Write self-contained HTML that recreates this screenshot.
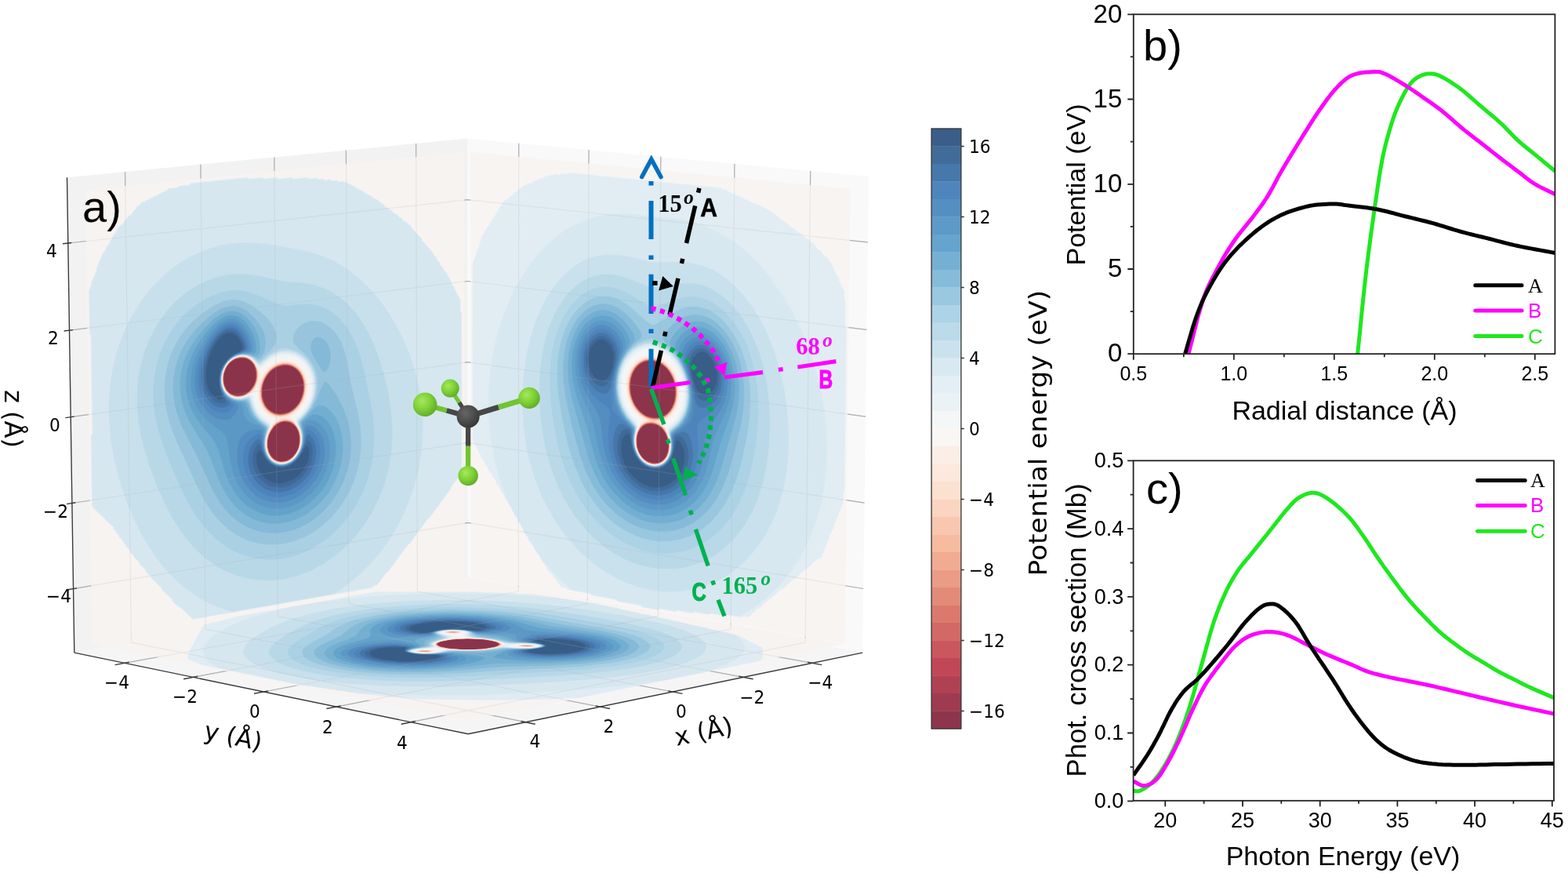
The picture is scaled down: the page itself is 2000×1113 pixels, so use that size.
<!DOCTYPE html>
<html><head><meta charset="utf-8"><title>figure</title>
<style>html,body{margin:0;padding:0;background:#fff;}svg{display:block}</style></head>
<body><svg xmlns="http://www.w3.org/2000/svg" width="2000" height="1113" viewBox="0 0 2000 1113">
<rect width="2000" height="1113" fill="#fff"/>
<path d="M85.5,226.2 L596.1,176.5 L596.8,742.5 L94.8,832.1Z" fill="#f2f2f2" />
<path d="M596.1,176.5 L1108.0,224.9 L1100.2,832.1 L596.8,742.5Z" fill="#f9f9f9" />
<path d="M94.8,832.1 L597.2,935.8 L1100.2,832.1 L596.8,742.5Z" fill="#f5f5f5" />
<path d="M532.4,754.0 L530.6,182.9 M93.5,750.7 L596.7,666.3 M661.3,754.0 L661.7,182.7 M596.7,666.3 L1101.2,750.5 M532.4,754.0 L1035.9,845.3 M661.3,754.0 L158.9,845.4 M444.6,769.7 L441.4,191.5 M91.9,641.5 L596.6,564.3 M749.3,769.6 L751.0,191.1 M596.6,564.3 L1102.6,641.1 M444.6,769.7 L948.2,863.4 M749.3,769.6 L246.4,863.4 M354.5,785.7 L349.8,200.5 M90.2,531.7 L596.5,461.7 M839.5,785.7 L842.8,199.8 M596.5,461.7 L1104.1,531.1 M354.5,785.7 L858.1,882.0 M839.5,785.7 L336.3,882.0 M262.2,802.2 L255.9,209.6 M88.5,421.2 L596.3,358.5 M932.1,802.2 L936.9,208.7 M596.3,358.5 L1105.5,420.3 M262.2,802.2 L765.5,901.1 M932.1,802.2 L428.9,901.1 M167.5,819.1 L159.5,219.0 M86.8,310.0 L596.2,254.7 M1027.2,819.1 L1033.7,217.9 M596.2,254.7 L1106.9,308.9 M167.5,819.1 L670.4,920.7 M1027.2,819.1 L524.0,920.7" stroke="#b0b0b0" stroke-width="1.2" fill="none"/>
<g stroke-width="0.8" stroke-linejoin="round">
<path fill="#8a334a" stroke="#8a334a" d="M365.5,587.6 357.5,588.6 355.9,587.4 353.6,587.4 352.7,586.5 350.8,585.9 344.6,579.7 344.2,577.6 342.8,575.9 342.3,572.2 341.2,570.5 341.3,561.1 342.4,559.1 342.7,555.3 346.0,548.9 350.6,543.0 352.3,542.3 353.9,540.4 357.1,539.6 359.9,537.9 363.3,537.4 365.1,538.2 369.3,538.4 373.1,540.9 374.7,541.3 376.4,543.0 378.2,546.4 379.5,547.7 379.9,549.9 381.3,551.5 381.8,558.9 381.4,568.3 378.3,576.2 373.4,582.6 371.8,583.2 370.6,584.8 367.1,586.2ZM368.2,525.7 353.8,527.7 352.2,526.5 349.4,526.3 345.8,523.8 344.2,523.4 340.7,520.0 337.7,515.3 337.1,513.0 335.8,511.3 335.4,507.6 334.4,506.2 334.1,504.0 334.2,494.6 335.3,492.6 335.6,488.8 337.0,486.7 337.4,484.3 342.2,476.5 347.0,471.9 353.8,467.5 366.1,465.6 369.4,466.9 371.6,467.0 372.6,468.0 374.2,468.3 380.6,473.2 384.0,478.4 384.3,480.3 385.4,481.4 386.0,485.6 387.0,487.3 387.2,489.2 387.1,498.8 386.1,500.5 385.6,505.0 384.5,506.4 384.2,508.3 382.4,512.0 377.7,518.6 376.1,519.5 372.6,523.0 369.8,524.0ZM310.1,503.8 301.4,504.8 300.3,503.7 296.8,503.6 295.4,502.2 292.1,500.6 290.5,499.0 288.8,497.1 288.5,495.3 287.2,493.9 286.8,491.7 285.5,489.6 285.2,478.6 285.4,476.5 286.6,474.7 286.9,472.2 288.1,470.7 288.4,468.7 293.4,462.2 295.0,461.6 296.2,460.1 298.3,459.4 299.9,457.6 311.3,456.1 312.9,457.3 315.6,457.6 318.1,459.1 324.3,465.7 324.6,467.7 326.0,469.9 326.5,478.7 326.1,485.5 322.9,492.8 318.1,498.9 316.5,499.4 315.3,501.0 311.7,502.4Z"/>
<path fill="#9c384d" stroke="#9c384d" d="M365.5,587.7 357.5,588.8 355.9,587.8 352.8,587.5 350.4,586.0 344.6,580.0 343.0,576.9 341.1,570.5 341.2,560.4 342.0,559.2 342.8,554.7 346.0,548.6 350.3,543.0 353.9,540.2 357.1,539.1 358.7,538.0 363.5,537.2 370.0,538.3 374.7,541.1 377.9,544.6 381.4,551.5 382.5,560.7 381.3,569.7 378.1,576.7 373.4,582.8 371.8,583.6 370.2,585.2ZM366.2,587.3 367.1,586.2 370.2,585.0 371.8,583.2 373.6,582.5 378.1,576.5 378.7,574.3 379.7,573.0 380.3,570.3 381.4,568.3 381.9,560.8 381.3,551.5 379.9,549.9 379.5,547.7 378.2,546.4 376.4,543.0 374.7,541.3 373.1,540.9 369.3,538.4 365.1,538.2 363.3,537.4 361.9,537.5 359.9,537.9 357.1,539.6 353.9,540.4 352.3,542.3 350.7,542.8 344.4,551.4 344.1,553.3 342.7,555.3 342.4,559.1 341.2,561.2 341.2,570.5 342.3,572.2 342.8,575.9 344.2,577.6 344.6,579.7 350.8,585.9 352.7,586.5 353.6,587.4 355.9,587.4 357.5,588.6ZM368.2,525.9 360.2,527.6 353.8,528.0 349.0,526.5 344.2,523.7 340.4,520.1 337.7,515.9 335.6,511.4 333.9,504.1 334.0,494.7 335.4,488.8 339.0,480.8 342.2,476.2 348.9,470.1 353.3,467.5 359.7,466.0 366.1,465.4 372.2,466.9 377.4,469.9 380.6,472.9 385.4,480.9 387.4,489.2 387.1,499.8 385.6,505.6 382.6,512.2 377.7,518.9 373.0,523.1ZM368.8,525.4 369.8,524.0 372.6,523.0 376.1,519.5 377.7,518.6 381.1,514.3 384.0,508.8 384.5,506.4 385.8,504.3 386.1,500.5 387.2,498.5 387.0,487.3 386.0,485.6 385.6,481.9 384.3,480.3 383.8,478.0 379.1,471.6 374.6,468.5 372.6,468.0 371.6,467.0 369.4,466.9 366.1,465.6 354.9,467.1 351.8,469.2 349.5,470.0 342.2,476.5 337.4,484.3 337.0,486.7 335.6,488.8 335.3,492.6 334.2,494.6 334.4,506.2 335.4,507.6 335.8,511.3 337.1,513.0 337.7,515.3 340.7,520.0 344.2,523.4 345.8,523.8 349.4,526.3 352.2,526.5 353.8,527.7 361.8,526.9ZM310.1,504.0 300.8,504.9 298.7,503.9 297.0,503.9 295.4,502.5 293.8,502.2 290.5,499.2 288.7,497.1 285.4,490.0 285.1,478.7 285.3,476.0 286.3,474.7 288.2,468.8 293.4,462.0 299.9,457.5 311.2,455.9 316.3,457.5 320.3,460.7 324.3,465.4 324.9,467.7 326.1,469.4 327.0,478.7 326.2,486.3 322.9,493.2 318.1,499.2ZM310.8,503.5 311.7,502.4 314.9,501.3 316.5,499.4 318.1,498.9 322.9,492.8 326.1,485.5 326.5,478.7 326.0,469.9 324.6,467.7 324.3,465.7 318.1,459.1 315.6,457.6 312.9,457.3 311.3,456.1 299.9,457.6 298.3,459.4 296.2,460.1 295.0,461.6 293.4,462.2 288.4,468.7 288.1,470.7 286.9,472.2 286.6,474.7 285.4,476.5 285.2,478.6 285.5,489.6 286.8,491.7 287.2,493.9 288.5,495.3 288.8,497.1 291.9,500.5 295.4,502.2 296.8,503.6 300.3,503.7 301.4,504.8Z"/>
<path fill="#ad3e50" stroke="#ad3e50" d="M367.1,587.3 357.5,588.9 352.7,587.6 350.1,586.0 347.9,584.3 344.6,580.3 343.0,577.4 340.9,570.6 341.0,561.2 342.4,555.4 344.4,550.8 350.7,542.4 353.9,540.0 358.7,537.8 361.9,537.1 365.1,537.0 369.9,538.0 373.1,539.7 376.3,542.4 378.1,544.6 381.1,550.3 382.8,558.1 382.8,562.0 381.7,568.2 379.7,574.2 374.0,582.4ZM366.9,587.2 373.4,582.8 378.5,576.2 381.3,569.7 382.4,558.8 381.1,550.7 380.2,549.8 379.9,548.0 377.9,544.6 376.3,542.6 374.7,541.1 369.9,538.2 364.6,537.2 361.9,537.3 358.7,538.0 357.1,539.1 353.9,540.2 352.3,541.8 350.7,542.6 344.4,551.1 343.8,553.3 342.5,555.4 342.0,559.2 341.1,561.2 341.1,570.5 343.0,576.9 344.6,580.0 350.4,586.0 352.8,587.5 355.9,587.8 357.5,588.8ZM369.8,525.3 368.2,526.1 360.2,528.1 353.8,528.2 348.4,526.4 343.5,523.4 338.9,518.4 336.0,513.2 333.9,506.0 333.7,496.6 334.2,492.7 336.7,484.9 340.0,478.8 343.8,474.2 348.5,470.0 353.3,467.2 359.7,465.6 367.7,465.3 372.6,466.8 377.4,469.6 381.1,473.2 383.8,477.1 386.0,481.9 387.4,487.3 387.6,498.5 386.2,504.3 384.0,509.9 381.6,514.2 377.7,519.2 373.0,523.3ZM369.3,525.3 373.0,523.1 377.7,518.9 381.4,514.3 384.0,509.3 386.0,504.3 387.4,498.5 387.0,486.4 385.4,480.9 382.2,475.0 379.0,471.2 375.0,468.4 372.2,466.9 366.1,465.4 354.9,466.9 348.9,470.1 343.8,474.4 340.3,478.8 337.4,483.9 335.4,488.8 334.0,494.7 333.9,502.2 334.4,507.2 336.0,512.6 339.1,518.4 343.7,523.3 348.7,526.4 353.8,528.0 361.8,527.4ZM311.7,503.5 301.9,505.2 297.1,504.0 293.8,502.3 288.5,497.1 285.5,490.7 285.0,488.1 285.0,476.8 288.5,468.0 292.8,462.5 295.2,460.3 299.9,457.3 306.4,456.0 312.9,456.0 316.5,457.4 320.7,460.7 324.3,465.1 326.2,469.4 327.4,476.7 326.4,486.3 324.5,490.9 318.9,498.6ZM311.6,503.4 318.7,498.7 324.5,490.5 326.2,486.3 327.0,476.8 326.1,469.4 324.9,467.7 324.3,465.4 320.3,460.7 316.3,457.5 311.2,455.9 299.9,457.5 293.0,462.5 288.5,468.2 286.9,471.7 286.3,474.7 285.2,476.8 285.0,482.5 285.4,490.0 286.6,491.7 287.2,494.3 288.1,495.3 288.8,497.3 293.7,502.1 295.4,502.5 297.0,503.9 298.7,503.9 301.9,505.1Z"/>
<path fill="#c04454" stroke="#c04454" d="M367.1,587.5 362.3,588.7 357.5,589.1 352.7,587.8 349.8,586.1 346.2,582.9 343.0,577.9 340.8,570.6 340.7,563.1 341.2,559.3 342.8,554.0 346.0,548.0 349.8,543.1 353.9,539.7 358.7,537.6 361.9,536.9 365.1,536.8 369.9,537.7 375.4,541.2 378.3,544.5 381.1,549.9 382.8,556.9 382.8,563.4 381.4,570.1 379.7,574.5 374.2,582.4 371.7,584.6ZM367.4,587.1 374.0,582.4 379.7,574.2 381.7,568.2 382.8,562.0 382.8,558.1 381.1,550.3 378.1,544.6 376.3,542.4 373.1,539.7 369.9,538.0 365.1,537.0 361.9,537.1 358.7,537.8 353.9,540.0 350.7,542.4 344.4,550.8 342.4,555.4 341.0,561.2 340.9,570.6 343.0,577.4 344.6,580.3 348.0,584.5 352.5,587.5 357.5,588.9 363.9,588.2ZM361.8,528.3 353.8,528.4 349.0,527.0 344.2,524.2 340.9,521.2 337.6,516.7 335.1,511.4 333.7,506.0 333.5,496.6 335.0,488.9 336.5,484.9 339.8,478.8 343.8,473.9 348.5,469.8 353.3,467.0 359.7,465.3 366.1,464.9 372.5,466.5 375.8,468.3 379.0,470.7 382.7,474.9 385.5,480.1 387.3,485.5 387.8,489.1 387.9,496.6 387.4,500.4 385.6,506.7 383.1,512.2 378.7,518.4 374.0,522.8 369.8,525.5ZM369.9,525.2 373.0,523.3 377.7,519.2 381.6,514.2 384.0,509.9 386.2,504.3 387.6,498.5 387.4,487.3 386.0,481.9 383.8,477.1 381.1,473.2 377.4,469.6 372.6,466.8 367.7,465.3 359.7,465.6 353.3,467.2 348.5,470.0 343.8,474.2 340.0,478.8 336.7,484.9 334.2,492.7 333.7,496.6 333.9,506.0 336.0,513.2 338.9,518.4 343.5,523.4 348.4,526.4 353.8,528.2 360.2,528.1 368.2,526.1ZM311.7,503.7 301.9,505.4 297.1,504.2 293.8,502.5 288.4,497.2 285.5,491.2 284.9,488.2 284.9,476.8 286.9,470.8 288.5,467.7 292.5,462.5 295.0,460.2 299.9,457.2 306.4,455.7 312.9,455.8 316.8,457.4 321.0,460.6 324.9,465.8 326.4,469.3 327.6,475.5 327.7,479.7 326.5,486.3 324.5,491.2 319.2,498.6 316.5,500.9ZM312.1,503.3 318.9,498.6 324.5,490.9 326.4,486.3 327.4,476.7 326.2,469.4 324.3,465.1 320.7,460.7 316.5,457.4 312.9,456.0 306.4,456.0 299.9,457.3 295.2,460.3 292.8,462.5 288.5,468.0 285.0,476.8 285.0,488.1 285.5,490.7 288.5,497.1 293.8,502.3 297.1,504.0 301.9,505.2 310.1,504.1Z"/>
<path fill="#c8545b" stroke="#c8545b" d="M367.1,587.6 362.3,588.9 357.5,589.2 352.7,588.0 349.5,586.1 346.0,582.9 343.0,578.2 340.7,570.6 340.6,563.1 341.1,559.3 342.8,553.6 346.0,547.7 349.5,543.1 353.9,539.5 358.7,537.3 361.9,536.6 365.1,536.5 369.9,537.5 373.1,539.2 375.6,541.2 378.4,544.5 381.1,549.5 382.9,556.9 382.8,564.5 381.6,570.1 379.7,574.7 374.4,582.3 371.8,584.7ZM367.8,587.1 374.2,582.4 379.9,574.1 381.4,570.1 382.8,563.4 382.8,556.9 381.1,549.9 378.3,544.5 375.4,541.2 369.9,537.7 365.1,536.8 361.9,536.9 358.7,537.6 353.9,539.7 349.8,543.1 346.0,548.0 342.8,554.0 341.2,559.3 340.7,563.1 340.8,570.6 342.9,577.7 344.6,580.7 347.9,584.6 352.2,587.6 356.1,588.8 359.1,589.0 365.5,588.0ZM363.4,528.2 358.6,528.9 352.2,528.3 345.8,525.6 340.9,521.6 337.3,516.7 334.4,509.6 333.3,504.2 333.3,496.6 334.8,488.9 336.3,484.9 339.5,478.9 343.7,473.6 348.5,469.5 353.3,466.7 359.7,464.9 366.1,464.7 372.5,466.3 375.8,468.0 379.0,470.4 382.9,474.8 385.7,480.1 387.5,485.4 388.0,489.1 388.1,496.5 386.1,506.1 383.3,512.1 380.6,516.2 377.7,519.7 373.0,523.8 368.2,526.6ZM362.6,528.1 368.2,526.4 373.0,523.6 379.3,517.6 383.1,512.2 385.8,506.2 387.9,496.6 387.8,489.1 387.3,485.5 385.5,480.1 382.7,474.9 379.0,470.7 375.8,468.3 372.5,466.5 366.1,464.9 359.7,465.3 353.3,467.0 348.5,469.8 343.8,473.9 339.8,478.8 336.5,484.9 335.0,488.9 333.5,496.6 333.7,506.0 335.1,511.4 337.6,516.7 340.9,521.2 345.8,525.3 352.2,528.1 358.6,528.6ZM311.7,503.9 306.8,505.1 302.0,505.5 297.1,504.4 293.8,502.7 288.2,497.2 285.5,491.6 284.7,488.2 284.4,482.6 284.8,476.8 286.7,470.9 288.5,467.5 292.3,462.5 295.0,460.0 299.9,457.0 306.4,455.5 312.9,455.7 317.0,457.4 321.0,460.4 325.0,465.7 326.6,469.3 327.8,474.8 327.8,480.4 326.7,486.2 324.5,491.6 319.5,498.5 316.5,501.1ZM312.6,503.3 319.2,498.6 324.5,491.2 326.5,486.3 327.7,479.7 327.6,475.5 326.4,469.3 324.9,465.8 321.0,460.6 316.8,457.4 312.9,455.8 306.4,455.7 299.9,457.2 295.0,460.2 292.5,462.5 288.5,467.7 286.9,470.8 284.9,476.8 284.9,488.2 285.5,491.2 288.4,497.2 293.8,502.5 297.1,504.2 301.9,505.4 310.1,504.3Z"/>
<path fill="#d06764" stroke="#d06764" d="M368.7,586.9 365.5,588.4 359.1,589.4 355.9,589.1 351.7,587.6 347.9,585.0 344.6,581.2 342.6,577.8 340.6,570.6 340.4,563.2 340.9,559.3 342.7,553.5 346.0,547.4 349.3,543.1 352.3,540.4 357.1,537.7 361.9,536.4 365.1,536.3 369.9,537.3 373.1,538.9 375.8,541.2 378.6,544.5 381.1,549.1 383.1,556.9 383.0,564.3 381.7,570.1 380.2,574.0 378.1,577.7 374.6,582.3ZM368.3,587.0 374.4,582.3 378.1,577.5 380.1,574.1 381.6,570.1 382.8,564.3 382.9,556.9 381.1,549.5 378.4,544.5 375.6,541.2 373.1,539.2 369.9,537.5 365.1,536.5 361.9,536.6 358.7,537.3 353.9,539.5 349.5,543.1 346.0,547.7 342.8,553.6 341.1,559.3 340.6,563.1 340.7,570.6 343.0,578.2 346.0,582.9 349.5,586.1 352.7,588.0 357.5,589.2 363.9,588.6ZM365.0,528.0 360.2,529.1 353.8,528.9 349.0,527.5 344.2,524.8 340.9,521.9 337.0,516.8 334.1,509.7 333.0,502.3 333.2,494.8 334.6,488.9 336.9,483.0 340.8,476.8 345.3,471.8 351.7,467.3 358.1,464.9 362.9,464.3 367.7,464.6 372.5,466.0 377.4,468.8 380.4,471.4 383.1,474.8 386.0,480.0 387.7,485.4 388.4,490.9 388.2,498.4 387.4,502.2 384.6,510.1 382.5,513.9 379.2,518.3 374.6,522.9 369.8,526.1ZM364.6,527.8 368.2,526.6 373.0,523.8 377.7,519.7 382.1,514.2 384.4,510.1 387.2,502.3 388.0,498.4 388.1,490.9 387.5,485.4 385.7,480.1 382.9,474.8 380.1,471.5 377.4,469.0 372.5,466.3 367.7,464.8 361.3,464.7 354.9,466.2 351.7,467.6 345.3,472.1 341.0,476.8 337.2,482.9 334.8,488.9 333.4,494.7 333.2,502.3 333.8,507.8 335.5,513.2 339.3,519.7 344.2,524.5 349.0,527.3 353.8,528.6 360.2,528.8ZM313.3,503.3 308.4,505.0 302.0,505.7 295.4,503.8 292.1,501.6 288.8,498.3 287.0,495.5 284.9,490.1 284.2,482.6 284.7,476.8 286.6,470.9 288.5,467.3 292.1,462.6 295.0,459.9 299.9,456.9 304.7,455.4 312.9,455.5 316.1,456.7 319.6,458.9 323.0,462.3 325.2,465.7 326.8,469.3 328.0,474.8 327.7,482.3 325.5,490.2 321.3,496.8 318.1,500.0ZM313.0,503.2 319.5,498.5 322.9,494.3 325.3,490.2 326.7,486.2 327.7,481.2 327.8,474.8 326.6,469.3 325.0,465.7 322.8,462.3 319.4,458.9 316.1,456.9 312.9,455.7 304.7,455.7 299.9,457.0 295.0,460.0 292.3,462.5 288.5,467.5 286.7,470.9 284.8,476.8 284.4,484.4 285.0,490.0 287.2,495.4 288.8,498.0 292.1,501.4 295.6,503.7 302.0,505.5 310.1,504.5Z"/>
<path fill="#d8776b" stroke="#d8776b" d="M368.7,587.1 365.5,588.5 359.1,589.5 355.9,589.3 351.5,587.7 347.9,585.2 344.4,581.3 342.5,577.8 340.4,570.6 340.2,565.1 340.8,559.4 342.5,553.5 345.7,547.4 349.1,543.0 352.3,540.1 357.1,537.5 361.9,536.2 365.1,536.1 369.9,537.1 373.1,538.6 376.3,541.4 378.8,544.5 381.5,549.7 383.2,556.8 383.1,564.3 381.9,570.1 380.3,574.0 378.1,578.0 374.8,582.3ZM368.7,586.9 374.6,582.3 378.1,577.7 380.2,574.0 381.7,570.1 383.0,564.3 383.1,556.9 381.1,549.1 378.6,544.5 375.8,541.2 373.1,538.9 369.9,537.3 365.1,536.3 361.9,536.4 357.1,537.7 352.3,540.4 349.3,543.1 346.0,547.4 342.7,553.5 340.9,559.3 340.4,563.2 340.6,570.6 342.6,577.8 344.6,581.2 347.9,585.0 351.7,587.6 355.9,589.1 359.1,589.4 365.5,588.4ZM366.6,527.7 361.8,529.1 357.0,529.4 352.2,528.8 345.8,526.2 340.6,521.9 336.8,516.8 333.9,509.7 332.9,504.2 332.9,496.7 333.8,490.9 336.7,483.0 340.5,476.9 343.7,473.0 348.5,468.9 353.3,466.3 361.3,464.1 369.3,464.6 375.7,467.4 379.0,469.8 383.4,474.8 386.2,480.0 387.9,485.4 388.4,489.0 388.6,494.6 388.1,500.3 386.5,506.1 383.8,512.1 380.9,516.6 376.1,521.8 371.4,525.4ZM365.9,527.7 369.8,526.1 376.1,521.6 380.9,516.2 383.6,512.1 386.3,506.1 387.9,500.3 388.4,494.6 388.2,489.0 387.7,485.4 386.0,480.0 383.1,474.8 379.0,470.1 375.7,467.7 369.3,464.9 361.3,464.4 353.3,466.5 348.5,469.2 343.7,473.3 340.6,477.1 336.9,483.0 334.6,488.9 333.2,494.8 333.1,504.2 334.1,509.7 337.0,516.8 340.9,521.9 344.2,524.8 349.0,527.5 353.8,528.9 360.2,529.1ZM313.3,503.5 310.1,504.8 303.6,505.8 300.3,505.7 295.4,504.0 292.1,501.8 288.8,498.5 286.9,495.5 284.7,490.1 284.0,482.6 284.5,476.8 286.5,470.9 288.5,467.0 291.9,462.6 295.0,459.7 299.9,456.7 304.7,455.2 308.0,454.9 312.9,455.3 316.1,456.5 319.4,458.5 323.2,462.2 325.4,465.7 327.9,472.9 328.2,480.4 327.1,486.2 325.7,490.2 321.4,497.1 316.5,501.5ZM313.5,503.1 318.1,500.0 321.3,496.8 325.5,490.2 327.7,482.3 328.0,474.8 326.8,469.3 325.2,465.7 323.0,462.3 319.6,458.9 316.1,456.7 312.9,455.5 304.7,455.4 299.9,456.9 295.0,459.9 292.1,462.6 288.5,467.3 286.6,470.9 284.7,476.8 284.2,482.6 284.9,490.1 287.0,495.5 288.8,498.3 292.1,501.6 295.4,503.8 302.0,505.7 308.4,505.0Z"/>
<path fill="#e08876" stroke="#e08876" d="M368.7,587.3 363.9,589.1 359.1,589.7 355.9,589.4 351.2,587.7 347.9,585.4 344.3,581.3 342.4,577.8 340.3,570.7 340.0,565.1 340.6,559.4 342.4,553.5 345.5,547.4 349.1,542.7 352.3,539.9 357.1,537.2 361.9,536.0 366.7,536.0 369.9,536.8 373.1,538.4 376.3,541.2 379.0,544.4 381.7,549.6 383.4,556.8 383.3,564.3 382.0,570.0 380.5,574.0 378.3,578.0 375.0,582.3ZM369.0,586.9 374.8,582.3 378.1,578.0 380.3,574.0 381.9,570.1 383.1,564.3 383.2,556.8 381.5,549.7 378.8,544.5 376.3,541.4 373.1,538.6 369.9,537.1 365.1,536.1 361.9,536.2 357.1,537.5 352.3,540.1 349.1,543.0 345.7,547.4 342.5,553.5 340.8,559.4 340.2,565.1 340.4,570.6 342.5,577.8 344.4,581.3 347.9,585.2 351.5,587.7 355.9,589.3 359.1,589.5 365.5,588.5ZM366.6,528.0 360.2,529.6 355.4,529.6 350.6,528.7 347.4,527.4 342.6,524.2 338.8,520.3 335.6,515.1 333.6,509.7 332.5,502.4 332.5,498.6 333.5,491.0 336.4,483.0 340.1,476.9 345.3,471.2 350.1,467.7 356.5,464.8 361.3,463.8 367.7,464.1 372.5,465.4 375.7,467.1 380.6,470.9 384.8,476.5 386.5,480.0 388.1,485.3 388.9,490.8 388.7,496.4 387.9,502.2 386.0,508.0 382.9,514.0 379.3,519.0 374.6,523.5ZM367.0,527.5 371.4,525.4 376.1,521.8 380.9,516.6 383.8,512.1 386.5,506.1 388.1,500.3 388.6,494.6 388.4,489.0 387.9,485.4 386.2,480.0 383.4,474.8 379.0,469.8 375.7,467.4 369.3,464.6 361.3,464.1 353.3,466.3 348.5,468.9 343.7,473.0 340.5,476.9 336.7,483.0 333.8,490.9 332.9,496.7 332.9,504.2 333.9,509.7 336.8,516.8 340.6,521.9 345.8,526.2 352.2,528.8 357.0,529.4 361.8,529.1ZM313.3,503.7 308.5,505.4 303.6,506.0 300.3,505.8 295.4,504.2 292.1,502.0 288.8,498.7 286.7,495.5 284.6,490.1 283.8,482.6 284.4,476.9 286.3,470.9 288.5,466.8 291.7,462.6 295.0,459.5 299.9,456.6 304.7,455.0 308.0,454.7 312.9,455.2 316.1,456.3 319.4,458.3 321.9,460.5 324.5,463.9 326.4,467.4 328.1,472.9 328.5,476.6 328.2,482.3 326.7,488.1 324.9,492.1 319.7,499.1ZM313.9,503.1 318.1,500.2 321.4,497.1 325.7,490.2 327.1,486.2 328.2,480.4 327.9,472.9 325.4,465.7 323.2,462.2 319.4,458.5 316.1,456.5 312.9,455.3 308.0,454.9 304.7,455.2 299.9,456.7 295.0,459.7 291.9,462.6 288.5,467.0 286.5,470.9 284.5,476.8 284.0,482.6 284.7,490.1 286.9,495.5 288.8,498.5 292.1,501.8 295.4,504.0 300.3,505.7 303.6,505.8 310.1,504.8Z"/>
<path fill="#e89984" stroke="#e89984" d="M368.7,587.5 363.9,589.3 359.1,589.9 355.9,589.6 351.1,587.8 347.9,585.6 344.1,581.3 342.2,577.9 340.2,570.7 339.9,565.1 340.5,559.4 342.2,553.5 345.3,547.5 349.1,542.4 352.3,539.6 357.1,537.0 361.9,535.8 366.7,535.7 369.9,536.6 373.1,538.1 376.3,540.9 379.1,544.4 381.1,548.0 382.4,551.4 383.5,556.8 383.4,564.3 382.1,570.0 380.6,574.0 378.5,578.0 375.2,582.2 371.8,585.4ZM369.4,586.8 375.0,582.3 378.3,578.0 380.5,574.0 382.0,570.0 383.3,564.3 383.1,555.0 381.7,549.6 380.0,546.1 374.7,539.6 371.5,537.5 368.3,536.4 361.9,536.0 357.1,537.2 352.3,539.9 349.1,542.7 345.5,547.4 342.4,553.5 340.6,559.4 340.0,565.1 340.3,570.7 342.4,577.8 344.3,581.3 347.9,585.4 351.2,587.7 355.9,589.4 359.1,589.7 365.5,588.7ZM368.2,527.6 361.8,529.6 355.4,529.9 350.6,529.0 344.2,525.8 339.9,522.0 336.3,516.9 333.9,511.6 332.4,504.3 332.2,498.7 333.3,491.0 336.1,483.1 339.8,476.9 343.7,472.3 350.1,467.3 356.5,464.5 361.3,463.5 366.1,463.5 370.9,464.5 375.7,466.8 379.7,469.7 382.8,473.0 386.0,478.2 388.0,483.5 389.0,489.0 389.2,494.5 388.2,502.1 386.3,508.0 384.4,512.0 381.9,516.1 377.7,521.0 374.6,523.8ZM368.0,527.4 371.4,525.7 376.1,522.1 379.3,519.0 382.9,514.0 386.0,508.0 387.9,502.2 388.7,496.4 388.9,490.8 388.1,485.3 386.5,480.0 384.8,476.5 380.6,470.9 375.7,467.1 372.5,465.4 367.7,464.1 361.3,463.8 356.5,464.8 350.1,467.7 345.3,471.2 340.1,476.9 336.4,483.0 333.5,491.0 332.5,498.6 332.7,504.2 333.6,509.7 336.5,516.9 340.2,522.0 345.8,526.5 350.6,528.7 357.0,529.7 363.4,529.0ZM306.8,506.0 302.0,506.2 298.7,505.6 293.8,503.4 290.5,500.8 287.6,497.3 285.0,491.9 283.8,486.4 283.6,482.7 284.3,476.9 286.2,470.9 288.3,466.9 291.5,462.6 295.0,459.4 298.2,457.2 303.1,455.3 308.0,454.5 312.9,455.0 316.1,456.2 319.4,458.1 322.7,461.1 324.7,463.9 327.3,469.2 328.3,472.8 328.8,478.4 328.4,482.2 326.9,488.1 325.2,492.1 322.5,496.2 316.5,501.9 311.7,504.6ZM314.4,503.0 318.1,500.4 321.4,497.4 325.9,490.1 327.3,486.2 328.4,480.4 328.1,472.9 326.4,467.4 324.5,463.9 321.9,460.5 319.4,458.3 316.1,456.3 312.9,455.2 308.0,454.7 304.7,455.0 299.9,456.6 295.0,459.5 291.7,462.6 288.5,466.8 286.3,470.9 284.4,476.9 283.8,482.6 284.6,490.1 286.7,495.5 288.8,498.7 292.1,502.0 295.4,504.2 300.3,505.8 305.2,505.9 310.1,505.0Z"/>
<path fill="#efa890" stroke="#efa890" d="M362.3,589.8 357.5,590.0 352.7,588.8 348.4,586.3 345.2,583.0 342.1,577.9 340.8,574.3 339.9,568.9 339.8,563.2 340.3,559.4 342.0,553.6 345.1,547.5 349.1,542.0 352.3,539.3 357.1,536.7 361.9,535.5 366.7,535.5 371.5,536.9 374.7,539.0 379.3,544.4 382.0,549.6 383.0,553.2 383.7,562.4 381.6,572.0 379.8,576.0 376.6,580.9 371.8,585.6 368.7,587.6ZM369.8,586.8 373.4,584.0 376.6,580.7 380.6,574.0 382.1,570.0 383.4,564.3 383.3,555.0 381.8,549.6 380.2,546.1 374.7,539.4 371.5,537.2 368.3,536.0 365.1,535.6 360.3,536.1 355.5,537.6 352.3,539.6 347.5,544.2 344.1,549.5 341.5,555.5 340.1,561.3 339.9,567.0 340.5,572.5 342.2,577.9 345.3,583.0 348.6,586.2 352.7,588.6 355.9,589.6 360.7,589.8 365.5,588.8ZM368.2,528.0 361.8,529.9 355.4,530.3 349.0,528.7 344.2,526.2 339.6,522.1 337.0,518.7 333.6,511.6 332.1,504.3 332.0,496.8 333.5,489.1 336.8,481.1 339.4,477.0 343.7,471.9 350.1,467.0 354.9,464.7 361.3,463.2 366.1,463.2 370.9,464.2 377.3,467.4 380.1,469.6 383.1,472.9 386.3,478.1 388.2,483.5 389.3,488.9 389.3,496.4 388.4,502.1 384.7,511.9 382.2,516.0 377.7,521.4 373.0,525.3ZM368.9,527.2 374.6,523.8 377.7,521.0 381.9,516.1 384.4,512.0 386.3,508.0 388.2,502.1 389.2,494.5 389.0,489.0 388.0,483.5 386.0,478.2 382.8,473.0 379.7,469.7 375.7,466.8 370.9,464.5 366.1,463.5 361.3,463.5 356.5,464.5 350.1,467.3 343.7,472.3 339.8,476.9 336.1,483.1 333.3,491.0 332.2,498.7 332.4,504.3 333.9,511.6 336.3,516.9 339.9,522.0 344.2,525.8 350.6,529.0 355.4,529.9 361.8,529.6ZM308.5,505.8 303.6,506.4 298.7,505.8 293.8,503.6 290.5,501.0 287.4,497.3 284.9,492.0 283.7,486.4 283.5,482.7 284.2,476.9 286.0,471.0 288.2,466.9 291.3,462.7 295.0,459.2 298.2,457.1 303.1,455.1 308.0,454.3 312.9,454.8 316.1,456.0 319.4,457.8 322.6,460.8 326.8,467.4 328.5,472.8 329.0,478.4 328.7,482.2 327.2,488.1 325.5,492.1 322.8,496.2 319.8,499.6 316.5,502.1 313.3,504.1ZM306.9,505.9 311.7,504.6 316.5,501.9 322.5,496.2 325.2,492.1 326.9,488.1 328.4,482.2 328.8,478.4 328.3,472.8 327.3,469.2 324.7,463.9 322.7,461.1 319.4,458.1 316.1,456.2 312.9,455.0 308.0,454.5 303.1,455.3 298.2,457.2 295.0,459.4 291.5,462.6 288.3,466.9 286.2,470.9 284.3,476.9 283.6,482.7 283.8,486.4 285.0,491.9 287.6,497.3 290.5,500.8 293.8,503.4 298.7,505.6 302.0,506.2Z"/>
<path fill="#f4b89e" stroke="#f4b89e" d="M363.9,589.6 360.7,590.2 355.9,589.9 351.1,588.2 347.9,586.0 344.6,582.6 341.9,577.9 340.2,572.5 339.6,567.0 340.2,559.4 341.9,553.6 344.4,548.4 347.5,543.6 350.7,540.2 353.9,537.9 358.7,535.9 363.5,535.0 368.3,535.4 371.5,536.6 374.7,538.6 377.9,542.0 382.2,549.6 383.6,554.9 383.9,560.5 382.4,570.0 380.9,573.9 378.2,578.9 375.0,582.9 371.8,585.7 368.7,587.8ZM362.8,589.7 367.1,588.4 370.3,586.6 373.4,584.2 377.2,580.1 381.6,572.0 383.7,562.4 383.0,553.2 382.0,549.6 379.3,544.4 374.7,539.0 371.5,536.9 366.7,535.5 361.9,535.5 357.1,536.7 352.3,539.3 349.1,542.0 345.1,547.5 342.0,553.6 340.3,559.4 339.8,563.2 339.9,568.9 340.8,574.3 342.1,577.9 345.2,583.0 348.4,586.3 352.7,588.8 357.5,590.0ZM361.8,530.2 355.4,530.6 349.0,529.1 344.2,526.6 339.2,522.1 335.6,517.0 333.3,511.7 331.7,504.4 331.7,496.9 333.2,489.1 335.5,483.2 339.0,477.0 343.7,471.5 348.5,467.6 354.9,464.3 359.7,463.2 366.1,462.8 372.5,464.4 377.3,466.9 382.0,471.2 384.7,474.6 387.3,479.8 388.9,485.2 389.7,490.7 389.7,496.3 388.2,504.0 386.9,507.9 385.1,511.9 380.9,518.3 377.7,521.8 373.0,525.7 368.2,528.4ZM369.8,527.1 373.0,525.3 377.7,521.4 382.2,516.0 384.7,511.9 387.9,504.0 389.1,498.3 389.5,492.6 389.0,487.1 386.3,478.1 383.1,472.9 378.9,468.6 374.1,465.5 370.9,464.2 366.1,463.2 359.7,463.4 353.3,465.4 346.9,469.1 342.1,473.6 338.0,479.1 334.9,485.1 333.0,491.0 331.9,498.7 332.3,506.2 333.6,511.6 337.0,518.7 340.9,523.5 345.8,527.2 350.6,529.3 357.0,530.3 363.4,529.6ZM310.1,505.5 305.2,506.6 300.3,506.3 295.4,504.8 292.1,502.7 288.8,499.5 286.2,495.6 284.2,490.2 283.4,484.6 283.7,478.9 285.1,473.0 286.9,469.0 290.1,463.9 293.4,460.4 298.2,456.9 303.1,454.9 308.0,454.2 312.9,454.7 316.1,455.8 319.4,457.6 322.5,460.4 325.2,463.8 327.0,467.4 328.8,472.8 329.1,476.5 328.6,484.1 326.7,490.0 324.5,494.1 321.4,498.3 318.1,501.2 313.3,504.3ZM308.9,505.7 313.3,504.1 318.1,500.9 321.4,498.0 324.3,494.1 327.2,488.1 328.3,484.1 328.9,476.5 328.5,472.8 326.8,467.4 325.0,463.9 322.3,460.5 319.4,457.8 316.1,456.0 312.9,454.8 308.0,454.3 303.1,455.1 298.2,457.1 293.5,460.5 290.1,464.1 286.9,469.1 284.6,474.9 283.6,480.8 283.5,484.6 284.3,490.1 286.4,495.5 288.8,499.2 292.1,502.5 295.4,504.6 300.3,506.2 305.2,506.4Z"/>
<path fill="#f6c4ad" stroke="#f6c4ad" d="M365.5,589.3 360.7,590.3 355.9,590.1 351.1,588.4 347.9,586.2 344.6,582.8 341.8,577.9 340.1,572.6 339.4,567.0 340.0,559.5 341.7,553.6 343.5,549.6 347.5,543.3 350.7,539.8 353.9,537.5 358.7,535.4 363.5,534.6 369.9,535.5 373.1,537.0 376.3,539.8 379.5,544.0 381.6,547.8 383.4,553.1 384.0,558.6 383.1,568.0 381.9,571.9 379.0,577.9 373.4,584.6 368.7,588.0ZM364.5,589.4 368.7,587.8 371.8,585.7 375.0,582.9 378.8,578.0 382.4,570.0 383.7,564.2 383.9,558.6 383.6,554.9 382.2,549.6 380.6,546.1 376.3,540.2 373.1,537.5 369.9,535.9 363.5,535.0 358.7,535.9 353.9,537.9 350.7,540.2 347.5,543.6 344.4,548.4 341.9,553.6 340.2,559.4 339.6,567.0 340.2,572.5 341.9,577.9 344.6,582.6 347.9,586.0 351.1,588.2 355.9,589.9 360.7,590.2ZM365.0,529.9 358.7,531.0 352.2,530.5 347.4,528.9 342.6,525.9 338.7,522.2 335.2,517.0 332.0,508.1 331.3,502.6 331.6,495.0 333.4,487.2 336.1,481.2 340.1,475.0 345.3,469.5 351.7,465.3 356.5,463.5 362.9,462.5 367.7,462.6 372.5,463.9 375.7,465.4 381.0,469.5 385.1,474.5 387.7,479.8 389.3,485.2 390.0,490.7 389.8,498.2 388.0,505.9 386.5,509.8 383.1,515.9 379.3,520.7 374.6,525.0 369.8,528.0ZM362.7,530.0 368.2,528.4 373.0,525.7 377.7,521.8 381.1,518.0 385.1,511.9 387.6,505.9 389.1,500.1 389.8,494.4 389.3,487.0 388.0,481.6 386.6,478.1 383.5,472.9 378.9,468.2 375.7,465.9 370.9,463.8 366.1,462.8 359.7,463.2 354.9,464.3 348.5,467.6 343.7,471.5 337.7,479.1 334.6,485.2 332.3,493.0 331.6,498.8 332.0,506.2 333.9,513.5 336.6,518.7 340.8,523.8 345.8,527.6 352.2,530.1 357.0,530.6ZM310.1,505.8 305.2,506.8 300.3,506.5 295.4,505.0 292.1,502.9 288.9,499.7 286.1,495.6 284.1,490.2 283.3,484.6 283.6,478.9 285.0,473.0 286.7,469.0 290.1,463.7 293.4,460.3 298.2,456.8 303.1,454.8 308.0,454.0 312.9,454.5 316.1,455.6 319.4,457.4 322.8,460.4 325.4,463.8 327.2,467.3 328.6,470.9 329.4,476.5 328.4,486.0 327.1,490.0 323.6,496.1 318.2,501.5 313.3,504.5ZM310.2,505.5 313.3,504.3 318.1,501.2 321.4,498.3 324.5,494.1 326.7,490.0 328.6,484.1 329.1,476.5 328.8,472.8 327.0,467.4 325.2,463.8 322.5,460.4 319.4,457.6 316.1,455.8 312.9,454.7 308.0,454.2 303.1,454.9 298.2,456.9 293.4,460.4 290.1,463.9 286.9,469.0 285.1,473.0 283.7,478.9 283.4,484.6 284.2,490.2 286.2,495.6 288.8,499.5 292.1,502.7 295.4,504.8 300.3,506.3 305.2,506.6Z"/>
<path fill="#f8d2be" stroke="#f8d2be" d="M365.5,589.5 360.7,590.5 355.9,590.3 351.1,588.6 347.8,586.4 344.6,583.1 341.6,577.9 339.9,572.6 339.2,567.1 339.6,561.4 340.8,555.6 343.3,549.6 347.5,542.7 350.7,539.4 353.9,537.1 358.7,535.0 363.5,534.2 366.7,534.3 371.5,535.7 376.3,539.5 380.0,544.3 381.8,547.7 383.5,553.1 384.2,558.6 383.3,568.0 382.1,571.9 379.2,577.9 373.4,584.8 370.3,587.2ZM365.5,589.3 368.7,588.0 373.4,584.6 379.0,577.9 381.9,571.9 383.1,568.0 384.0,558.6 383.4,553.1 381.6,547.8 379.5,544.0 376.3,539.8 373.1,537.0 369.9,535.5 363.5,534.6 358.7,535.4 353.9,537.5 350.7,539.8 347.5,543.3 343.5,549.6 341.7,553.6 340.0,559.5 339.4,567.0 340.1,572.6 341.8,577.9 344.6,582.8 347.9,586.2 351.1,588.4 355.9,590.1 360.7,590.3ZM366.6,529.9 358.7,531.6 352.2,531.0 347.4,529.5 342.6,526.5 336.8,520.6 333.8,515.4 331.9,510.0 330.9,502.6 331.5,493.1 333.0,487.3 336.7,479.2 338.9,475.8 342.1,472.0 348.5,466.7 353.3,464.1 361.3,462.0 367.7,462.2 372.5,463.5 377.3,465.9 381.6,469.4 384.4,472.8 388.2,479.7 389.7,485.1 390.4,490.6 389.5,501.9 387.8,507.8 384.9,513.8 380.9,519.5 377.7,522.9 371.4,527.7ZM365.8,529.5 369.8,528.0 376.2,523.7 383.1,515.9 386.5,509.8 388.0,505.9 389.8,498.2 390.0,490.7 389.3,485.2 387.7,479.8 385.1,474.5 381.0,469.5 375.7,465.4 372.5,463.9 367.7,462.6 361.3,462.5 354.9,464.0 348.5,467.1 343.7,471.0 338.5,477.1 335.0,483.2 332.9,489.2 331.4,496.9 331.4,504.4 332.4,509.9 335.2,517.0 338.7,522.2 342.6,525.9 349.0,529.6 353.8,530.8 360.3,530.9ZM311.7,505.4 306.8,506.8 302.0,506.9 297.1,505.8 292.1,503.1 288.9,500.0 285.9,495.6 284.4,492.0 283.3,486.5 283.2,480.8 284.2,475.0 286.6,469.0 289.1,464.9 291.7,461.6 296.6,457.6 301.5,455.1 306.4,453.9 309.6,453.8 314.5,454.7 317.7,456.1 321.3,458.7 324.4,462.1 326.6,465.5 328.9,470.9 329.9,476.4 328.8,486.0 325.4,494.0 323.0,497.5 319.8,500.6 314.9,503.9ZM311.1,505.4 318.2,501.5 321.9,498.2 325.0,494.0 328.4,486.0 329.4,476.5 328.6,470.9 327.2,467.3 325.4,463.8 322.6,460.3 319.4,457.4 314.5,454.9 309.6,454.0 306.4,454.1 301.5,455.3 296.6,457.7 291.7,461.8 289.2,464.8 286.7,469.0 284.4,475.0 283.3,480.8 283.4,486.5 284.6,492.0 286.1,495.6 288.9,499.7 292.1,502.9 295.4,505.0 300.3,506.5 305.2,506.8Z"/>
<path fill="#fbdecd" stroke="#fbdecd" d="M365.5,589.7 360.7,590.7 355.9,590.4 351.1,588.8 347.6,586.4 344.5,583.1 341.5,578.0 340.2,574.4 339.1,567.1 339.4,561.4 340.6,555.6 343.1,549.7 347.5,542.2 350.7,538.8 355.5,535.6 360.3,534.2 365.1,533.7 368.3,534.0 373.1,536.1 376.3,539.0 379.1,542.6 382.0,547.7 383.3,551.3 384.3,560.4 383.4,568.0 382.2,571.9 379.3,577.9 373.4,585.0 370.3,587.4ZM366.3,589.2 370.3,587.2 373.4,584.8 379.2,577.9 382.1,571.9 383.3,568.0 384.2,558.6 383.5,553.1 381.8,547.7 380.0,544.3 376.3,539.5 371.5,535.7 366.7,534.3 363.5,534.2 358.7,535.0 353.9,537.1 350.7,539.4 347.5,542.7 343.3,549.6 340.8,555.6 339.6,561.4 339.2,567.1 339.9,572.6 341.6,577.9 344.6,583.1 347.9,586.4 351.1,588.6 355.9,590.3 360.7,590.5ZM368.2,529.9 361.9,531.7 355.5,532.1 349.0,530.7 344.2,528.4 339.0,524.0 335.1,518.9 331.9,511.9 330.5,504.5 330.4,497.0 331.8,489.3 334.9,481.4 338.8,475.2 343.7,469.7 350.1,465.0 356.5,462.3 361.3,461.4 366.1,461.3 370.9,462.2 377.3,465.2 380.5,467.7 385.0,472.7 388.0,477.9 389.8,483.2 390.8,488.7 391.0,494.3 390.0,501.9 386.6,511.7 382.9,517.8 377.8,523.6 373.0,527.3ZM367.9,529.3 371.4,527.7 377.7,522.9 380.9,519.5 384.9,513.8 387.8,507.8 389.5,501.9 390.4,490.6 389.7,485.1 388.2,479.7 384.4,472.8 381.6,469.4 377.3,465.9 372.5,463.5 367.7,462.2 361.3,462.0 353.3,464.1 348.5,466.7 342.1,472.0 338.0,477.2 334.6,483.3 331.9,491.2 330.9,498.8 331.3,506.3 333.1,513.6 335.7,518.8 339.7,523.9 344.2,527.7 350.6,530.6 357.1,531.6 363.5,530.9ZM311.7,505.6 306.8,507.0 302.0,507.2 297.1,506.1 292.2,503.4 288.9,500.3 285.8,495.6 284.3,492.0 283.1,486.5 283.0,480.8 284.1,475.0 286.4,469.0 288.9,464.9 291.7,461.4 296.6,457.4 301.5,455.0 306.4,453.8 309.6,453.6 314.5,454.5 317.7,455.9 321.6,458.7 324.7,462.0 326.9,465.5 328.6,469.0 330.1,474.5 330.3,480.1 329.7,484.0 328.7,487.9 325.9,493.9 323.0,498.0 319.8,501.1ZM311.9,505.2 318.2,501.9 321.4,499.2 325.4,494.0 328.8,486.0 329.9,476.4 328.9,470.9 326.6,465.5 324.4,462.1 321.3,458.7 317.7,456.1 314.5,454.7 309.6,453.8 306.4,453.9 301.5,455.1 296.6,457.6 291.7,461.6 289.1,464.9 286.6,469.0 284.2,475.0 283.2,480.8 283.3,486.5 284.4,492.0 286.9,497.4 290.5,501.7 293.8,504.2 298.7,506.4 303.6,507.0 308.5,506.5Z"/>
<path fill="#f9e6da" stroke="#f9e6da" d="M367.1,589.2 363.9,590.3 359.1,590.9 352.7,589.7 349.5,588.0 346.3,585.5 343.1,581.5 341.3,578.0 339.6,572.6 338.9,567.1 339.2,561.5 340.4,555.7 342.9,549.7 347.5,541.6 350.7,537.9 353.9,535.7 356.7,534.6 356.3,532.8 352.3,532.5 349.0,531.6 344.2,529.3 341.0,527.0 336.6,522.5 333.3,517.3 331.8,513.8 330.3,508.3 329.6,500.9 330.2,493.3 331.7,487.5 335.2,479.5 340.5,471.9 345.3,467.4 351.7,463.3 359.7,460.9 364.5,460.6 369.3,461.0 375.7,463.3 380.5,466.5 383.2,469.2 385.9,472.6 389.5,479.5 391.0,484.9 391.7,492.3 391.1,499.8 389.7,505.6 385.2,515.6 380.9,521.3 376.2,525.9 369.8,530.0 365.8,531.4 366.4,533.2 369.9,533.7 374.7,536.4 379.3,542.5 382.2,547.7 383.4,551.2 384.5,558.5 383.6,568.0 380.7,575.8 375.0,583.7 370.3,587.6ZM367.0,589.1 370.3,587.4 375.0,583.5 380.5,575.9 382.2,571.9 383.8,566.1 384.2,556.7 383.7,553.1 382.0,547.7 380.2,544.3 376.3,539.0 371.5,535.1 366.7,533.8 363.5,533.8 355.5,535.6 350.7,538.8 347.5,542.2 343.1,549.7 340.6,555.6 339.4,561.4 339.1,567.1 340.2,574.4 342.3,579.7 344.5,583.1 347.9,586.7 352.7,589.5 357.5,590.6 362.3,590.5ZM369.8,529.0 373.0,527.3 377.8,523.6 382.9,517.8 386.6,511.7 390.0,501.9 391.0,494.3 390.8,488.7 389.8,483.2 388.0,477.9 385.0,472.7 380.5,467.7 377.3,465.2 370.9,462.2 364.5,461.2 359.7,461.6 354.9,462.8 346.9,467.1 342.1,471.3 336.1,479.3 333.1,485.4 331.4,491.3 330.3,498.9 330.7,506.4 331.9,511.9 335.1,518.9 339.0,524.0 344.2,528.4 350.6,531.2 357.1,532.2 365.0,531.0ZM313.3,505.1 308.5,506.9 303.6,507.5 298.7,506.8 293.8,504.7 290.5,502.2 286.6,497.4 284.2,492.1 283.0,486.5 282.9,480.9 284.0,475.0 286.2,469.0 288.7,464.9 291.7,461.2 296.6,457.2 301.5,454.8 306.3,453.6 311.2,453.6 314.5,454.3 321.0,457.8 325.0,462.0 327.2,465.5 329.6,470.8 330.6,474.4 330.4,483.9 328.6,489.8 326.7,493.8 323.0,498.9 319.8,501.5ZM312.7,505.1 316.5,503.2 321.4,499.7 325.9,493.9 328.7,487.9 329.7,484.0 330.3,480.1 330.1,474.5 328.6,469.0 326.9,465.5 324.7,462.0 321.6,458.7 317.7,455.9 314.5,454.5 309.6,453.6 306.4,453.8 301.5,455.0 296.6,457.4 291.7,461.4 288.9,464.9 286.4,469.0 284.1,475.0 283.0,480.8 283.1,486.5 284.3,492.0 286.7,497.4 290.5,502.0 293.8,504.5 298.7,506.6 303.6,507.3 308.5,506.7Z"/>
<path fill="#f8ece4" stroke="#f8ece4" d="M367.1,589.4 363.9,590.5 359.1,591.1 352.7,589.9 349.5,588.3 346.3,585.7 344.1,583.2 341.1,578.0 339.4,572.7 338.7,567.1 339.0,561.5 340.2,555.7 341.7,551.7 347.5,540.4 350.7,536.7 353.1,535.1 351.4,533.5 345.8,531.7 341.0,528.7 336.5,524.4 334.0,521.0 330.6,513.9 329.2,508.5 328.5,502.9 328.8,495.4 328.1,493.6 324.6,498.4 321.4,501.2 311.7,506.2 305.2,507.6 300.3,507.4 293.8,505.0 288.9,500.9 285.5,495.7 283.5,490.3 282.7,484.7 283.0,479.0 284.4,473.1 287.2,467.0 290.2,462.8 295.0,458.2 299.8,455.3 304.7,453.7 311.2,453.4 316.1,454.6 321.0,457.5 325.3,461.9 330.3,470.7 331.6,474.3 332.1,481.8 332.5,482.4 334.9,477.6 337.8,473.4 345.3,465.9 353.3,461.3 361.3,459.3 366.1,459.2 370.9,460.0 377.3,462.7 380.5,464.9 384.7,469.0 389.2,475.9 391.2,481.2 392.8,490.3 392.5,497.8 390.9,505.5 387.7,513.4 383.8,519.5 380.9,523.0 376.2,527.4 370.7,530.7 370.0,532.7 371.4,533.0 374.7,535.4 380.7,544.2 382.4,547.7 383.6,551.2 384.6,556.6 384.1,566.0 381.8,573.8 378.2,580.2 373.4,585.4ZM367.6,589.0 370.3,587.6 375.0,583.7 380.7,575.8 383.6,568.0 384.5,558.5 383.4,551.2 382.2,547.7 379.3,542.5 374.7,536.4 369.9,533.7 366.4,533.2 365.8,531.4 369.8,530.0 376.2,525.9 380.9,521.3 385.2,515.6 389.7,505.6 391.1,499.8 391.7,492.3 391.0,484.9 389.5,479.5 385.9,472.6 383.2,469.2 380.5,466.5 375.7,463.3 369.3,461.0 364.5,460.6 359.7,460.9 351.7,463.3 345.3,467.4 339.4,473.2 335.2,479.5 331.7,487.5 329.9,495.2 329.7,502.8 330.3,508.3 331.8,513.8 333.3,517.3 336.6,522.5 341.0,527.0 344.2,529.3 349.0,531.6 352.3,532.5 356.3,532.8 356.7,534.6 353.9,535.7 350.7,537.9 347.5,541.6 342.9,549.7 340.4,555.7 339.2,561.5 338.9,567.1 339.6,572.6 341.3,578.0 343.1,581.5 346.3,585.5 349.5,588.0 352.7,589.7 357.5,590.8 360.7,590.9ZM313.5,505.0 319.8,501.5 323.0,498.9 326.7,493.8 328.6,489.8 330.4,483.9 330.6,474.4 329.6,470.8 327.2,465.5 325.0,462.0 321.0,457.8 314.5,454.3 311.2,453.6 306.3,453.6 301.5,454.8 296.6,457.2 291.7,461.2 288.7,464.9 286.2,469.0 284.0,475.0 282.9,480.9 283.0,486.5 284.2,492.1 286.6,497.4 290.5,502.2 293.8,504.7 298.7,506.8 303.6,507.5 308.5,506.9ZM329.5,491.5 329.4,492.4ZM331.1,485.6 330.9,484.9Z"/>
<path fill="#f7f3f0" stroke="#f7f3f0" d="M591.1,736.4 117.7,820.4 109.3,242.5 591.8,194.3 592.5,736.1ZM476.1,747.7 480.7,746.9 492.9,730.3 494.5,730.0 520.3,694.8 521.8,694.5 545.9,661.5 547.4,661.3 575.9,622.4 575.9,620.6 584.9,608.3 584.9,606.5 589.4,600.4 589.1,397.7 587.6,396.1 587.6,381.5 586.0,379.9 586.0,378.1 583.0,374.8 583.0,373.0 581.5,371.4 581.5,369.5 580.0,367.9 580.0,366.1 577.0,362.8 577.0,361.0 575.5,359.3 575.5,357.5 573.9,355.8 573.9,354.0 570.9,350.7 570.9,348.9 566.4,344.0 566.4,342.1 561.8,337.2 561.8,335.3 557.2,330.4 557.2,328.6 552.6,323.6 552.6,321.7 538.9,306.8 538.9,304.9 525.0,289.9 525.0,288.1 523.5,286.4 522.0,286.5 517.3,281.5 515.8,281.7 511.2,276.6 509.6,276.8 505.0,271.8 503.4,271.9 498.8,266.9 497.2,267.0 494.1,263.7 492.5,263.8 487.9,258.7 486.3,258.9 481.6,253.8 480.1,254.0 478.5,252.3 477.0,252.5 473.8,249.1 472.3,249.2 470.7,247.5 469.1,247.7 467.6,246.0 466.0,246.1 462.9,242.7 461.3,242.9 459.7,241.2 458.1,241.4 456.6,239.7 455.0,239.8 451.8,236.4 450.3,236.6 448.7,234.8 447.1,235.0 445.5,233.3 444.0,233.5 442.4,231.7 439.2,232.1 437.7,230.4 431.3,231.0 429.8,229.3 423.4,229.9 421.8,228.2 413.9,229.0 412.3,227.3 406.0,228.0 404.4,226.2 393.2,227.4 391.6,225.6 374.0,227.4 372.4,225.7 354.7,227.5 353.0,225.7 336.9,227.4 335.2,225.6 317.3,227.4 315.7,225.7 243.2,233.0 241.6,235.1 228.2,236.4 226.6,238.5 214.9,239.7 213.2,241.8 211.5,242.0 209.9,244.1 206.5,244.4 204.9,246.5 201.5,246.9 199.8,249.0 196.5,249.3 194.8,251.4 191.4,251.8 189.8,253.9 186.4,254.2 184.7,256.3 181.3,256.7 178.0,260.9 176.3,261.1 166.3,273.8 164.6,274.0 154.5,286.8 152.8,286.9 147.8,293.3 147.8,295.3 142.8,301.7 142.8,303.6 139.5,307.9 139.5,309.8 134.4,316.3 134.5,318.2 129.4,324.6 129.4,326.6 127.8,328.7 127.8,330.7 126.1,332.8 126.1,334.8 124.4,336.9 124.5,338.9 122.8,341.0 122.8,344.9 121.2,347.0 121.2,349.0 119.5,351.1 119.5,353.1 117.8,355.2 117.9,357.2 116.2,359.3 116.2,363.2 114.5,365.4 114.6,367.3 112.9,369.5 113.7,425.9 115.4,427.7 117.3,553.5 115.6,555.7 116.9,646.2 144.5,672.6 144.5,674.5 148.0,677.8 148.0,679.7 151.4,683.0 151.4,684.9 156.6,689.8 156.6,691.7 160.0,695.0 160.0,696.9 165.2,701.8 165.2,703.7 170.3,708.6 170.3,710.5 177.1,716.9 177.1,718.8 185.6,726.9 185.6,728.8 192.4,735.3 192.4,737.2 205.9,750.0 205.9,751.9 219.3,764.7 219.4,766.6 227.7,774.6 229.4,774.3 246.0,790.1 474.6,749.8ZM368.7,588.8 365.5,590.2 360.7,591.2 357.5,591.2 352.7,590.1 349.5,588.5 346.3,586.0 341.7,579.8 340.2,576.3 338.9,570.9 338.8,561.5 340.7,553.8 346.2,541.7 347.6,535.9 339.4,531.1 336.1,528.2 332.1,523.1 328.0,514.4 326.5,508.9 325.8,503.3 324.9,501.6 321.4,502.1 310.1,507.0 305.2,507.8 300.3,507.6 295.4,506.0 292.2,504.1 288.7,500.9 285.3,495.7 283.3,490.3 282.6,484.7 282.8,479.0 284.2,473.1 287.0,467.0 290.1,462.6 295.0,458.0 299.8,455.1 304.7,453.5 309.6,453.1 316.1,454.4 319.4,456.0 324.2,460.2 330.8,470.2 334.1,473.5 342.1,464.8 350.1,459.5 354.9,457.5 359.7,456.3 364.5,456.0 369.3,456.4 375.7,458.3 382.1,462.2 386.9,466.9 391.3,473.7 393.9,480.8 395.2,488.1 395.1,497.4 393.6,505.1 391.6,511.0 387.2,519.0 382.5,525.0 375.1,531.9 376.8,537.3 381.9,545.9 383.8,551.2 384.9,560.3 383.9,567.9 382.0,573.8 378.2,580.5 373.4,585.6ZM368.1,588.9 373.4,585.4 378.4,579.9 381.8,573.8 384.1,566.0 384.6,556.6 383.6,551.2 382.4,547.7 380.7,544.2 374.7,535.4 371.4,533.0 370.0,532.7 370.7,530.7 376.2,527.4 380.9,523.0 383.8,519.5 387.7,513.4 390.9,505.5 392.5,497.8 392.8,490.3 391.2,481.2 389.2,475.9 384.7,469.0 380.5,464.9 377.3,462.7 370.9,460.0 366.1,459.2 361.3,459.3 353.3,461.3 345.3,465.9 337.8,473.4 334.9,477.6 332.5,482.4 332.1,481.8 331.6,474.3 330.3,470.7 325.3,461.9 321.0,457.5 316.1,454.6 311.2,453.4 304.7,453.7 299.8,455.3 295.0,458.2 290.2,462.8 287.2,467.0 284.4,473.1 283.0,479.0 282.7,484.7 283.5,490.3 285.5,495.7 288.9,500.9 293.8,505.0 300.3,507.4 305.2,507.6 311.7,506.2 321.4,501.2 324.6,498.4 328.1,493.6 328.8,495.4 328.5,502.9 329.2,508.5 330.6,513.9 334.0,521.0 336.5,524.4 341.0,528.7 345.8,531.7 351.4,533.5 353.1,535.1 350.7,536.7 347.5,540.4 341.7,551.7 340.2,555.7 339.0,561.5 338.7,567.1 339.4,572.7 341.1,578.0 344.1,583.2 346.3,585.7 349.5,588.3 352.7,589.9 357.5,591.0 360.7,591.1 363.9,590.5ZM329.4,492.4 329.4,490.6ZM331.0,486.3 330.9,484.9Z"/>
<path fill="#f2f4f5" stroke="#f2f4f5" d="M474.6,749.8 246.0,790.1 229.4,774.3 227.7,774.6 219.4,766.6 219.3,764.7 205.9,751.9 205.9,750.0 192.4,737.2 192.4,735.3 185.6,728.8 185.6,726.9 177.1,718.8 177.1,716.9 170.3,710.5 170.3,708.6 165.2,703.7 165.2,701.8 160.0,696.9 160.0,695.0 156.6,691.7 156.6,689.8 151.4,684.9 151.4,683.0 148.0,679.7 148.0,677.8 144.5,674.5 144.5,672.6 116.9,646.2 115.6,555.7 117.3,553.5 115.4,427.7 113.7,425.9 112.9,369.5 114.6,367.3 114.5,365.4 116.2,363.2 116.2,359.3 117.9,357.2 117.8,355.2 119.5,353.1 119.5,351.1 121.2,349.0 121.2,347.0 122.8,344.9 122.8,341.0 124.5,338.9 124.4,336.9 126.1,334.8 126.1,332.8 127.8,330.7 127.8,328.7 129.4,326.6 129.4,324.6 134.5,318.2 134.4,316.3 139.5,309.8 139.5,307.9 142.8,303.6 142.8,301.7 147.8,295.3 147.8,293.3 152.8,286.9 154.5,286.8 164.6,274.0 166.3,273.8 176.3,261.1 178.0,260.9 181.3,256.7 184.7,256.3 186.4,254.2 189.8,253.9 191.4,251.8 194.8,251.4 196.5,249.3 199.8,249.0 201.5,246.9 204.9,246.5 206.5,244.4 209.9,244.1 211.5,242.0 213.2,241.8 214.9,239.7 226.6,238.5 228.2,236.4 241.6,235.1 243.2,233.0 315.7,225.7 317.3,227.4 335.2,225.6 336.9,227.4 353.0,225.7 354.7,227.5 372.4,225.7 374.0,227.4 391.6,225.6 393.2,227.4 404.4,226.2 406.0,228.0 412.3,227.3 413.9,229.0 421.8,228.2 423.4,229.9 429.8,229.3 431.3,231.0 437.7,230.4 439.2,232.1 442.4,231.7 444.0,233.5 445.5,233.3 447.1,235.0 448.7,234.8 450.3,236.6 451.8,236.4 455.0,239.8 456.6,239.7 458.1,241.4 459.7,241.2 461.3,242.9 462.9,242.7 466.0,246.1 467.6,246.0 469.1,247.7 470.7,247.5 472.3,249.2 473.8,249.1 477.0,252.5 478.5,252.3 480.1,254.0 481.6,253.8 486.3,258.9 487.9,258.7 492.5,263.8 494.1,263.7 497.2,267.0 498.8,266.9 503.4,271.9 505.0,271.8 509.6,276.8 511.2,276.6 515.8,281.7 517.3,281.5 522.0,286.5 523.5,286.4 525.0,288.1 525.0,289.9 538.9,304.9 538.9,306.8 552.6,321.7 552.6,323.6 557.2,328.6 557.2,330.4 561.8,335.3 561.8,337.2 566.4,342.1 566.4,344.0 570.9,348.9 570.9,350.7 573.9,354.0 573.9,355.8 575.5,357.5 575.5,359.3 577.0,361.0 577.0,362.8 580.0,366.1 580.0,367.9 581.5,369.5 581.5,371.4 583.0,373.0 583.0,374.8 586.0,378.1 586.0,379.9 587.6,381.5 587.6,396.1 589.1,397.7 589.4,600.4 584.9,606.5 584.9,608.3 575.9,620.6 575.9,622.4 547.4,661.3 545.9,661.5 521.8,694.5 520.3,694.8 494.5,730.0 492.9,730.3 480.7,746.9 476.1,747.7ZM475.7,747.8 476.1,747.2 480.7,746.4 492.9,729.8 494.5,729.5 520.3,694.3 521.8,694.0 545.9,661.0 547.4,660.8 575.5,622.4 575.5,620.6 584.5,608.4 584.5,606.6 588.9,600.5 588.6,397.8 587.1,396.2 587.1,381.6 585.6,380.0 585.6,378.1 582.6,374.9 582.6,373.0 581.0,371.4 581.0,369.6 579.5,367.9 579.5,366.1 576.5,362.8 576.5,361.0 575.0,359.4 575.0,357.5 573.5,355.9 573.5,354.1 570.4,350.8 570.4,349.0 565.9,344.0 565.9,342.2 561.3,337.2 561.3,335.4 556.8,330.4 556.8,328.6 552.2,323.6 552.2,321.8 538.4,306.8 538.4,305.0 524.6,290.0 524.6,288.1 523.5,287.0 522.0,287.1 517.3,282.1 515.8,282.3 511.2,277.2 509.6,277.4 505.0,272.3 503.4,272.5 498.8,267.4 497.2,267.6 494.1,264.2 492.5,264.4 487.9,259.3 486.3,259.5 481.6,254.4 480.1,254.6 478.5,252.9 477.0,253.0 473.8,249.6 472.3,249.8 470.7,248.1 469.1,248.3 467.6,246.6 466.0,246.7 462.9,243.3 461.3,243.5 459.7,241.8 458.2,241.9 456.6,240.2 455.0,240.4 451.9,237.0 450.3,237.1 448.7,235.4 447.1,235.6 445.5,233.9 444.0,234.0 442.4,232.3 439.2,232.7 437.7,230.9 431.3,231.6 429.8,229.9 423.4,230.5 421.8,228.8 413.9,229.6 412.3,227.9 406.0,228.5 404.4,226.8 393.2,227.9 391.6,226.2 374.0,228.0 372.4,226.3 354.7,228.1 353.0,226.3 336.9,228.0 335.2,226.2 317.3,228.0 315.7,226.3 243.2,233.6 241.6,235.7 228.2,237.0 226.6,239.1 214.9,240.3 213.2,242.4 211.5,242.6 209.9,244.7 206.5,245.0 204.9,247.1 201.5,247.5 199.8,249.6 196.5,249.9 194.8,252.0 191.4,252.4 189.8,254.5 186.4,254.8 184.7,257.0 181.4,257.3 178.0,261.5 176.3,261.7 166.3,274.4 164.6,274.6 154.6,287.4 152.9,287.6 148.4,293.3 148.4,295.2 143.3,301.6 143.4,303.6 140.0,307.8 140.0,309.8 135.0,316.2 135.0,318.1 130.0,324.6 130.0,326.5 128.3,328.7 128.3,330.6 126.6,332.7 126.7,334.7 125.0,336.8 125.0,338.8 123.3,340.9 123.4,344.8 121.7,347.0 121.7,348.9 120.0,351.1 120.1,353.0 118.4,355.2 118.4,357.1 116.7,359.3 116.8,363.2 115.1,365.3 115.1,367.3 113.4,369.4 114.2,425.9 115.9,427.6 117.7,553.5 116.1,555.7 117.4,646.1 145.0,672.5 145.0,674.4 148.4,677.7 148.4,679.6 151.9,682.9 151.9,684.8 157.0,689.7 157.1,691.6 160.5,694.9 160.5,696.8 165.6,701.7 165.6,703.6 170.7,708.5 170.8,710.4 177.6,716.9 177.6,718.8 186.1,726.9 186.1,728.8 192.8,735.2 192.9,737.1 206.3,750.0 206.4,751.8 219.8,764.6 219.8,766.5 227.7,774.1 229.4,773.8 246.0,789.6 474.6,749.3ZM368.7,589.0 365.5,590.4 360.7,591.4 354.3,590.8 347.9,587.6 345.0,584.9 342.5,581.6 340.7,578.1 339.1,572.7 338.5,563.4 339.8,555.8 344.9,543.8 345.2,540.0 344.0,538.3 335.3,532.0 329.7,525.4 326.4,519.3 324.7,514.8 322.6,505.6 321.5,503.9 318.2,504.0 308.5,507.6 303.6,508.1 300.3,507.9 295.4,506.3 290.5,503.0 287.2,499.3 285.1,495.7 283.1,490.3 282.4,484.7 282.7,479.0 284.1,473.1 286.9,467.1 289.7,462.9 293.4,459.1 298.2,455.8 303.1,453.8 308.0,453.0 312.8,453.2 316.1,454.1 319.4,455.7 323.0,458.5 329.2,466.9 330.8,468.5 332.4,468.7 334.0,467.9 343.1,459.6 351.6,454.7 359.6,452.5 369.2,452.4 377.7,455.0 382.8,458.0 388.5,463.2 393.3,470.1 396.5,477.9 398.2,485.8 398.2,497.0 396.7,505.2 393.6,513.7 390.4,519.4 384.9,526.8 379.4,532.2 377.5,535.3 378.2,539.0 382.1,545.8 384.4,553.0 385.1,560.3 384.1,567.9 382.2,573.7 378.2,580.7 373.4,585.8ZM368.7,588.8 373.4,585.6 378.2,580.5 382.0,573.8 383.9,567.9 384.9,560.3 383.8,551.2 381.9,545.9 376.8,537.3 375.1,531.9 382.5,525.0 387.2,519.0 391.6,511.0 393.6,505.1 395.1,497.4 395.2,488.1 393.9,480.8 391.3,473.7 386.9,466.9 382.1,462.2 375.7,458.3 369.3,456.4 364.5,456.0 359.7,456.3 354.9,457.5 350.1,459.5 342.1,464.8 334.1,473.5 330.8,470.2 324.2,460.2 319.4,456.0 316.1,454.4 309.6,453.1 304.7,453.5 299.8,455.1 295.0,458.0 290.1,462.6 287.0,467.0 284.2,473.1 282.8,479.0 282.6,484.7 283.3,490.3 285.3,495.7 288.7,500.9 292.2,504.1 295.4,506.0 300.3,507.6 305.2,507.8 310.1,507.0 321.4,502.1 324.9,501.6 325.8,503.3 326.5,508.9 328.0,514.4 332.1,523.1 336.1,528.2 339.4,531.1 347.6,535.9 346.2,541.7 340.7,553.8 338.8,561.5 338.9,570.9 340.2,576.3 341.7,579.8 346.3,586.0 349.5,588.5 352.7,590.1 357.5,591.2 360.7,591.2 365.5,590.2Z"/>
<path fill="#e8f0f4" stroke="#e8f0f4" d="M474.6,749.3 246.0,789.6 229.4,773.8 227.7,774.1 219.8,766.5 219.8,764.6 206.4,751.8 206.3,750.0 192.9,737.1 192.8,735.2 186.1,728.8 186.1,726.9 177.6,718.8 177.6,716.9 170.8,710.4 170.7,708.5 165.6,703.6 165.6,701.7 160.5,696.8 160.5,694.9 157.1,691.6 157.0,689.7 151.9,684.8 151.9,682.9 148.4,679.6 148.4,677.7 145.0,674.4 145.0,672.5 117.4,646.1 116.1,555.7 117.7,553.5 115.9,427.6 114.2,425.9 113.4,369.4 115.1,367.3 115.1,365.3 116.8,363.2 116.7,359.3 118.4,357.1 118.4,355.2 120.1,353.0 120.0,351.1 121.7,348.9 121.7,347.0 123.4,344.8 123.3,340.9 125.0,338.8 125.0,336.8 126.7,334.7 126.6,332.7 128.3,330.6 128.3,328.7 130.0,326.5 130.0,324.6 135.0,318.1 135.0,316.2 140.0,309.8 140.0,307.8 143.4,303.6 143.3,301.6 148.4,295.2 148.4,293.3 152.9,287.6 154.6,287.4 164.6,274.6 166.3,274.4 176.3,261.7 178.0,261.5 181.4,257.3 184.7,257.0 186.4,254.8 189.8,254.5 191.4,252.4 194.8,252.0 196.5,249.9 199.8,249.6 201.5,247.5 204.9,247.1 206.5,245.0 209.9,244.7 211.5,242.6 213.2,242.4 214.9,240.3 226.6,239.1 228.2,237.0 241.6,235.7 243.2,233.6 315.7,226.3 317.3,228.0 335.2,226.2 336.9,228.0 353.0,226.3 354.7,228.1 372.4,226.3 374.0,228.0 391.6,226.2 393.2,227.9 404.4,226.8 406.0,228.5 412.3,227.9 413.9,229.6 421.8,228.8 423.4,230.5 429.8,229.9 431.3,231.6 437.7,230.9 439.2,232.7 442.4,232.3 444.0,234.0 445.5,233.9 447.1,235.6 448.7,235.4 450.3,237.1 451.9,237.0 455.0,240.4 456.6,240.2 458.2,241.9 459.7,241.8 461.3,243.5 462.9,243.3 466.0,246.7 467.6,246.6 469.1,248.3 470.7,248.1 472.3,249.8 473.8,249.6 477.0,253.0 478.5,252.9 480.1,254.6 481.6,254.4 486.3,259.5 487.9,259.3 492.5,264.4 494.1,264.2 497.2,267.6 498.8,267.4 503.4,272.5 505.0,272.3 509.6,277.4 511.2,277.2 515.8,282.3 517.3,282.1 522.0,287.1 523.5,287.0 524.6,288.1 524.6,290.0 538.4,305.0 538.4,306.8 552.2,321.8 552.2,323.6 556.8,328.6 556.8,330.4 561.3,335.4 561.3,337.2 565.9,342.2 565.9,344.0 570.4,349.0 570.4,350.8 573.5,354.1 573.5,355.9 575.0,357.5 575.0,359.4 576.5,361.0 576.5,362.8 579.5,366.1 579.5,367.9 581.0,369.6 581.0,371.4 582.6,373.0 582.6,374.9 585.6,378.1 585.6,380.0 587.1,381.6 587.1,396.2 588.6,397.8 588.9,600.5 584.5,606.6 584.5,608.4 575.5,620.6 575.5,622.4 547.4,660.8 545.9,661.0 521.8,694.0 520.3,694.3 494.5,729.5 492.9,729.8 480.7,746.4 476.1,747.2ZM475.3,747.9 476.1,746.7 480.7,745.9 492.9,729.3 494.4,729.0 520.3,693.8 521.8,693.5 545.9,660.5 547.4,660.3 575.1,622.5 575.1,620.7 584.0,608.5 584.0,606.7 588.5,600.6 588.2,397.8 586.6,396.2 586.6,381.7 585.1,380.0 585.1,378.2 582.1,374.9 582.1,373.1 580.6,371.5 580.6,369.6 579.1,368.0 579.1,366.2 576.0,362.9 576.0,361.1 574.5,359.4 574.5,357.6 573.0,356.0 573.0,354.1 570.0,350.8 570.0,349.0 565.4,344.1 565.4,342.2 560.9,337.3 560.8,335.5 556.3,330.5 556.3,328.7 551.7,323.7 551.7,321.9 537.9,306.9 537.9,305.0 524.1,290.0 524.1,288.2 523.5,287.5 522.0,287.7 517.3,282.7 515.8,282.8 511.2,277.8 509.6,278.0 505.0,272.9 503.4,273.1 498.8,268.0 497.2,268.2 494.1,264.8 492.6,265.0 487.9,259.9 486.3,260.1 481.6,255.0 480.1,255.1 478.5,253.5 477.0,253.6 473.8,250.2 472.3,250.4 470.7,248.7 469.1,248.8 467.6,247.1 466.0,247.3 462.9,243.9 461.3,244.1 459.7,242.4 458.2,242.5 456.6,240.8 455.0,241.0 451.9,237.6 450.3,237.7 448.7,236.0 447.1,236.2 445.6,234.5 444.0,234.6 442.4,232.9 439.2,233.2 437.7,231.5 431.4,232.2 429.8,230.5 423.4,231.1 421.8,229.4 413.9,230.2 412.3,228.5 406.0,229.1 404.4,227.4 393.2,228.5 391.6,226.8 374.0,228.6 372.4,226.9 354.7,228.6 353.0,226.9 336.9,228.5 335.2,226.8 317.3,228.6 315.7,226.9 243.2,234.2 241.6,236.3 228.2,237.6 226.6,239.7 214.9,240.9 213.2,243.0 211.5,243.2 209.9,245.3 206.5,245.6 204.9,247.7 201.5,248.1 199.8,250.2 196.5,250.5 194.8,252.7 191.4,253.0 189.8,255.1 186.4,255.5 184.7,257.6 181.4,257.9 178.0,262.2 176.3,262.3 166.3,275.1 164.6,275.2 154.6,288.0 152.9,288.2 148.9,293.2 148.9,295.2 143.9,301.6 143.9,303.5 140.5,307.8 140.6,309.7 135.5,316.1 135.5,318.1 130.5,324.5 130.5,326.5 128.8,328.6 128.9,330.5 127.2,332.7 127.2,334.6 125.5,336.8 125.5,338.7 123.9,340.9 123.9,344.8 122.2,346.9 122.2,348.9 120.6,351.0 120.6,353.0 118.9,355.1 118.9,357.1 117.2,359.2 117.3,363.1 115.6,365.3 115.6,367.2 113.9,369.4 114.7,425.8 116.4,427.6 118.2,553.4 116.5,555.6 117.9,646.1 145.4,672.5 145.5,674.4 148.9,677.7 148.9,679.6 152.3,682.8 152.4,684.7 157.5,689.7 157.5,691.6 160.9,694.8 161.0,696.7 166.1,701.6 166.1,703.5 171.2,708.4 171.2,710.3 178.0,716.8 178.0,718.7 186.5,726.8 186.5,728.7 193.3,735.1 193.3,737.0 206.8,749.9 206.8,751.8 220.2,764.6 220.3,766.4 227.7,773.5 229.4,773.3 246.0,789.1 474.6,748.8ZM368.7,589.3 365.5,590.6 360.7,591.6 357.5,591.6 352.7,590.5 349.5,589.0 346.4,586.6 342.3,581.6 340.5,578.1 338.9,572.7 338.3,563.5 340.2,553.8 344.4,543.9 344.5,542.0 342.7,539.3 337.0,535.5 333.3,532.3 328.1,525.8 324.8,519.4 320.9,505.9 319.8,504.8 318.2,504.6 306.9,508.2 298.7,507.8 295.4,506.6 290.5,503.3 287.2,499.7 284.9,495.7 283.0,490.3 282.3,484.7 282.5,479.0 283.9,473.1 286.7,467.1 289.5,462.9 293.4,458.9 298.2,455.5 301.5,454.1 306.3,452.9 311.2,452.8 316.1,453.9 319.4,455.4 323.4,458.4 329.2,465.8 330.8,467.1 332.4,466.8 334.0,465.7 342.9,457.7 351.6,452.8 359.6,450.6 369.2,450.5 377.2,452.8 383.2,456.1 390.0,462.4 394.9,469.6 398.1,477.7 399.7,486.0 399.8,496.1 398.4,504.4 395.2,513.7 392.0,519.6 387.1,526.5 379.0,535.1 378.4,537.1 378.7,538.9 383.1,547.6 384.7,552.9 385.3,560.3 384.7,565.9 382.4,573.7 379.1,579.8 375.0,584.6ZM369.2,588.7 373.4,585.8 378.8,579.8 382.2,573.7 384.1,567.9 385.1,560.3 384.4,553.0 382.1,545.8 378.2,539.0 377.5,535.3 379.4,532.2 384.9,526.8 390.4,519.4 393.6,513.7 396.7,505.2 398.2,497.0 398.2,485.8 396.5,477.9 393.3,470.1 388.5,463.2 382.8,458.0 377.7,455.0 369.2,452.4 359.6,452.5 351.6,454.7 343.1,459.6 334.0,467.9 332.4,468.7 330.8,468.5 329.2,466.9 323.0,458.5 319.4,455.7 316.1,454.1 312.8,453.2 308.0,453.0 303.1,453.8 298.2,455.8 293.4,459.1 289.7,462.9 286.9,467.1 284.1,473.1 282.7,479.0 282.5,486.6 283.7,492.1 286.0,497.5 288.9,501.4 292.2,504.3 295.4,506.3 300.3,507.9 303.6,508.1 308.5,507.6 318.2,504.0 321.5,503.9 322.6,505.6 324.7,514.8 326.4,519.3 329.7,525.4 335.3,532.0 344.0,538.3 345.2,540.0 344.9,543.8 339.8,555.8 338.5,563.4 339.1,572.7 340.7,578.1 342.5,581.6 345.0,584.9 347.9,587.6 354.3,590.8 357.5,591.4 362.3,591.2 365.5,590.4Z"/>
<path fill="#e0ecf2" stroke="#e0ecf2" d="M474.6,748.8 246.0,789.1 229.4,773.3 227.7,773.5 220.3,766.4 220.2,764.6 206.8,751.8 206.8,749.9 193.3,737.0 193.3,735.1 186.5,728.7 186.5,726.8 178.0,718.7 178.0,716.8 171.2,710.3 171.2,708.4 166.1,703.5 166.1,701.6 161.0,696.7 160.9,694.8 157.5,691.6 157.5,689.7 152.4,684.7 152.3,682.8 148.9,679.6 148.9,677.7 145.5,674.4 145.4,672.5 117.9,646.1 116.5,555.6 118.2,553.4 116.4,427.6 114.7,425.8 113.9,369.4 115.6,367.2 115.6,365.3 117.3,363.1 117.2,359.2 118.9,357.1 118.9,355.1 120.6,353.0 120.6,351.0 122.2,348.9 122.2,346.9 123.9,344.8 123.9,340.9 125.5,338.7 125.5,336.8 127.2,334.6 127.2,332.7 128.9,330.5 128.8,328.6 130.5,326.5 130.5,324.5 135.5,318.1 135.5,316.1 140.6,309.7 140.5,307.8 143.9,303.5 143.9,301.6 148.9,295.2 148.9,293.2 152.9,288.2 154.6,288.0 164.6,275.2 166.3,275.1 176.3,262.3 178.0,262.2 181.4,257.9 184.7,257.6 186.4,255.5 189.8,255.1 191.4,253.0 194.8,252.7 196.5,250.5 199.8,250.2 201.5,248.1 204.9,247.7 206.5,245.6 209.9,245.3 211.5,243.2 213.2,243.0 214.9,240.9 226.6,239.7 228.2,237.6 241.6,236.3 243.2,234.2 315.7,226.9 317.3,228.6 335.2,226.8 336.9,228.5 353.0,226.9 354.7,228.6 372.4,226.9 374.0,228.6 391.6,226.8 393.2,228.5 404.4,227.4 406.0,229.1 412.3,228.5 413.9,230.2 421.8,229.4 423.4,231.1 429.8,230.5 431.4,232.2 437.7,231.5 439.2,233.2 442.4,232.9 444.0,234.6 445.6,234.5 447.1,236.2 448.7,236.0 450.3,237.7 451.9,237.6 455.0,241.0 456.6,240.8 458.2,242.5 459.7,242.4 461.3,244.1 462.9,243.9 466.0,247.3 467.6,247.1 469.1,248.8 470.7,248.7 472.3,250.4 473.8,250.2 477.0,253.6 478.5,253.5 480.1,255.1 481.6,255.0 486.3,260.1 487.9,259.9 492.6,265.0 494.1,264.8 497.2,268.2 498.8,268.0 503.4,273.1 505.0,272.9 509.6,278.0 511.2,277.8 515.8,282.8 517.3,282.7 522.0,287.7 523.5,287.5 524.1,288.2 524.1,290.0 537.9,305.0 537.9,306.9 551.7,321.9 551.7,323.7 556.3,328.7 556.3,330.5 560.8,335.5 560.9,337.3 565.4,342.2 565.4,344.1 570.0,349.0 570.0,350.8 573.0,354.1 573.0,356.0 574.5,357.6 574.5,359.4 576.0,361.1 576.0,362.9 579.1,366.2 579.1,368.0 580.6,369.6 580.6,371.5 582.1,373.1 582.1,374.9 585.1,378.2 585.1,380.0 586.6,381.7 586.6,396.2 588.2,397.8 588.5,600.6 584.0,606.7 584.0,608.5 575.1,620.7 575.1,622.5 547.4,660.3 545.9,660.5 521.8,693.5 520.3,693.8 494.4,729.0 492.9,729.3 480.7,745.9 476.1,746.7ZM474.8,747.9 476.1,746.2 480.7,745.4 492.9,728.8 494.4,728.5 520.3,693.3 521.8,693.0 545.9,660.0 547.4,659.7 574.6,622.6 574.6,620.8 583.6,608.5 583.6,606.7 588.0,600.6 587.7,397.9 586.2,396.3 586.2,381.7 584.6,380.1 584.6,378.3 581.6,375.0 581.6,373.2 580.1,371.5 580.1,369.7 578.6,368.1 578.6,366.2 575.6,363.0 575.6,361.1 574.1,359.5 574.1,357.7 572.5,356.0 572.5,354.2 569.5,350.9 569.5,349.1 564.9,344.1 564.9,342.3 560.4,337.4 560.4,335.5 555.8,330.6 555.8,328.7 551.2,323.7 551.2,321.9 537.5,306.9 537.4,305.1 523.6,290.1 523.5,288.1 522.0,288.3 517.3,283.2 515.8,283.4 511.2,278.4 509.6,278.5 505.0,273.5 503.4,273.7 498.8,268.6 497.2,268.8 494.1,265.4 492.6,265.6 487.9,260.5 486.3,260.6 481.6,255.6 480.1,255.7 478.5,254.0 477.0,254.2 473.8,250.8 472.3,251.0 470.7,249.3 469.1,249.4 467.6,247.7 466.0,247.9 462.9,244.5 461.3,244.7 459.7,242.9 458.2,243.1 456.6,241.4 455.0,241.6 451.9,238.2 450.3,238.3 448.7,236.6 447.1,236.8 445.6,235.1 444.0,235.2 442.4,233.5 439.2,233.8 437.7,232.1 431.4,232.8 429.8,231.1 423.4,231.7 421.8,230.0 413.9,230.8 412.3,229.1 406.0,229.7 404.4,228.0 393.2,229.1 391.6,227.4 374.0,229.2 372.4,227.4 354.7,229.2 353.0,227.5 336.9,229.1 335.2,227.4 317.3,229.2 315.7,227.5 243.2,234.8 241.6,236.9 228.2,238.2 226.6,240.3 214.9,241.5 213.2,243.6 211.5,243.8 209.9,245.9 206.5,246.2 204.9,248.4 201.5,248.7 199.9,250.8 196.5,251.2 194.8,253.3 191.5,253.6 189.8,255.7 186.4,256.1 184.7,258.2 181.4,258.5 178.0,262.8 176.3,263.0 166.3,275.7 164.6,275.9 154.6,288.6 152.9,288.8 149.4,293.2 149.5,295.1 144.4,301.5 144.4,303.5 141.1,307.7 141.1,309.7 136.1,316.1 136.1,318.0 131.0,324.4 131.1,326.4 129.4,328.5 129.4,330.5 127.7,332.6 127.7,334.6 126.1,336.7 126.1,338.7 124.4,340.8 124.4,344.7 122.8,346.9 122.8,348.8 121.1,351.0 121.1,352.9 119.4,355.1 119.5,357.0 117.8,359.1 117.8,363.0 116.1,365.2 116.2,367.1 114.5,369.3 115.2,425.8 116.9,427.5 118.7,553.4 117.0,555.5 118.4,646.0 145.9,672.4 145.9,674.3 149.3,677.6 149.4,679.5 152.8,682.8 152.8,684.7 157.9,689.6 158.0,691.5 161.4,694.8 161.4,696.7 166.5,701.5 166.5,703.4 171.6,708.3 171.7,710.2 178.5,716.7 178.5,718.6 187.0,726.7 187.0,728.6 193.7,735.1 193.8,736.9 207.2,749.8 207.3,751.7 220.7,764.5 220.7,766.4 227.7,773.0 229.4,772.8 246.0,788.6 396.8,762.2ZM368.7,589.5 365.5,590.8 360.7,591.8 354.3,591.2 351.1,590.1 347.9,588.1 344.6,585.0 342.1,581.6 340.3,578.1 338.7,572.8 338.1,563.5 338.8,557.8 343.2,545.9 343.7,543.9 343.6,542.1 342.2,540.4 333.6,534.2 327.9,527.5 323.2,518.1 320.4,507.8 319.5,506.1 318.2,505.5 316.6,505.7 306.9,508.6 298.7,508.1 295.4,506.9 290.5,503.7 287.2,500.0 284.6,495.8 282.8,490.3 282.1,484.8 282.4,479.0 283.8,473.2 286.5,467.1 289.3,462.9 293.4,458.8 298.2,455.3 306.3,452.6 314.5,453.0 317.7,454.2 322.0,456.7 325.5,460.0 329.2,464.7 330.8,465.8 332.4,465.3 343.6,455.7 350.0,452.1 354.8,450.3 359.6,449.1 367.6,448.9 375.6,450.7 382.8,454.3 390.0,460.5 395.1,467.6 398.3,474.6 400.5,483.6 401.0,492.9 399.9,502.3 396.9,512.1 393.6,518.9 388.9,525.8 381.0,534.1 379.2,536.9 379.3,538.8 383.4,547.5 385.2,554.7 385.2,564.0 383.3,571.7 380.6,577.7 377.8,581.8 373.4,586.3ZM369.7,588.6 375.0,584.6 379.1,579.8 382.4,573.7 384.7,565.9 385.3,560.3 384.7,552.9 383.1,547.6 378.7,538.9 378.4,537.1 379.0,535.1 387.1,526.5 392.0,519.6 395.2,513.7 398.4,504.4 399.8,496.1 399.7,486.0 398.1,477.7 394.9,469.6 390.0,462.4 383.2,456.1 377.2,452.8 369.2,450.5 359.6,450.6 351.6,452.8 342.9,457.7 334.0,465.7 332.4,466.8 330.8,467.1 329.2,465.8 323.4,458.4 319.4,455.4 316.1,453.9 311.2,452.8 306.3,452.9 301.5,454.1 298.2,455.5 293.4,458.9 289.5,462.9 286.7,467.1 283.9,473.1 282.5,479.0 282.3,484.7 283.0,490.3 284.9,495.7 287.2,499.7 290.5,503.3 295.4,506.6 298.7,507.8 306.9,508.2 318.2,504.6 319.8,504.8 320.9,505.9 324.8,519.4 328.1,525.8 333.3,532.3 337.0,535.5 342.7,539.3 344.5,542.0 344.4,543.9 340.2,553.8 338.3,563.5 338.9,572.7 340.5,578.1 342.3,581.6 344.8,584.9 347.9,587.9 352.7,590.5 355.9,591.4 362.3,591.4 367.1,590.0Z"/>
<path fill="#d6e7f0" stroke="#d6e7f0" d="M474.6,748.3 246.0,788.6 229.4,772.8 227.7,773.0 220.7,766.4 220.7,764.5 207.3,751.7 207.2,749.8 193.8,736.9 193.7,735.1 187.0,728.6 187.0,726.7 178.5,718.6 178.5,716.7 171.7,710.2 171.6,708.3 166.5,703.4 166.5,701.5 161.4,696.7 161.4,694.8 158.0,691.5 157.9,689.6 152.8,684.7 152.8,682.8 149.4,679.5 149.3,677.6 145.9,674.3 145.9,672.4 118.4,646.0 117.0,555.5 118.7,553.4 116.9,427.5 115.2,425.8 114.5,369.3 116.2,367.1 116.1,365.2 117.8,363.0 117.8,359.1 119.5,357.0 119.4,355.1 121.1,352.9 121.1,351.0 122.8,348.8 122.8,346.9 124.4,344.7 124.4,340.8 126.1,338.7 126.1,336.7 127.7,334.6 127.7,332.6 129.4,330.5 129.4,328.5 131.1,326.4 131.0,324.4 136.1,318.0 136.1,316.1 141.1,309.7 141.1,307.7 144.4,303.5 144.4,301.5 149.5,295.1 149.4,293.2 152.9,288.8 154.6,288.6 164.6,275.9 166.3,275.7 176.3,263.0 178.0,262.8 181.4,258.5 184.7,258.2 186.4,256.1 189.8,255.7 191.5,253.6 194.8,253.3 196.5,251.2 199.9,250.8 201.5,248.7 204.9,248.4 206.5,246.2 209.9,245.9 211.5,243.8 213.2,243.6 214.9,241.5 226.6,240.3 228.2,238.2 241.6,236.9 243.2,234.8 315.7,227.5 317.3,229.2 335.2,227.4 336.9,229.1 353.0,227.5 354.7,229.2 372.4,227.4 374.0,229.2 391.6,227.4 393.2,229.1 404.4,228.0 406.0,229.7 412.3,229.1 413.9,230.8 421.8,230.0 423.4,231.7 429.8,231.1 431.4,232.8 437.7,232.1 439.2,233.8 442.4,233.5 444.0,235.2 445.6,235.1 447.1,236.8 448.7,236.6 450.3,238.3 451.9,238.2 455.0,241.6 456.6,241.4 458.2,243.1 459.7,242.9 461.3,244.7 462.9,244.5 466.0,247.9 467.6,247.7 469.1,249.4 470.7,249.3 472.3,251.0 473.8,250.8 477.0,254.2 478.5,254.0 480.1,255.7 481.6,255.6 486.3,260.6 487.9,260.5 492.6,265.6 494.1,265.4 497.2,268.8 498.8,268.6 503.4,273.7 505.0,273.5 509.6,278.5 511.2,278.4 515.8,283.4 517.3,283.2 522.0,288.3 523.5,288.1 523.6,290.1 537.4,305.1 537.5,306.9 551.2,321.9 551.2,323.7 555.8,328.7 555.8,330.6 560.4,335.5 560.4,337.4 564.9,342.3 564.9,344.1 569.5,349.1 569.5,350.9 572.5,354.2 572.5,356.0 574.1,357.7 574.1,359.5 575.6,361.1 575.6,363.0 578.6,366.2 578.6,368.1 580.1,369.7 580.1,371.5 581.6,373.2 581.6,375.0 584.6,378.3 584.6,380.1 586.2,381.7 586.2,396.3 587.7,397.9 588.0,600.6 583.6,606.7 583.6,608.5 574.6,620.8 574.6,622.6 547.4,659.7 545.9,660.0 521.8,693.0 520.3,693.3 494.4,728.5 492.9,728.8 480.7,745.4 476.1,746.2ZM426.8,756.4 443.6,744.8 459.1,731.8 474.4,716.3 487.6,700.3 500.3,681.8 510.5,663.8 519.5,644.1 527.2,622.9 532.8,602.1 536.8,579.7 538.9,557.6 539.0,535.7 537.3,514.1 533.9,492.7 528.6,471.5 521.6,450.5 513.5,431.4 503.7,412.4 492.0,393.6 480.6,378.4 468.1,364.6 454.0,351.7 439.8,341.3 424.0,332.3 406.6,325.0 387.5,319.5 342.4,311.7 327.8,310.0 309.9,309.6 293.6,310.9 277.2,314.1 260.7,319.3 250.8,323.5 240.9,328.5 224.4,338.9 207.8,352.4 192.9,367.8 179.6,384.9 168.0,403.7 158.1,424.3 150.0,446.6 144.3,468.6 140.6,492.3 139.1,515.7 139.7,540.7 142.3,565.4 147.3,591.6 154.3,617.5 162.4,641.1 172.2,664.4 183.1,685.5 194.9,704.5 208.9,722.9 222.8,737.7 239.0,751.6 255.6,762.6 272.0,771.0 283.4,775.5 296.6,779.4ZM363.9,591.4 357.5,592.0 351.1,590.3 345.8,586.7 340.9,579.9 338.5,572.8 337.8,563.5 339.1,555.9 342.8,546.0 343.1,544.0 342.7,542.5 333.0,534.8 328.0,529.3 323.2,520.6 319.3,508.0 318.2,506.5 316.6,506.3 306.9,509.0 303.6,509.1 298.7,508.4 293.8,506.3 290.5,504.0 287.2,500.4 284.4,495.8 282.6,490.4 281.9,482.9 282.5,477.1 284.3,471.2 286.3,467.1 290.1,461.7 295.0,457.2 299.8,454.4 304.7,452.7 308.0,452.2 316.1,453.2 322.5,456.7 329.1,463.6 330.8,464.5 332.4,463.9 343.6,454.4 351.6,450.1 359.6,447.8 369.2,447.7 377.2,449.9 385.2,454.5 391.6,460.7 397.1,469.2 399.9,476.3 401.7,485.3 401.9,494.6 400.4,504.1 397.9,511.9 394.0,519.9 388.9,527.1 381.0,535.4 380.1,536.8 379.9,538.7 383.7,547.5 385.4,554.7 385.6,562.1 384.2,569.7 380.8,577.7 376.6,583.5 370.3,588.8ZM370.2,588.6 375.0,584.9 379.3,579.8 382.6,573.7 384.9,565.9 385.5,560.2 384.9,552.9 383.4,547.5 379.3,538.8 379.2,536.9 381.0,534.1 388.9,525.8 393.6,518.9 396.9,512.1 399.9,502.3 401.0,492.9 400.5,483.6 398.3,474.6 395.1,467.6 390.0,460.5 382.8,454.3 375.6,450.7 367.6,448.9 359.6,449.1 354.8,450.3 350.0,452.1 343.6,455.7 332.4,465.3 330.8,465.8 329.2,464.7 325.5,460.0 322.0,456.7 317.7,454.2 314.5,453.0 306.3,452.6 298.2,455.3 293.4,458.8 289.3,462.9 286.5,467.1 283.8,473.2 282.4,479.0 282.1,484.8 282.8,490.3 284.6,495.8 287.2,500.0 290.5,503.7 295.4,506.9 298.7,508.1 306.9,508.6 316.6,505.7 318.2,505.5 319.5,506.1 320.4,507.8 323.2,518.1 327.9,527.5 333.6,534.2 342.2,540.4 343.6,542.1 343.7,543.9 343.2,545.9 338.8,557.8 338.1,563.5 338.7,572.8 340.3,578.1 342.1,581.6 344.6,585.0 347.9,588.1 351.1,590.1 354.3,591.2 357.5,591.8 362.3,591.6 367.1,590.2Z"/>
<path fill="#c8e0ec" stroke="#c8e0ec" d="M426.6,756.5 296.6,779.4 283.4,775.5 272.0,771.0 253.9,761.7 237.3,750.3 222.3,737.3 207.6,721.4 194.9,704.5 182.1,683.8 171.4,662.6 161.7,639.3 153.2,613.8 146.1,586.0 141.8,561.6 139.4,536.9 139.1,513.8 140.8,490.4 144.7,466.6 150.6,444.6 158.9,422.2 169.2,401.6 181.1,382.8 194.5,365.9 209.5,350.9 226.0,337.7 242.6,327.6 260.7,319.3 277.2,314.1 293.6,310.9 309.9,309.6 327.8,310.0 342.4,311.7 387.5,319.5 406.6,325.0 424.0,332.3 439.8,341.3 454.0,351.7 468.1,364.6 480.6,378.4 492.0,393.6 503.7,412.4 513.5,431.4 521.6,450.5 528.6,471.5 533.9,492.7 537.3,514.1 539.0,535.7 538.9,557.6 536.8,579.7 532.8,602.1 527.2,622.9 519.5,644.1 510.5,663.8 500.3,681.8 487.6,700.3 474.4,716.3 459.1,731.8 443.6,744.8ZM381.9,733.0 398.2,726.4 413.8,717.8 427.9,708.0 442.4,695.2 455.7,680.5 466.8,665.5 476.4,649.3 484.8,631.5 491.0,614.1 495.9,595.1 498.9,576.4 500.2,557.9 499.8,537.8 497.8,518.0 494.0,496.5 488.9,475.2 483.5,457.5 477.0,439.9 470.6,426.0 462.8,412.2 454.5,400.2 444.8,389.3 435.4,380.9 424.3,373.3 411.6,367.2 397.3,362.8 383.0,360.5 358.9,358.6 336.3,353.3 321.7,350.7 310.3,349.6 298.9,349.7 287.4,351.1 277.6,353.4 264.4,357.9 251.3,364.2 238.1,372.7 226.5,382.2 215.1,394.1 205.3,406.8 196.4,421.4 189.5,435.8 183.5,451.9 179.3,467.9 176.5,483.7 175.1,501.2 175.2,518.5 176.7,535.5 179.8,554.3 184.3,572.8 191.1,594.7 199.9,618.2 209.4,639.6 219.3,658.9 228.9,674.4 238.8,687.9 250.0,700.5 261.6,711.0 274.7,720.6 287.8,727.9 302.5,733.8 318.7,737.9 334.7,739.7 350.7,739.5 366.6,737.1ZM365.5,591.2 362.3,592.1 357.5,592.2 351.1,590.6 345.5,586.7 341.6,581.7 338.7,574.6 337.5,565.5 338.7,555.9 342.4,544.1 341.1,541.9 331.4,534.5 326.0,527.7 322.3,520.7 318.2,508.0 316.6,507.2 308.5,509.1 303.6,509.5 297.1,508.2 292.2,505.6 288.9,502.8 286.2,499.4 284.2,495.8 282.5,490.4 281.7,484.8 282.1,479.1 283.4,473.2 286.1,467.2 288.9,463.0 293.3,458.3 298.2,454.9 303.1,452.9 308.0,451.9 311.2,451.9 316.1,452.8 322.6,456.1 329.1,462.4 330.8,463.1 332.4,462.5 343.6,453.0 351.6,448.6 359.6,446.3 367.6,446.0 377.2,448.4 385.2,453.0 391.6,458.9 397.3,467.3 400.9,476.1 402.7,485.2 402.7,496.4 400.9,505.9 398.0,513.8 393.7,521.8 389.0,528.1 381.0,536.8 380.6,538.6 380.9,540.4 384.6,549.2 385.8,556.5 385.3,565.8 383.0,573.6 379.8,579.7 375.0,585.4 370.3,589.1ZM364.3,591.3 370.3,588.8 376.6,583.5 380.8,577.7 384.2,569.7 385.6,562.1 385.4,554.7 383.7,547.5 379.9,538.7 380.1,536.8 381.0,535.4 388.9,527.1 394.0,519.9 397.9,511.9 400.4,504.1 401.9,494.6 401.7,485.3 399.9,476.3 397.1,469.2 391.6,460.7 385.2,454.5 377.2,449.9 369.2,447.7 359.6,447.8 351.6,450.1 343.6,454.4 332.4,463.9 330.8,464.5 329.1,463.6 322.5,456.7 316.1,453.2 308.0,452.2 304.7,452.7 299.8,454.4 295.0,457.2 290.1,461.7 286.3,467.1 284.3,471.2 282.5,477.1 281.9,482.9 282.6,490.4 284.4,495.8 287.2,500.4 290.5,504.0 293.8,506.3 298.7,508.4 303.6,509.1 306.9,509.0 316.6,506.3 318.2,506.5 319.3,508.0 323.2,520.6 328.0,529.3 333.0,534.8 342.7,542.5 343.1,544.0 342.8,546.0 339.1,555.9 337.8,563.5 338.5,572.8 340.9,579.9 345.8,586.7 351.1,590.3 357.5,592.0Z"/>
<path fill="#b8d8e8" stroke="#b8d8e8" d="M380.9,733.4 365.0,737.5 349.1,739.6 334.7,739.7 318.7,737.9 302.5,733.8 287.8,727.9 274.7,720.6 261.6,711.0 250.0,700.5 238.8,687.9 228.9,674.4 219.3,658.9 209.4,639.6 199.9,618.2 191.1,594.7 184.3,572.8 179.8,554.3 176.7,535.5 175.2,518.5 175.1,501.2 176.5,483.7 179.3,467.9 183.5,451.9 189.5,435.8 196.4,421.4 205.3,406.8 215.1,394.1 226.5,382.2 238.1,372.7 251.3,364.2 264.4,357.9 277.6,353.4 287.4,351.1 298.9,349.7 310.3,349.6 321.7,350.7 336.3,353.3 358.9,358.6 383.0,360.5 397.3,362.8 411.6,367.2 424.3,373.3 435.4,380.9 444.8,389.3 454.5,400.2 462.8,412.2 470.6,426.0 477.0,439.9 483.5,457.5 489.4,476.9 494.4,498.3 498.1,519.8 499.9,539.6 500.1,559.7 498.7,578.2 495.5,597.0 490.4,616.0 483.9,633.5 475.3,651.3 465.4,667.6 454.2,682.4 441.8,695.7 427.9,708.0 412.3,718.8 396.6,727.2ZM377.8,707.9 391.7,702.4 405.8,694.6 419.9,684.4 432.3,672.8 443.2,660.1 452.9,645.8 461.4,629.8 468.4,612.2 472.6,596.9 475.6,579.9 477.0,563.2 476.8,546.7 475.3,530.4 472.4,512.4 466.1,482.0 460.5,458.7 456.6,446.3 452.5,435.7 447.3,425.3 441.8,416.7 435.5,408.8 429.2,402.6 422.9,397.7 414.9,393.2 405.4,389.7 394.3,388.0 384.7,388.0 365.6,389.9 359.2,389.7 326.8,375.9 317.0,372.6 308.8,370.7 297.4,370.1 290.9,370.8 284.3,372.3 272.9,376.3 261.4,381.9 249.9,389.0 240.0,396.8 231.1,405.6 222.4,416.2 215.5,426.7 209.1,439.0 204.1,451.2 200.0,465.2 197.3,479.0 195.9,492.6 195.7,506.0 196.8,521.2 199.2,536.2 202.8,551.0 208.1,567.4 216.4,589.0 228.8,617.6 239.1,638.7 247.0,652.6 255.1,664.5 264.6,676.2 274.4,685.9 285.9,694.9 297.3,701.8 310.3,707.5 323.2,711.1 337.7,713.1 350.5,713.1 364.8,711.3ZM365.5,591.5 359.1,592.6 354.3,592.0 351.1,590.9 345.3,586.7 341.4,581.7 338.5,574.7 337.2,565.5 338.4,556.0 341.1,547.8 341.6,544.3 340.6,542.5 331.4,535.5 326.2,529.6 322.3,522.6 318.2,510.3 316.8,508.3 315.0,508.2 308.5,509.5 303.6,509.8 297.1,508.5 293.8,507.0 290.5,504.7 287.2,501.2 284.9,497.6 282.7,492.3 281.7,486.7 281.6,481.0 283.2,473.2 285.9,467.2 288.6,463.0 293.3,458.1 298.2,454.7 303.1,452.6 306.3,451.9 311.2,451.6 316.1,452.4 322.6,455.5 329.1,461.0 330.7,461.5 332.4,460.9 343.6,451.2 351.6,446.5 359.6,443.7 367.6,443.7 377.2,446.4 385.2,451.1 393.0,458.5 398.6,467.1 402.1,476.0 403.8,485.0 403.8,496.2 401.9,505.8 399.1,513.6 394.7,521.7 390.1,527.9 382.1,536.5 381.3,538.5 381.5,540.3 384.9,549.2 386.1,556.4 385.6,565.8 383.3,573.6 380.1,579.6 375.0,585.7 370.3,589.3ZM365.8,591.1 370.3,589.1 375.0,585.4 379.8,579.7 383.0,573.6 385.3,565.8 385.8,556.5 384.6,549.2 380.9,540.4 380.6,538.6 381.0,536.8 389.0,528.1 393.7,521.8 398.0,513.8 400.9,505.9 402.7,496.4 402.7,485.2 400.9,476.1 397.3,467.3 391.6,458.9 385.2,453.0 377.2,448.4 367.6,446.0 359.6,446.3 351.6,448.6 343.6,453.0 332.4,462.5 330.8,463.1 329.1,462.4 322.6,456.1 316.1,452.8 311.2,451.9 308.0,451.9 303.1,452.9 298.2,454.9 293.3,458.3 288.5,463.5 285.0,469.2 282.8,475.2 281.8,481.0 281.9,486.7 282.9,492.2 285.1,497.6 287.4,501.1 290.5,504.3 293.8,506.7 297.1,508.2 303.6,509.5 308.5,509.1 316.6,507.2 318.2,508.0 322.3,520.7 326.0,527.7 331.4,534.5 341.1,541.9 342.4,544.1 338.7,555.9 337.5,565.5 338.7,574.6 341.6,581.7 345.5,586.7 351.1,590.6 354.3,591.7 359.1,592.3Z"/>
<path fill="#aad0e4" stroke="#aad0e4" d="M377.5,708.0 364.8,711.3 350.5,713.1 337.7,713.1 323.2,711.1 310.3,707.5 297.3,701.8 285.9,694.9 274.4,685.9 264.6,676.2 255.1,664.5 247.0,652.6 238.2,637.0 228.0,615.8 216.4,589.0 208.1,567.4 202.3,549.1 198.8,534.3 196.8,521.2 195.7,506.0 195.9,492.6 197.3,479.0 200.0,465.2 204.1,451.2 209.1,439.0 215.5,426.7 222.4,416.2 231.1,405.6 240.0,396.8 249.9,389.0 261.4,381.9 272.9,376.3 284.3,372.3 290.9,370.8 297.4,370.1 308.8,370.7 317.0,372.6 326.8,375.9 359.2,389.7 365.6,389.9 384.7,388.0 394.3,388.0 405.4,389.7 414.9,393.2 422.9,397.7 429.2,402.6 435.5,408.8 441.8,416.7 447.3,425.3 452.5,435.7 456.6,446.3 460.5,458.7 466.1,482.0 472.4,512.4 475.3,530.4 476.8,546.7 477.0,563.2 475.6,579.9 472.6,596.9 468.4,612.2 461.4,629.8 452.9,645.8 443.2,660.1 432.3,672.8 419.9,684.4 405.8,694.6 391.7,702.4ZM374.9,689.9 388.4,684.5 402.6,676.4 415.1,666.7 426.0,655.7 435.8,643.1 444.3,628.8 450.6,615.0 455.7,599.5 458.5,586.2 460.0,573.1 460.4,560.2 459.5,545.6 456.5,527.6 447.5,490.1 442.0,459.4 439.4,448.6 434.8,436.2 428.7,425.8 421.1,417.5 416.6,414.3 411.9,411.8 407.1,410.1 402.4,409.4 397.6,409.4 392.9,410.3 388.1,412.2 383.8,414.8 380.2,418.1 377.7,421.2 375.5,425.3 374.4,429.2 374.1,432.9 374.7,436.6 378.2,441.8 386.8,449.0 393.2,455.6 397.6,461.7 400.5,466.9 403.8,475.7 405.3,483.0 405.7,490.4 405.0,497.9 402.0,509.5 397.2,519.5 393.0,525.6 383.2,536.4 382.2,538.4 382.7,541.8 385.3,549.1 386.5,558.2 385.4,567.7 383.5,573.5 381.6,577.5 378.2,582.6 375.0,586.0 370.3,589.6 367.1,591.1 363.9,592.2 359.1,592.8 354.3,592.3 351.1,591.1 346.3,588.0 342.2,583.5 339.4,578.3 337.8,572.9 337.0,567.4 337.1,561.8 338.6,554.1 341.0,546.2 340.8,544.4 339.5,542.7 331.1,536.4 325.2,529.7 320.6,521.0 316.6,509.8 315.0,509.1 306.9,510.3 300.4,509.9 293.8,507.4 288.9,503.6 285.7,499.4 283.0,494.1 281.7,488.6 281.3,483.0 283.0,473.3 286.9,465.1 293.3,457.8 299.8,453.7 306.3,451.6 312.8,451.4 317.7,452.5 321.0,453.8 329.1,459.3 330.7,459.6 333.9,457.4 347.3,444.0 350.1,439.8 351.6,435.9 352.4,430.1 352.2,426.4 350.8,420.9 347.3,413.8 340.4,405.3 329.2,395.3 318.8,388.3 310.6,384.4 302.4,382.4 294.3,382.3 286.1,384.0 277.9,387.3 268.1,392.8 256.6,400.8 246.8,409.1 238.6,417.6 232.0,426.0 226.3,434.9 221.0,445.2 217.0,455.3 213.5,467.2 211.6,477.1 210.3,488.7 210.1,500.3 210.8,511.6 212.5,522.9 215.6,535.8 219.8,548.6 225.6,563.0 255.9,628.6 262.6,640.7 269.3,651.0 275.8,659.4 283.4,667.5 293.8,676.5 303.6,682.9 315.0,688.3 326.3,691.8 337.6,693.8 350.4,694.2 363.1,692.8ZM366.9,590.9 371.9,588.2 376.6,584.1 380.1,579.6 383.3,573.6 385.6,565.8 386.1,556.4 384.9,549.2 381.5,540.3 381.3,538.5 382.1,536.5 390.1,527.9 396.0,519.6 399.1,513.6 402.4,503.8 403.9,494.3 403.8,485.0 402.1,476.0 398.6,467.1 393.0,458.5 385.2,451.1 377.2,446.4 367.6,443.7 359.6,443.7 351.6,446.5 343.6,451.2 332.4,460.9 330.7,461.5 329.1,461.0 322.6,455.5 316.1,452.4 311.2,451.6 306.3,451.9 303.1,452.6 298.2,454.7 293.3,458.1 288.6,463.0 285.9,467.2 283.2,473.2 281.6,481.0 281.7,486.7 282.7,492.3 284.9,497.6 287.2,501.2 290.5,504.7 293.8,507.0 297.1,508.5 303.6,509.8 308.5,509.5 315.0,508.2 316.8,508.3 318.2,510.3 322.3,522.6 326.2,529.6 331.4,535.5 340.6,542.5 341.6,544.3 341.1,547.8 338.4,556.0 337.2,565.5 337.7,571.0 339.0,576.5 342.5,583.4 347.9,589.0 354.3,592.0 360.7,592.5Z"/>
<path fill="#98c5dd" stroke="#98c5dd" d="M374.2,690.1 363.1,692.8 350.4,694.2 337.6,693.8 326.3,691.8 315.0,688.3 303.6,682.9 293.8,676.5 283.4,667.5 275.8,659.4 269.3,651.0 262.6,640.7 255.9,628.6 225.6,563.0 219.8,548.6 215.6,535.8 212.5,522.9 210.8,511.6 210.1,500.3 210.3,488.7 211.6,477.1 214.0,465.3 217.7,453.3 222.0,443.1 227.5,432.9 233.7,423.7 240.2,415.8 248.4,407.6 258.3,399.6 269.7,391.8 279.5,386.5 287.7,383.5 295.9,382.2 304.1,382.7 312.2,385.1 320.4,389.2 331.3,397.0 340.4,405.3 347.3,413.8 351.4,422.7 352.2,426.4 352.3,432.0 351.6,435.9 350.1,439.8 345.3,446.1 332.3,458.9 330.7,459.6 329.1,459.3 321.0,453.8 317.7,452.5 312.8,451.4 306.3,451.6 299.8,453.7 293.3,457.8 286.9,465.1 283.0,473.3 281.3,483.0 281.7,488.6 283.0,494.1 285.7,499.4 288.9,503.6 293.8,507.4 300.4,509.9 306.9,510.3 315.0,509.1 316.6,509.8 320.6,521.0 325.2,529.7 331.1,536.4 339.5,542.7 340.8,544.4 341.0,546.2 338.6,554.1 337.1,561.8 337.0,567.4 337.8,572.9 339.4,578.3 342.2,583.5 346.3,588.0 351.1,591.1 354.3,592.3 359.1,592.8 363.9,592.2 367.1,591.1 370.3,589.6 375.0,586.0 378.2,582.6 381.6,577.5 383.5,573.5 385.4,567.7 386.5,558.2 385.3,549.1 382.7,541.8 382.2,538.4 383.2,536.4 393.0,525.6 397.2,519.5 402.0,509.5 405.0,497.9 405.7,490.4 405.3,483.0 403.8,475.7 400.5,466.9 397.6,461.7 393.2,455.6 386.8,449.0 378.2,441.8 374.7,436.6 374.1,432.9 374.4,429.2 375.5,425.3 377.7,421.2 380.2,418.1 383.8,414.8 388.1,412.2 392.9,410.3 397.6,409.4 402.4,409.4 407.1,410.1 411.9,411.8 416.6,414.3 421.1,417.5 428.7,425.8 434.8,436.2 439.4,448.6 442.0,459.4 447.5,490.1 456.5,527.6 459.5,545.6 460.4,560.2 460.0,573.1 458.5,586.2 455.7,599.5 450.6,615.0 443.3,630.8 434.4,645.1 424.4,657.4 413.5,668.0 401.0,677.4 388.4,684.5ZM375.2,675.0 385.2,671.0 393.0,666.7 402.5,660.3 410.3,653.7 417.8,646.0 424.3,637.8 430.0,629.3 435.5,619.2 439.7,609.3 443.4,597.7 445.6,588.2 447.1,576.9 447.5,565.8 446.8,554.8 445.2,544.0 442.5,533.3 436.1,517.0 428.2,502.6 418.7,489.6 415.5,487.5 414.0,487.8 410.8,492.6 405.2,507.2 398.9,519.2 392.8,527.5 384.5,536.2 383.2,538.2 383.0,540.1 386.4,552.7 386.8,560.0 385.2,569.6 383.8,573.5 380.7,579.5 376.6,584.8 373.4,587.7 370.3,589.9 363.9,592.5 359.1,593.1 354.3,592.5 349.5,590.6 346.3,588.4 343.2,585.2 340.8,581.8 338.5,576.5 337.1,571.1 336.7,565.6 337.0,559.9 339.9,548.3 339.8,544.5 329.9,536.6 324.1,529.9 320.3,522.9 316.6,512.4 315.0,510.5 305.3,510.9 298.7,510.0 292.2,506.8 288.9,504.0 286.5,501.2 283.5,495.9 281.2,486.8 281.5,479.2 282.8,473.3 284.4,469.3 289.9,461.0 296.6,455.2 303.1,452.2 311.2,451.0 319.3,452.5 329.1,456.9 330.7,456.6 332.4,455.3 336.3,449.2 338.1,443.3 338.6,435.7 337.1,426.4 334.3,419.3 328.7,410.5 321.2,402.0 314.0,396.1 307.4,392.5 300.9,390.7 294.3,390.5 287.8,391.8 281.3,394.4 273.1,399.4 264.9,405.7 255.1,414.7 247.6,422.7 240.9,431.2 235.5,439.5 231.2,447.7 227.8,455.8 224.7,465.8 222.2,477.6 221.2,487.3 221.1,496.8 221.8,506.3 223.6,517.5 226.0,526.7 229.1,535.8 233.4,545.9 252.0,581.9 271.9,626.1 276.8,634.7 282.4,643.3 287.7,650.0 293.6,656.3 301.8,663.4 311.6,669.8 321.3,674.4 331.0,677.4 342.2,679.2 353.4,679.4 364.6,677.9ZM416.6,472.1 419.5,466.1 421.2,458.5 421.4,451.0 420.0,443.7 417.7,438.5 413.6,433.2 408.8,430.4 404.1,430.2 401.6,431.2 399.4,433.2 397.1,437.4 396.5,443.1 397.5,448.6 401.1,456.4 410.7,471.6 412.3,473.2 413.9,474.0 415.4,473.5Z"/>
<path fill="#84b9d7" stroke="#84b9d7" d="M374.1,675.4 363.0,678.2 351.8,679.4 342.2,679.2 331.0,677.4 319.7,673.7 310.0,668.9 301.0,662.8 292.2,654.9 286.3,648.3 281.2,641.6 271.9,626.1 252.0,581.9 233.4,545.9 229.1,535.8 226.0,526.7 223.6,517.5 221.8,506.3 221.1,496.8 221.2,487.3 222.2,477.6 224.7,465.8 227.8,455.8 231.2,447.7 235.5,439.5 240.9,431.2 247.6,422.7 255.1,414.7 264.9,405.7 273.1,399.4 281.3,394.4 287.8,391.8 294.3,390.5 300.9,390.7 307.4,392.5 314.0,396.1 321.2,402.0 328.7,410.5 334.3,419.3 337.1,426.4 338.6,435.7 338.1,443.3 336.3,449.2 332.4,455.3 330.7,456.6 329.1,456.9 319.3,452.5 311.2,451.0 303.1,452.2 296.6,455.2 289.9,461.0 284.4,469.3 282.8,473.3 281.5,479.2 281.2,486.8 283.5,495.9 286.5,501.2 288.9,504.0 292.2,506.8 298.7,510.0 305.3,510.9 315.0,510.5 316.6,512.4 320.3,522.9 324.1,529.9 329.9,536.6 339.8,544.5 339.9,548.3 337.0,559.9 336.7,565.6 337.1,571.1 338.5,576.5 340.8,581.8 343.2,585.2 346.3,588.4 349.5,590.6 354.3,592.5 359.1,593.1 363.9,592.5 370.3,589.9 373.4,587.7 376.6,584.8 380.7,579.5 383.8,573.5 385.2,569.6 386.8,560.0 386.4,552.7 383.0,540.1 383.2,538.2 384.5,536.2 392.8,527.5 398.9,519.2 405.2,507.2 410.8,492.6 414.0,487.8 415.5,487.5 418.7,489.6 428.2,502.6 436.1,517.0 442.5,533.3 445.2,544.0 446.8,554.8 447.5,565.8 447.1,576.9 445.6,588.2 443.4,597.7 439.7,609.3 435.5,619.2 430.0,629.3 424.3,637.8 417.8,646.0 410.3,653.7 402.5,660.3 393.0,666.7 383.6,671.7ZM368.7,665.0 377.2,662.2 385.1,658.6 392.9,653.9 400.8,648.0 407.1,642.3 413.3,635.4 419.4,627.3 424.3,619.1 428.2,611.1 432.0,601.3 434.6,591.7 436.2,582.2 437.0,572.9 436.8,563.7 435.7,554.7 433.5,545.7 431.0,538.7 427.6,531.8 424.1,526.8 420.5,522.8 417.3,520.2 412.6,517.8 407.8,517.0 404.7,517.9 401.5,520.3 384.5,538.0 384.2,541.8 386.1,549.0 387.0,554.4 386.7,563.8 385.5,569.5 383.2,575.4 377.9,583.7 375.0,586.7 370.3,590.1 365.5,592.3 360.7,593.3 357.5,593.3 352.7,592.4 347.9,589.9 344.3,586.9 340.5,581.9 338.8,578.4 336.8,571.2 336.5,561.9 337.2,556.1 339.1,548.4 339.3,546.5 338.6,544.7 329.8,538.0 323.8,531.8 319.6,524.9 315.5,514.2 314.4,512.4 311.8,511.7 302.0,511.3 297.1,509.9 293.8,508.3 290.5,506.0 286.2,501.3 283.2,496.0 282.0,492.3 281.2,488.7 280.9,483.0 282.6,473.3 286.4,465.2 291.7,458.8 295.0,456.1 299.8,453.2 308.0,450.8 316.1,451.0 324.2,453.2 327.4,453.6 329.1,452.5 330.4,449.9 331.5,444.1 331.0,434.8 328.4,425.7 323.9,416.8 317.6,408.1 310.8,401.9 304.2,398.3 297.7,396.8 289.5,397.6 283.0,400.2 276.4,404.2 269.9,409.6 263.4,416.0 255.0,425.5 248.6,434.0 243.2,442.3 238.9,450.5 235.6,458.6 233.1,466.6 231.4,474.4 230.2,484.2 229.9,491.8 230.5,501.3 232.0,510.6 233.8,518.0 237.0,527.1 242.0,537.8 259.4,565.6 265.1,576.1 269.7,586.8 278.5,610.0 284.1,622.3 291.3,634.4 299.3,644.4 306.6,651.3 314.4,657.0 322.8,661.5 330.9,664.5 340.5,666.7 350.1,667.4 359.7,666.8ZM415.4,473.5 413.9,474.0 412.3,473.2 409.1,469.4 399.7,453.9 397.0,446.8 396.5,441.3 397.8,435.7 400.9,431.7 404.1,430.2 408.8,430.4 413.8,433.4 417.7,438.5 420.5,445.5 421.5,452.9 420.9,460.4 418.6,468.7Z"/>
<path fill="#72aed0" stroke="#72aed0" d="M367.7,665.2 358.1,667.0 348.5,667.4 338.9,666.4 330.9,664.5 321.2,660.7 313.1,656.1 304.9,649.9 298.4,643.4 291.3,634.4 284.1,622.3 278.5,610.0 269.7,586.8 265.1,576.1 259.4,565.6 242.0,537.8 237.0,527.1 233.8,518.0 232.0,510.6 230.5,501.3 229.9,491.8 230.2,484.2 231.4,474.4 233.1,466.6 235.6,458.6 238.9,450.5 243.2,442.3 248.6,434.0 255.0,425.5 263.4,416.0 269.9,409.6 276.4,404.2 283.0,400.2 289.5,397.6 297.7,396.8 304.2,398.3 310.8,401.9 317.6,408.1 323.9,416.8 328.4,425.7 331.0,434.8 331.5,444.1 330.4,449.9 329.1,452.5 327.4,453.6 324.2,453.2 316.1,451.0 308.0,450.8 299.8,453.2 295.0,456.1 291.7,458.8 286.4,465.2 282.6,473.3 280.9,483.0 281.2,488.7 282.0,492.3 283.2,496.0 286.2,501.3 290.5,506.0 293.8,508.3 297.1,509.9 302.0,511.3 311.8,511.7 314.4,512.4 315.5,514.2 319.6,524.9 323.8,531.8 329.8,538.0 338.6,544.7 339.3,546.5 339.1,548.4 337.2,556.1 336.5,561.9 336.8,571.2 338.8,578.4 340.5,581.9 344.3,586.9 347.9,589.9 352.7,592.4 357.5,593.3 360.7,593.3 365.5,592.3 370.3,590.1 375.0,586.7 377.9,583.7 383.2,575.4 385.5,569.5 386.7,563.8 387.0,554.4 386.1,549.0 384.2,541.8 384.5,538.0 401.5,520.3 404.7,517.9 407.8,517.0 412.6,517.8 417.3,520.2 420.5,522.8 424.1,526.8 427.6,531.8 431.0,538.7 433.5,545.7 435.7,554.7 436.8,563.7 437.0,572.9 436.2,582.2 434.6,591.7 432.0,601.3 428.2,611.1 424.3,619.1 419.4,627.3 413.3,635.4 407.1,642.3 399.2,649.3 391.4,654.9 383.5,659.4 375.6,662.8ZM374.6,652.9 381.8,649.7 388.2,646.1 394.4,641.6 400.7,636.1 410.5,625.0 414.8,618.7 419.2,610.7 422.6,602.8 425.1,595.0 427.9,579.8 427.9,565.1 426.8,557.8 424.8,550.7 422.7,545.5 419.9,540.3 415.9,535.4 412.7,532.5 409.5,530.5 404.7,528.7 400.0,528.6 396.8,529.8 388.7,535.6 386.5,537.8 385.4,539.8 387.4,554.4 386.8,565.6 383.6,575.4 380.0,581.5 376.6,585.5 371.9,589.5 368.7,591.3 363.9,593.0 359.1,593.6 355.9,593.5 351.1,592.1 346.3,589.2 343.9,586.9 339.3,580.2 337.3,574.9 336.3,569.4 336.0,561.9 338.0,550.4 337.9,546.3 336.3,544.4 326.0,537.1 321.2,532.2 317.8,527.0 312.6,514.6 309.9,513.1 300.4,511.7 297.1,510.5 292.2,507.8 288.9,505.0 285.8,501.3 282.9,496.0 281.7,492.4 280.7,483.0 281.9,475.3 285.0,467.3 290.1,460.1 296.6,454.7 299.8,452.9 304.7,451.1 311.2,450.1 321.7,451.1 324.2,450.9 326.1,448.6 326.8,444.8 325.8,435.5 322.8,426.4 318.2,417.5 312.9,410.6 307.5,406.0 301.0,402.8 294.4,402.0 287.9,403.3 283.0,405.5 276.5,410.0 271.6,414.4 265.1,421.5 257.9,430.9 252.4,439.2 247.7,447.5 244.0,455.6 239.5,469.5 238.1,477.4 237.4,485.1 237.4,492.7 238.1,500.3 239.5,507.7 241.6,515.0 246.2,525.8 251.4,534.5 258.1,543.5 269.3,556.6 275.1,565.2 279.7,575.9 287.0,601.2 291.7,613.6 299.3,627.5 308.1,638.4 314.6,644.2 322.7,649.7 330.8,653.4 338.8,655.8 346.9,657.0 356.4,657.0 366.0,655.5Z"/>
<path fill="#63a2ca" stroke="#63a2ca" d="M373.9,653.1 366.0,655.5 356.4,657.0 346.9,657.0 338.8,655.8 329.2,652.8 321.1,648.7 314.1,643.9 307.2,637.5 299.3,627.5 291.7,613.6 287.0,601.2 279.7,575.9 275.1,565.2 269.3,556.6 258.1,543.5 251.4,534.5 246.2,525.8 241.6,515.0 239.5,507.7 238.1,500.3 237.4,492.7 237.4,485.1 238.1,477.4 239.5,469.5 244.0,455.6 247.7,447.5 252.4,439.2 257.9,430.9 265.1,421.5 271.6,414.4 276.5,410.0 283.0,405.5 287.9,403.3 294.4,402.0 301.0,402.8 307.5,406.0 312.9,410.6 318.2,417.5 322.8,426.4 325.8,435.5 326.8,444.8 326.1,448.6 324.2,450.9 321.7,451.1 311.2,450.1 304.7,451.1 299.8,452.9 296.6,454.7 290.1,460.1 285.0,467.3 281.9,475.3 280.7,483.0 281.7,492.4 282.9,496.0 285.8,501.3 288.9,505.0 292.2,507.8 297.1,510.5 300.4,511.7 309.9,513.1 312.6,514.6 317.8,527.0 321.2,532.2 326.0,537.1 336.3,544.4 337.9,546.3 338.0,550.4 336.0,561.9 336.3,569.4 337.3,574.9 339.3,580.2 343.9,586.9 346.3,589.2 351.1,592.1 355.9,593.5 359.1,593.6 363.9,593.0 368.7,591.3 371.9,589.5 376.6,585.5 380.0,581.5 383.6,575.4 386.8,565.6 387.4,554.4 385.4,539.8 386.5,537.8 388.7,535.6 396.8,529.8 400.0,528.6 404.7,528.7 409.5,530.5 412.7,532.5 415.9,535.4 419.9,540.3 422.7,545.5 424.8,550.7 426.8,557.8 427.9,565.1 427.9,579.8 425.1,595.0 422.6,602.8 419.2,610.7 414.8,618.7 410.5,625.0 400.7,636.1 394.4,641.6 388.2,646.1 381.8,649.7ZM364.3,647.1 370.7,645.4 377.0,642.9 383.4,639.6 389.7,635.4 395.9,630.1 400.6,625.3 408.9,614.1 412.3,608.1 415.8,600.1 418.3,592.4 419.9,584.7 420.6,577.2 420.6,569.8 419.7,562.6 418.4,557.2 416.4,552.0 413.5,546.8 411.0,543.5 407.6,540.3 403.2,537.6 400.1,536.5 395.3,536.1 392.1,536.8 389.0,538.6 387.0,541.4 388.0,558.0 387.1,565.6 385.6,571.4 381.8,579.4 376.6,585.9 371.9,589.8 367.1,592.3 362.3,593.6 357.5,593.9 351.1,592.4 347.9,590.7 342.1,585.4 338.9,580.2 337.5,576.7 335.8,569.5 335.5,562.0 336.8,550.6 336.2,546.9 331.5,543.8 319.0,538.1 314.4,535.0 311.3,529.8 309.6,518.8 309.0,517.0 307.7,515.3 295.5,510.5 290.6,507.2 287.3,503.9 284.3,499.6 281.4,492.4 280.5,483.1 281.6,475.3 284.7,467.3 290.1,459.8 295.0,455.5 299.8,452.6 307.9,450.0 319.3,449.5 320.9,448.9 322.5,447.2 322.9,445.3 322.2,437.8 320.0,430.5 315.8,421.6 310.9,414.8 305.9,410.3 301.0,407.6 296.1,406.5 289.6,407.2 284.7,409.2 279.8,412.3 274.9,416.5 270.1,421.7 259.6,436.4 251.0,452.8 246.1,466.8 243.7,480.4 243.5,488.1 244.0,495.6 246.8,508.6 249.6,515.7 252.4,521.1 259.7,531.1 268.0,539.1 283.6,550.8 287.8,555.8 290.4,563.0 294.1,588.8 297.7,603.3 300.3,610.4 303.7,617.4 311.2,628.4 316.7,634.1 322.6,638.8 329.1,642.7 335.5,645.4 342.0,647.2 350.0,648.3 356.4,648.2Z"/>
<path fill="#5c98c5" stroke="#5c98c5" d="M362.8,647.4 354.8,648.3 348.4,648.1 340.4,646.9 333.9,644.8 327.5,641.9 321.0,637.7 316.1,633.6 311.2,628.4 303.7,617.4 300.3,610.4 297.7,603.3 294.1,588.8 290.4,563.0 287.8,555.8 283.6,550.8 268.0,539.1 259.7,531.1 252.4,521.1 249.6,515.7 246.8,508.6 244.0,495.6 243.5,488.1 243.7,480.4 246.1,466.8 251.0,452.8 259.6,436.4 270.1,421.7 274.9,416.5 279.8,412.3 284.7,409.2 289.6,407.2 296.1,406.5 301.0,407.6 305.9,410.3 310.9,414.8 315.8,421.6 320.0,430.5 322.2,437.8 322.9,445.3 322.5,447.2 320.9,448.9 319.3,449.5 307.9,450.0 299.8,452.6 295.0,455.5 290.1,459.8 284.7,467.3 281.6,475.3 280.5,483.1 281.4,492.4 284.3,499.6 287.3,503.9 290.6,507.2 295.5,510.5 307.7,515.3 309.0,517.0 309.6,518.8 311.3,529.8 314.4,535.0 319.0,538.1 331.5,543.8 336.2,546.9 336.8,550.6 335.5,562.0 335.8,569.5 337.5,576.7 338.9,580.2 342.1,585.4 347.9,590.7 351.1,592.4 357.5,593.9 362.3,593.6 367.1,592.3 371.9,589.8 376.6,585.9 381.8,579.4 385.6,571.4 387.1,565.6 388.0,558.0 387.0,541.4 389.0,538.6 392.1,536.8 395.3,536.1 400.1,536.5 403.2,537.6 407.6,540.3 411.0,543.5 413.5,546.8 416.4,552.0 418.4,557.2 419.7,562.6 420.6,569.8 420.6,577.2 419.9,584.7 418.3,592.4 415.8,600.1 412.3,608.1 408.9,614.1 404.7,620.3 399.3,626.7 394.4,631.6 388.1,636.6 381.8,640.5 375.5,643.6 369.1,645.9ZM374.1,636.3 384.9,630.3 391.2,625.3 395.9,620.6 400.6,614.9 404.3,609.3 410.0,597.3 411.9,591.5 413.5,583.9 414.2,576.4 414.0,570.8 412.0,560.0 409.8,554.8 406.6,549.7 403.3,546.3 398.5,543.3 393.8,542.1 390.5,542.8 388.9,544.9 388.5,559.8 387.1,567.4 385.2,573.3 382.2,579.3 376.6,586.4 370.3,591.2 363.9,593.7 359.1,594.3 354.3,593.9 347.9,591.2 343.1,587.1 339.4,582.0 337.1,576.8 335.6,571.3 335.0,564.0 335.2,552.7 334.7,550.1 333.9,549.1 329.9,547.7 323.4,547.9 317.0,549.7 312.1,552.3 309.7,554.5 307.3,557.8 304.5,564.7 302.8,574.3 302.6,583.8 304.0,594.8 306.4,603.9 310.2,612.7 314.4,619.5 319.9,626.1 325.8,631.2 332.2,635.3 340.3,638.6 348.3,640.2 356.3,640.5 365.9,639.0ZM292.4,534.4 297.3,531.4 300.5,527.3 303.1,521.6 303.6,517.7 302.8,515.9 300.9,514.3 293.9,510.5 288.9,506.4 286.1,503.1 283.0,497.9 281.1,492.5 280.3,486.9 280.4,481.2 281.3,475.4 282.6,471.4 285.7,465.3 290.1,459.5 293.3,456.5 298.2,453.1 303.1,450.9 317.9,447.8 319.5,445.7 319.7,443.8 318.9,438.2 317.2,432.8 314.0,425.6 310.7,420.4 307.6,416.8 302.7,412.9 299.4,411.4 294.5,410.6 288.0,411.8 284.7,413.3 279.8,416.6 273.1,423.2 265.4,433.7 257.6,448.1 252.8,460.2 249.8,472.0 248.7,483.6 249.4,494.9 251.6,504.1 255.3,513.1 261.2,521.8 267.8,528.1 276.1,532.9 284.3,535.2 289.2,535.2Z"/>
<path fill="#538cc0" stroke="#538cc0" d="M373.8,636.4 365.9,639.0 356.3,640.5 348.3,640.2 340.3,638.6 332.2,635.3 325.8,631.2 319.9,626.1 314.4,619.5 310.2,612.7 306.4,603.9 304.0,594.8 302.6,583.8 302.8,574.3 304.5,564.7 307.3,557.8 309.7,554.5 312.1,552.3 317.0,549.7 323.4,547.9 329.9,547.7 333.9,549.1 334.7,550.1 335.2,552.7 335.0,564.0 335.6,571.3 337.1,576.8 339.4,582.0 343.1,587.1 347.9,591.2 354.3,593.9 359.1,594.3 363.9,593.7 370.3,591.2 376.6,586.4 382.2,579.3 385.2,573.3 387.1,567.4 388.5,559.8 388.9,544.9 390.5,542.8 393.8,542.1 398.8,543.4 403.5,546.4 407.8,551.4 410.6,556.5 412.5,561.8 414.1,572.7 414.0,580.1 413.2,585.8 411.4,593.4 409.3,599.3 403.0,611.4 394.7,621.9 384.9,630.3ZM366.7,631.9 372.2,630.0 378.5,626.9 384.8,622.7 389.5,618.6 394.3,613.5 398.9,607.0 402.6,600.3 405.1,594.4 407.2,586.7 408.3,579.1 408.2,571.7 407.4,566.3 405.9,560.9 403.3,555.7 399.1,550.8 395.4,548.5 392.2,548.0 390.6,549.3 388.6,563.5 387.1,569.3 383.8,577.2 381.3,581.3 376.6,586.9 373.5,589.5 370.3,591.6 363.9,594.1 359.2,594.7 352.7,593.8 346.3,590.5 341.2,585.5 338.9,582.1 336.0,575.0 334.3,565.9 333.6,556.7 333.2,554.9 331.5,553.6 329.9,553.5 326.7,554.3 323.5,556.0 319.9,558.7 315.5,564.0 312.3,570.9 310.9,576.9 310.3,584.5 310.6,590.1 311.9,597.4 314.2,604.6 316.6,609.8 319.8,614.9 323.8,619.9 332.2,626.9 337.0,629.6 343.4,632.0 349.9,633.3 354.7,633.5 361.0,633.1ZM290.8,534.9 284.3,535.2 276.1,532.9 267.8,528.1 261.2,521.8 255.3,513.1 251.6,504.1 249.4,494.9 248.7,483.6 249.8,472.0 252.8,460.2 257.6,448.1 265.4,433.7 273.1,423.2 279.8,416.6 284.7,413.3 288.0,411.8 294.5,410.6 299.4,411.4 302.7,412.9 307.6,416.8 310.7,420.4 314.0,425.6 317.2,432.8 318.9,438.2 319.7,443.8 319.5,445.7 317.9,447.8 303.1,450.9 298.2,453.1 293.3,456.5 290.1,459.5 285.7,465.3 282.6,471.4 281.3,475.4 280.4,481.2 280.3,486.9 281.1,492.5 283.0,497.9 286.1,503.1 288.9,506.4 293.9,510.5 300.9,514.3 302.8,515.9 303.6,517.7 303.6,519.6 302.4,523.5 298.9,529.6 295.7,532.7ZM287.6,525.6 292.3,523.8 295.6,521.3 297.5,518.6 297.9,516.6 297.3,514.8 295.7,513.2 290.6,509.0 286.8,504.9 283.5,499.7 281.3,494.3 280.2,488.8 279.9,483.2 281.1,475.4 282.4,471.4 286.8,463.3 293.3,456.2 301.4,451.2 314.4,447.2 316.1,446.2 316.8,444.2 316.5,440.4 314.2,433.2 311.7,427.8 308.3,422.6 304.4,418.4 301.1,416.2 297.8,414.8 294.6,414.3 288.0,415.5 281.5,419.2 275.0,425.5 269.3,433.3 263.4,443.5 258.2,455.6 254.8,467.5 253.2,479.2 253.3,488.7 254.9,497.9 258.3,507.0 262.5,514.0 267.8,519.6 274.4,523.9 280.9,525.9Z"/>
<path fill="#4c83ba" stroke="#4c83ba" d="M365.8,632.1 359.5,633.3 353.1,633.5 346.7,632.8 341.8,631.5 336.2,629.2 331.1,626.3 327.1,623.2 322.3,618.3 318.6,613.2 315.7,608.1 313.5,602.8 311.5,595.6 310.4,588.2 310.3,582.6 311.2,575.0 312.9,569.1 316.1,563.0 320.3,558.3 326.7,554.3 329.9,553.5 331.5,553.6 333.2,554.9 333.6,556.7 334.3,565.9 336.0,575.0 338.9,582.1 341.2,585.5 346.3,590.5 352.7,593.8 359.2,594.7 363.9,594.1 370.3,591.6 373.5,589.5 376.6,586.9 381.3,581.3 383.8,577.2 387.1,569.3 388.6,563.5 390.6,549.3 392.2,548.0 395.4,548.5 399.1,550.8 403.3,555.7 405.9,560.9 407.4,566.3 408.2,571.7 408.3,579.1 407.2,586.7 405.1,594.4 402.6,600.3 398.9,607.0 394.3,613.5 389.5,618.6 384.8,622.7 378.5,626.9 372.2,630.0ZM372.3,623.6 380.0,619.2 387.9,612.6 394.2,604.8 399.3,595.3 402.3,585.6 403.2,574.3 401.7,565.2 398.5,558.3 395.4,555.0 393.8,554.2 392.3,554.4 390.7,557.0 388.4,567.2 385.4,575.1 379.8,584.0 375.0,588.8 370.3,592.0 365.5,594.1 359.2,595.2 352.8,594.3 349.5,593.0 346.3,591.1 342.0,587.2 338.5,582.2 336.0,576.9 334.0,569.7 333.2,564.6 331.6,560.2 330.0,559.7 326.8,561.3 322.5,565.8 319.2,571.9 317.5,577.8 316.7,585.4 317.3,592.8 319.2,600.0 322.3,607.1 325.6,612.2 330.0,617.1 335.3,621.3 340.2,623.9 346.6,626.2 353.0,627.1 359.4,627.0 365.8,625.9ZM287.5,525.7 280.9,525.9 274.4,523.9 267.8,519.6 262.5,514.0 258.3,507.0 254.9,497.9 253.3,488.7 253.2,479.2 254.8,467.5 258.2,455.6 263.4,443.5 269.3,433.3 275.0,425.5 281.5,419.2 288.0,415.5 294.6,414.3 297.8,414.8 301.1,416.2 304.4,418.4 308.3,422.6 311.7,427.8 314.2,433.2 316.5,440.4 316.8,444.2 316.1,446.2 314.4,447.2 301.4,451.2 293.3,456.2 286.8,463.3 282.4,471.4 281.1,475.4 279.9,483.2 280.2,488.8 281.3,494.3 283.5,499.7 286.8,504.9 290.6,509.0 295.7,513.2 297.3,514.8 297.9,516.6 297.2,519.2 294.0,522.7 290.7,524.6ZM290.7,517.6 292.5,515.5 292.5,513.6 285.6,504.4 282.9,499.8 280.1,490.7 279.8,481.3 281.4,473.5 285.1,465.4 288.5,460.6 291.7,457.3 299.8,451.6 312.6,446.6 314.0,444.5 314.2,442.6 313.4,438.9 311.4,433.5 306.2,424.7 301.1,420.1 297.9,418.5 294.6,417.9 289.7,418.4 283.2,421.6 276.7,427.7 271.3,434.9 265.7,445.1 260.9,457.2 257.9,469.0 256.8,478.7 257.2,488.1 259.2,497.4 262.2,504.6 267.0,511.5 272.6,516.3 279.2,519.1 285.8,519.4Z"/>
<path fill="#4475a8" stroke="#4475a8" d="M372.1,623.6 365.8,625.9 359.4,627.0 353.0,627.1 346.6,626.2 340.2,623.9 335.3,621.3 330.0,617.1 325.6,612.2 322.3,607.1 319.2,600.0 317.3,592.8 316.7,585.4 317.5,577.8 319.2,571.9 322.5,565.8 326.8,561.3 330.0,559.7 331.6,560.2 333.2,564.6 334.0,569.7 336.0,576.9 338.5,582.2 342.0,587.2 346.3,591.1 349.5,593.0 352.8,594.3 359.2,595.2 365.5,594.1 370.3,592.0 375.0,588.8 379.8,584.0 385.4,575.1 388.4,567.2 390.7,557.0 392.3,554.4 393.8,554.2 395.4,555.0 398.5,558.3 401.7,565.2 403.2,574.3 402.3,585.6 399.3,595.3 394.2,604.8 387.9,612.6 380.0,619.2ZM371.3,618.2 378.4,614.1 384.7,608.8 390.1,602.2 394.7,594.1 397.4,586.3 398.6,576.8 398.0,569.5 396.9,566.0 395.1,562.5 393.9,561.3 392.3,561.1 390.7,563.2 385.1,577.0 381.1,583.2 376.6,588.1 373.5,590.6 368.7,593.4 363.9,595.0 359.2,595.6 356.0,595.5 351.2,594.3 346.3,591.8 343.1,589.1 337.8,582.3 331.7,567.3 330.0,566.5 328.4,567.4 325.7,570.9 323.4,576.9 322.4,582.7 322.4,588.3 323.2,593.8 324.8,599.2 327.3,604.4 330.8,609.5 335.3,613.9 340.1,617.3 344.9,619.5 349.8,620.8 354.6,621.4 361.0,621.1 365.7,620.2ZM290.7,517.6 285.8,519.4 279.2,519.1 272.6,516.3 267.0,511.5 262.2,504.6 259.2,497.4 257.2,488.1 256.8,478.7 257.9,469.0 260.9,457.2 265.7,445.1 271.3,434.9 276.7,427.7 283.2,421.6 289.7,418.4 294.6,417.9 297.9,418.5 301.1,420.1 306.2,424.7 311.4,433.5 313.4,438.9 314.2,442.6 314.0,444.5 312.6,446.6 299.8,451.6 291.7,457.3 288.5,460.6 285.1,465.4 281.4,473.5 279.8,481.3 280.1,490.7 282.9,499.8 285.6,504.4 292.5,513.6 292.5,515.5ZM287.7,512.4 287.8,510.5 287.1,508.7 281.6,498.1 279.7,490.8 279.3,485.1 279.6,479.4 281.7,471.5 284.6,465.5 290.1,458.3 294.9,454.1 299.8,451.1 309.3,447.1 311.4,444.9 311.7,443.0 311.0,439.3 309.4,435.2 304.5,427.2 299.5,422.9 294.6,421.3 289.7,421.7 283.2,425.1 278.3,429.6 273.5,436.1 268.6,444.8 264.5,454.8 261.7,464.7 260.2,474.4 260.2,483.9 261.3,491.4 263.7,498.7 267.6,505.4 272.6,510.5 277.5,513.3 280.8,514.2 284.1,514.3 285.7,513.9Z"/>
<path fill="#3e6998" stroke="#3e6998" d="M370.5,618.5 365.7,620.2 359.4,621.3 353.0,621.3 348.2,620.5 343.3,618.9 338.5,616.3 333.9,612.8 330.8,609.5 327.3,604.4 324.8,599.2 323.2,593.8 322.4,588.3 322.4,582.7 323.4,576.9 325.7,570.9 328.4,567.4 330.0,566.5 331.7,567.3 337.8,582.3 343.1,589.1 346.3,591.8 351.2,594.3 356.0,595.5 359.2,595.6 363.9,595.0 368.7,593.4 373.5,590.6 376.6,588.1 381.1,583.2 385.1,577.0 390.7,563.2 392.3,561.1 393.9,561.3 395.1,562.5 396.9,566.0 398.0,569.5 398.6,576.8 397.4,586.3 394.7,594.1 390.1,602.2 384.7,608.8 378.4,614.1ZM371.8,612.5 378.4,608.3 383.1,603.9 387.0,599.0 390.5,592.9 392.8,587.0 394.2,579.4 394.0,572.8 392.4,568.9 390.8,568.9 382.0,583.1 375.1,590.3 370.3,593.4 363.9,595.8 360.8,596.4 352.8,595.7 346.3,592.7 342.0,589.1 339.1,585.8 333.3,576.0 331.7,574.2 330.1,574.5 328.5,577.2 327.4,581.9 327.8,591.3 330.8,600.1 333.6,604.5 337.2,608.5 341.3,611.6 344.9,613.6 352.9,615.9 357.7,616.2 362.5,615.6 367.3,614.4ZM287.3,512.9 285.7,513.9 282.5,514.3 277.5,513.3 274.2,511.6 270.9,509.1 266.6,504.0 263.7,498.7 261.3,491.4 260.2,483.9 260.2,474.4 261.7,464.7 264.5,454.8 268.6,444.8 273.5,436.1 278.3,429.6 283.2,425.1 289.7,421.7 294.6,421.3 299.5,422.9 304.5,427.2 309.4,435.2 311.0,439.3 311.7,443.0 311.4,444.9 309.3,447.1 299.8,451.1 294.9,454.1 290.1,458.3 284.6,465.5 281.7,471.5 279.6,479.4 279.3,485.1 279.7,490.8 281.6,498.1 287.8,510.5ZM283.9,507.2 279.7,494.6 279.1,489.0 279.4,477.5 281.0,471.6 284.1,465.5 291.7,456.1 298.2,451.3 306.5,447.4 308.9,445.2 309.4,443.3 308.0,437.8 303.8,430.7 299.6,426.6 294.7,424.6 289.8,424.9 284.9,427.2 280.0,431.4 276.2,436.2 271.3,444.4 267.8,452.5 264.8,462.4 263.3,470.2 262.8,477.9 263.3,485.4 265.0,492.8 267.5,498.6 270.9,503.4 275.8,507.6 280.8,509.4 282.4,509.2Z"/>
<path fill="#375c85" stroke="#375c85" d="M370.5,613.1 362.5,615.6 357.7,616.2 352.9,615.9 344.9,613.6 340.1,610.8 336.8,608.1 333.6,604.5 330.8,600.1 327.8,591.3 327.4,581.9 328.5,577.2 330.1,574.5 331.7,574.2 333.3,576.0 339.1,585.8 342.0,589.1 346.3,592.7 352.8,595.7 360.8,596.4 363.9,595.8 370.3,593.4 375.1,590.3 382.0,583.1 390.8,568.9 392.4,568.9 394.0,572.8 394.2,579.4 392.8,587.0 390.5,592.9 387.0,599.0 381.7,605.4 376.8,609.5ZM282.4,509.2 279.1,509.1 274.2,506.5 269.5,501.7 266.4,496.4 264.5,490.9 263.1,483.5 262.9,476.0 263.6,468.2 265.8,458.4 268.6,450.5 272.4,442.4 276.2,436.2 280.0,431.4 284.9,427.2 289.8,424.9 294.7,424.6 299.6,426.6 303.8,430.7 308.0,437.8 309.4,443.3 308.9,445.2 306.5,447.4 298.2,451.3 291.7,456.1 284.1,465.5 281.0,471.6 279.4,477.5 279.0,487.1 279.7,494.6 283.9,507.2Z"/>
<path fill="#8b344b" stroke="#8b344b" d="M826.4,589.0 837.6,590.7 839.2,589.7 841.9,589.3 844.3,587.8 848.9,583.1 849.6,581.1 850.5,580.1 851.0,577.5 852.2,576.4 852.5,568.4 852.3,560.4 851.1,558.8 850.7,556.2 849.7,554.9 849.1,552.6 844.7,546.7 842.6,544.5 837.9,541.7 826.7,540.1 825.1,541.3 822.9,541.7 821.9,542.7 820.3,542.9 816.9,546.4 815.2,549.9 813.9,551.3 813.4,555.2 812.3,556.3 812.0,562.5 812.2,568.7 813.2,570.1 813.6,573.9 815.1,575.9 815.3,577.3 820.1,584.3 821.7,584.9 823.3,586.7 824.9,587.2ZM826.7,531.3 839.3,532.8 841.2,531.7 843.5,531.5 844.4,530.6 846.5,530.1 851.1,527.0 854.3,523.7 857.6,518.5 857.8,516.6 859.2,515.0 859.8,511.3 860.8,509.5 861.2,500.2 860.9,490.7 859.8,488.7 859.3,484.9 854.4,474.8 851.3,470.6 846.4,465.9 844.8,465.4 843.2,463.6 839.9,462.7 838.8,461.4 827.1,459.8 825.5,460.8 822.3,460.9 820.7,462.2 818.7,462.5 815.9,465.0 814.3,465.6 811.0,469.0 810.4,470.8 807.7,474.2 807.4,476.0 806.1,477.7 805.6,481.4 804.6,482.4 804.1,492.4 804.5,502.6 805.4,503.7 805.9,507.5 807.2,509.6 807.5,511.5 810.6,517.5 815.6,523.9 817.2,524.7 821.2,528.4Z"/>
<path fill="#9e3a4f" stroke="#9e3a4f" d="M826.4,589.1 832.8,590.5 837.6,590.8 842.5,589.4 844.6,587.8 848.9,583.4 850.5,580.9 852.5,575.9 852.9,568.4 852.5,560.9 850.7,555.5 849.1,552.2 845.0,546.7 842.7,544.3 837.9,541.5 833.1,540.4 826.7,539.9 820.3,542.7 815.5,547.9 814.9,549.8 813.6,551.5 812.9,555.1 812.3,555.8 811.9,562.4 812.2,569.4 815.2,577.8 820.1,584.5ZM826.0,588.7 824.9,587.2 822.8,586.4 821.7,584.9 819.9,584.1 816.7,579.9 815.1,575.9 813.8,574.2 813.2,570.1 812.1,568.0 812.1,560.6 812.1,556.9 813.4,555.2 813.8,551.5 815.2,549.9 816.9,546.4 820.3,542.9 821.9,542.7 822.9,541.7 825.1,541.3 826.7,540.1 837.9,541.7 842.6,544.5 844.7,546.7 849.1,552.6 849.7,554.9 850.7,556.2 851.1,558.8 852.3,560.4 852.5,568.4 852.2,576.4 851.0,577.5 850.5,580.1 849.6,581.1 848.9,583.1 844.3,587.8 841.9,589.3 839.2,589.7 837.6,590.7ZM825.1,531.0 833.1,532.7 839.6,533.0 844.3,531.6 849.6,528.6 854.6,523.7 859.0,516.0 861.0,509.6 861.6,502.1 861.1,490.8 859.6,484.9 857.6,480.1 852.8,472.1 849.6,468.5 843.2,463.4 838.3,461.0 828.7,459.6 822.3,460.6 819.1,462.1 814.3,465.3 810.8,469.0 807.5,474.1 807.0,476.0 805.9,477.7 804.3,483.0 803.7,490.4 804.2,501.7 806.1,508.7 809.2,515.5 815.6,524.1 820.5,528.3ZM825.4,530.8 823.6,529.2 821.2,528.4 817.2,524.7 815.6,523.9 810.6,517.5 807.5,511.5 807.2,509.6 805.9,507.5 805.4,503.7 804.5,502.6 804.2,490.5 804.4,483.1 805.6,481.4 806.1,477.7 807.4,476.0 807.7,474.2 810.4,470.8 811.0,469.0 814.3,465.6 815.9,465.0 818.7,462.5 820.7,462.2 822.3,460.9 825.5,460.8 827.1,459.8 838.8,461.4 839.9,462.7 843.2,463.6 844.8,465.4 846.4,465.9 852.8,472.5 857.6,480.5 858.0,482.8 859.3,484.9 859.8,488.7 860.9,490.7 861.1,502.1 860.8,509.5 859.8,511.3 859.0,515.5 857.8,516.6 857.6,518.5 854.3,523.7 849.3,528.6 847.6,529.0 846.5,530.1 844.4,530.6 843.5,531.5 841.2,531.7 839.3,532.8 833.1,532.3Z"/>
<path fill="#af3f51" stroke="#af3f51" d="M826.4,589.3 832.8,590.8 837.6,591.0 842.5,589.6 848.9,583.7 850.6,581.2 852.6,575.9 853.2,568.5 852.7,560.9 850.8,555.0 849.1,551.8 845.4,546.8 842.7,544.1 837.9,541.2 831.5,539.8 825.1,540.1 819.5,543.0 815.2,548.0 813.5,551.5 811.9,556.8 811.8,568.0 813.8,574.8 815.3,578.2 819.5,584.0ZM825.6,588.7 819.7,584.1 815.3,578.0 814.8,575.9 813.8,574.5 811.9,568.0 812.0,556.9 813.6,551.5 814.9,549.8 815.4,548.0 820.3,542.7 826.7,539.9 833.1,540.4 837.9,541.5 842.7,544.3 849.1,552.2 852.5,560.9 852.9,568.4 852.5,575.9 850.5,580.9 848.9,583.4 842.5,589.4 837.6,590.8 831.2,590.2ZM825.1,531.2 833.1,533.1 839.6,533.3 844.4,531.9 849.9,528.7 854.8,523.7 859.0,516.6 861.2,509.6 862.0,502.2 861.3,490.8 859.8,484.9 856.2,476.9 852.8,471.8 846.4,465.4 840.0,461.5 835.1,460.1 828.7,459.3 825.5,459.6 819.1,461.8 814.3,465.0 810.5,468.9 807.2,474.1 805.7,477.6 804.1,483.0 803.2,492.2 804.4,503.6 806.1,509.2 808.9,515.4 815.6,524.4 820.4,528.5ZM824.6,530.7 820.5,528.3 815.6,524.1 809.2,515.5 806.1,508.7 804.2,501.7 803.7,490.4 804.3,483.0 805.9,477.7 807.0,476.0 807.5,474.1 810.8,469.0 814.3,465.3 819.1,462.1 822.3,460.6 828.7,459.6 838.3,461.0 843.2,463.4 849.6,468.5 852.8,472.1 857.6,480.1 859.6,484.9 861.1,490.8 861.6,502.1 861.0,509.6 859.0,516.0 854.6,523.7 849.2,528.9 844.3,531.6 839.6,533.0 831.5,532.5Z"/>
<path fill="#c14655" stroke="#c14655" d="M824.9,588.6 832.8,591.1 839.2,591.0 842.5,589.8 845.2,587.9 848.9,584.0 850.8,581.2 852.7,575.9 853.5,568.5 852.8,560.9 850.9,555.1 849.1,551.5 845.8,546.8 842.7,543.8 839.5,541.7 833.1,539.5 825.1,539.8 821.9,541.2 819.3,543.0 815.0,548.0 813.3,551.5 811.7,556.8 811.7,568.0 813.8,575.2 815.3,578.5 819.3,584.0ZM825.1,588.6 819.5,584.0 815.3,578.2 813.8,574.8 811.8,568.0 811.9,556.8 813.5,551.5 815.2,548.0 819.5,543.0 821.9,541.4 826.7,539.7 833.1,540.0 839.5,541.9 842.7,544.1 845.4,546.8 849.1,551.8 850.8,555.0 852.7,560.9 853.2,568.5 852.6,575.9 850.6,581.2 848.9,583.7 842.5,589.6 839.2,590.8 834.4,590.9 831.2,590.5ZM823.5,530.6 831.5,533.3 837.9,533.6 844.4,532.1 849.2,529.5 854.1,525.0 858.3,518.6 861.0,511.4 862.3,503.3 862.3,497.6 861.1,488.9 858.4,481.0 854.4,473.7 849.6,467.9 843.2,462.9 838.3,460.5 831.9,459.2 827.1,459.0 822.3,460.1 815.9,463.4 812.7,466.2 809.1,470.6 805.5,477.6 803.9,483.0 803.0,489.5 803.0,495.2 804.1,503.6 806.0,509.4 808.7,515.4 815.6,524.7 820.4,528.7ZM824.0,530.6 820.4,528.5 814.9,523.7 810.1,517.5 807.0,511.4 804.0,501.7 803.2,492.2 804.1,483.0 807.2,474.1 810.5,468.9 814.3,465.0 817.9,462.4 822.3,460.4 827.1,459.3 831.9,459.6 838.3,460.8 844.6,464.1 851.2,469.9 856.2,476.9 859.8,484.9 861.3,490.8 862.1,500.3 861.2,509.6 859.0,516.6 856.1,522.0 851.7,527.1 847.6,530.2 844.4,531.9 838.0,533.4 831.5,532.9Z"/>
<path fill="#c9565c" stroke="#c9565c" d="M824.9,588.8 832.8,591.5 839.2,591.1 842.5,589.9 845.4,587.9 848.9,584.3 850.9,581.3 852.9,575.9 853.8,568.6 853.0,561.0 851.1,555.1 849.1,551.1 845.9,546.7 842.7,543.6 839.5,541.5 833.1,539.2 829.9,539.0 825.1,539.6 821.9,540.9 819.0,543.0 814.9,548.0 813.2,551.4 811.6,556.8 811.6,568.0 813.8,575.5 815.3,578.7 819.1,584.0ZM824.7,588.5 819.3,584.0 815.3,578.5 813.8,575.2 811.7,568.0 811.7,556.8 813.3,551.5 815.0,548.0 819.3,543.0 821.9,541.2 825.1,539.8 833.1,539.5 839.5,541.7 842.7,543.8 845.8,546.8 849.1,551.5 850.9,555.1 852.8,560.9 853.5,568.5 852.7,575.9 850.8,581.2 848.9,584.0 845.2,587.9 842.5,589.8 839.2,591.0 832.8,591.1ZM831.5,533.7 839.6,533.8 844.4,532.4 849.2,529.8 854.1,525.3 857.6,520.4 861.2,511.5 862.5,504.1 862.6,498.5 861.7,490.8 859.4,483.0 855.4,474.9 851.2,469.3 844.8,463.6 840.0,460.9 833.5,459.1 827.1,458.8 820.7,460.5 815.9,463.1 812.7,465.9 808.8,470.6 806.0,475.8 804.1,481.2 802.9,488.5 802.7,494.0 803.6,501.6 805.1,507.4 807.4,513.3 810.8,519.2 815.6,525.0 820.4,529.0 825.1,531.7ZM823.4,530.5 820.4,528.7 815.6,524.7 808.7,515.4 806.0,509.4 804.1,503.6 803.0,495.2 803.0,489.5 803.9,483.0 805.5,477.6 809.1,470.6 812.7,466.2 815.9,463.4 822.3,460.1 827.1,459.0 831.9,459.2 838.3,460.5 843.2,462.9 849.6,467.9 854.4,473.7 858.4,481.0 861.1,488.9 862.3,497.6 862.3,503.3 861.0,511.4 858.3,518.6 854.1,525.0 849.2,529.5 844.4,532.1 837.9,533.6 831.5,533.3 826.7,532.0Z"/>
<path fill="#d26865" stroke="#d26865" d="M831.2,591.5 834.4,591.8 839.2,591.3 843.5,589.5 847.3,586.5 850.5,582.2 852.5,577.8 854.0,568.6 852.6,559.0 850.7,553.9 847.5,548.3 842.7,543.4 839.5,541.2 834.7,539.3 829.9,538.7 825.1,539.4 821.9,540.7 818.8,542.9 815.5,546.7 813.0,551.4 811.9,555.0 811.2,564.2 811.8,569.9 812.9,573.8 816.9,581.4 820.1,585.2 824.1,588.5ZM824.4,588.5 819.1,584.0 815.3,578.7 813.8,575.5 811.6,568.0 811.6,556.8 813.2,551.4 814.9,548.0 819.0,543.0 821.9,540.9 825.1,539.6 829.9,539.0 833.1,539.2 839.5,541.5 842.7,543.6 845.9,546.7 849.1,551.1 851.1,555.1 853.0,561.0 853.8,568.6 852.9,575.9 850.9,581.3 848.9,584.3 845.4,587.9 842.5,589.9 839.2,591.1 832.8,591.5 826.4,589.6ZM828.3,533.1 834.7,534.3 841.2,533.7 847.6,531.1 852.5,527.4 856.8,522.1 859.6,516.9 861.5,511.5 862.8,502.3 862.5,494.7 861.0,487.0 858.0,479.0 854.3,472.9 849.6,467.3 843.2,462.4 838.3,460.0 830.3,458.5 825.5,458.8 820.7,460.2 815.9,462.8 811.1,467.3 807.5,472.3 805.1,477.6 803.5,482.9 802.4,492.1 802.8,497.8 804.2,505.4 807.2,513.3 809.4,517.4 812.4,521.7 817.2,526.8 823.5,531.2ZM830.2,533.4 825.1,531.7 820.4,529.0 815.6,525.0 810.8,519.2 807.4,513.3 805.1,507.4 803.6,501.6 802.7,494.0 802.9,488.5 804.1,481.2 806.0,475.8 808.8,470.6 812.7,465.9 815.9,463.1 820.7,460.5 827.1,458.8 833.5,459.1 840.0,460.9 844.8,463.6 851.2,469.3 855.4,474.9 859.4,483.0 861.7,490.8 862.6,498.5 862.5,504.1 861.2,511.5 857.6,520.4 854.1,525.3 849.2,529.8 844.4,532.4 837.9,533.9Z"/>
<path fill="#da786c" stroke="#da786c" d="M829.6,591.2 834.4,592.0 839.2,591.5 843.7,589.5 847.3,586.7 850.5,582.5 852.7,577.8 854.1,568.6 852.8,559.1 850.7,553.6 847.5,548.0 844.3,544.5 839.5,541.0 834.7,539.1 829.9,538.5 825.1,539.1 821.9,540.4 816.9,544.5 814.5,547.9 812.3,553.2 811.3,556.8 811.0,562.3 811.6,569.8 813.6,575.7 815.3,579.2 818.7,583.9 821.7,586.8 824.9,589.1ZM830.6,591.3 824.1,588.5 820.1,585.2 816.9,581.4 814.7,577.7 812.2,571.3 811.4,567.9 811.1,562.3 811.5,556.8 813.0,551.4 814.7,547.9 817.1,544.6 821.9,540.7 825.1,539.4 829.9,538.7 834.7,539.3 839.5,541.2 842.7,543.4 847.5,548.3 850.7,553.9 852.6,559.0 854.0,568.6 852.5,577.8 850.5,582.2 847.3,586.5 843.5,589.5 839.2,591.3 834.0,591.8ZM828.3,533.4 834.7,534.6 841.2,534.0 847.6,531.4 852.5,527.7 857.0,522.2 859.9,516.9 861.7,511.5 863.1,502.3 862.8,494.8 861.2,487.0 858.2,479.1 854.4,472.7 849.6,467.0 844.8,463.1 838.4,459.8 830.3,458.2 825.5,458.5 820.7,459.9 815.9,462.5 810.9,467.1 807.2,472.2 804.2,479.3 802.6,486.6 802.2,492.1 802.5,497.7 804.0,505.4 806.9,513.3 810.4,519.4 814.0,523.9 818.8,528.4 823.5,531.5ZM828.3,533.1 823.5,531.2 817.2,526.8 812.4,521.7 809.4,517.4 807.2,513.3 804.2,505.4 802.8,497.8 802.4,492.1 803.5,482.9 805.1,477.6 807.5,472.3 811.1,467.3 815.9,462.8 820.7,460.2 825.5,458.8 830.3,458.5 838.3,460.0 843.2,462.4 849.6,467.3 854.3,472.9 858.0,479.0 861.0,487.0 862.5,494.7 862.8,502.3 861.5,511.5 859.6,516.9 856.8,522.1 852.5,527.4 847.6,531.1 841.2,533.7 834.7,534.3Z"/>
<path fill="#e28a77" stroke="#e28a77" d="M829.6,591.4 834.4,592.1 839.2,591.6 843.9,589.6 847.3,586.9 850.5,582.7 852.8,577.8 854.2,568.6 852.9,559.1 850.7,553.2 847.5,547.7 844.3,544.2 839.5,540.8 834.7,538.8 829.9,538.2 825.1,538.9 821.9,540.2 818.7,542.3 816.6,544.5 814.3,547.9 812.1,553.2 811.2,556.7 810.8,562.3 811.5,569.8 813.4,575.7 815.3,579.4 818.6,583.9 821.7,587.0 824.8,589.3ZM829.4,591.1 824.9,589.1 821.7,586.8 818.7,583.9 815.3,579.2 813.6,575.7 811.6,569.8 811.0,562.3 811.3,556.8 812.3,553.2 814.5,547.9 816.9,544.5 821.9,540.4 825.1,539.1 829.9,538.5 834.7,539.1 839.5,541.0 844.3,544.5 847.5,548.0 850.7,553.6 852.8,559.1 854.1,568.6 852.7,577.8 850.5,582.5 847.3,586.7 843.7,589.5 839.2,591.5 834.4,592.0ZM826.7,533.2 833.1,534.8 839.5,534.5 846.0,532.6 850.8,529.5 856.2,523.9 860.1,517.0 861.9,511.6 863.3,502.4 863.0,494.8 861.5,487.0 858.5,479.1 854.4,472.2 848.0,465.2 843.2,461.8 836.7,459.0 830.3,457.9 823.9,458.5 819.1,460.3 814.3,463.4 810.5,467.1 807.0,472.2 803.9,479.3 802.0,490.2 802.3,497.7 803.7,505.4 805.8,511.3 808.8,517.3 812.4,522.5 817.2,527.4 821.9,530.9ZM826.9,532.9 823.5,531.5 817.2,527.1 812.4,522.1 809.1,517.3 806.9,513.3 804.0,505.4 802.5,497.7 802.3,490.2 803.7,481.1 805.5,475.7 808.3,470.5 811.1,466.9 815.9,462.5 820.7,459.9 825.5,458.5 831.9,458.3 838.4,459.8 844.8,463.1 849.6,467.0 854.6,472.9 858.2,479.1 861.2,487.0 863.0,496.7 862.9,504.2 861.7,511.5 859.9,516.9 855.8,523.9 850.8,529.2 846.0,532.2 839.6,534.3 833.1,534.5Z"/>
<path fill="#e99b85" stroke="#e99b85" d="M828.0,590.9 832.8,592.2 836.6,592.2 840.8,591.3 845.7,588.6 848.9,585.3 851.5,581.3 852.9,577.8 854.3,570.5 854.2,564.9 853.1,559.1 850.7,552.8 847.5,547.4 844.3,543.9 841.1,541.4 836.3,539.0 831.5,538.0 828.3,538.0 823.5,539.1 820.3,540.8 817.1,543.5 815.2,546.1 812.6,551.4 811.5,554.9 810.7,560.4 811.4,569.8 813.3,575.7 815.3,579.6 818.4,583.9 821.7,587.2ZM828.6,591.0 824.8,589.3 821.7,587.0 818.6,583.9 815.3,579.4 813.4,575.7 811.5,569.8 810.8,560.4 811.2,556.7 812.7,551.4 814.3,547.9 817.1,543.9 820.3,541.2 823.5,539.4 828.3,538.3 831.5,538.3 836.3,539.3 841.1,541.7 844.3,544.2 847.5,547.7 850.7,553.2 852.9,559.1 854.0,564.9 854.2,570.5 852.8,577.8 851.3,581.3 848.9,585.1 845.7,588.4 842.5,590.4 839.2,591.6 834.4,592.1ZM825.1,532.8 831.5,534.8 837.9,535.1 842.8,534.2 846.0,532.9 850.8,529.9 856.5,524.0 859.6,518.8 861.7,513.4 863.4,504.3 863.3,494.8 861.8,487.1 858.8,479.2 855.3,473.0 851.2,467.9 844.8,462.5 838.4,459.2 831.9,457.6 827.1,457.7 822.3,458.7 815.9,461.8 811.7,465.4 808.9,468.7 805.0,475.7 802.8,482.9 801.9,488.3 801.9,495.8 802.6,501.5 804.1,507.3 807.4,515.2 811.2,521.3 815.6,526.3 821.9,531.2ZM825.8,532.7 820.4,529.8 815.6,525.9 811.6,521.4 807.7,515.3 805.0,509.3 803.3,503.4 802.1,495.8 802.2,488.4 803.5,481.1 805.3,475.7 808.1,470.5 812.1,465.4 817.5,461.2 820.7,459.6 825.5,458.2 831.9,458.0 840.0,460.1 844.8,462.8 851.2,468.3 854.9,473.0 858.5,479.1 861.5,487.0 863.0,494.8 863.2,504.2 861.4,513.4 859.3,518.7 856.2,523.9 850.8,529.5 846.0,532.6 841.2,534.3 837.9,534.8 831.5,534.5Z"/>
<path fill="#f0aa91" stroke="#f0aa91" d="M828.0,591.1 831.2,592.1 836.0,592.4 840.8,591.4 845.7,588.8 848.9,585.6 851.6,581.4 853.6,576.0 854.5,570.6 854.3,564.9 853.2,559.1 850.7,552.4 847.5,547.1 844.3,543.6 837.9,539.4 834.7,538.3 829.9,537.6 823.5,538.8 818.7,541.7 816.1,544.4 813.1,549.6 811.8,553.1 810.4,562.2 811.7,571.7 815.2,579.7 818.2,583.8 821.7,587.3ZM827.9,590.9 821.7,587.2 818.4,583.9 815.3,579.6 813.3,575.7 811.4,569.8 810.7,560.4 811.5,554.9 812.6,551.4 815.2,546.1 817.1,543.5 820.3,540.8 823.5,539.1 828.3,538.0 831.5,538.0 836.3,539.0 841.1,541.4 844.3,543.9 847.5,547.4 850.7,552.8 853.1,559.1 854.2,564.9 854.3,570.5 852.9,577.8 851.5,581.3 848.9,585.3 845.7,588.6 840.8,591.3 836.0,592.3 831.2,591.9ZM825.1,533.2 831.5,535.1 837.9,535.5 842.8,534.5 849.2,531.5 854.0,527.4 858.0,522.3 861.4,515.3 863.5,506.1 863.8,498.7 863.0,491.0 860.0,481.2 855.6,473.1 851.2,467.5 846.4,463.2 838.4,458.8 831.9,457.3 827.1,457.3 822.3,458.3 815.9,461.4 811.4,465.3 808.5,468.7 805.5,473.9 802.5,482.8 801.7,488.3 801.6,495.8 802.3,501.4 803.8,507.2 807.0,515.2 810.9,521.3 815.6,526.7 820.4,530.6ZM824.8,532.6 818.8,529.1 815.6,526.3 811.2,521.3 807.4,515.2 804.1,507.3 802.6,501.5 801.9,495.8 801.9,488.3 802.8,482.9 805.0,475.7 808.9,468.7 811.7,465.4 815.9,461.8 822.3,458.7 827.1,457.7 831.9,457.6 838.4,459.2 844.8,462.5 851.2,467.9 855.3,473.0 858.8,479.2 861.8,487.1 863.4,496.7 863.2,506.1 861.7,513.4 858.7,520.5 855.2,525.7 849.2,531.1 842.8,534.2 836.3,535.2 829.9,534.5Z"/>
<path fill="#f6ba9f" stroke="#f6ba9f" d="M828.0,591.3 831.2,592.2 836.0,592.6 840.8,591.6 845.7,589.0 848.9,585.8 851.8,581.4 853.7,576.1 854.6,570.6 854.5,564.9 853.4,559.2 850.7,552.0 847.5,546.6 842.7,541.9 839.5,539.9 834.7,538.0 829.9,537.4 826.7,537.6 821.9,539.2 818.7,541.3 815.8,544.4 813.0,549.6 811.7,553.1 810.3,562.2 811.6,571.7 815.0,579.6 818.5,584.4 821.7,587.5ZM827.4,590.8 821.7,587.3 818.2,583.8 815.2,579.7 813.1,575.6 811.2,569.8 810.5,560.4 811.3,554.9 813.1,549.6 817.1,543.2 820.3,540.5 823.5,538.8 828.3,537.7 831.5,537.7 836.3,538.7 841.1,541.1 844.3,543.6 847.5,547.1 850.7,552.4 853.2,559.1 854.3,564.9 854.5,570.6 853.6,576.0 851.6,581.4 848.9,585.6 845.7,588.8 840.8,591.4 836.0,592.4 831.2,592.1ZM831.5,535.5 837.9,535.8 844.4,534.4 849.2,531.9 854.5,527.4 858.4,522.4 861.7,515.3 863.5,508.0 864.0,498.7 863.3,491.1 860.3,481.2 857.3,475.2 852.8,468.9 846.4,462.8 840.0,459.0 835.1,457.5 828.7,456.8 822.3,457.9 817.5,460.0 812.7,463.6 808.2,468.6 805.1,473.8 802.6,481.0 801.6,486.4 801.3,493.8 802.0,501.4 803.4,507.2 806.6,515.1 810.4,521.2 815.6,527.2 820.4,531.0 825.1,533.6ZM823.8,532.4 820.4,530.6 815.6,526.7 810.9,521.3 807.0,515.2 803.8,507.2 802.3,501.4 801.6,493.9 801.9,486.5 803.4,479.2 805.5,473.9 808.5,468.7 812.7,464.0 815.9,461.4 822.3,458.3 827.1,457.3 831.9,457.3 838.4,458.8 846.4,463.2 851.2,467.5 855.6,473.1 860.0,481.2 863.0,491.0 863.8,498.7 863.5,506.1 861.4,515.3 858.0,522.3 854.0,527.4 849.2,531.5 842.8,534.5 836.3,535.6 829.9,534.8Z"/>
<path fill="#f7c6af" stroke="#f7c6af" d="M826.4,590.7 829.6,592.0 834.4,592.8 840.8,591.8 844.1,590.3 847.3,587.8 849.9,584.8 852.7,579.7 854.3,574.3 854.8,566.9 853.5,559.2 851.5,553.3 849.1,548.5 845.9,544.3 839.5,539.4 834.6,537.7 837.0,536.2 841.1,535.8 847.6,533.4 852.4,530.0 856.4,525.8 861.4,517.1 863.2,511.7 864.5,502.5 863.6,491.1 862.1,485.3 859.9,479.3 855.1,471.1 851.2,466.5 844.8,461.1 838.4,458.0 830.3,456.5 823.9,457.0 817.5,459.5 812.7,462.9 809.0,466.9 805.6,472.0 803.3,477.3 801.8,482.7 800.8,491.9 801.2,497.6 802.6,505.2 805.3,513.0 808.5,519.1 812.4,524.4 817.2,529.1 823.5,533.3 827.7,534.9 830.6,537.2 826.7,537.2 821.9,538.8 817.1,542.4 814.5,546.0 812.8,549.5 811.0,554.9 810.2,560.3 811.0,569.7 812.8,575.6 814.8,579.6 820.1,586.3ZM826.8,590.7 823.3,588.7 820.1,586.1 815.0,579.6 813.0,575.6 811.1,569.8 810.4,560.3 811.2,554.9 813.0,549.6 814.7,546.1 817.1,542.9 820.3,540.1 823.5,538.5 826.7,537.6 831.5,537.5 836.3,538.5 839.5,539.9 844.3,543.2 847.9,547.1 851.3,553.2 853.4,559.2 854.5,564.9 854.6,570.6 853.7,576.1 851.8,581.4 848.9,585.8 845.7,589.0 840.8,591.6 836.0,592.6 831.2,592.2ZM831.4,535.4 825.1,533.6 820.4,531.0 815.6,527.2 810.4,521.2 806.6,515.1 803.4,507.2 802.0,501.4 801.3,493.8 801.6,486.4 802.6,481.0 805.1,473.8 808.2,468.6 812.7,463.6 817.5,460.0 822.3,457.9 828.7,456.8 835.1,457.5 840.0,459.0 846.4,462.8 852.8,468.9 857.3,475.2 860.3,481.2 863.3,491.1 864.0,498.7 863.5,508.0 861.7,515.3 858.4,522.4 854.5,527.4 849.2,531.9 844.4,534.4 837.9,535.8Z"/>
<path fill="#fad3bf" stroke="#fad3bf" d="M826.4,590.9 829.6,592.2 834.4,592.9 840.8,592.0 844.1,590.4 847.3,588.0 850.0,584.9 852.9,579.7 854.4,574.3 854.9,566.9 854.1,561.1 851.7,553.3 849.1,548.0 845.9,543.8 841.1,539.9 837.1,538.1 839.2,536.5 842.8,535.9 849.2,533.1 852.4,530.6 856.9,525.9 860.2,520.7 863.1,513.6 864.9,502.6 864.6,495.0 863.2,487.3 860.4,479.4 855.7,471.2 849.6,464.3 843.2,459.7 836.8,457.0 830.3,455.9 823.9,456.5 819.1,458.1 814.3,461.0 809.8,465.1 807.2,468.5 803.5,475.5 801.8,480.9 800.5,490.0 800.7,497.5 802.1,505.1 804.0,511.0 806.8,517.0 810.8,523.0 815.6,528.3 821.9,533.0 825.4,534.6 828.0,536.8 825.1,537.1 821.9,538.3 818.7,540.3 815.5,543.8 811.3,553.0 810.0,562.2 811.3,571.6 814.7,579.6 820.1,586.5ZM826.3,590.6 820.1,586.3 814.8,579.6 812.8,575.6 811.0,569.7 810.2,560.3 811.0,554.9 812.8,549.5 814.5,546.0 817.1,542.4 821.9,538.8 826.7,537.2 830.6,537.2 827.7,534.9 823.5,533.3 817.2,529.1 812.4,524.4 808.5,519.1 805.3,513.0 802.0,503.3 801.0,495.7 800.9,490.1 801.8,482.7 804.0,475.5 806.6,470.3 810.4,465.2 814.3,461.6 820.7,458.0 825.5,456.7 830.3,456.5 838.4,458.0 844.8,461.1 851.2,466.5 855.1,471.1 859.9,479.3 862.1,485.3 863.6,491.1 864.5,502.5 863.2,511.7 861.4,517.1 856.4,525.8 852.4,530.0 847.6,533.4 841.1,535.8 837.0,536.2 834.6,537.7 839.5,539.4 845.9,544.3 849.1,548.5 851.5,553.3 853.5,559.2 854.8,566.9 854.3,574.3 852.7,579.7 849.9,584.8 847.3,587.8 844.1,590.3 840.8,591.8 836.0,592.8 832.8,592.7Z"/>
<path fill="#fcdfcf" stroke="#fcdfcf" d="M826.4,591.1 829.6,592.3 834.4,593.1 837.6,592.9 842.4,591.5 845.7,589.5 848.9,586.6 851.3,583.2 853.0,579.7 854.6,574.3 855.1,568.8 854.7,563.1 853.3,557.3 850.2,549.3 847.5,545.1 844.3,541.7 839.0,538.4 841.3,536.8 844.4,536.1 849.2,533.8 854.1,530.0 857.6,526.0 859.9,522.6 863.1,515.5 864.9,508.2 865.3,502.6 864.9,493.2 863.2,485.4 860.0,477.4 856.0,470.8 849.6,463.5 843.2,459.0 836.8,456.3 830.3,455.2 825.5,455.6 819.1,457.4 814.3,460.3 809.2,465.0 805.5,470.1 802.3,477.2 800.5,484.4 800.0,489.9 800.2,497.4 801.6,505.1 803.4,510.9 806.2,516.9 810.8,523.9 815.6,529.0 826.1,536.5 823.5,537.0 820.3,538.6 815.5,543.2 813.1,547.7 811.2,553.0 809.8,562.1 811.2,571.6 814.5,579.6 820.1,586.7ZM825.9,590.6 821.7,587.8 818.5,584.9 813.6,577.6 810.9,569.7 810.1,560.3 811.9,551.3 814.2,546.0 816.4,542.6 818.7,540.3 821.9,538.3 825.1,537.1 828.0,536.8 825.4,534.6 821.9,533.0 815.6,528.3 810.8,523.0 806.8,517.0 804.0,511.0 802.1,505.1 800.7,497.5 800.5,490.0 801.8,480.9 803.5,475.5 807.2,468.5 809.8,465.1 814.3,461.0 819.1,458.1 823.9,456.5 830.3,455.9 836.8,457.0 843.2,459.7 849.6,464.3 855.7,471.2 860.4,479.4 863.2,487.3 864.6,495.0 864.9,502.6 863.1,513.6 860.2,520.7 856.9,525.9 852.4,530.6 849.2,533.1 842.8,535.9 839.2,536.5 837.1,538.1 841.1,539.9 845.9,543.8 849.1,548.0 851.7,553.3 854.1,561.1 854.9,566.9 854.4,574.3 852.9,579.7 850.0,584.9 847.3,588.0 844.1,590.4 840.8,592.0 836.0,592.9 832.8,592.8 829.6,592.2Z"/>
<path fill="#fbe7db" stroke="#fbe7db" d="M826.4,591.3 829.6,592.5 834.4,593.3 837.6,593.1 842.4,591.7 845.7,589.7 848.9,586.8 851.5,583.2 853.2,579.7 854.7,574.3 855.2,568.8 854.8,563.1 853.5,557.3 850.7,549.8 848.4,545.3 845.9,542.3 840.9,538.6 850.8,533.8 854.1,531.1 858.5,526.1 863.2,517.4 864.9,512.0 866.1,502.7 865.3,491.3 863.3,483.5 859.8,475.5 855.8,469.3 851.2,464.0 844.8,459.0 838.4,456.0 830.3,454.5 823.9,454.9 817.5,457.2 812.7,460.4 808.2,464.9 805.7,468.3 802.2,475.3 800.2,482.5 799.3,491.7 800.4,503.0 802.0,508.9 805.3,516.8 809.3,522.9 814.0,528.5 824.2,536.2 821.9,536.9 818.7,538.9 817.1,540.3 814.5,544.2 811.0,553.0 809.9,558.4 809.7,564.0 811.0,571.6 814.3,579.5 820.1,586.9ZM825.4,590.5 820.1,586.7 814.5,579.6 811.2,571.6 809.8,562.1 811.2,553.0 813.1,547.7 815.5,543.2 820.3,538.6 823.5,537.0 826.1,536.5 815.6,529.0 810.8,523.9 806.2,516.9 803.4,510.9 801.6,505.1 800.2,497.4 800.0,489.9 800.5,484.4 802.3,477.2 805.5,470.1 809.2,465.0 814.3,460.3 819.1,457.4 825.5,455.6 830.3,455.2 836.8,456.3 843.2,459.0 849.6,463.5 856.0,470.8 860.0,477.4 863.2,485.4 864.9,493.2 865.3,502.6 864.9,508.2 863.1,515.5 859.9,522.6 857.6,526.0 854.1,530.0 849.2,533.8 844.4,536.1 841.3,536.8 839.0,538.4 844.3,541.7 847.5,545.1 850.2,549.3 853.3,557.3 854.7,563.1 855.1,568.8 854.6,574.3 853.0,579.7 850.2,584.9 847.3,588.2 844.1,590.6 840.8,592.1 836.0,593.1 832.8,593.0 829.6,592.3Z"/>
<path fill="#faede6" stroke="#faede6" d="M824.8,590.6 828.0,592.1 832.8,593.3 837.6,593.3 840.8,592.5 844.1,591.0 847.7,588.3 852.6,581.5 854.5,576.2 855.1,572.5 855.3,566.9 854.7,561.2 850.2,547.5 847.5,542.9 843.5,539.0 852.4,534.2 857.2,529.7 859.9,526.3 862.9,521.1 865.0,515.8 866.4,510.3 867.1,502.9 866.7,493.4 865.1,485.7 862.1,477.7 860.1,473.7 856.0,467.7 851.2,462.4 844.8,457.5 836.8,454.0 828.7,453.0 822.3,453.9 817.5,455.7 812.7,458.7 806.7,464.7 803.4,469.9 800.4,476.9 798.8,484.2 798.3,489.7 798.5,497.2 799.3,502.9 800.8,508.7 804.1,516.6 807.7,522.7 812.4,528.5 817.1,532.9 821.6,535.9 820.3,536.3 817.1,539.1 813.9,544.5 810.4,554.8 809.6,564.0 810.9,571.6 814.1,579.5 818.5,585.5ZM825.0,590.4 819.0,585.8 814.3,579.5 811.0,571.6 809.7,562.1 811.0,553.0 814.5,544.2 817.1,540.3 818.7,538.9 821.9,536.9 824.2,536.2 814.0,528.5 809.3,522.9 805.3,516.8 802.0,508.9 800.4,503.0 799.4,495.4 799.3,489.8 800.6,480.7 802.2,475.3 805.7,468.3 808.2,464.9 812.7,460.4 817.5,457.2 823.9,454.9 830.3,454.5 838.4,456.0 844.8,459.0 851.2,464.0 855.8,469.3 859.8,475.5 863.3,483.5 865.3,491.3 866.1,502.7 864.9,512.0 863.2,517.4 858.5,526.1 854.1,531.1 850.8,533.8 840.9,538.6 845.9,542.3 848.4,545.3 850.7,549.8 853.5,557.3 854.8,563.1 855.1,570.7 854.3,576.2 852.4,581.5 850.4,584.9 847.5,588.2 844.1,590.8 840.8,592.3 837.6,593.1 832.8,593.1 828.0,592.0Z"/>
<path fill="#f8f4f2" stroke="#f8f4f2" d="M602.6,736.4 1077.1,820.3 1084.2,241.3 600.5,194.3 601.1,736.1ZM817.6,772.6 787.6,767.3 786.0,765.2 754.8,759.7 753.2,757.6 723.8,752.4 722.3,750.3 716.1,749.2 702.3,730.5 700.8,730.2 696.2,724.0 696.2,722.2 688.5,711.8 688.6,710.0 680.9,699.6 680.9,697.8 673.3,687.5 673.3,685.7 667.2,677.4 667.2,675.6 664.2,671.5 664.2,669.7 659.7,663.5 659.7,661.7 655.1,655.5 655.1,653.7 652.1,649.6 652.1,647.8 647.5,641.6 647.5,639.8 643.0,633.7 643.0,631.9 638.5,625.7 638.5,623.9 632.4,615.7 632.4,613.9 627.9,607.8 627.9,606.0 621.9,597.8 621.9,596.0 617.4,589.9 617.4,588.1 612.9,582.0 612.9,580.2 609.9,576.1 609.9,574.3 606.9,570.2 606.9,568.4 603.9,564.4 603.9,562.6 602.4,560.5 602.1,335.6 603.6,333.9 603.6,330.3 605.2,328.6 605.1,326.8 606.7,325.1 606.7,321.5 608.2,319.8 608.2,318.0 609.7,316.3 609.7,314.5 611.2,312.8 611.2,309.2 612.7,307.5 612.7,305.7 614.2,304.0 614.2,300.4 617.2,297.0 617.2,295.2 620.2,291.9 620.2,290.0 624.8,285.0 624.8,283.2 627.8,279.9 627.8,278.0 632.4,273.0 632.4,271.2 635.4,267.8 635.4,266.0 640.0,260.9 640.0,259.1 644.6,254.0 646.1,254.2 650.7,249.1 652.2,249.3 656.8,244.2 658.3,244.4 662.9,239.3 664.5,239.5 667.6,236.1 669.1,236.2 670.6,234.5 672.2,234.7 673.7,233.0 676.8,233.3 678.4,231.6 679.9,231.8 681.4,230.1 683.0,230.2 684.5,228.5 686.1,228.7 687.6,227.0 690.7,227.3 692.3,225.6 693.8,225.7 695.4,224.0 696.9,224.2 698.5,222.5 704.7,223.1 706.3,221.4 714.1,222.2 715.6,220.4 723.4,221.2 725.0,219.5 919.8,238.8 921.4,240.9 926.4,241.4 928.0,243.5 931.3,243.8 933.0,245.9 936.3,246.2 938.0,248.3 942.9,248.8 944.6,250.9 947.9,251.2 949.6,253.3 952.9,253.7 954.6,255.8 957.9,256.1 959.6,258.2 964.6,258.7 966.2,260.8 969.6,261.2 971.3,263.3 974.6,263.6 976.3,265.7 979.6,266.1 981.3,268.2 983.0,268.3 984.7,270.5 986.3,270.6 988.0,272.7 989.7,272.9 991.4,275.0 993.0,275.2 996.4,279.4 998.1,279.6 999.7,281.7 1001.4,281.9 1003.1,284.0 1004.8,284.2 1008.2,288.4 1009.8,288.6 1011.5,290.7 1013.2,290.9 1014.9,293.0 1016.6,293.2 1018.3,295.3 1020.0,295.5 1023.3,299.8 1025.0,299.9 1026.7,302.1 1028.4,302.2 1030.1,304.4 1031.8,304.6 1035.2,308.8 1036.9,309.0 1043.6,317.5 1045.3,317.7 1052.1,326.3 1053.8,326.4 1062.3,337.1 1062.3,339.1 1064.0,341.2 1063.9,343.2 1065.6,345.3 1065.6,347.3 1069.0,351.6 1069.0,353.5 1070.7,355.7 1070.7,357.6 1072.4,359.8 1072.3,361.7 1074.0,363.9 1074.0,365.8 1077.4,370.1 1077.3,379.9 1079.0,382.0 1078.6,415.2 1080.3,417.3 1077.8,626.6 1076.0,628.2 1075.8,643.6 1074.1,645.3 1074.1,647.2 1072.3,648.9 1072.3,650.8 1070.6,652.5 1070.5,656.3 1068.8,658.0 1068.8,659.9 1067.1,661.5 1067.0,665.4 1065.3,667.0 1065.3,668.9 1063.5,670.6 1063.5,674.4 1061.8,676.1 1061.7,678.0 1060.0,679.6 1060.0,681.6 1058.3,683.2 1058.2,687.0 1056.5,688.7 1056.5,690.6 1054.8,692.2 1054.7,696.1 1053.0,697.7 1053.0,699.6 1051.3,701.2 1051.2,705.1 1049.5,706.7 1049.5,708.6 1044.3,713.5 1042.6,713.2 1029.0,726.3 1027.3,726.0 1013.7,738.9 1012.0,738.7 998.5,751.6 996.8,751.3 983.3,764.1 981.7,763.8 968.3,776.6 966.6,776.3 954.9,787.5 948.4,786.3 946.7,787.9 927.0,784.4 925.4,786.0 905.8,782.6 904.2,784.2 884.8,780.7 883.1,782.3 863.8,778.9 862.2,780.5 841.4,776.8 839.8,778.4 819.1,774.7ZM824.8,590.8 828.0,592.3 832.8,593.4 837.6,593.5 840.8,592.7 844.1,591.2 847.3,588.9 850.8,585.0 852.8,581.5 855.0,574.4 855.4,565.1 854.4,559.3 849.1,541.7 849.4,539.8 857.3,534.0 863.0,526.8 866.4,519.7 868.1,514.3 869.6,503.2 869.2,493.7 866.5,482.1 863.2,474.1 858.1,465.9 851.2,458.4 844.8,453.9 838.4,451.0 830.4,449.4 822.4,450.2 817.5,451.9 811.1,455.8 806.3,460.5 802.4,466.0 799.0,473.0 797.0,480.2 795.8,489.4 795.9,495.0 796.8,502.5 800.2,514.2 805.6,524.3 809.2,528.9 815.4,535.0 815.9,536.9 811.2,551.2 809.6,558.4 809.6,565.8 811.3,573.5 814.0,579.5 816.9,583.8 820.1,587.3ZM824.5,590.4 818.5,585.5 814.1,579.5 810.9,571.6 809.6,564.0 810.4,554.8 813.9,544.5 817.1,539.1 820.3,536.3 821.6,535.9 817.1,532.9 812.4,528.5 807.7,522.7 804.1,516.6 800.8,508.7 799.3,502.9 798.5,497.2 798.3,489.7 798.8,484.2 800.4,476.9 803.4,469.9 806.7,464.7 812.7,458.7 817.5,455.7 822.3,453.9 828.7,453.0 836.8,454.0 844.8,457.5 851.2,462.4 856.0,467.7 860.1,473.7 862.1,477.7 865.1,485.7 866.7,493.4 867.1,502.9 866.4,510.3 865.0,515.8 862.9,521.1 859.9,526.3 857.2,529.7 852.4,534.2 843.5,539.0 847.5,542.9 850.2,547.5 854.7,561.2 855.3,566.9 855.1,572.5 854.5,576.2 852.6,581.5 847.7,588.3 844.1,591.0 840.8,592.5 837.6,593.3 832.8,593.3 828.0,592.1Z"/>
<path fill="#f3f6f7" stroke="#f3f6f7" d="M819.1,774.7 839.8,778.4 841.4,776.8 862.2,780.5 863.8,778.9 883.1,782.3 884.8,780.7 904.2,784.2 905.8,782.6 925.4,786.0 927.0,784.4 946.7,787.9 948.4,786.3 954.9,787.5 966.6,776.3 968.3,776.6 981.7,763.8 983.3,764.1 996.8,751.3 998.5,751.6 1012.0,738.7 1013.7,738.9 1027.3,726.0 1029.0,726.3 1042.6,713.2 1044.3,713.5 1049.5,708.6 1049.5,706.7 1051.2,705.1 1051.3,701.2 1053.0,699.6 1053.0,697.7 1054.7,696.1 1054.8,692.2 1056.5,690.6 1056.5,688.7 1058.2,687.0 1058.3,683.2 1060.0,681.6 1060.0,679.6 1061.7,678.0 1061.8,676.1 1063.5,674.4 1063.5,670.6 1065.3,668.9 1065.3,667.0 1067.0,665.4 1067.1,661.5 1068.8,659.9 1068.8,658.0 1070.5,656.3 1070.6,652.5 1072.3,650.8 1072.3,648.9 1074.1,647.2 1074.1,645.3 1075.8,643.6 1076.0,628.2 1077.8,626.6 1080.3,417.3 1078.6,415.2 1079.0,382.0 1077.3,379.9 1077.4,370.1 1074.0,365.8 1074.0,363.9 1072.3,361.7 1072.4,359.8 1070.7,357.6 1070.7,355.7 1069.0,353.5 1069.0,351.6 1065.6,347.3 1065.6,345.3 1063.9,343.2 1064.0,341.2 1062.3,339.1 1062.3,337.1 1053.8,326.4 1052.1,326.3 1045.3,317.7 1043.6,317.5 1036.9,309.0 1035.2,308.8 1031.8,304.6 1030.1,304.4 1028.4,302.2 1026.7,302.1 1025.0,299.9 1023.3,299.8 1020.0,295.5 1018.3,295.3 1016.6,293.2 1014.9,293.0 1013.2,290.9 1011.5,290.7 1009.8,288.6 1008.2,288.4 1004.8,284.2 1003.1,284.0 1001.4,281.9 999.7,281.7 998.1,279.6 996.4,279.4 993.0,275.2 991.4,275.0 989.7,272.9 988.0,272.7 986.3,270.6 984.7,270.5 983.0,268.3 981.3,268.2 979.6,266.1 976.3,265.7 974.6,263.6 971.3,263.3 969.6,261.2 966.2,260.8 964.6,258.7 959.6,258.2 957.9,256.1 954.6,255.8 952.9,253.7 949.6,253.3 947.9,251.2 944.6,250.9 942.9,248.8 938.0,248.3 936.3,246.2 933.0,245.9 931.3,243.8 928.0,243.5 926.4,241.4 921.4,240.9 919.8,238.8 725.0,219.5 723.4,221.2 715.6,220.4 714.1,222.2 706.3,221.4 704.7,223.1 698.5,222.5 696.9,224.2 695.4,224.0 693.8,225.7 692.3,225.6 690.7,227.3 687.6,227.0 686.1,228.7 684.5,228.5 683.0,230.2 681.4,230.1 679.9,231.8 678.4,231.6 676.8,233.3 673.7,233.0 672.2,234.7 670.6,234.5 669.1,236.2 667.6,236.1 664.5,239.5 662.9,239.3 658.3,244.4 656.8,244.2 652.2,249.3 650.7,249.1 646.1,254.2 644.6,254.0 640.0,259.1 640.0,260.9 635.4,266.0 635.4,267.8 632.4,271.2 632.4,273.0 627.8,278.0 627.8,279.9 624.8,283.2 624.8,285.0 620.2,290.0 620.2,291.9 617.2,295.2 617.2,297.0 614.2,300.4 614.2,304.0 612.7,305.7 612.7,307.5 611.2,309.2 611.2,312.8 609.7,314.5 609.7,316.3 608.2,318.0 608.2,319.8 606.7,321.5 606.7,325.1 605.1,326.8 605.2,328.6 603.6,330.3 603.6,333.9 602.1,335.6 602.4,560.5 603.9,562.6 603.9,564.4 606.9,568.4 606.9,570.2 609.9,574.3 609.9,576.1 612.9,580.2 612.9,582.0 617.4,588.1 617.4,589.9 621.9,596.0 621.9,597.8 627.9,606.0 627.9,607.8 632.4,613.9 632.4,615.7 638.5,623.9 638.5,625.7 643.0,631.9 643.0,633.7 647.5,639.8 647.5,641.6 652.1,647.8 652.1,649.6 655.1,653.7 655.1,655.5 659.7,661.7 659.7,663.5 664.2,669.7 664.2,671.5 667.2,675.6 667.2,677.4 673.3,685.7 673.3,687.5 680.9,697.8 680.9,699.6 688.6,710.0 688.5,711.8 696.2,722.2 696.2,724.0 700.8,730.2 702.3,730.5 716.1,749.2 722.3,750.3 723.8,752.4 753.2,757.6 754.8,759.7 786.0,765.2 787.6,767.3 817.6,772.6ZM818.0,772.7 817.6,772.1 787.6,766.7 786.0,764.6 754.8,759.1 753.2,757.0 723.8,751.8 722.3,749.7 716.1,748.6 702.3,729.9 700.8,729.6 696.7,724.1 696.7,722.2 689.1,711.9 689.1,710.1 681.4,699.7 681.4,697.9 673.8,687.6 673.8,685.7 667.7,677.5 667.7,675.7 664.7,671.6 664.7,669.7 660.2,663.6 660.2,661.8 655.6,655.6 655.6,653.8 652.6,649.7 652.6,647.9 648.1,641.7 648.1,639.9 643.5,633.7 643.5,631.9 639.0,625.8 639.0,624.0 633.0,615.8 633.0,614.0 628.4,607.9 628.4,606.1 622.4,597.9 622.4,596.1 617.9,590.0 617.9,588.2 613.4,582.1 613.4,580.3 610.4,576.2 610.4,574.4 607.4,570.3 607.4,568.5 604.4,564.5 604.4,562.7 602.9,560.6 602.8,335.6 604.3,334.0 604.3,330.3 605.8,328.7 605.8,326.8 607.3,325.2 607.3,321.5 608.8,319.9 608.8,318.1 610.3,316.4 610.3,314.6 611.8,312.9 611.8,309.3 613.3,307.6 613.3,305.8 614.8,304.1 614.8,300.4 617.8,297.1 617.8,295.3 620.9,291.9 620.9,290.1 625.4,285.1 625.4,283.3 628.4,279.9 628.4,278.1 633.0,273.1 633.0,271.2 636.0,267.9 636.0,266.0 640.6,261.0 640.6,259.1 644.6,254.8 646.1,255.0 650.7,249.9 652.2,250.1 656.8,245.0 658.3,245.1 662.9,240.1 664.5,240.2 667.6,236.8 669.1,237.0 670.6,235.3 672.2,235.4 673.7,233.8 676.8,234.1 678.4,232.4 679.9,232.5 681.4,230.8 683.0,231.0 684.5,229.3 686.1,229.4 687.6,227.7 690.7,228.0 692.3,226.3 693.8,226.5 695.4,224.8 696.9,224.9 698.5,223.2 704.7,223.8 706.3,222.1 714.1,222.9 715.6,221.2 723.4,222.0 725.0,220.2 919.8,239.6 921.4,241.6 926.4,242.1 928.0,244.2 931.3,244.6 933.0,246.6 936.3,247.0 937.9,249.1 942.9,249.6 944.6,251.7 947.9,252.0 949.6,254.1 952.9,254.4 954.6,256.5 957.9,256.9 959.6,259.0 964.6,259.5 966.2,261.6 969.6,261.9 971.3,264.0 974.6,264.4 976.3,266.5 979.6,266.8 981.3,269.0 983.0,269.1 984.6,271.2 986.3,271.4 988.0,273.5 989.7,273.7 991.4,275.8 993.0,276.0 996.4,280.2 998.1,280.4 999.7,282.5 1001.4,282.7 1003.1,284.8 1004.8,285.0 1008.1,289.2 1009.8,289.4 1011.5,291.5 1013.2,291.7 1014.9,293.8 1016.6,294.0 1018.3,296.1 1020.0,296.3 1023.3,300.6 1025.0,300.7 1026.7,302.9 1028.4,303.0 1030.1,305.2 1031.8,305.4 1035.2,309.6 1036.9,309.8 1043.6,318.3 1045.3,318.5 1052.1,327.1 1053.8,327.3 1061.6,337.1 1061.6,339.0 1063.2,341.2 1063.2,343.1 1064.9,345.3 1064.9,347.2 1068.3,351.5 1068.3,353.4 1070.0,355.6 1069.9,357.5 1071.6,359.7 1071.6,361.6 1073.3,363.8 1073.3,365.7 1076.7,370.0 1076.6,379.8 1078.3,382.0 1077.9,415.1 1079.6,417.3 1077.1,626.5 1075.4,628.1 1075.2,643.5 1073.5,645.2 1073.5,647.1 1071.7,648.8 1071.7,650.7 1070.0,652.4 1069.9,656.2 1068.2,657.9 1068.2,659.8 1066.4,661.4 1066.4,665.3 1064.7,666.9 1064.6,668.8 1062.9,670.5 1062.9,674.3 1061.2,676.0 1061.1,677.9 1059.4,679.5 1059.4,681.5 1057.7,683.1 1057.6,686.9 1055.9,688.6 1055.9,690.5 1054.2,692.1 1054.1,696.0 1052.4,697.6 1052.4,699.5 1050.6,701.1 1050.6,705.0 1048.9,706.6 1048.9,708.5 1044.3,712.8 1042.7,712.5 1029.0,725.6 1027.3,725.3 1013.7,738.3 1012.0,738.0 998.5,750.9 996.8,750.6 983.3,763.5 981.7,763.2 968.3,776.0 966.6,775.7 955.0,786.8 948.4,785.7 946.7,787.3 927.0,783.8 925.4,785.4 905.8,782.0 904.2,783.6 884.8,780.2 883.1,781.8 863.8,778.4 862.2,779.9 841.4,776.3 839.8,777.8 819.1,774.2ZM831.2,593.4 837.6,593.6 844.1,591.4 848.9,587.6 853.0,581.6 855.2,574.4 855.7,567.0 855.0,561.3 852.3,551.5 851.6,545.8 852.4,543.8 859.6,537.5 863.7,532.9 868.6,524.4 871.9,514.0 873.1,501.8 872.1,490.2 868.9,478.5 864.1,468.2 859.3,461.0 852.6,453.8 846.3,449.3 841.4,446.7 836.8,445.2 828.8,444.2 824.0,444.5 815.7,447.2 808.6,451.9 803.2,457.6 798.4,465.1 795.1,473.0 793.2,481.5 792.4,492.6 793.6,504.0 795.0,509.8 798.1,518.1 802.8,526.5 812.3,537.8 813.4,540.3 813.1,544.0 810.0,554.7 809.3,560.2 809.7,567.7 811.9,575.5 815.3,582.0 820.1,587.5 824.8,591.0ZM824.1,590.3 820.1,587.3 815.3,581.7 812.9,577.5 810.7,571.6 809.4,563.9 809.8,556.5 815.9,536.9 815.4,535.0 809.2,528.9 805.6,524.3 800.2,514.2 796.8,502.5 795.9,495.0 795.8,489.4 797.0,480.2 799.0,473.0 802.4,466.0 806.3,460.5 811.1,455.8 817.5,451.9 822.4,450.2 830.4,449.4 838.4,451.0 844.8,453.9 851.2,458.4 858.1,465.9 863.2,474.1 866.5,482.1 869.2,493.7 869.6,503.2 868.1,514.3 866.4,519.7 863.0,526.8 857.3,534.0 849.4,539.8 849.1,541.7 854.4,559.3 855.4,565.1 855.0,574.4 852.8,581.5 850.8,585.0 847.3,588.9 842.4,592.1 839.2,593.2 836.0,593.6 831.2,593.2 828.0,592.3Z"/>
<path fill="#eaf1f5" stroke="#eaf1f5" d="M819.1,774.2 839.8,777.8 841.4,776.3 862.2,779.9 863.8,778.4 883.1,781.8 884.8,780.2 904.2,783.6 905.8,782.0 925.4,785.4 927.0,783.8 946.7,787.3 948.4,785.7 955.0,786.8 966.6,775.7 968.3,776.0 981.7,763.2 983.3,763.5 996.8,750.6 998.5,750.9 1012.0,738.0 1013.7,738.3 1027.3,725.3 1029.0,725.6 1042.7,712.5 1044.3,712.8 1048.9,708.5 1048.9,706.6 1050.6,705.0 1050.6,701.1 1052.4,699.5 1052.4,697.6 1054.1,696.0 1054.2,692.1 1055.9,690.5 1055.9,688.6 1057.6,686.9 1057.7,683.1 1059.4,681.5 1059.4,679.5 1061.1,677.9 1061.2,676.0 1062.9,674.3 1062.9,670.5 1064.6,668.8 1064.7,666.9 1066.4,665.3 1066.4,661.4 1068.2,659.8 1068.2,657.9 1069.9,656.2 1070.0,652.4 1071.7,650.7 1071.7,648.8 1073.5,647.1 1073.5,645.2 1075.2,643.5 1075.4,628.1 1077.1,626.5 1079.6,417.3 1077.9,415.1 1078.3,382.0 1076.6,379.8 1076.7,370.0 1073.3,365.7 1073.3,363.8 1071.6,361.6 1071.6,359.7 1069.9,357.5 1070.0,355.6 1068.3,353.4 1068.3,351.5 1064.9,347.2 1064.9,345.3 1063.2,343.1 1063.2,341.2 1061.6,339.0 1061.6,337.1 1053.8,327.3 1052.1,327.1 1045.3,318.5 1043.6,318.3 1036.9,309.8 1035.2,309.6 1031.8,305.4 1030.1,305.2 1028.4,303.0 1026.7,302.9 1025.0,300.7 1023.3,300.6 1020.0,296.3 1018.3,296.1 1016.6,294.0 1014.9,293.8 1013.2,291.7 1011.5,291.5 1009.8,289.4 1008.1,289.2 1004.8,285.0 1003.1,284.8 1001.4,282.7 999.7,282.5 998.1,280.4 996.4,280.2 993.0,276.0 991.4,275.8 989.7,273.7 988.0,273.5 986.3,271.4 984.6,271.2 983.0,269.1 981.3,269.0 979.6,266.8 976.3,266.5 974.6,264.4 971.3,264.0 969.6,261.9 966.2,261.6 964.6,259.5 959.6,259.0 957.9,256.9 954.6,256.5 952.9,254.4 949.6,254.1 947.9,252.0 944.6,251.7 942.9,249.6 937.9,249.1 936.3,247.0 933.0,246.6 931.3,244.6 928.0,244.2 926.4,242.1 921.4,241.6 919.8,239.6 725.0,220.2 723.4,222.0 715.6,221.2 714.1,222.9 706.3,222.1 704.7,223.8 698.5,223.2 696.9,224.9 695.4,224.8 693.8,226.5 692.3,226.3 690.7,228.0 687.6,227.7 686.1,229.4 684.5,229.3 683.0,231.0 681.4,230.8 679.9,232.5 678.4,232.4 676.8,234.1 673.7,233.8 672.2,235.4 670.6,235.3 669.1,237.0 667.6,236.8 664.5,240.2 662.9,240.1 658.3,245.1 656.8,245.0 652.2,250.1 650.7,249.9 646.1,255.0 644.6,254.8 640.6,259.1 640.6,261.0 636.0,266.0 636.0,267.9 633.0,271.2 633.0,273.1 628.4,278.1 628.4,279.9 625.4,283.3 625.4,285.1 620.9,290.1 620.9,291.9 617.8,295.3 617.8,297.1 614.8,300.4 614.8,304.1 613.3,305.8 613.3,307.6 611.8,309.3 611.8,312.9 610.3,314.6 610.3,316.4 608.8,318.1 608.8,319.9 607.3,321.5 607.3,325.2 605.8,326.8 605.8,328.7 604.3,330.3 604.3,334.0 602.8,335.6 602.9,560.6 604.4,562.7 604.4,564.5 607.4,568.5 607.4,570.3 610.4,574.4 610.4,576.2 613.4,580.3 613.4,582.1 617.9,588.2 617.9,590.0 622.4,596.1 622.4,597.9 628.4,606.1 628.4,607.9 633.0,614.0 633.0,615.8 639.0,624.0 639.0,625.8 643.5,631.9 643.5,633.7 648.1,639.9 648.1,641.7 652.6,647.9 652.6,649.7 655.6,653.8 655.6,655.6 660.2,661.8 660.2,663.6 664.7,669.7 664.7,671.6 667.7,675.7 667.7,677.5 673.8,685.7 673.8,687.6 681.4,697.9 681.4,699.7 689.1,710.1 689.1,711.9 696.7,722.2 696.7,724.1 700.8,729.6 702.3,729.9 716.1,748.6 722.3,749.7 723.8,751.8 753.2,757.0 754.8,759.1 786.0,764.6 787.6,766.7 817.6,772.1ZM818.5,772.8 817.6,771.5 787.6,766.2 786.0,764.1 754.8,758.5 753.2,756.4 723.8,751.2 722.3,749.1 716.1,748.0 702.3,729.3 700.8,729.0 697.2,724.1 697.2,722.3 689.6,712.0 689.6,710.1 681.9,699.8 681.9,698.0 674.3,687.6 674.3,685.8 668.2,677.6 668.2,675.8 665.2,671.6 665.2,669.8 660.7,663.7 660.7,661.8 656.1,655.7 656.1,653.9 653.1,649.8 653.1,647.9 648.6,641.8 648.6,640.0 644.0,633.8 644.0,632.0 639.5,625.9 639.5,624.1 633.5,615.9 633.5,614.1 629.0,607.9 629.0,606.1 623.0,598.0 623.0,596.2 618.5,590.1 618.5,588.3 614.0,582.1 614.0,580.3 611.0,576.3 611.0,574.5 608.0,570.4 608.0,568.6 605.0,564.5 605.0,562.7 603.5,560.7 603.4,335.7 604.9,334.1 604.9,330.4 606.4,328.7 606.4,326.9 607.9,325.3 607.9,321.6 609.4,320.0 609.4,318.1 610.9,316.5 610.9,314.6 612.4,313.0 612.4,309.3 613.9,307.7 613.9,305.8 615.4,304.2 615.4,300.5 618.5,297.2 618.5,295.3 621.5,292.0 621.5,290.2 626.0,285.2 626.0,283.3 629.1,280.0 629.1,278.2 633.6,273.1 633.6,271.3 636.7,267.9 636.7,266.1 641.2,261.1 641.2,259.2 644.6,255.6 646.1,255.7 650.7,250.7 652.2,250.8 656.8,245.8 658.3,245.9 662.9,240.8 664.5,241.0 667.6,237.6 669.1,237.8 670.6,236.1 672.2,236.2 673.7,234.5 676.8,234.8 678.4,233.1 679.9,233.3 681.4,231.6 683.0,231.7 684.5,230.0 686.1,230.2 687.6,228.5 690.7,228.8 692.3,227.1 693.8,227.2 695.4,225.5 696.9,225.7 698.5,224.0 704.7,224.6 706.3,222.9 714.1,223.7 715.6,221.9 723.4,222.7 725.0,221.0 919.8,240.3 921.4,242.4 926.4,242.9 928.0,245.0 931.3,245.3 933.0,247.4 936.3,247.7 937.9,249.8 942.9,250.3 944.6,252.4 947.9,252.8 949.6,254.9 952.9,255.2 954.6,257.3 957.9,257.6 959.6,259.7 964.6,260.3 966.2,262.4 969.6,262.7 971.2,264.8 974.6,265.2 976.3,267.3 979.6,267.6 981.3,269.7 983.0,269.9 984.6,272.0 986.3,272.2 988.0,274.3 989.7,274.5 991.3,276.6 993.0,276.8 996.4,281.0 998.1,281.2 999.7,283.3 1001.4,283.5 1003.1,285.6 1004.8,285.8 1008.1,290.0 1009.8,290.2 1011.5,292.3 1013.2,292.5 1014.9,294.6 1016.6,294.8 1018.3,296.9 1020.0,297.1 1023.3,301.3 1025.0,301.5 1026.7,303.7 1028.4,303.8 1030.1,306.0 1031.8,306.2 1035.2,310.4 1036.9,310.6 1043.6,319.1 1045.3,319.3 1052.1,327.9 1053.8,328.1 1060.9,337.0 1060.8,338.9 1062.5,341.1 1062.5,343.0 1064.2,345.2 1064.2,347.1 1067.6,351.4 1067.6,353.4 1069.3,355.5 1069.2,357.5 1070.9,359.6 1070.9,361.6 1072.6,363.7 1072.6,365.7 1076.0,370.0 1075.9,379.7 1077.6,381.9 1077.2,415.0 1078.9,417.2 1076.5,626.4 1074.8,628.0 1074.6,643.4 1072.8,645.1 1072.8,647.0 1071.1,648.7 1071.1,650.6 1069.3,652.3 1069.3,656.1 1067.6,657.8 1067.5,659.7 1065.8,661.3 1065.8,665.2 1064.1,666.8 1064.0,668.7 1062.3,670.4 1062.3,674.2 1060.5,675.9 1060.5,677.8 1058.8,679.4 1058.8,681.4 1057.0,683.0 1057.0,686.8 1055.3,688.5 1055.3,690.4 1053.5,692.0 1053.5,695.9 1051.8,697.5 1051.7,699.4 1050.0,701.0 1050.0,704.9 1048.3,706.5 1048.2,708.4 1044.4,712.1 1042.7,711.9 1029.0,724.9 1027.3,724.6 1013.7,737.6 1012.0,737.4 998.5,750.3 996.8,750.0 983.3,762.8 981.7,762.6 968.3,775.3 966.6,775.1 955.0,786.2 948.4,785.1 946.7,786.6 927.0,783.2 925.4,784.8 905.8,781.4 904.2,783.0 884.8,779.6 883.2,781.2 863.8,777.8 862.2,779.4 841.4,775.7 839.8,777.3 819.2,773.6ZM829.6,593.2 836.0,593.9 842.4,592.5 848.4,588.4 851.2,585.0 853.1,581.6 855.0,576.2 855.9,567.0 854.8,559.4 852.7,551.6 852.4,547.8 854.0,544.9 860.5,539.6 863.7,536.2 868.6,528.9 871.9,521.2 873.6,515.1 874.8,502.0 873.7,489.9 870.6,478.1 865.8,467.5 860.9,460.1 853.6,452.1 846.5,446.9 843.3,445.1 836.8,442.7 828.8,441.7 822.2,442.4 814.6,445.1 807.6,449.8 801.6,456.3 796.8,464.2 793.6,472.1 791.5,481.3 790.7,492.4 791.8,504.0 793.4,510.4 796.5,518.8 801.3,527.4 806.0,533.5 810.7,538.6 812.5,542.0 812.3,545.7 809.8,554.7 809.1,560.2 809.5,567.7 811.7,575.4 814.8,581.5 818.5,586.2 824.8,591.2ZM830.1,593.1 824.8,591.0 818.5,585.9 813.8,579.5 811.1,573.5 809.7,567.7 809.3,560.2 810.0,554.7 813.1,544.0 813.4,540.3 812.3,537.8 802.8,526.5 798.1,518.1 795.0,509.8 793.6,504.0 792.4,492.6 793.2,481.5 795.1,473.0 798.4,465.1 803.2,457.6 808.6,451.9 815.7,447.2 824.0,444.5 828.8,444.2 836.8,445.2 841.4,446.7 846.3,449.3 852.6,453.8 859.3,461.0 864.1,468.2 868.9,478.5 872.1,490.2 873.1,501.8 871.9,514.0 868.6,524.4 863.7,532.9 859.6,537.5 852.4,543.8 851.6,545.8 852.3,551.5 855.0,561.3 855.7,567.0 855.2,574.4 853.0,581.6 851.0,585.0 848.2,588.3 842.4,592.3 836.0,593.8Z"/>
<path fill="#e1edf3" stroke="#e1edf3" d="M819.2,773.6 839.8,777.3 841.4,775.7 862.2,779.4 863.8,777.8 883.2,781.2 884.8,779.6 904.2,783.0 905.8,781.4 925.4,784.8 927.0,783.2 946.7,786.6 948.4,785.1 955.0,786.2 966.6,775.1 968.3,775.3 981.7,762.6 983.3,762.8 996.8,750.0 998.5,750.3 1012.0,737.4 1013.7,737.6 1027.3,724.6 1029.0,724.9 1042.7,711.9 1044.4,712.1 1048.2,708.4 1048.3,706.5 1050.0,704.9 1050.0,701.0 1051.7,699.4 1051.8,697.5 1053.5,695.9 1053.5,692.0 1055.3,690.4 1055.3,688.5 1057.0,686.8 1057.0,683.0 1058.8,681.4 1058.8,679.4 1060.5,677.8 1060.5,675.9 1062.3,674.2 1062.3,670.4 1064.0,668.7 1064.1,666.8 1065.8,665.2 1065.8,661.3 1067.5,659.7 1067.6,657.8 1069.3,656.1 1069.3,652.3 1071.1,650.6 1071.1,648.7 1072.8,647.0 1072.8,645.1 1074.6,643.4 1074.8,628.0 1076.5,626.4 1078.9,417.2 1077.2,415.0 1077.6,381.9 1075.9,379.7 1076.0,370.0 1072.6,365.7 1072.6,363.7 1070.9,361.6 1070.9,359.6 1069.2,357.5 1069.3,355.5 1067.6,353.4 1067.6,351.4 1064.2,347.1 1064.2,345.2 1062.5,343.0 1062.5,341.1 1060.8,338.9 1060.9,337.0 1053.8,328.1 1052.1,327.9 1045.3,319.3 1043.6,319.1 1036.9,310.6 1035.2,310.4 1031.8,306.2 1030.1,306.0 1028.4,303.8 1026.7,303.7 1025.0,301.5 1023.3,301.3 1020.0,297.1 1018.3,296.9 1016.6,294.8 1014.9,294.6 1013.2,292.5 1011.5,292.3 1009.8,290.2 1008.1,290.0 1004.8,285.8 1003.1,285.6 1001.4,283.5 999.7,283.3 998.1,281.2 996.4,281.0 993.0,276.8 991.3,276.6 989.7,274.5 988.0,274.3 986.3,272.2 984.6,272.0 983.0,269.9 981.3,269.7 979.6,267.6 976.3,267.3 974.6,265.2 971.2,264.8 969.6,262.7 966.2,262.4 964.6,260.3 959.6,259.7 957.9,257.6 954.6,257.3 952.9,255.2 949.6,254.9 947.9,252.8 944.6,252.4 942.9,250.3 937.9,249.8 936.3,247.7 933.0,247.4 931.3,245.3 928.0,245.0 926.4,242.9 921.4,242.4 919.8,240.3 725.0,221.0 723.4,222.7 715.6,221.9 714.1,223.7 706.3,222.9 704.7,224.6 698.5,224.0 696.9,225.7 695.4,225.5 693.8,227.2 692.3,227.1 690.7,228.8 687.6,228.5 686.1,230.2 684.5,230.0 683.0,231.7 681.4,231.6 679.9,233.3 678.4,233.1 676.8,234.8 673.7,234.5 672.2,236.2 670.6,236.1 669.1,237.8 667.6,237.6 664.5,241.0 662.9,240.8 658.3,245.9 656.8,245.8 652.2,250.8 650.7,250.7 646.1,255.7 644.6,255.6 641.2,259.2 641.2,261.1 636.7,266.1 636.7,267.9 633.6,271.3 633.6,273.1 629.1,278.2 629.1,280.0 626.0,283.3 626.0,285.2 621.5,290.2 621.5,292.0 618.5,295.3 618.5,297.2 615.4,300.5 615.4,304.2 613.9,305.8 613.9,307.7 612.4,309.3 612.4,313.0 610.9,314.6 610.9,316.5 609.4,318.1 609.4,320.0 607.9,321.6 607.9,325.3 606.4,326.9 606.4,328.7 604.9,330.4 604.9,334.1 603.4,335.7 603.5,560.7 605.0,562.7 605.0,564.5 608.0,568.6 608.0,570.4 611.0,574.5 611.0,576.3 614.0,580.3 614.0,582.1 618.5,588.3 618.5,590.1 623.0,596.2 623.0,598.0 629.0,606.1 629.0,607.9 633.5,614.1 633.5,615.9 639.5,624.1 639.5,625.9 644.0,632.0 644.0,633.8 648.6,640.0 648.6,641.8 653.1,647.9 653.1,649.8 656.1,653.9 656.1,655.7 660.7,661.8 660.7,663.7 665.2,669.8 665.2,671.6 668.2,675.8 668.2,677.6 674.3,685.8 674.3,687.6 681.9,698.0 681.9,699.8 689.6,710.1 689.6,712.0 697.2,722.3 697.2,724.1 700.8,729.0 702.3,729.3 716.1,748.0 722.3,749.1 723.8,751.2 753.2,756.4 754.8,758.5 786.0,764.1 787.6,766.2 817.6,771.5ZM819.0,772.8 817.6,771.0 787.6,765.7 786.0,763.6 754.8,757.9 753.2,755.9 728.2,751.3 710.0,734.4 694.7,717.3 690.1,711.7 690.1,710.2 682.4,699.9 682.4,698.1 674.8,687.7 674.8,685.9 668.8,677.7 668.7,675.8 665.7,671.7 665.7,669.9 661.2,663.7 661.2,661.9 656.6,655.8 656.6,653.9 653.6,649.8 653.6,648.0 649.1,641.9 649.1,640.1 647.5,638.0 645.9,634.1 637.8,611.1 631.3,586.6 626.7,562.4 624.0,538.5 623.1,514.8 623.9,489.5 626.4,466.2 630.5,443.1 636.4,420.1 644.1,397.4 653.0,376.5 664.0,355.7 676.4,336.9 688.7,321.7 703.0,307.4 717.0,296.3 731.1,287.7 746.8,280.6 764.2,275.7 781.7,273.3 792.8,272.9 805.6,273.3 820.0,274.7 832.9,276.7 855.5,278.2 873.4,281.0 889.8,285.2 899.6,288.6 909.4,292.8 927.6,302.7 945.7,315.8 962.3,330.9 971.3,340.6 980.2,351.2 996.7,374.4 1011.3,399.3 1024.9,428.0 1035.5,456.5 1044.2,486.6 1050.6,518.4 1053.9,547.8 1054.7,563.4 1054.8,578.8 1054.1,594.1 1052.7,609.3 1048.0,637.5 1044.4,652.3 1040.5,665.1 1035.9,677.7 1030.6,690.3 1024.5,702.7 1017.5,714.9 1009.6,726.9 1002.0,736.9 993.5,746.7 985.1,755.3 975.0,764.2 965.0,772.0 955.0,778.6 943.1,785.4 927.1,782.7 925.4,784.2 905.9,780.9 904.2,782.4 884.8,779.1 883.2,780.7 863.8,777.3 862.2,778.9 841.4,775.2 839.8,776.8ZM828.0,592.8 834.4,594.2 839.2,593.8 842.4,592.7 845.7,590.9 848.6,588.4 852.4,583.4 855.2,576.3 856.1,568.9 855.4,561.3 853.1,551.6 853.3,547.9 854.5,546.2 863.8,538.1 867.0,534.0 870.2,528.5 873.3,520.7 874.7,515.2 875.9,502.2 875.3,492.7 872.2,479.4 867.4,468.1 861.5,458.8 853.5,450.2 846.5,445.1 841.7,442.7 836.8,441.0 828.8,439.9 822.4,440.6 814.4,443.5 807.6,448.0 801.6,454.1 796.8,461.4 793.6,468.5 790.3,481.0 789.6,490.4 790.7,503.6 792.0,509.3 794.9,518.0 801.2,529.2 811.6,541.9 811.9,545.7 809.6,554.6 808.9,562.0 809.7,569.5 811.5,575.4 814.6,581.4 818.5,586.4 823.2,590.4ZM828.8,592.9 824.8,591.2 818.5,586.2 814.8,581.5 811.7,575.4 809.5,567.7 809.1,560.2 809.8,554.7 812.3,545.7 812.5,542.0 810.7,538.6 806.0,533.5 801.3,527.4 796.5,518.8 793.4,510.4 791.8,504.0 790.7,490.5 791.8,479.5 793.6,472.1 796.8,464.2 801.6,456.3 807.6,449.8 814.6,445.1 822.2,442.4 830.4,441.7 838.4,443.2 843.3,445.1 847.6,447.6 856.0,454.3 862.5,462.3 867.4,470.5 872.1,483.0 874.1,492.5 874.8,503.9 873.6,515.1 871.9,521.2 868.6,528.9 863.7,536.2 860.5,539.6 854.0,544.9 852.4,547.8 852.7,551.6 854.8,559.4 855.9,567.0 855.0,576.2 853.1,581.6 851.2,585.0 848.4,588.4 842.4,592.5 836.0,593.9 832.8,593.9Z"/>
<path fill="#d7e8f1" stroke="#d7e8f1" d="M819.2,773.1 839.8,776.8 841.4,775.2 862.2,778.9 863.8,777.3 883.2,780.7 884.8,779.1 904.2,782.4 905.9,780.9 925.4,784.2 927.1,782.7 943.1,785.4 955.0,778.6 965.0,772.0 975.0,764.2 985.3,755.0 994.8,745.3 1003.2,735.3 1010.8,725.2 1017.5,714.9 1024.5,702.7 1030.6,690.3 1035.9,677.7 1040.5,665.1 1044.4,652.3 1048.0,637.5 1052.7,609.3 1054.1,594.1 1054.8,578.8 1054.7,563.4 1053.9,547.8 1050.6,518.4 1044.2,486.6 1035.5,456.5 1024.9,428.0 1011.3,399.3 996.7,374.4 980.2,351.2 971.3,340.6 962.3,330.9 945.7,315.8 927.6,302.7 909.4,292.8 899.6,288.6 889.8,285.2 873.4,281.0 855.5,278.2 832.9,276.7 820.0,274.7 805.6,273.3 792.8,272.9 781.7,273.3 764.2,275.7 746.8,280.6 731.1,287.7 717.0,296.3 703.0,307.4 688.7,321.7 676.4,336.9 664.0,355.7 653.0,376.5 644.1,397.4 636.4,420.1 630.5,443.1 626.4,466.2 623.9,489.5 623.1,514.8 624.0,538.5 626.7,562.4 631.3,586.6 637.8,611.1 645.9,634.1 647.5,638.0 649.1,640.1 649.1,641.9 653.6,648.0 653.6,649.8 656.6,653.9 656.6,655.8 661.2,661.9 661.2,663.7 665.7,669.9 665.7,671.7 668.7,675.8 668.8,677.7 674.8,685.9 674.8,687.7 682.4,698.1 682.4,699.9 690.1,710.2 690.1,711.7 694.7,717.3 710.0,734.4 728.2,751.3 753.2,755.9 754.8,757.9 786.0,763.6 787.6,765.7 817.6,771.0ZM814.0,748.0 800.3,743.2 786.1,736.8 773.6,729.7 761.1,721.2 748.7,711.2 736.9,700.0 725.5,687.4 715.5,674.5 706.0,660.2 698.0,646.1 690.4,630.4 684.1,614.8 678.4,597.5 674.0,580.5 670.8,563.6 668.3,545.0 666.9,524.7 666.7,504.6 667.8,484.7 670.0,464.8 673.1,446.9 677.9,427.4 683.6,409.7 690.2,394.0 697.3,380.1 706.2,366.4 715.4,355.0 724.7,345.9 735.7,337.6 746.7,331.6 759.3,327.2 770.4,325.3 781.5,324.9 794.2,326.1 805.3,328.3 832.6,334.8 866.6,334.1 876.4,334.8 886.1,336.4 897.6,339.6 909.1,344.4 920.6,351.2 932.1,359.9 945.2,372.9 958.0,389.1 969.6,407.7 978.8,426.2 987.5,448.4 994.7,472.4 1000.3,498.1 1003.8,523.6 1005.6,550.7 1005.3,577.4 1002.9,601.9 998.3,626.1 991.9,647.9 982.9,669.4 972.0,688.5 959.4,705.3 945.1,719.9 937.3,726.3 929.1,732.2 920.9,737.2 911.0,742.2 893.1,748.9 883.4,751.4 873.6,753.0 854.3,754.2 843.1,753.7 833.6,752.5ZM828.0,593.1 834.4,594.4 840.8,593.5 844.0,592.2 847.3,589.9 850.3,586.8 852.6,583.4 854.9,578.1 856.3,569.0 855.9,563.3 853.8,553.6 853.6,549.8 854.3,548.0 855.6,546.6 861.8,541.6 865.3,537.9 868.6,533.5 871.6,528.0 875.3,517.2 876.4,509.8 876.8,502.3 875.5,488.9 872.3,477.2 869.0,469.2 862.6,458.5 854.5,449.6 846.5,443.6 836.9,439.5 828.8,438.4 820.8,439.5 812.8,442.8 806.4,447.4 800.0,454.4 795.2,462.5 792.0,470.4 789.8,479.2 788.7,490.3 789.0,497.7 790.1,505.3 793.6,517.0 799.7,528.6 810.6,541.8 811.4,543.7 811.2,547.4 809.1,556.4 808.7,562.0 809.5,569.5 811.3,575.4 814.3,581.4 818.5,586.7 823.2,590.6ZM827.8,592.7 823.2,590.4 818.5,586.4 814.6,581.4 811.5,575.4 809.7,569.5 808.9,562.0 809.6,554.6 811.9,545.7 811.6,541.9 801.2,529.2 794.9,518.0 792.0,509.3 790.7,503.6 789.6,490.4 790.3,481.0 793.6,468.5 796.8,461.4 801.6,454.1 807.6,448.0 814.4,443.5 822.4,440.6 828.8,439.9 836.8,441.0 841.7,442.7 846.5,445.1 853.5,450.2 861.5,458.8 867.4,468.1 872.2,479.4 875.3,492.7 875.9,502.2 874.7,515.2 873.3,520.7 870.2,528.5 867.0,534.0 863.8,538.1 854.5,546.2 853.3,547.9 853.1,551.6 855.4,561.3 856.1,568.9 855.2,576.3 852.4,583.4 848.6,588.4 845.7,590.9 842.4,592.7 839.2,593.8 834.4,594.2Z"/>
<path fill="#c9e1ed" stroke="#c9e1ed" d="M814.5,748.2 824.0,750.7 835.2,752.7 844.7,753.8 855.9,754.2 875.3,752.8 885.0,751.0 894.7,748.4 912.7,741.5 922.5,736.3 930.7,731.1 939.0,725.0 946.8,718.4 960.6,703.9 973.1,686.8 983.8,667.6 991.9,647.9 998.3,626.1 1002.9,601.9 1005.3,577.4 1005.6,550.7 1003.8,523.6 1000.3,498.1 994.7,472.4 987.5,448.4 978.8,426.2 969.6,407.7 958.0,389.1 945.2,372.9 932.1,359.9 920.6,351.2 909.1,344.4 897.6,339.6 886.1,336.4 876.4,334.8 866.6,334.1 832.6,334.8 805.3,328.3 794.2,326.1 781.5,324.9 770.4,325.3 759.3,327.2 746.7,331.6 735.7,337.6 724.7,345.9 715.4,355.0 706.2,366.4 697.3,380.1 690.2,394.0 683.6,409.7 677.9,427.4 673.1,446.9 670.0,464.8 667.8,484.7 666.7,504.6 666.9,524.7 668.3,545.0 670.8,563.6 674.0,580.5 678.4,597.5 684.1,614.8 690.4,630.4 698.0,646.1 706.0,660.2 715.5,674.5 725.5,687.4 736.9,700.0 748.7,711.2 761.1,721.2 773.6,729.7 787.7,737.6 800.3,743.2ZM821.8,721.6 809.9,718.0 797.3,712.8 786.3,707.0 775.3,699.9 764.4,691.5 755.0,683.0 745.7,673.2 736.4,661.8 728.7,650.8 721.0,638.0 714.3,625.0 708.3,611.3 703.4,597.7 698.9,582.4 695.3,567.3 692.2,550.4 689.9,531.7 688.6,513.2 688.2,494.8 688.9,476.6 690.6,460.3 693.2,444.1 697.1,428.0 701.1,415.6 706.2,403.3 712.5,391.2 720.0,380.1 727.9,370.8 735.6,363.8 745.0,357.5 754.5,353.1 765.5,350.3 778.2,349.8 790.9,351.9 800.4,354.9 822.8,364.0 832.4,367.0 840.5,366.3 868.0,361.5 877.8,361.2 886.0,361.8 894.1,363.5 900.7,365.7 907.2,368.6 915.4,373.3 926.9,382.2 936.8,392.4 946.6,405.3 956.2,421.4 963.7,437.7 970.1,455.8 974.9,473.6 978.5,493.3 981.2,518.5 981.8,543.5 980.4,570.0 977.3,594.3 972.4,616.4 965.4,638.2 957.5,655.9 947.7,672.2 936.0,687.0 922.8,699.6 908.0,709.9 899.8,714.3 891.7,717.9 875.5,722.8 865.8,724.5 857.7,725.2 840.1,724.9 830.5,723.6ZM826.4,592.6 832.8,594.5 836.0,594.6 840.8,593.8 844.0,592.4 847.4,590.1 850.6,586.8 852.9,583.4 855.5,576.3 856.5,569.0 856.2,563.3 854.2,553.7 854.2,549.9 855.6,547.9 865.3,539.3 868.6,535.1 871.9,529.4 873.9,524.5 876.0,517.3 877.0,511.8 877.5,504.3 876.9,492.9 873.8,479.3 869.0,467.5 864.2,459.3 856.1,449.7 848.1,443.1 838.5,438.4 830.4,436.8 822.4,437.6 814.4,440.5 808.0,444.6 801.6,450.9 796.7,457.8 791.9,468.3 788.8,480.8 788.0,490.2 788.3,497.6 789.3,505.2 793.4,518.5 799.7,530.0 809.1,541.1 810.7,543.6 810.9,547.4 808.9,556.4 808.5,561.9 809.3,569.5 811.1,575.3 814.1,581.4 817.2,585.6 821.7,589.7ZM827.0,592.6 823.2,590.6 818.5,586.7 814.3,581.4 811.3,575.4 809.5,569.5 808.7,562.0 809.1,556.4 811.2,547.4 811.4,543.7 810.6,541.8 799.7,528.6 793.6,517.0 790.1,505.3 789.0,497.7 788.7,490.3 789.8,479.2 792.0,470.4 796.7,459.6 801.6,452.4 808.0,446.0 815.4,441.5 822.4,439.1 830.4,438.4 835.2,439.1 840.1,440.5 848.1,444.6 856.1,451.1 862.9,459.0 869.0,469.2 873.8,481.7 876.1,492.8 876.8,504.2 875.2,517.6 873.5,523.3 870.7,529.7 865.3,537.9 861.8,541.6 855.6,546.6 854.3,548.0 853.6,549.8 853.8,553.6 855.9,563.3 856.3,569.0 854.9,578.1 852.6,583.4 850.3,586.8 847.3,589.9 844.0,592.2 840.8,593.5 834.4,594.4 831.2,594.0Z"/>
<path fill="#b9d9e9" stroke="#b9d9e9" d="M822.6,721.9 832.1,723.8 841.7,725.0 859.3,725.1 867.4,724.3 877.1,722.4 893.3,717.2 901.5,713.5 909.6,709.0 923.0,699.4 936.5,686.5 948.2,671.4 958.4,654.1 966.1,636.4 972.4,616.4 977.6,592.5 980.6,568.1 981.8,541.6 981.0,516.6 978.2,491.3 973.9,469.7 968.9,451.8 962.0,433.7 955.1,419.4 946.4,404.9 936.8,392.4 926.9,382.2 915.4,373.3 907.2,368.6 900.7,365.7 894.1,363.5 886.0,361.8 877.8,361.2 868.0,361.5 840.5,366.3 832.4,367.0 822.8,364.0 800.4,354.9 790.9,351.9 778.2,349.8 765.5,350.3 754.5,353.1 745.0,357.5 735.6,363.8 727.9,370.8 720.0,380.1 712.5,391.2 706.2,403.3 701.1,415.6 697.1,428.0 693.2,444.1 690.6,460.3 688.9,476.6 688.2,494.8 688.6,513.2 689.9,531.7 692.2,550.4 695.3,567.3 698.9,582.4 703.4,597.7 708.3,611.3 714.3,625.0 721.0,638.0 728.7,650.8 736.4,661.8 745.7,673.2 755.0,683.0 764.4,691.5 775.3,699.9 786.3,707.0 798.9,713.5 811.5,718.6ZM817.8,700.7 806.8,696.7 797.4,692.2 787.9,686.8 778.5,680.2 769.1,672.4 760.1,663.5 752.0,654.1 744.8,644.5 738.0,634.0 731.6,622.3 726.0,610.4 721.3,598.7 716.8,585.2 713.0,571.8 709.5,556.6 706.4,539.6 704.0,522.8 702.4,506.0 701.7,491.2 701.8,476.5 702.6,463.7 704.4,449.2 707.0,436.7 710.5,424.2 714.5,413.6 719.6,403.2 726.0,392.9 732.4,385.0 740.3,377.6 748.1,372.3 756.0,368.7 763.9,366.6 770.2,365.9 776.5,366.1 782.9,367.1 790.8,369.5 801.9,374.8 824.3,388.4 832.3,391.8 840.3,390.2 864.7,381.0 871.2,379.4 877.7,378.6 885.9,378.6 894.0,380.0 902.2,382.7 908.8,385.9 918.6,392.5 928.4,401.8 936.6,411.9 944.2,423.8 950.4,436.0 955.9,450.1 960.6,466.0 963.9,481.8 966.4,503.1 967.0,526.1 965.6,550.7 962.1,576.9 957.1,600.8 950.5,622.6 942.2,642.1 933.1,657.7 922.7,671.1 916.4,677.6 909.8,683.4 896.7,692.4 882.1,699.3 874.0,701.9 865.9,703.8 849.8,705.3 833.8,704.3ZM826.4,592.9 829.6,594.1 834.4,594.8 840.8,594.0 844.0,592.7 847.7,590.1 850.8,586.9 853.1,583.5 855.8,576.4 856.6,570.9 856.4,563.3 854.6,553.7 854.9,550.0 856.3,548.3 865.5,540.3 869.5,535.2 872.5,530.0 875.1,523.5 876.8,517.4 878.2,504.4 877.3,491.1 874.5,479.4 870.6,469.3 864.2,457.9 856.2,448.2 848.1,441.6 843.3,438.7 838.5,436.6 833.7,435.2 830.4,434.9 822.4,435.8 814.4,438.9 806.4,444.5 800.0,451.4 795.0,459.4 790.6,470.0 788.4,479.0 787.3,490.1 787.6,497.5 788.6,505.1 790.2,511.8 792.7,518.7 798.1,528.9 802.6,535.0 809.1,542.2 810.5,545.5 808.6,556.4 808.2,561.9 808.8,567.6 810.9,575.3 813.9,581.3 816.9,585.5 820.1,588.7ZM826.3,592.5 821.7,589.7 817.2,585.6 814.1,581.4 811.1,575.3 809.3,569.5 808.5,561.9 808.9,556.4 810.9,547.4 810.7,543.6 809.1,541.1 799.7,530.0 793.4,518.5 789.3,505.2 788.3,497.6 788.0,490.2 788.8,480.8 791.9,468.3 796.7,457.8 801.6,450.9 808.0,444.6 814.4,440.5 822.4,437.6 830.4,436.8 838.5,438.4 848.1,443.1 856.1,449.7 864.2,459.3 869.0,467.5 873.8,479.3 876.9,492.9 877.5,504.3 877.0,511.8 876.0,517.3 873.9,524.5 871.9,529.4 868.6,535.1 865.3,539.3 855.6,547.9 854.2,549.9 854.2,553.7 856.2,563.3 856.5,569.0 855.5,576.3 852.9,583.4 850.6,586.8 847.4,590.1 844.0,592.4 840.8,593.8 836.0,594.6 832.8,594.5Z"/>
<path fill="#abd2e5" stroke="#abd2e5" d="M817.9,700.7 833.8,704.3 849.8,705.3 865.9,703.8 874.0,701.9 882.1,699.3 896.7,692.4 909.8,683.4 916.4,677.6 922.7,671.1 933.1,657.7 942.2,642.1 950.5,622.6 957.1,600.8 962.1,576.9 965.6,550.7 967.0,526.1 966.4,503.1 963.9,481.8 960.6,466.0 955.9,450.1 950.4,436.0 944.2,423.8 936.6,411.9 928.4,401.8 918.6,392.5 908.8,385.9 902.2,382.7 894.0,380.0 885.9,378.6 877.7,378.6 871.2,379.4 864.7,381.0 840.3,390.2 832.3,391.8 824.3,388.4 801.9,374.8 790.8,369.5 782.9,367.1 776.5,366.1 770.2,365.9 763.9,366.6 756.0,368.7 748.1,372.3 740.3,377.6 732.4,385.0 726.0,392.9 719.6,403.2 714.5,413.6 710.5,424.2 707.0,436.7 704.4,449.2 702.6,463.7 701.8,476.5 701.7,491.2 702.4,506.0 704.0,522.8 706.4,539.6 709.5,556.6 713.0,571.8 716.8,585.2 721.3,598.7 726.0,610.4 731.6,622.3 738.0,634.0 744.8,644.5 752.0,654.1 760.1,663.5 769.1,672.4 778.5,680.2 787.9,686.8 797.4,692.2 806.8,696.7ZM821.4,686.4 811.7,683.2 802.2,678.9 792.7,673.4 784.9,667.9 775.4,660.0 767.6,652.2 760.1,643.3 753.6,634.4 747.6,624.8 742.2,614.8 736.8,602.9 732.3,591.2 724.3,564.3 716.7,530.1 712.5,501.9 711.4,488.9 711.1,475.9 711.6,463.1 712.7,452.2 714.7,441.4 717.4,430.7 721.2,420.0 725.3,411.3 730.8,402.1 737.1,394.2 743.4,388.2 749.7,383.9 756.0,380.8 763.9,378.5 770.2,377.9 778.1,378.7 784.4,380.3 792.3,383.9 803.3,391.2 824.2,409.8 832.2,415.0 835.4,414.2 840.2,411.6 861.3,397.7 867.8,394.6 874.4,392.5 882.5,391.3 890.7,391.6 898.9,393.6 905.4,396.4 913.6,401.4 921.8,408.5 928.5,416.1 935.7,426.5 941.3,436.8 946.5,448.9 950.3,460.9 953.6,474.7 956.2,494.1 956.8,513.3 955.5,534.1 952.3,556.4 946.6,584.1 940.0,607.8 932.5,627.4 924.2,643.1 914.6,656.7 903.5,668.1 892.0,676.7 879.0,683.5 864.4,688.1 849.9,689.9 835.5,689.3ZM826.4,593.1 829.6,594.3 834.4,595.1 837.6,594.9 842.4,593.7 848.9,589.4 853.3,583.5 856.0,576.4 856.8,570.9 856.7,563.4 855.0,551.9 855.7,550.1 857.2,548.5 866.5,540.4 872.4,531.8 875.5,524.8 877.1,519.3 878.9,506.4 878.4,495.0 875.7,481.4 871.4,469.5 865.8,458.9 857.8,448.4 849.7,440.8 840.1,434.6 832.1,431.6 825.6,432.4 822.4,433.4 814.4,437.0 806.4,442.9 800.0,449.9 795.1,457.5 790.4,468.4 787.8,479.0 786.7,490.0 786.9,497.4 787.9,505.0 789.8,512.7 791.9,518.6 798.1,530.2 809.1,543.4 809.9,545.4 808.0,561.9 808.5,567.5 810.7,575.3 813.6,581.3 816.9,585.8 821.7,590.3ZM825.6,592.4 820.1,588.7 816.9,585.5 813.9,581.3 810.9,575.3 808.8,567.6 808.2,561.9 808.6,556.4 810.5,545.5 809.1,542.2 802.6,535.0 798.1,528.9 792.7,518.7 790.2,511.8 788.6,505.1 787.6,497.5 787.3,490.1 788.4,479.0 790.6,470.0 795.0,459.4 800.0,451.4 806.4,444.5 814.4,438.9 822.4,435.8 830.4,434.9 833.7,435.2 838.5,436.6 843.3,438.7 848.1,441.6 856.2,448.2 864.2,457.9 870.6,469.3 875.4,482.5 877.8,494.9 878.2,506.3 876.4,519.2 874.1,526.4 871.8,531.2 865.5,540.3 856.3,548.3 854.9,550.0 854.6,553.7 856.4,563.3 856.6,570.9 855.8,576.4 853.1,583.5 850.8,586.9 847.7,590.1 844.0,592.7 840.8,594.0 836.0,594.8 832.8,594.7 829.6,594.1Z"/>
<path fill="#99c7df" stroke="#99c7df" d="M822.8,686.8 837.1,689.5 851.5,689.8 866.0,687.7 880.6,682.8 893.6,675.7 905.1,666.7 914.9,656.2 924.2,643.1 932.5,627.4 940.0,607.8 946.6,584.1 952.3,556.4 955.5,534.1 956.8,513.3 956.2,494.1 953.6,474.7 950.3,460.9 946.5,448.9 941.3,436.8 935.7,426.5 928.5,416.1 921.8,408.5 913.6,401.4 905.4,396.4 898.9,393.6 890.7,391.6 882.5,391.3 874.4,392.5 867.8,394.6 861.3,397.7 840.2,411.6 835.4,414.2 832.2,415.0 824.2,409.8 803.3,391.2 792.3,383.9 784.4,380.3 778.1,378.7 770.2,377.9 763.9,378.5 756.0,380.8 749.7,383.9 743.4,388.2 737.1,394.2 730.8,402.1 725.3,411.3 721.2,420.0 717.4,430.7 714.7,441.4 712.7,452.2 711.6,463.1 711.1,475.9 711.4,488.9 712.5,501.9 717.1,532.0 724.7,566.2 733.0,593.1 742.2,614.8 747.6,624.8 754.0,635.0 760.1,643.3 767.6,652.2 775.4,660.0 784.9,667.9 794.3,674.4 803.7,679.6 813.2,683.8ZM817.4,672.8 808.5,669.2 800.6,665.1 791.2,658.9 783.3,652.5 775.5,644.9 768.9,637.3 762.7,629.0 756.8,619.7 747.4,600.9 739.6,579.4 729.8,543.0 722.1,508.8 719.0,486.2 718.5,465.9 720.3,447.7 722.2,438.7 724.8,429.8 728.3,421.0 731.9,414.0 736.3,407.1 741.8,400.6 746.5,396.3 752.8,392.0 757.5,389.9 763.8,388.1 770.1,387.6 778.0,388.6 786.0,391.5 792.3,395.3 798.6,400.3 806.5,408.5 814.4,418.9 817.9,424.9 818.3,428.7 817.5,430.5 806.4,441.0 801.6,446.3 796.8,453.0 792.6,461.0 789.8,468.0 787.5,477.0 786.2,486.2 786.1,495.5 787.9,508.8 789.6,514.6 792.8,522.5 799.0,532.6 807.5,542.4 809.3,545.3 809.4,549.0 807.9,558.1 807.8,563.7 808.6,569.4 811.2,577.2 813.3,581.2 816.9,586.1 821.7,590.6 826.4,593.4 829.6,594.5 834.4,595.3 840.8,594.5 847.3,591.1 852.6,585.2 855.1,580.0 856.9,572.8 857.0,565.3 855.6,555.7 855.6,552.0 857.2,549.6 865.9,542.2 871.2,535.4 875.7,526.7 878.6,515.8 879.5,506.5 879.0,495.1 876.9,483.5 873.0,471.6 869.0,463.0 864.2,455.0 857.8,446.5 848.6,436.4 846.0,432.3 845.7,430.4 846.9,426.7 850.8,421.6 855.5,416.5 861.2,411.3 867.8,406.8 874.3,403.7 880.8,401.9 889.0,401.4 895.5,402.4 902.1,404.6 908.6,408.1 915.1,413.0 921.3,419.0 926.6,425.5 931.9,433.7 936.2,441.9 940.4,452.0 943.6,461.9 946.3,473.7 948.4,489.3 948.8,506.5 947.6,523.4 944.6,542.0 936.7,575.1 929.0,602.3 921.4,621.9 913.0,637.6 904.2,649.4 894.4,659.1 883.7,666.8 870.9,672.9 858.0,676.4 845.2,677.5 830.8,676.3ZM824.9,592.3 820.1,589.0 815.3,583.8 812.4,579.3 809.9,573.3 808.5,567.5 808.0,561.9 809.9,545.4 809.1,543.4 798.1,530.2 791.9,518.6 789.2,510.8 787.5,503.1 786.7,495.6 786.7,488.1 788.1,477.1 791.1,466.4 795.2,457.3 800.8,449.0 806.4,442.9 814.4,437.0 822.4,433.4 825.6,432.4 832.1,431.6 840.1,434.6 849.7,440.8 857.8,448.4 865.8,458.9 871.4,469.5 875.7,481.4 878.4,495.0 878.9,506.4 877.1,519.3 875.5,524.8 872.4,531.8 866.5,540.4 857.2,548.5 855.7,550.1 855.0,551.9 856.7,563.4 856.8,570.9 854.9,580.0 852.3,585.2 847.3,590.8 840.8,594.2 837.6,594.9 832.8,594.9 828.0,593.8Z"/>
<path fill="#85bbd8" stroke="#85bbd8" d="M818.1,673.0 832.4,676.6 845.2,677.5 858.0,676.4 870.9,672.9 883.7,666.8 894.4,659.1 904.2,649.4 913.0,637.6 921.4,621.9 929.0,602.3 936.7,575.1 944.6,542.0 947.6,523.4 948.8,506.5 948.4,489.3 946.3,473.7 943.6,461.9 940.4,452.0 936.2,441.9 931.9,433.7 926.6,425.5 921.3,419.0 915.1,413.0 908.6,408.1 902.1,404.6 895.5,402.4 889.0,401.4 880.8,401.9 874.3,403.7 867.8,406.8 861.2,411.3 855.5,416.5 850.8,421.6 846.9,426.7 845.7,430.4 846.0,432.3 848.6,436.4 857.8,446.5 864.2,455.0 869.0,463.0 873.0,471.6 876.9,483.5 879.0,495.1 879.5,506.5 878.6,515.8 875.7,526.7 871.2,535.4 865.9,542.2 857.2,549.6 855.6,552.0 855.6,555.7 857.0,565.3 856.9,572.8 855.1,580.0 852.6,585.2 847.3,591.1 840.8,594.5 834.4,595.3 829.6,594.5 826.4,593.4 821.7,590.6 816.9,586.1 813.3,581.2 811.2,577.2 808.6,569.4 807.8,563.7 807.9,558.1 809.4,549.0 809.3,545.3 807.5,542.4 799.0,532.6 792.8,522.5 789.6,514.6 787.9,508.8 786.1,495.5 786.2,486.2 787.5,477.0 789.8,468.0 792.6,461.0 796.8,453.0 801.6,446.3 806.4,441.0 817.5,430.5 818.3,428.7 817.9,424.9 814.4,418.9 806.5,408.5 798.6,400.3 792.3,395.3 786.0,391.5 778.0,388.6 770.1,387.6 763.8,388.1 757.5,389.9 752.8,392.0 746.5,396.3 741.8,400.6 736.3,407.1 731.9,414.0 728.3,421.0 724.8,429.8 722.2,438.7 720.3,447.7 718.5,465.9 719.0,486.2 722.1,508.8 729.8,543.0 739.6,579.4 747.4,600.9 756.8,619.7 762.7,629.0 769.2,637.8 775.5,644.9 783.4,652.5 791.2,658.9 800.6,665.1 808.5,669.2ZM825.3,664.8 816.5,662.1 807.0,657.7 799.1,653.0 791.2,647.2 783.4,640.1 777.1,633.3 770.9,625.2 765.2,616.5 757.0,600.5 750.4,582.9 729.0,505.5 725.6,487.1 724.3,468.5 725.4,452.0 728.8,435.8 734.4,421.7 738.4,414.8 742.2,409.7 746.5,405.3 751.2,401.5 755.9,398.7 762.2,396.5 768.5,395.6 774.8,396.2 781.2,398.2 787.5,401.7 793.8,406.7 799.8,413.3 805.5,421.5 808.6,427.5 809.2,431.3 808.3,435.0 795.2,454.0 791.1,462.6 788.6,469.7 786.8,477.0 785.8,484.3 785.3,493.5 785.8,501.0 788.1,512.5 792.9,524.3 798.0,532.5 807.4,543.2 808.6,545.2 809.0,549.0 807.8,556.2 807.6,563.7 808.4,569.4 810.9,577.2 813.0,581.2 816.9,586.5 821.6,590.9 826.4,593.6 834.4,595.5 837.6,595.5 842.4,594.2 845.7,592.6 848.7,590.3 852.9,585.3 856.0,578.3 857.3,571.0 857.4,565.4 855.9,553.9 856.3,552.1 857.4,550.4 866.9,542.3 871.1,537.3 875.8,528.6 879.0,517.7 880.1,508.4 880.0,499.0 878.8,489.4 876.5,479.6 873.7,471.7 870.2,463.7 865.8,455.7 856.4,441.2 855.0,437.2 854.9,435.3 856.0,431.7 862.3,423.0 867.5,418.0 872.0,414.8 877.5,412.0 882.4,410.5 887.3,409.9 893.8,410.3 898.7,411.5 905.3,414.4 911.8,418.9 916.7,423.3 921.6,428.9 925.8,434.8 933.3,449.1 936.9,459.1 939.1,467.0 941.5,480.7 942.5,496.1 941.8,511.2 939.5,526.1 935.6,542.1 919.0,598.9 913.1,615.0 907.0,627.3 900.3,637.5 891.5,647.4 882.4,654.9 871.5,661.1 859.7,665.2 848.4,667.0 837.2,666.9Z"/>
<path fill="#73afd2" stroke="#73afd2" d="M826.1,665.0 838.8,667.0 850.0,666.8 861.3,664.8 872.6,660.6 882.4,654.9 891.5,647.4 900.3,637.5 907.0,627.3 913.1,615.0 919.0,598.9 935.6,542.1 939.5,526.1 941.8,511.2 942.5,496.1 941.5,480.7 939.1,467.0 936.9,459.1 933.3,449.1 925.8,434.8 921.6,428.9 916.7,423.3 911.8,418.9 905.3,414.4 898.7,411.5 893.8,410.3 887.3,409.9 882.4,410.5 877.5,412.0 872.0,414.8 867.5,418.0 862.3,423.0 856.0,431.7 854.9,435.3 855.0,437.2 856.4,441.2 865.8,455.7 870.2,463.7 873.7,471.7 876.5,479.6 878.8,489.4 880.0,499.0 880.1,508.4 879.0,517.7 875.8,528.6 871.1,537.3 866.9,542.3 857.4,550.4 856.3,552.1 855.9,553.9 857.4,565.4 857.3,571.0 856.0,578.3 852.9,585.3 848.7,590.3 845.7,592.6 842.4,594.2 837.6,595.5 834.4,595.5 826.4,593.6 821.6,590.9 816.9,586.5 813.0,581.2 810.9,577.2 808.4,569.4 807.6,563.7 807.8,556.2 809.0,549.0 808.6,545.2 807.4,543.2 798.0,532.5 792.9,524.3 788.1,512.5 785.8,501.0 785.3,493.5 785.8,484.3 786.8,477.0 788.6,469.7 791.1,462.6 795.2,454.0 808.3,435.0 809.2,431.3 808.6,427.5 805.5,421.5 799.8,413.3 793.8,406.7 787.5,401.7 781.2,398.2 774.8,396.2 768.5,395.6 762.2,396.5 755.9,398.7 751.2,401.5 746.5,405.3 742.2,409.7 738.4,414.8 734.4,421.7 728.8,435.8 725.4,452.0 724.3,468.5 725.6,487.1 729.2,506.1 751.0,584.8 757.9,602.5 766.2,618.1 772.0,626.8 778.7,635.1 785.1,641.7 792.8,648.5 800.7,654.1 808.6,658.6 816.5,662.1ZM822.3,655.1 815.0,652.4 807.1,648.4 799.2,643.3 792.9,638.3 786.6,632.2 780.3,625.0 775.3,618.1 770.3,609.9 764.4,597.9 759.3,584.2 747.6,540.1 736.8,508.3 733.1,495.6 730.3,480.4 729.4,465.5 730.4,450.9 733.7,436.5 738.6,424.7 744.9,415.2 748.0,411.8 752.7,407.9 757.5,405.1 762.2,403.4 766.9,402.7 773.2,403.0 779.6,405.0 784.3,407.7 789.7,412.0 795.3,418.3 799.4,424.5 802.3,430.4 803.1,434.3 802.6,438.0 791.8,459.0 788.5,467.9 786.5,475.1 784.6,489.7 785.2,502.8 787.8,514.3 792.9,526.2 798.4,534.4 807.8,545.1 808.5,548.9 807.4,558.0 807.5,565.5 808.6,571.2 811.6,579.1 814.1,583.2 818.5,588.5 823.2,592.2 828.0,594.5 834.4,595.8 839.2,595.5 842.4,594.5 845.6,592.9 848.9,590.4 853.1,585.3 856.3,578.3 857.4,572.9 857.7,565.4 856.5,555.9 857.0,552.2 866.4,544.2 870.9,539.2 876.0,530.5 879.1,521.5 880.7,512.3 881.0,504.8 880.5,497.2 879.1,487.5 874.5,471.8 870.2,461.8 862.9,447.6 861.1,441.8 862.3,436.2 866.8,429.3 870.9,425.0 875.8,421.3 880.7,418.9 885.6,417.5 890.5,417.2 895.4,417.7 900.3,419.2 905.2,421.6 910.1,425.0 915.0,429.5 923.2,440.1 929.4,452.5 933.9,466.4 936.1,478.1 937.1,491.6 936.5,504.8 934.4,517.8 930.3,532.4 918.7,564.9 908.0,602.9 903.9,613.6 898.5,624.1 891.3,634.2 883.5,642.4 874.3,649.1 864.6,654.0 854.9,656.9 843.7,658.2 832.5,657.4Z"/>
<path fill="#64a3cb" stroke="#64a3cb" d="M822.9,655.3 834.1,657.7 845.3,658.1 856.5,656.5 866.2,653.3 875.9,648.1 884.1,641.8 891.3,634.2 898.5,624.1 903.9,613.6 908.0,602.9 918.7,564.9 930.3,532.4 934.4,517.8 936.5,504.8 937.1,491.6 936.1,478.1 933.9,466.4 929.4,452.5 923.2,440.1 915.0,429.5 910.1,425.0 905.2,421.6 900.3,419.2 895.4,417.7 890.5,417.2 885.6,417.5 880.7,418.9 875.8,421.3 870.9,425.0 866.8,429.3 862.3,436.2 861.1,441.8 862.9,447.6 870.2,461.8 874.5,471.8 879.1,487.5 880.5,497.2 881.0,504.8 880.7,512.3 879.1,521.5 876.0,530.5 870.9,539.2 866.4,544.2 857.0,552.2 856.5,555.9 857.7,565.4 857.4,572.9 856.3,578.3 853.1,585.3 848.9,590.4 845.6,592.9 842.4,594.5 839.2,595.5 834.4,595.8 828.0,594.5 823.2,592.2 818.5,588.5 814.1,583.2 811.6,579.1 808.6,571.2 807.5,565.5 807.4,558.0 808.5,548.9 807.8,545.1 798.4,534.4 792.9,526.2 787.8,514.3 785.2,502.8 784.6,489.7 786.5,475.1 788.5,467.9 791.8,459.0 802.6,438.0 803.1,434.3 802.3,430.4 799.4,424.5 795.3,418.3 789.7,412.0 784.3,407.7 779.6,405.0 773.2,403.0 766.9,402.7 762.2,403.4 757.5,405.1 752.7,407.9 748.0,411.8 744.9,415.2 738.6,424.7 733.7,436.5 730.4,450.9 729.4,465.5 730.3,480.4 733.1,495.6 736.8,508.3 747.6,540.1 759.3,584.2 764.4,597.9 770.3,609.9 775.3,618.1 780.3,625.0 786.6,632.2 792.9,638.3 799.2,643.3 807.1,648.4 815.0,652.4ZM825.2,648.1 818.2,645.8 811.8,642.8 803.9,638.1 797.6,633.2 791.3,627.3 786.3,621.6 781.6,615.3 776.5,607.2 770.7,595.2 765.9,581.6 763.0,570.0 758.0,545.3 754.7,533.7 742.1,504.2 737.5,490.6 734.7,477.3 733.8,464.2 734.6,451.4 737.5,438.8 741.8,428.3 747.5,419.7 754.3,413.4 757.4,411.5 762.2,409.6 768.5,408.8 773.2,409.4 778.0,411.0 782.7,413.8 786.8,417.2 790.6,421.5 794.7,427.6 797.5,433.6 798.4,437.4 797.7,442.9 789.5,462.4 786.7,471.4 784.8,480.4 783.8,495.2 785.1,508.4 787.9,518.0 792.7,528.0 797.1,534.2 806.0,543.8 807.5,546.3 807.9,548.8 806.9,558.0 807.2,565.5 808.3,571.2 811.3,579.1 815.3,585.3 818.5,588.8 823.2,592.5 829.6,595.4 834.4,596.1 840.8,595.4 847.3,592.2 852.3,587.1 856.0,580.1 857.8,572.9 858.1,565.5 857.1,554.1 858.8,551.5 866.9,545.1 872.2,539.3 877.3,530.7 879.7,523.5 881.2,516.1 881.7,508.7 881.4,499.2 880.5,491.5 878.9,483.7 876.0,473.9 867.9,454.0 866.0,448.1 866.4,442.4 870.2,435.4 874.1,430.9 877.4,428.2 880.6,426.2 885.6,424.3 888.8,423.7 893.7,423.8 898.6,424.9 903.5,427.0 911.7,433.1 918.8,441.6 925.4,453.8 929.4,465.8 931.7,477.5 932.4,489.0 931.8,500.4 929.9,511.5 925.2,526.0 911.4,556.3 908.2,567.1 901.1,598.1 897.3,608.8 892.1,619.3 886.3,627.8 879.3,635.4 871.1,641.6 863.0,645.9 855.0,648.6 845.3,650.2 835.7,650.1Z"/>
<path fill="#5d99c7" stroke="#5d99c7" d="M826.1,648.4 835.7,650.1 845.3,650.2 855.0,648.6 864.7,645.2 872.8,640.5 880.3,634.4 887.4,626.3 893.0,617.6 897.3,608.8 901.1,598.1 908.2,567.1 911.4,556.3 925.2,526.0 929.9,511.5 931.8,500.4 932.4,489.0 931.7,477.5 929.4,465.8 925.4,453.8 918.8,441.6 911.7,433.1 903.5,427.0 898.6,424.9 893.7,423.8 888.8,423.7 885.6,424.3 880.6,426.2 877.4,428.2 874.1,430.9 870.2,435.4 866.4,442.4 866.0,448.1 867.9,454.0 876.0,473.9 878.9,483.7 880.5,491.5 881.4,499.2 881.7,508.7 881.2,516.1 879.7,523.5 877.3,530.7 872.2,539.3 866.9,545.1 858.8,551.5 857.1,554.1 858.1,565.5 857.8,572.9 856.0,580.1 852.3,587.1 847.3,592.2 840.8,595.4 834.4,596.1 829.6,595.4 823.2,592.5 818.5,588.8 815.3,585.3 811.3,579.1 808.3,571.2 807.2,565.5 806.9,558.0 807.9,548.8 807.5,546.3 806.0,543.8 797.1,534.2 792.7,528.0 787.9,518.0 785.1,508.4 783.8,495.2 784.8,480.4 786.7,471.4 789.5,462.4 797.7,442.9 798.4,437.4 797.5,433.6 794.7,427.6 790.6,421.5 786.8,417.2 782.7,413.8 778.0,411.0 773.2,409.4 768.5,408.8 762.2,409.6 757.4,411.5 754.3,413.4 747.5,419.7 741.8,428.3 737.5,438.8 734.6,451.4 733.8,464.2 734.7,477.3 737.5,490.6 742.1,504.2 754.7,533.7 758.0,545.3 763.0,570.0 765.9,581.6 770.7,595.2 776.5,607.2 781.6,615.3 786.3,621.6 791.3,627.3 797.6,633.2 803.9,638.1 811.8,642.8 818.2,645.8ZM822.2,640.2 810.3,634.6 799.2,626.4 793.7,620.9 788.4,614.6 780.7,602.3 775.5,590.4 771.5,576.8 769.1,563.5 766.5,541.0 764.1,531.4 760.5,523.5 750.9,507.8 746.3,499.2 743.1,491.8 740.5,483.7 738.3,472.3 737.7,461.1 738.7,450.1 740.8,441.1 744.3,432.3 749.6,424.1 755.9,418.3 762.2,415.2 766.9,414.4 771.6,414.7 776.4,416.3 779.5,418.0 784.2,421.9 787.4,425.5 790.9,430.9 793.6,436.8 794.5,440.7 794.2,446.2 786.4,469.4 783.5,484.0 782.7,498.7 784.3,512.0 787.5,521.7 790.8,527.8 795.3,534.0 805.7,544.8 806.8,546.8 807.3,548.7 806.5,557.9 806.8,565.4 808.5,573.1 811.0,579.0 814.8,585.2 820.1,590.6 824.8,593.8 829.6,595.7 836.0,596.5 842.4,595.2 847.3,592.6 852.7,587.1 856.3,580.2 857.8,574.8 858.4,567.4 857.7,556.0 858.1,554.2 860.4,551.4 869.5,544.6 874.1,539.6 877.4,534.4 880.9,525.5 882.2,518.2 882.8,510.7 882.6,503.1 881.6,493.5 878.1,478.0 870.6,456.2 869.8,452.3 870.3,446.7 874.0,439.6 877.3,435.8 880.6,433.1 887.1,430.1 893.7,429.5 898.6,430.5 901.9,431.9 906.8,434.9 910.0,437.7 916.2,445.0 921.4,454.4 925.3,465.2 927.4,475.0 928.2,486.6 927.5,497.9 925.6,507.1 922.6,516.1 919.2,523.1 906.5,542.3 902.1,551.2 899.8,560.3 896.9,582.4 894.8,593.4 890.8,606.0 885.6,616.5 879.5,624.9 873.0,631.4 866.3,636.1 858.2,640.1 850.2,642.4 840.6,643.4 831.0,642.5Z"/>
<path fill="#548ec1" stroke="#548ec1" d="M823.0,640.5 831.0,642.5 840.6,643.4 850.2,642.4 858.2,640.1 866.6,636.0 874.4,630.1 880.9,623.2 885.9,615.9 890.8,606.0 894.8,593.4 896.9,582.4 899.8,560.3 902.1,551.2 906.5,542.3 919.2,523.1 922.6,516.1 925.6,507.1 927.5,497.9 928.2,486.6 927.4,475.0 925.3,465.2 921.4,454.4 916.2,445.0 910.0,437.7 906.8,434.9 901.9,431.9 898.6,430.5 893.7,429.5 887.1,430.1 880.6,433.1 877.3,435.8 874.0,439.6 870.3,446.7 869.8,452.3 870.6,456.2 878.1,478.0 881.6,493.5 882.6,503.1 882.8,510.7 882.2,518.2 880.9,525.5 877.4,534.4 874.1,539.6 869.5,544.6 860.4,551.4 858.1,554.2 857.7,556.0 858.4,567.4 857.8,574.8 856.3,580.2 852.7,587.1 847.3,592.6 842.4,595.2 836.0,596.5 829.6,595.7 824.8,593.8 820.1,590.6 814.8,585.2 811.0,579.0 808.5,573.1 806.8,565.4 806.5,557.9 807.3,548.7 806.8,546.8 805.7,544.8 795.3,534.0 790.8,527.8 787.5,521.7 784.3,512.0 782.7,498.7 783.5,484.0 786.4,469.4 794.2,446.2 794.5,440.7 793.6,436.8 790.9,430.9 787.4,425.5 784.2,421.9 779.5,418.0 776.4,416.3 771.6,414.7 766.9,414.4 762.2,415.2 755.9,418.3 749.6,424.1 744.3,432.3 740.8,441.1 738.7,450.1 737.7,461.1 738.3,472.3 740.5,483.7 743.1,491.8 746.3,499.2 750.9,507.8 760.5,523.5 764.1,531.4 766.5,541.0 769.1,563.5 771.5,576.8 775.5,590.4 780.7,602.3 788.4,614.6 793.7,620.9 799.2,626.4 810.3,634.6 816.6,638.0ZM827.0,635.4 821.4,633.6 815.1,630.7 804.0,623.2 794.5,613.6 786.3,601.3 782.6,593.3 779.8,585.5 777.8,577.8 776.3,568.3 775.9,551.6 778.7,524.2 778.0,522.2 775.8,520.1 763.4,510.7 755.6,502.7 748.7,492.2 744.0,480.4 742.0,470.9 741.3,461.6 741.9,452.4 743.8,443.4 747.3,434.5 751.1,428.6 755.8,423.8 762.1,420.3 765.3,419.6 770.0,419.6 774.8,421.0 777.9,422.8 784.2,428.7 787.4,433.4 789.6,438.2 791.2,444.0 791.2,447.7 790.3,453.2 784.5,472.9 781.9,487.5 780.9,500.3 780.6,520.7 781.2,522.7 783.0,524.8 804.0,544.5 805.9,547.1 806.5,550.5 806.1,559.7 806.7,567.3 809.6,577.0 812.9,583.0 816.9,588.1 820.1,591.0 823.2,593.2 829.6,596.0 836.0,596.8 842.4,595.6 847.3,593.0 851.7,588.9 856.0,582.0 857.8,576.7 858.8,569.3 858.4,558.0 859.2,554.4 860.7,552.7 870.3,546.6 876.5,541.8 881.2,536.9 882.9,533.3 884.0,527.8 884.4,518.5 884.1,507.1 883.1,497.5 881.0,485.9 874.3,462.3 873.1,456.5 873.6,450.9 877.1,443.8 882.2,438.5 885.5,436.5 888.7,435.3 895.3,434.9 901.8,437.0 908.3,441.7 913.2,447.4 918.1,455.7 921.6,464.8 924.0,476.5 924.4,487.9 922.9,499.1 920.1,508.2 916.0,516.1 911.0,522.6 904.4,528.6 893.1,536.7 890.3,540.0 889.7,541.8 889.0,547.4 890.2,570.2 889.7,583.3 886.8,597.9 881.8,610.3 877.5,617.1 871.9,623.7 864.8,629.5 858.3,633.1 851.8,635.4 843.8,636.9 835.8,636.9Z"/>
<path fill="#4d84bb" stroke="#4d84bb" d="M827.8,635.6 835.8,636.9 843.8,636.9 851.8,635.4 858.6,632.9 866.2,628.5 871.9,623.7 877.5,617.1 881.8,610.3 886.8,597.9 889.7,583.3 890.2,570.2 889.0,547.4 889.7,541.8 890.3,540.0 893.1,536.7 904.4,528.6 911.0,522.6 916.0,516.1 920.1,508.2 922.9,499.1 924.4,487.9 924.0,476.5 921.6,464.8 918.1,455.7 913.2,447.4 908.3,441.7 901.8,437.0 895.3,434.9 888.7,435.3 885.5,436.5 882.2,438.5 877.1,443.8 873.6,450.9 873.1,456.5 874.3,462.3 881.0,485.9 883.1,497.5 884.1,507.1 884.4,518.5 884.0,527.8 882.9,533.3 881.2,536.9 876.5,541.8 870.3,546.6 860.7,552.7 859.2,554.4 858.4,558.0 858.8,569.3 857.8,576.7 856.0,582.0 851.7,588.9 847.3,593.0 842.4,595.6 836.0,596.8 829.6,596.0 823.2,593.2 820.1,591.0 816.9,588.1 812.9,583.0 809.6,577.0 806.7,567.3 806.1,559.7 806.5,550.5 805.9,547.1 804.0,544.5 783.0,524.8 781.2,522.7 780.6,520.7 780.9,500.3 781.9,487.5 784.5,472.9 790.3,453.2 791.2,447.7 791.2,444.0 789.6,438.2 787.4,433.4 784.2,428.7 777.9,422.8 774.8,421.0 770.0,419.6 765.3,419.6 762.1,420.3 755.8,423.8 751.1,428.6 747.3,434.5 743.8,443.4 741.9,452.4 741.3,461.6 742.0,470.9 744.0,480.4 748.7,492.2 755.6,502.7 763.4,510.7 775.8,520.1 778.0,522.2 778.7,524.2 775.9,551.6 776.3,568.3 777.8,577.8 779.8,585.5 782.6,593.3 786.3,601.3 794.5,613.6 804.0,623.2 815.1,630.7 821.4,633.6ZM828.1,630.0 821.5,627.8 815.1,624.7 808.8,620.5 804.0,616.5 799.3,611.5 794.6,605.4 790.3,598.2 787.5,592.2 784.8,584.4 783.1,576.7 782.2,569.2 782.2,561.8 783.1,554.5 784.5,549.1 787.1,543.9 790.1,541.0 793.3,540.5 796.4,541.5 801.2,544.3 804.3,547.1 805.6,550.4 805.7,561.5 806.7,569.1 808.4,574.9 811.2,580.9 815.3,586.8 820.1,591.4 826.4,595.3 831.2,596.7 837.6,597.1 842.4,596.0 845.6,594.5 848.9,592.2 853.5,587.2 856.4,582.1 858.2,576.7 859.4,569.4 859.4,558.2 859.8,556.3 861.0,554.6 866.9,551.7 870.1,551.0 873.3,551.0 876.7,553.1 879.8,558.2 881.6,563.3 883.1,571.0 883.6,578.6 883.2,586.1 882.0,593.4 879.9,600.6 876.7,607.6 873.6,612.8 869.6,617.8 864.8,622.2 859.9,625.6 853.5,628.7 847.0,630.5 840.6,631.3 834.2,631.1ZM763.5,499.8 758.7,496.4 755.6,493.2 752.5,488.9 749.3,483.0 747.1,477.2 745.3,469.5 744.7,463.9 744.7,456.5 745.7,449.2 747.1,443.8 749.5,437.8 752.7,432.6 755.8,429.1 760.5,425.8 763.7,424.6 768.4,424.2 773.2,425.3 776.3,427.0 779.5,429.7 782.6,433.4 785.1,437.6 787.3,443.1 788.2,447.3 788.3,451.1 787.2,458.4 783.0,474.6 779.2,492.1 777.6,496.9 776.0,499.5 772.9,501.5 768.2,501.6ZM890.1,517.4 888.2,514.6 886.6,509.7 882.9,489.9 877.0,466.5 876.0,458.8 876.5,455.1 877.8,451.5 879.8,447.9 882.6,444.5 885.4,442.2 888.7,440.6 892.0,439.8 895.3,439.8 901.8,441.9 906.7,445.4 910.9,450.1 914.7,456.3 918.1,464.3 920.0,472.2 920.9,479.9 920.8,487.5 919.7,494.9 917.4,502.2 914.4,508.1 909.5,514.2 904.5,517.8 899.6,519.6 894.7,519.7 891.4,518.5Z"/>
<path fill="#4677aa" stroke="#4677aa" d="M829.4,630.3 835.8,631.2 842.2,631.2 848.6,630.2 853.5,628.7 859.9,625.6 864.8,622.2 869.6,617.8 873.6,612.8 876.7,607.6 879.9,600.6 882.0,593.4 883.2,586.1 883.6,578.6 883.1,571.0 881.6,563.3 879.8,558.2 876.7,553.1 873.3,551.0 870.1,551.0 866.9,551.7 861.0,554.6 859.8,556.3 859.4,558.2 859.4,569.4 858.2,576.7 856.4,582.1 853.5,587.2 848.9,592.2 845.6,594.5 842.4,596.0 837.6,597.1 831.2,596.7 826.4,595.3 820.1,591.4 815.3,586.8 811.2,580.9 808.4,574.9 806.7,569.1 805.7,561.5 805.6,550.4 804.3,547.1 801.2,544.3 796.4,541.5 793.3,540.5 790.1,541.0 787.1,543.9 784.5,549.1 782.8,556.3 782.1,563.6 782.4,571.1 783.4,578.6 785.4,586.3 788.4,594.2 791.4,600.3 796.2,607.6 800.9,613.3 805.6,617.9 810.4,621.7 816.7,625.6 823.1,628.5ZM825.5,624.0 815.1,619.2 805.6,611.6 800.9,606.3 797.2,601.1 793.8,595.0 791.2,589.1 789.4,583.2 787.9,575.6 787.5,568.1 788.0,562.6 789.1,557.2 791.4,552.0 794.0,548.7 796.4,547.2 798.0,546.9 801.2,547.5 802.8,548.5 804.3,551.0 805.2,563.3 806.6,571.0 809.7,578.8 813.4,585.0 818.5,590.6 821.6,593.1 826.4,595.7 831.2,597.2 837.6,597.5 844.0,595.9 848.9,592.9 852.7,589.0 856.1,583.9 858.2,578.6 859.8,571.3 860.3,560.2 862.0,556.9 863.6,556.2 866.8,556.2 870.1,557.8 873.3,561.7 875.4,566.1 877.1,572.0 877.9,577.8 878.0,583.4 877.1,590.8 875.3,598.0 873.1,603.3 870.1,608.5 866.5,613.3 863.0,616.7 858.4,620.2 853.5,622.9 847.1,625.1 842.3,625.9 835.8,626.0ZM765.0,500.5 769.7,501.8 772.9,501.5 776.0,499.5 777.6,496.9 779.2,492.1 783.0,474.6 787.2,458.4 788.3,451.1 788.2,447.3 787.3,443.1 785.1,437.6 782.6,433.4 779.5,429.7 776.3,427.0 773.2,425.3 768.4,424.2 763.7,424.6 759.0,426.7 755.8,429.1 752.2,433.3 749.1,438.5 747.1,443.8 745.3,451.0 744.6,458.3 744.9,465.7 745.7,471.4 747.8,479.1 750.3,485.0 754.0,491.1 757.2,494.9 760.3,497.7ZM761.0,490.2 755.6,485.1 752.5,480.2 750.5,475.8 748.8,470.0 747.9,464.3 748.0,453.2 749.1,447.8 750.8,442.4 752.6,438.8 755.8,434.3 759.0,431.4 762.1,429.6 765.3,428.7 768.4,428.6 771.6,429.4 774.7,431.0 777.9,433.7 781.0,437.8 783.6,443.0 784.8,446.9 785.4,450.7 785.4,456.3 784.1,464.0 780.9,476.6 777.7,486.0 776.1,488.7 772.9,491.6 769.8,492.6 765.0,492.2ZM891.4,518.5 896.3,519.9 901.2,519.1 906.2,516.8 911.1,512.5 914.8,507.5 918.1,500.4 920.1,493.1 921.0,483.7 920.6,476.0 919.2,468.2 916.6,460.3 913.2,453.5 908.3,447.0 903.4,442.9 898.5,440.5 893.6,439.7 890.3,440.1 887.1,441.3 882.2,445.0 877.8,451.5 876.5,455.1 876.0,458.8 877.0,466.5 882.9,489.9 886.6,509.7 888.2,514.6 889.8,517.1ZM891.7,508.1 888.3,503.4 886.7,499.1 880.3,474.2 878.8,462.9 880.3,455.6 883.8,449.7 888.7,445.7 891.9,444.5 895.2,444.3 900.1,445.6 903.4,447.5 907.8,451.6 911.5,456.9 914.8,463.9 916.5,469.8 917.5,475.6 917.7,483.3 916.8,490.7 915.2,496.2 912.8,501.2 909.5,505.6 906.2,508.4 901.3,510.5 896.4,510.5Z"/>
<path fill="#3f6b99" stroke="#3f6b99" d="M826.3,624.3 831.1,625.4 837.4,626.1 843.9,625.7 848.7,624.6 853.5,622.9 858.9,619.9 863.2,616.5 867.7,611.9 871.2,606.8 873.9,601.6 877.1,590.8 878.0,583.4 877.9,577.8 877.1,572.0 875.4,566.1 873.3,561.7 870.1,557.8 866.8,556.2 863.6,556.2 862.0,556.9 860.3,560.2 859.8,571.3 858.2,578.6 856.1,583.9 852.7,589.0 848.9,592.9 844.0,595.9 837.6,597.5 831.2,597.2 826.4,595.7 821.6,593.1 818.5,590.6 813.4,585.0 809.7,578.8 806.6,571.0 805.2,563.3 804.3,551.0 802.8,548.5 801.2,547.5 798.0,546.9 796.4,547.2 793.2,549.5 790.5,553.7 788.6,559.0 787.7,564.4 787.5,570.0 788.2,577.5 789.4,583.2 792.0,591.0 797.8,602.0 805.7,611.7 815.1,619.2 819.9,621.8ZM822.4,618.0 815.2,614.0 807.2,607.2 800.9,599.2 796.0,589.8 793.2,580.1 792.3,570.7 793.6,561.6 796.4,555.7 799.6,552.9 801.1,552.8 802.7,554.0 806.6,572.8 810.0,580.8 815.3,588.2 820.0,592.7 823.2,594.9 829.6,597.6 832.8,598.3 840.8,597.7 844.0,596.4 847.2,594.8 851.8,590.7 854.6,587.4 857.6,582.3 859.8,575.1 861.9,562.9 863.6,561.3 865.2,561.6 866.8,562.8 869.8,567.2 871.6,571.8 872.7,577.0 873.0,584.5 872.0,591.9 870.4,597.3 868.1,602.6 864.8,607.7 860.2,612.6 856.2,615.7 850.8,618.6 845.5,620.4 840.7,621.1 834.3,621.1 827.9,619.9ZM761.9,490.8 766.6,492.5 769.8,492.6 772.9,491.6 776.1,488.7 777.7,486.0 780.9,476.6 784.1,464.0 785.4,456.3 785.4,450.7 784.8,446.9 783.6,443.0 781.0,437.8 777.9,433.7 774.7,431.0 771.6,429.4 768.4,428.6 763.7,429.1 760.5,430.4 757.4,432.7 754.8,435.5 752.5,438.9 750.2,444.2 748.7,449.6 747.8,455.0 748.1,466.2 751.0,476.8 755.6,485.1 758.8,488.5ZM764.6,485.1 761.9,484.0 758.8,481.5 754.1,474.8 751.4,466.6 750.6,457.2 751.9,448.1 753.9,442.8 755.8,439.7 760.5,434.8 763.7,433.3 766.8,432.7 770.0,433.2 773.1,434.7 776.3,437.4 778.6,440.5 781.9,448.3 782.6,452.2 782.7,457.8 780.8,468.7 779.1,474.1 776.1,480.4 774.5,482.4 771.4,484.7 768.2,485.5ZM893.1,509.2 896.4,510.5 901.3,510.5 906.2,508.4 909.5,505.6 912.8,501.2 915.2,496.2 916.8,490.7 917.7,483.3 917.5,475.6 916.5,469.8 914.8,463.9 911.5,456.9 907.8,451.6 903.4,447.5 900.1,445.6 895.2,444.3 891.9,444.5 888.7,445.7 883.8,449.7 880.3,455.6 878.8,462.9 880.3,474.2 886.7,499.1 889.9,506.1ZM897.1,503.2 894.8,502.4 891.6,500.0 888.3,495.2 883.5,480.7 881.5,469.0 882.1,461.5 883.3,457.9 885.2,454.3 887.0,452.2 890.3,449.8 895.2,448.7 898.5,449.2 901.7,450.7 905.0,453.3 908.3,457.3 910.6,461.4 912.9,467.4 914.2,473.3 914.7,479.1 914.4,484.7 913.2,490.2 909.6,497.7 906.3,501.1 903.0,502.9 899.7,503.5Z"/>
<path fill="#385d87" stroke="#385d87" d="M823.1,618.3 827.9,619.9 834.3,621.1 840.7,621.1 845.5,620.4 850.8,618.6 856.2,615.7 860.2,612.6 864.8,607.7 868.1,602.6 870.4,597.3 872.0,591.9 873.0,584.5 872.7,577.0 871.6,571.8 869.8,567.2 866.8,562.8 865.2,561.6 863.6,561.3 861.9,562.9 859.8,575.1 857.6,582.3 854.6,587.4 851.8,590.7 847.2,594.8 844.0,596.4 840.8,597.7 832.8,598.3 829.6,597.6 823.2,594.9 820.0,592.7 815.3,588.2 810.0,580.8 806.6,572.8 802.7,554.0 801.1,552.8 799.6,552.9 796.4,555.7 794.2,559.8 793.1,563.4 792.3,572.5 793.6,582.0 796.9,591.8 801.4,599.9 807.2,607.2 815.2,614.0ZM765.1,485.3 768.2,485.5 771.4,484.7 774.5,482.4 776.1,480.4 779.1,474.1 780.8,468.7 782.7,457.8 782.6,452.2 781.9,448.3 778.6,440.5 776.3,437.4 773.1,434.7 770.0,433.2 766.8,432.7 763.7,433.3 760.5,434.8 755.8,439.7 753.9,442.8 751.9,448.1 750.6,457.2 751.4,466.6 754.1,474.8 758.8,481.5 761.9,484.0ZM898.1,503.4 901.3,503.4 904.6,502.2 907.9,499.7 910.9,495.6 912.9,491.2 914.1,486.6 914.7,481.0 914.5,475.2 913.5,469.4 911.5,463.4 906.7,455.2 903.4,451.9 900.1,449.8 896.8,448.8 893.6,448.8 888.4,451.0 884.1,456.1 882.0,461.7 881.5,469.0 883.5,480.7 888.3,495.2 889.9,498.0 893.2,501.4Z"/>
<path fill="#8b334b" stroke="#8b334b" d="M579.2,814.6 561.8,817.9 558.5,819.8 558.5,822.7 561.4,824.5 571.9,827.1 589.6,828.6 611.5,828.2 618.7,827.5 629.9,825.4 633.7,823.9 636.2,822.2 635.8,819.9 632.7,818.6 632.6,818.1 623.1,815.7 604.6,814.0 589.2,814.0Z"/>
<path fill="#9d394e" stroke="#9d394e" d="M579.1,814.6 568.5,816.1 561.7,817.9 558.2,819.8 557.7,821.1 558.2,822.6 560.8,824.4 566.7,826.2 572.9,827.3 589.8,828.7 610.8,828.3 618.9,827.5 630.0,825.4 634.5,823.8 636.4,822.2 636.0,819.9 633.0,818.1 621.5,815.4 600.6,813.8ZM579.7,814.5 589.2,814.0 604.6,814.0 623.1,815.7 632.6,818.1 632.7,818.6 635.8,819.9 636.2,822.2 633.7,823.9 629.9,825.4 618.7,827.5 611.5,828.2 589.6,828.6 571.9,827.1 561.4,824.5 558.5,822.7 558.5,819.8 561.8,817.9Z"/>
<path fill="#ae3f50" stroke="#ae3f50" d="M571.4,815.5 561.0,818.1 557.9,819.9 557.2,821.2 557.4,821.9 558.7,823.4 560.3,824.3 565.1,825.9 579.4,828.1 601.8,828.8 617.2,827.8 631.6,825.1 636.1,822.9 636.8,821.5 636.3,820.0 635.2,819.2 629.0,816.8 612.9,814.4 589.9,813.8ZM580.1,814.5 589.5,813.9 604.2,813.9 621.5,815.4 633.0,818.1 636.0,819.9 636.4,822.2 634.5,823.8 630.0,825.4 618.9,827.5 610.8,828.3 589.8,828.7 572.9,827.3 566.7,826.2 560.8,824.4 558.2,822.6 557.7,821.1 558.2,819.8 561.7,817.9 568.5,816.1Z"/>
<path fill="#c04554" stroke="#c04554" d="M571.2,815.5 560.6,818.1 557.7,819.9 557.1,821.9 560.2,824.3 564.9,825.9 579.2,828.1 601.6,828.8 617.4,827.8 631.8,825.1 636.3,823.0 637.1,821.4 636.6,820.0 635.5,819.2 629.8,817.0 623.0,815.5 613.1,814.3 593.5,813.7 580.9,814.3ZM571.5,815.5 589.9,813.8 612.9,814.4 629.0,816.8 635.2,819.2 636.3,820.0 636.8,821.5 636.1,822.9 631.6,825.1 617.2,827.8 601.8,828.8 579.4,828.1 565.1,825.9 560.3,824.3 558.7,823.4 557.4,821.9 557.2,821.2 557.9,819.9 561.0,818.1Z"/>
<path fill="#c8555b" stroke="#c8555b" d="M572.8,815.2 561.2,817.8 557.8,819.5 556.9,820.6 556.8,821.9 558.3,823.5 563.4,825.6 571.1,827.2 579.1,828.2 598.0,828.9 617.5,827.9 631.9,825.1 636.5,823.0 637.4,821.4 635.8,819.2 630.6,817.1 623.2,815.5 613.2,814.3 593.3,813.7ZM572.9,815.2 593.5,813.7 613.1,814.3 623.0,815.5 629.8,817.0 635.5,819.2 636.6,820.0 637.1,821.4 636.3,823.0 631.8,825.1 617.4,827.8 601.6,828.8 579.2,828.1 564.9,825.9 560.2,824.3 557.1,821.9 557.1,820.6 558.0,819.6 561.4,817.8Z"/>
<path fill="#d16764" stroke="#d16764" d="M574.5,814.9 567.6,816.0 561.0,817.7 557.6,819.5 556.7,820.5 556.6,821.9 558.1,823.5 563.2,825.6 570.9,827.2 578.9,828.2 597.7,829.0 617.7,827.9 632.1,825.2 636.7,823.0 637.7,821.4 636.0,819.2 630.8,817.1 623.3,815.4 615.5,814.5 593.0,813.6ZM573.9,815.0 593.3,813.7 615.4,814.5 623.2,815.5 630.6,817.1 635.8,819.2 637.4,821.4 636.5,823.0 631.9,825.1 617.5,827.9 598.0,828.9 579.1,828.2 571.1,827.2 563.4,825.6 558.3,823.5 556.8,821.9 556.9,820.6 557.8,819.5 561.2,817.8Z"/>
<path fill="#d9776b" stroke="#d9776b" d="M574.3,814.9 566.0,816.3 560.9,817.7 557.5,819.5 556.3,821.4 557.9,823.5 561.8,825.3 574.5,827.8 594.7,829.0 615.8,828.1 625.1,826.9 632.3,825.2 636.9,823.1 637.9,821.5 636.2,819.1 631.0,817.0 615.7,814.4 592.8,813.6ZM574.8,814.9 594.4,813.6 615.5,814.5 623.3,815.4 630.8,817.1 636.0,819.2 637.7,821.4 636.7,823.0 632.1,825.2 617.7,827.9 597.7,829.0 578.9,828.2 570.9,827.2 563.2,825.6 558.1,823.5 556.6,821.9 556.7,820.5 557.6,819.5 561.0,817.7 567.6,816.0Z"/>
<path fill="#e18977" stroke="#e18977" d="M574.1,805.3 573.1,805.7 573.1,806.1 576.3,806.7 580.7,806.5 582.0,805.7 578.8,805.1ZM576.1,814.6 567.3,815.9 560.7,817.7 557.9,819.0 556.1,821.0 556.6,822.6 557.7,823.6 561.5,825.3 574.3,827.8 594.9,829.0 616.0,828.2 625.3,826.9 632.4,825.2 636.4,823.6 638.2,821.5 637.0,819.6 633.6,817.8 626.9,816.0 618.0,814.6 595.6,813.5ZM575.6,814.7 595.8,813.5 617.8,814.7 626.8,816.0 633.4,817.8 636.9,819.6 637.9,821.5 636.9,823.1 632.3,825.2 625.1,826.9 615.8,828.1 594.7,829.0 574.5,827.8 561.8,825.3 557.9,823.5 556.8,822.5 556.3,821.1 558.1,819.0 560.9,817.7 567.5,816.0ZM539.3,829.4 536.9,830.2 538.7,830.9 544.0,830.9 546.2,830.1 543.3,829.4ZM669.6,822.6 667.4,823.4 671.1,824.3 674.5,824.2 676.6,823.4 673.3,822.6Z"/>
<path fill="#e89a84" stroke="#e89a84" d="M577.4,804.7 571.9,805.5 571.3,806.0 573.2,806.7 579.8,807.0 583.8,805.9 581.9,805.1ZM574.9,805.2 578.8,805.1 582.0,805.7 580.7,806.5 576.3,806.7 573.1,806.1 573.1,805.7ZM575.8,814.5 561.7,817.3 557.7,818.9 555.9,821.0 556.9,823.1 561.3,825.4 574.1,827.9 595.2,829.1 616.2,828.2 625.5,827.0 632.6,825.3 636.7,823.6 638.5,821.6 638.3,820.6 636.6,819.1 632.6,817.4 618.2,814.6 595.4,813.4ZM576.4,814.6 595.6,813.5 618.0,814.6 626.9,816.0 633.6,817.8 637.0,819.6 638.2,821.5 636.4,823.6 632.4,825.2 625.3,826.9 616.0,828.2 594.9,829.0 574.3,827.8 561.5,825.3 557.7,823.6 556.6,822.6 556.1,821.0 557.9,819.0 560.7,817.7 567.3,815.9ZM540.4,829.0 535.5,829.9 535.5,830.5 537.5,831.1 543.0,831.4 547.8,830.4 547.6,829.8 546.3,829.4ZM540.2,829.3 543.3,829.4 546.2,830.1 544.0,830.9 538.7,830.9 537.3,830.5 537.1,830.0ZM670.7,822.2 665.9,823.1 666.1,823.8 667.8,824.3 673.4,824.6 678.2,823.5 676.5,822.6ZM670.0,822.6 673.3,822.6 676.6,823.4 674.5,824.2 669.0,824.0 667.4,823.4Z"/>
<path fill="#efa990" stroke="#efa990" d="M574.1,804.7 571.0,805.3 570.4,806.0 574.2,807.1 580.7,807.1 583.9,806.5 584.7,805.8 580.8,804.7ZM577.4,804.7 581.9,805.1 583.8,805.9 579.8,807.0 573.2,806.7 571.3,806.0 571.9,805.5ZM577.7,814.3 562.7,816.9 557.5,818.9 555.6,820.9 556.6,823.2 560.0,825.0 566.8,826.8 573.9,827.9 595.5,829.1 616.4,828.3 625.7,827.0 632.8,825.3 636.9,823.7 638.8,821.6 638.5,820.5 637.5,819.5 632.8,817.3 618.4,814.5 598.2,813.4ZM577.2,814.4 598.4,813.5 618.2,814.6 632.6,817.4 636.6,819.1 638.3,820.6 638.5,821.6 636.7,823.6 632.6,825.3 625.5,827.0 616.2,828.2 595.2,829.1 574.1,827.9 561.3,825.4 556.9,823.1 555.9,821.0 557.7,818.9 562.9,816.9ZM539.5,828.8 534.4,829.8 534.3,830.5 536.7,831.3 543.8,831.5 547.5,831.0 548.9,830.2 545.3,829.0ZM542.0,829.0 547.6,829.8 547.7,830.4 545.1,831.2 539.5,831.3 535.3,830.3 536.4,829.5ZM667.7,822.3 665.0,822.9 664.7,823.6 669.0,824.7 676.5,824.5 678.3,824.1 679.3,823.3 675.3,822.2ZM671.9,822.2 676.5,822.6 678.2,823.5 673.4,824.6 667.8,824.3 666.1,823.8 665.9,823.1Z"/>
<path fill="#f5b99f" stroke="#f5b99f" d="M575.7,804.4 569.6,805.6 569.5,806.2 571.8,807.0 579.2,807.4 585.5,806.2 585.5,805.6 583.2,804.8ZM574.5,804.7 580.8,804.7 584.7,805.8 583.9,806.5 580.7,807.1 574.2,807.1 571.0,806.5 570.4,805.8ZM577.4,814.2 568.4,815.5 561.3,817.2 556.6,819.3 555.4,820.9 556.4,823.2 559.7,825.0 566.4,826.8 573.7,827.9 595.7,829.2 616.6,828.3 631.8,825.7 637.2,823.7 638.5,822.8 639.1,821.7 638.8,820.5 637.8,819.5 633.0,817.3 618.6,814.5 597.9,813.3ZM577.9,814.3 598.2,813.4 618.4,814.5 632.8,817.3 637.5,819.5 638.5,820.5 638.8,821.6 636.9,823.7 632.8,825.3 625.7,827.0 616.4,828.3 595.5,829.1 573.9,827.9 566.8,826.8 560.0,825.0 556.6,823.2 555.6,820.9 557.5,818.9 562.7,816.9ZM538.8,828.7 535.1,829.2 533.3,830.0 534.1,830.9 536.0,831.4 544.5,831.7 548.1,831.1 549.8,830.2 549.0,829.5 546.0,828.9ZM539.7,828.8 545.3,829.0 548.9,830.2 547.5,831.0 543.8,831.5 536.7,831.3 534.3,830.5 534.4,829.8ZM669.1,821.9 665.4,822.5 663.8,823.3 664.9,824.2 668.3,824.8 677.0,824.6 680.1,823.4 679.2,822.7 676.1,822.0ZM669.3,822.1 675.3,822.2 679.3,823.3 678.3,824.1 676.5,824.5 669.0,824.7 664.7,823.5 666.1,822.6Z"/>
<path fill="#f7c5ae" stroke="#f7c5ae" d="M575.1,804.3 568.9,805.5 568.9,806.3 571.2,807.1 579.7,807.5 583.7,807.1 586.3,806.1 586.1,805.5 583.8,804.7ZM575.9,804.4 583.2,804.8 585.5,805.6 585.5,806.2 579.2,807.4 571.8,807.0 569.5,806.2 569.6,805.6ZM579.2,814.0 562.3,816.8 557.9,818.4 555.1,820.8 555.3,822.2 556.1,823.3 559.4,825.1 564.6,826.6 571.5,827.7 593.1,829.2 614.6,828.5 624.4,827.4 632.0,825.8 636.6,824.2 638.3,823.3 639.5,821.8 639.2,820.5 638.0,819.4 634.4,817.6 627.6,815.8 618.8,814.5 597.5,813.3ZM578.7,814.1 597.9,813.3 618.6,814.5 633.0,817.3 637.8,819.5 638.8,820.5 639.1,821.7 638.5,822.8 637.2,823.7 631.8,825.7 616.6,828.3 595.7,829.2 573.7,827.9 566.4,826.8 559.7,825.0 556.4,823.2 555.4,820.9 557.3,818.9 562.5,816.8ZM536.1,828.8 533.3,829.5 532.5,830.2 534.0,831.2 537.4,831.7 545.1,831.8 548.7,831.2 550.5,830.4 549.7,829.4 546.6,828.8ZM540.8,828.6 547.8,829.2 549.8,830.2 548.1,831.1 544.5,831.7 536.0,831.4 533.6,830.6 533.3,830.1 533.9,829.6ZM671.0,821.7 663.7,822.7 663.0,823.2 663.3,823.9 665.8,824.6 675.6,825.0 679.2,824.4 680.9,823.6 680.5,822.9 678.4,822.2ZM670.5,821.9 677.9,822.3 680.1,823.4 678.6,824.3 675.0,824.9 666.4,824.5 664.0,823.7 664.3,822.8Z"/>
<path fill="#f9d3bf" stroke="#f9d3bf" d="M572.4,804.4 569.2,805.0 567.9,805.9 569.2,806.9 572.4,807.5 582.5,807.5 585.7,806.9 587.2,806.0 585.8,805.0 582.6,804.4ZM576.7,804.3 583.8,804.7 586.1,805.5 586.3,806.1 583.7,807.1 579.7,807.5 571.2,807.1 568.9,806.3 568.9,805.5 571.2,804.7ZM571.3,814.9 562.1,816.7 557.7,818.3 555.1,820.2 554.9,822.3 558.1,824.7 561.4,826.0 569.2,827.6 577.4,828.5 599.2,829.3 619.0,828.2 633.5,825.5 638.7,823.4 640.0,821.9 639.7,820.6 638.3,819.4 634.6,817.6 626.3,815.5 617.0,814.2 602.5,813.3 590.9,813.2ZM579.6,814.0 599.3,813.3 620.7,814.7 634.4,817.6 638.0,819.4 639.2,820.5 639.5,821.8 638.3,823.3 636.6,824.2 632.0,825.8 624.4,827.4 614.6,828.5 593.1,829.2 571.5,827.7 564.6,826.6 558.5,824.7 555.3,822.2 555.4,820.3 557.9,818.4 562.3,816.8ZM537.6,828.5 532.7,829.4 531.7,830.3 533.4,831.3 536.8,831.9 545.7,831.9 549.3,831.3 551.4,830.3 550.3,829.3 547.2,828.6ZM537.1,828.7 546.6,828.8 549.7,829.4 550.5,830.4 548.7,831.2 545.1,831.8 537.4,831.7 534.0,831.2 532.5,830.2 533.8,829.3ZM667.8,821.7 664.2,822.2 662.2,823.5 663.8,824.4 667.1,825.0 676.2,825.1 679.8,824.5 681.7,823.5 680.4,822.5 677.2,821.8ZM671.4,821.7 678.4,822.2 680.5,822.9 680.9,823.6 679.2,824.4 675.6,825.0 665.8,824.6 663.3,823.9 663.0,823.2 663.7,822.7Z"/>
<path fill="#fbdfce" stroke="#fbdfce" d="M573.9,804.1 568.6,804.9 567.1,805.7 568.6,807.0 571.8,807.6 583.2,807.6 586.4,807.0 588.0,806.1 587.4,805.3 583.2,804.3ZM573.4,804.3 582.6,804.4 585.8,805.0 587.2,806.0 585.7,806.9 582.5,807.5 572.4,807.5 569.2,806.9 567.9,805.9 569.2,805.0ZM572.8,814.6 559.4,817.4 555.9,819.2 554.4,821.3 554.6,822.3 556.2,823.9 559.8,825.6 572.8,828.1 595.5,829.4 615.1,828.6 632.5,825.9 638.3,823.9 640.5,822.0 640.3,820.8 639.3,819.8 634.9,817.5 626.5,815.4 617.2,814.2 593.4,813.1 582.8,813.5ZM571.7,814.8 590.9,813.2 602.5,813.3 617.0,814.2 626.3,815.5 634.6,817.6 638.3,819.4 639.7,820.6 640.0,821.9 638.7,823.4 636.9,824.3 632.3,825.8 624.6,827.4 614.9,828.6 595.9,829.3 575.3,828.3 561.4,826.0 556.5,823.8 554.7,821.7 555.1,820.2 556.1,819.2 559.7,817.5ZM539.3,828.2 535.0,828.6 531.2,829.7 531.0,830.5 531.7,831.0 534.3,831.7 546.3,832.0 551.2,831.1 552.2,830.2 550.9,829.2 547.9,828.5ZM538.7,828.4 547.2,828.6 550.3,829.3 551.4,830.3 549.3,831.3 545.7,831.9 534.9,831.6 532.3,830.9 531.9,829.9 533.9,829.0ZM667.1,821.6 662.3,822.5 661.3,823.5 663.1,824.5 666.5,825.1 676.9,825.2 681.6,824.3 682.5,823.3 680.9,822.4 677.7,821.7ZM668.3,821.7 677.2,821.8 680.4,822.5 681.7,823.5 679.8,824.5 676.2,825.1 667.1,825.0 662.7,824.0 662.3,823.1 664.2,822.2Z"/>
<path fill="#fae7db" stroke="#fae7db" d="M575.7,803.8 566.9,805.1 566.2,806.2 569.3,807.4 575.6,808.1 581.9,807.9 587.0,807.1 588.9,806.2 588.1,805.1 585.6,804.4ZM574.7,804.0 584.9,804.5 587.4,805.3 588.0,806.1 586.4,807.0 581.0,807.8 570.0,807.3 567.6,806.6 567.1,806.1 567.6,805.3ZM574.3,814.2 565.8,815.6 559.2,817.4 554.9,819.6 554.0,821.2 555.2,823.4 559.3,825.7 564.8,827.2 572.4,828.2 592.1,829.4 613.2,828.9 623.3,827.8 632.8,825.9 638.8,824.0 641.3,822.1 640.3,820.2 636.2,817.9 629.9,816.0 621.5,814.6 610.8,813.5 595.9,813.0 584.5,813.2ZM573.8,814.4 593.4,813.1 617.2,814.2 626.5,815.4 634.9,817.5 639.3,819.8 640.3,820.8 640.5,822.0 638.3,823.9 632.5,825.9 615.1,828.6 595.5,829.4 572.8,828.1 559.8,825.6 556.2,823.9 554.6,822.3 554.4,821.3 555.9,819.2 559.4,817.4 566.1,815.7ZM536.3,828.2 532.7,828.8 530.0,830.1 531.0,831.1 535.5,832.1 547.1,832.2 551.9,831.2 553.3,830.3 551.8,829.0 548.7,828.4ZM539.9,828.2 547.9,828.5 550.9,829.2 552.2,830.2 551.2,831.1 546.3,832.0 534.3,831.7 531.7,831.0 531.0,830.5 531.2,829.7 535.0,828.6ZM664.4,821.7 660.6,822.7 660.4,823.8 665.7,825.3 677.6,825.3 682.2,824.4 683.4,823.4 681.6,822.2 676.3,821.4ZM669.5,821.4 677.7,821.7 680.9,822.4 682.5,823.3 681.6,824.3 676.9,825.2 671.5,825.4 664.6,824.9 662.0,824.1 661.3,823.6 661.5,822.9 665.2,821.8Z"/>
<path fill="#f9ece5" stroke="#f9ece5" d="M572.5,803.8 567.2,804.6 565.0,805.9 565.9,806.9 570.0,807.9 583.1,808.2 588.2,807.3 590.2,805.9 589.0,805.0 584.6,804.0ZM575.9,803.8 585.6,804.4 588.1,805.1 588.9,806.2 587.0,807.1 581.9,807.9 575.6,808.1 569.3,807.4 566.2,806.2 566.9,805.1ZM577.6,813.7 561.3,816.6 556.0,818.6 554.1,820.1 553.7,821.9 556.1,824.5 559.6,826.3 565.7,827.6 588.9,829.4 611.1,829.1 630.2,826.6 640.4,823.7 642.3,822.3 641.5,820.6 636.6,817.8 630.2,816.0 621.8,814.5 608.7,813.3 595.2,812.8 586.0,812.9ZM575.9,814.1 584.5,813.2 595.9,813.0 610.8,813.5 621.5,814.6 629.9,816.0 636.2,817.9 640.3,820.2 641.3,822.1 638.8,824.0 632.8,825.9 623.3,827.8 613.2,828.9 592.1,829.4 570.4,828.0 563.2,826.8 558.2,825.3 554.7,822.9 554.1,820.7 556.3,818.6 559.2,817.4 565.8,815.6ZM537.5,827.8 531.8,828.6 529.0,829.9 529.3,830.8 530.2,831.3 534.8,832.2 547.9,832.3 552.8,831.4 554.8,830.3 553.9,829.2 549.8,828.1ZM536.5,828.2 548.7,828.4 551.8,829.0 553.3,830.3 551.9,831.2 547.1,832.2 535.5,832.1 531.0,831.1 530.0,830.1 532.7,828.8ZM667.6,821.1 661.8,821.8 658.7,823.0 659.1,824.1 662.9,825.2 676.2,825.7 681.8,824.9 684.4,823.6 683.5,822.5 679.2,821.5ZM665.9,821.5 678.4,821.6 681.6,822.2 683.4,823.4 682.2,824.4 677.6,825.3 665.7,825.3 661.1,824.3 660.2,823.3 662.8,822.0Z"/>
<path fill="#f7f3f1" stroke="#f7f3f1" d="M586.8,735.6 451.9,759.6 478.0,754.9 604.5,754.8 682.6,758.0 734.3,766.1 737.4,766.1 754.9,769.2 758.0,769.2 764.4,770.4 764.5,770.9 777.3,773.2 777.4,773.8 790.2,776.1 790.4,776.6 803.3,778.9 803.4,779.5 816.4,781.8 816.5,782.4 829.5,784.7 829.6,785.3 842.7,787.6 842.9,788.2 856.0,790.5 856.1,791.1 867.7,793.2 867.8,793.7 879.4,795.8 879.6,796.4 891.2,798.5 891.4,799.1 904.7,801.4 904.9,802.0 916.6,804.1 916.8,804.7 928.5,806.8 928.7,807.4 940.5,809.5 940.7,810.1 942.4,810.4 942.6,811.0 944.3,811.3 944.5,811.9 946.2,812.2 946.4,812.8 948.1,813.1 948.2,813.7 949.9,814.0 950.1,814.6 951.8,814.9 952.0,815.6 953.7,815.9 953.9,816.5 955.6,816.8 956.0,818.0 961.5,820.1 961.8,820.7 963.5,821.0 963.7,821.6 965.4,821.9 965.6,822.6 967.3,822.9 967.5,823.5 969.2,823.8 969.4,824.4 971.1,824.7 971.3,825.3 973.1,825.6 973.7,827.5 972.2,827.8 973.6,832.1 972.1,832.4 973.6,836.8 972.1,837.1 973.1,840.2 970.3,841.4 970.5,842.1 968.9,842.4 1072.9,821.2 588.3,735.4ZM340.4,779.3 113.5,819.6 597.2,918.1 739.4,889.2 705.8,891.1 621.3,892.3 538.4,891.1 508.0,889.1 455.9,883.9 434.3,880.2 431.0,880.2 421.1,878.2 417.7,878.2 396.3,874.5 393.0,874.5 383.2,872.5 379.8,872.5 256.7,847.4 256.8,846.8 252.1,845.8 252.2,845.2 249.1,844.5 249.2,843.9 246.1,843.3 246.2,842.7 243.1,842.0 243.2,841.4 240.1,840.8 240.3,840.1 238.7,839.8 241.0,829.3 242.7,829.0 243.8,824.0 245.4,823.7 246.5,818.9 248.2,818.6 249.1,814.3 250.7,814.0 251.8,809.2 253.4,808.9 254.3,804.8 255.9,804.5 256.9,799.8 258.6,799.5 259.2,796.5 267.4,795.1 267.5,794.5 283.8,791.0 284.0,790.5 298.6,787.3 298.7,786.7ZM567.9,804.1 564.2,805.2 563.5,806.1 563.8,806.7 568.3,808.2 575.6,809.1 584.6,809.0 590.1,807.7 592.0,806.3 590.1,804.8 583.5,803.6 574.8,803.4ZM572.9,803.8 584.6,804.0 589.0,805.0 590.2,805.9 588.2,807.3 583.1,808.2 570.0,807.9 565.9,806.9 565.2,806.4 565.3,805.4 568.7,804.3ZM583.8,812.5 563.7,815.8 557.5,817.7 554.8,819.0 553.3,820.5 553.2,822.0 557.1,826.1 557.5,827.3 559.0,827.6 588.5,829.5 611.5,829.2 629.1,827.0 646.1,822.4 634.6,817.0 623.9,814.7 609.1,813.3ZM578.4,813.6 586.0,812.9 595.2,812.8 608.7,813.3 621.8,814.5 630.2,816.0 636.6,817.8 641.5,820.6 642.3,822.3 640.4,823.7 630.2,826.6 611.1,829.1 588.9,829.4 565.7,827.6 559.6,826.3 556.1,824.5 553.7,821.9 554.6,819.5 557.8,817.7 562.6,816.2ZM536.1,827.6 529.5,828.8 527.6,830.3 530.5,831.8 536.0,832.6 544.2,832.8 550.9,832.3 555.4,831.3 558.1,829.7 558.1,829.1 557.0,828.0 553.5,827.5 545.3,827.2ZM538.8,827.8 549.8,828.1 553.9,829.2 554.8,830.3 551.5,831.8 545.7,832.5 533.0,832.0 529.3,830.8 529.0,829.9 529.6,829.4 533.4,828.3ZM661.4,821.1 656.1,821.9 652.9,823.1 656.5,824.6 663.4,825.7 671.2,826.1 679.4,825.7 683.9,824.7 685.7,823.3 683.3,821.9 678.2,821.0 668.6,820.7ZM668.3,821.0 679.2,821.5 683.5,822.5 684.4,823.6 681.8,824.9 676.2,825.7 662.9,825.2 659.1,824.1 658.7,823.0 659.3,822.5 663.4,821.5Z"/>
<path fill="#f3f5f6" stroke="#f3f5f6" d="M478.0,754.9 451.3,759.7 478.6,755.0 603.9,754.9 677.4,757.8 682.0,758.1 696.2,760.6 699.2,760.6 715.0,763.4 718.0,763.4 733.9,766.2 736.9,766.2 754.4,769.3 757.5,769.3 763.9,770.5 764.0,771.0 776.8,773.3 776.9,773.9 789.8,776.1 789.9,776.7 802.8,779.0 803.0,779.6 815.9,781.9 816.1,782.5 829.1,784.8 829.2,785.3 842.3,787.7 842.4,788.3 855.6,790.6 855.7,791.2 867.2,793.2 867.4,793.8 879.0,795.9 879.1,796.5 890.7,798.6 890.9,799.1 904.2,801.5 904.4,802.1 916.1,804.2 916.3,804.8 928.0,806.9 928.2,807.5 940.0,809.6 940.2,810.2 941.9,810.5 942.1,811.1 943.8,811.4 944.0,812.0 945.7,812.3 945.8,812.9 947.5,813.2 947.7,813.8 949.4,814.1 949.6,814.7 951.3,815.0 951.5,815.7 953.2,816.0 953.4,816.6 955.1,816.9 955.5,818.1 961.0,820.2 961.2,820.8 962.9,821.1 963.1,821.7 964.8,822.1 965.0,822.7 966.7,823.0 967.0,823.6 968.7,823.9 968.9,824.5 970.6,824.8 970.8,825.4 972.5,825.7 973.0,827.4 971.5,827.7 973.0,832.0 971.5,832.3 972.9,836.6 971.4,837.0 972.4,840.1 969.6,841.3 969.8,842.0 968.3,842.3 970.5,842.1 970.3,841.4 973.1,840.2 972.1,837.1 973.6,836.8 972.1,832.4 973.6,832.1 972.2,827.8 973.7,827.5 973.1,825.6 971.3,825.3 971.1,824.7 969.4,824.4 969.2,823.8 967.5,823.5 967.3,822.9 965.6,822.6 965.4,821.9 963.7,821.6 963.5,821.0 961.8,820.7 961.5,820.1 956.0,818.0 955.6,816.8 953.9,816.5 953.7,815.9 952.0,815.6 951.8,814.9 950.1,814.6 949.9,814.0 948.2,813.7 948.1,813.1 946.4,812.8 946.2,812.2 944.5,811.9 944.3,811.3 942.6,811.0 942.4,810.4 940.7,810.1 940.5,809.5 928.7,807.4 928.5,806.8 916.8,804.7 916.6,804.1 904.9,802.0 904.7,801.4 891.4,799.1 891.2,798.5 879.6,796.4 879.4,795.8 867.8,793.7 867.7,793.2 856.1,791.1 856.0,790.5 842.9,788.2 842.7,787.6 829.6,785.3 829.5,784.7 816.5,782.4 816.4,781.8 803.4,779.5 803.3,778.9 790.4,776.6 790.2,776.1 777.4,773.8 777.3,773.2 764.5,770.9 764.4,770.4 758.0,769.2 754.9,769.2 737.4,766.1 734.3,766.1 718.5,763.3 715.5,763.3 699.7,760.5 696.7,760.5 682.6,758.0 677.9,757.7 604.5,754.8ZM340.4,779.3 298.7,786.7 298.6,787.3 284.0,790.5 283.8,791.0 267.5,794.5 267.4,795.1 259.2,796.5 258.6,799.5 256.9,799.8 255.9,804.5 254.3,804.8 253.4,808.9 251.8,809.2 250.7,814.0 249.1,814.3 248.2,818.6 246.5,818.9 245.4,823.7 243.8,824.0 242.7,829.0 241.0,829.3 238.7,839.8 240.3,840.1 240.1,840.8 243.2,841.4 243.1,842.0 246.2,842.7 246.1,843.3 249.2,843.9 249.1,844.5 252.2,845.2 252.1,845.8 256.8,846.8 256.7,847.4 379.8,872.5 383.2,872.5 393.0,874.5 396.3,874.5 417.7,878.2 421.1,878.2 431.0,880.2 434.3,880.2 455.9,883.9 508.0,889.1 538.4,891.1 621.3,892.3 705.8,891.1 740.0,889.0 705.1,891.0 620.7,892.2 539.0,891.0 508.6,888.9 456.5,883.8 434.9,880.1 431.5,880.1 421.6,878.1 418.3,878.1 396.8,874.4 393.5,874.4 383.7,872.4 380.4,872.4 257.3,847.3 257.4,846.7 252.7,845.7 252.8,845.1 249.7,844.4 249.8,843.8 246.7,843.2 246.8,842.5 243.7,841.9 243.9,841.3 240.7,840.6 240.9,840.0 239.3,839.7 241.6,829.4 243.2,829.1 244.3,824.2 246.0,823.9 247.0,819.0 248.7,818.7 249.6,814.5 251.3,814.2 252.3,809.4 254.0,809.1 254.9,804.9 256.5,804.6 257.5,799.9 259.2,799.6 259.8,796.6 267.9,795.2 268.1,794.6 284.4,791.1 284.5,790.6 299.2,787.4 299.3,786.8ZM570.6,803.5 564.1,804.6 562.3,805.4 562.0,806.6 565.1,808.2 576.3,810.9 578.1,811.8 578.1,812.6 560.6,816.5 554.4,818.9 552.9,820.4 552.6,821.5 554.8,825.1 554.5,825.6 535.5,827.2 528.3,828.5 526.5,829.5 526.4,830.6 531.1,832.3 539.9,833.1 550.2,832.8 557.1,831.6 563.6,829.2 566.8,828.6 593.8,829.7 611.9,829.2 626.1,827.7 643.4,824.3 664.0,826.2 676.2,826.3 683.6,825.3 686.0,824.5 687.0,823.5 686.4,822.6 684.3,821.7 674.9,820.4 646.1,821.0 643.2,820.3 635.0,816.9 626.0,814.9 593.3,812.0 590.7,810.7 591.0,809.7 594.2,806.7 593.9,805.8 592.4,804.9 588.4,803.9 582.2,803.2ZM568.0,804.1 574.8,803.4 583.5,803.6 590.1,804.8 592.0,806.3 590.1,807.7 584.6,809.0 575.6,809.1 568.3,808.2 563.8,806.7 563.5,806.1 564.2,805.2ZM585.4,812.3 609.1,813.3 625.6,815.0 636.9,817.8 646.1,822.4 629.1,827.0 611.5,829.2 588.5,829.5 559.0,827.6 557.5,827.3 557.1,826.1 553.2,822.0 553.3,820.5 554.8,819.0 557.5,817.7 563.7,815.8ZM537.0,827.5 545.3,827.2 555.6,827.7 557.7,828.5 558.1,829.7 555.4,831.3 549.0,832.5 541.1,832.9 533.9,832.4 529.3,831.4 527.7,830.5 527.8,829.7 530.8,828.4ZM661.6,821.1 668.6,820.7 678.2,821.0 683.3,821.9 685.7,823.3 683.9,824.7 679.4,825.7 671.2,826.1 663.4,825.7 656.5,824.6 652.9,823.1 656.1,821.9Z"/>
<path fill="#e9f0f4" stroke="#e9f0f4" d="M478.6,755.0 450.7,759.8 452.9,759.8 479.2,755.1 603.4,755.0 676.9,757.9 681.5,758.2 695.6,760.7 698.7,760.7 714.5,763.5 717.5,763.5 733.4,766.3 736.4,766.3 754.0,769.4 757.0,769.4 763.4,770.5 763.5,771.1 776.4,773.4 776.5,773.9 789.3,776.2 789.5,776.8 802.4,779.1 802.5,779.7 815.5,782.0 815.6,782.5 828.6,784.9 828.8,785.4 841.9,787.8 842.0,788.3 855.1,790.7 855.3,791.3 866.8,793.3 867.0,793.9 878.5,796.0 878.7,796.6 890.3,798.6 890.5,799.2 903.8,801.6 904.0,802.2 915.6,804.3 915.8,804.9 927.6,807.0 927.7,807.6 939.5,809.7 939.7,810.3 941.4,810.6 941.6,811.2 943.3,811.5 943.5,812.1 945.1,812.4 945.3,813.0 947.0,813.3 947.2,813.9 948.9,814.2 949.1,814.8 950.8,815.2 951.0,815.8 952.7,816.1 952.9,816.7 954.6,817.0 955.0,818.2 960.5,820.3 960.7,820.9 962.4,821.2 962.6,821.9 964.3,822.2 964.5,822.8 966.2,823.1 966.4,823.7 968.1,824.0 968.3,824.6 970.0,824.9 970.2,825.5 971.9,825.9 972.4,827.2 970.9,827.5 972.3,831.9 970.8,832.2 972.3,836.5 970.8,836.8 971.8,840.0 968.9,841.2 969.1,841.8 967.6,842.1 967.8,842.6 969.8,842.0 969.6,841.3 972.4,840.1 971.4,837.0 972.9,836.6 971.5,832.3 973.0,832.0 971.5,827.7 973.0,827.4 972.5,825.7 970.8,825.4 970.6,824.8 968.9,824.5 968.7,823.9 967.0,823.6 966.7,823.0 965.0,822.7 964.8,822.1 963.1,821.7 962.9,821.1 961.2,820.8 961.0,820.2 955.5,818.1 955.1,816.9 953.4,816.6 953.2,816.0 951.5,815.7 951.3,815.0 949.6,814.7 949.4,814.1 947.7,813.8 947.5,813.2 945.8,812.9 945.7,812.3 944.0,812.0 943.8,811.4 942.1,811.1 941.9,810.5 940.2,810.2 940.0,809.6 928.2,807.5 928.0,806.9 916.3,804.8 916.1,804.2 904.4,802.1 904.2,801.5 890.9,799.1 890.7,798.6 879.1,796.5 879.0,795.9 867.4,793.8 867.2,793.2 855.7,791.2 855.6,790.6 842.4,788.3 842.3,787.7 829.2,785.3 829.1,784.8 816.1,782.5 815.9,781.9 803.0,779.6 802.8,779.0 789.9,776.7 789.8,776.1 776.9,773.9 776.8,773.3 764.0,771.0 763.9,770.5 757.5,769.3 754.4,769.3 736.9,766.2 733.9,766.2 718.0,763.4 715.0,763.4 699.2,760.6 696.2,760.6 682.0,758.1 677.4,757.8 603.9,754.9ZM340.9,779.4 299.3,786.8 299.2,787.4 284.5,790.6 284.4,791.1 268.1,794.6 267.9,795.2 259.8,796.6 259.2,799.6 257.5,799.9 256.5,804.6 254.9,804.9 254.0,809.1 252.3,809.4 251.3,814.2 249.6,814.5 248.7,818.7 247.0,819.0 246.0,823.9 244.3,824.2 243.2,829.1 241.6,829.4 239.3,839.7 240.9,840.0 240.7,840.6 243.9,841.3 243.7,841.9 246.8,842.5 246.7,843.2 249.8,843.8 249.7,844.4 252.8,845.1 252.7,845.7 257.4,846.7 257.3,847.3 380.4,872.4 383.7,872.4 393.5,874.4 396.8,874.4 418.3,878.1 421.6,878.1 431.5,880.1 434.9,880.1 456.5,883.8 508.6,888.9 539.0,891.0 620.7,892.2 705.1,891.0 740.7,888.9 716.2,889.9 704.4,890.9 620.0,892.1 539.6,890.9 509.2,888.8 457.1,883.7 435.4,880.0 432.1,880.0 422.1,878.0 418.8,878.0 397.4,874.3 394.0,874.3 384.2,872.3 380.9,872.3 257.9,847.2 258.0,846.6 253.3,845.6 253.4,845.0 250.3,844.3 250.4,843.7 247.3,843.1 247.4,842.4 244.3,841.8 244.5,841.2 241.4,840.5 241.5,839.9 239.9,839.6 242.1,829.5 243.8,829.2 244.9,824.3 246.5,824.0 247.6,819.1 249.2,818.8 250.2,814.6 251.8,814.3 252.9,809.5 254.5,809.2 255.4,805.0 257.1,804.7 258.1,800.0 259.7,799.7 260.4,796.8 268.5,795.3 268.6,794.7 276.7,793.3 276.9,792.7 285.0,791.2 285.1,790.7 299.7,787.5 299.8,786.9ZM567.7,803.5 562.1,804.8 560.6,805.7 560.5,806.7 563.7,808.5 574.0,811.4 575.3,812.3 574.9,813.0 561.5,816.0 554.8,818.4 552.8,819.8 552.1,820.9 552.2,822.2 553.5,824.2 553.5,824.8 552.8,825.3 533.3,827.1 526.2,828.8 524.9,829.8 525.5,830.9 530.2,832.5 538.8,833.3 549.6,833.2 558.4,831.9 568.7,828.9 595.8,829.8 614.7,829.2 624.8,828.0 642.9,824.8 662.6,826.5 675.0,826.6 684.6,825.4 687.7,824.2 688.2,823.5 687.5,822.4 685.2,821.5 676.1,820.2 645.9,820.4 636.6,817.2 628.2,815.1 595.3,811.6 593.7,810.1 595.7,807.6 596.0,806.5 594.1,804.9 590.9,804.0 580.3,802.9ZM572.2,803.3 584.5,803.4 592.4,804.9 593.9,805.8 594.2,806.7 591.0,809.7 590.7,810.7 593.3,812.0 626.0,814.9 635.0,816.9 643.2,820.3 646.1,821.0 674.9,820.4 684.3,821.7 686.4,822.6 687.0,823.5 686.0,824.5 683.6,825.3 676.2,826.3 664.0,826.2 643.4,824.3 626.1,827.7 611.9,829.2 593.8,829.7 566.8,828.6 563.6,829.2 557.1,831.6 550.2,832.8 539.9,833.1 531.1,832.3 526.4,830.6 526.5,829.5 528.3,828.5 535.5,827.2 554.5,825.6 554.8,825.1 552.6,821.5 552.9,820.4 554.4,818.9 560.6,816.5 578.1,812.6 578.1,811.8 576.3,810.9 565.1,808.2 561.9,806.4 562.3,805.4 564.1,804.6Z"/>
<path fill="#e0ecf3" stroke="#e0ecf3" d="M479.2,755.1 452.9,759.8 450.7,759.8 299.8,786.9 299.7,787.5 285.1,790.7 285.0,791.2 276.9,792.7 276.7,793.3 268.6,794.7 268.5,795.3 260.4,796.8 259.7,799.7 258.1,800.0 257.1,804.7 255.4,805.0 254.5,809.2 252.9,809.5 251.8,814.3 250.2,814.6 249.2,818.8 247.6,819.1 246.5,824.0 244.9,824.3 243.8,829.2 242.1,829.5 239.9,839.6 241.5,839.9 241.4,840.5 247.4,842.4 247.3,843.1 250.4,843.7 250.3,844.3 253.4,845.0 253.3,845.6 258.0,846.6 257.9,847.2 380.9,872.3 384.2,872.3 394.0,874.3 397.4,874.3 418.8,878.0 422.1,878.0 432.1,880.0 435.4,880.0 457.1,883.7 509.2,888.8 539.6,890.9 620.0,892.1 689.3,891.2 704.4,890.9 716.2,889.9 740.7,888.9 854.6,865.7 820.5,870.8 783.4,875.1 740.2,878.9 695.8,881.9 645.0,884.4 598.6,885.8 553.9,886.2 511.7,885.6 463.8,883.7 445.9,881.9 422.7,877.9 419.3,877.9 397.9,874.2 394.6,874.2 384.7,872.2 381.4,872.2 279.0,851.3 268.1,844.7 264.2,841.2 261.6,838.0 259.9,834.7 259.0,831.3 259.1,827.8 260.2,824.2 262.1,820.7 265.2,816.9 274.2,809.3 287.3,801.4 303.0,794.1 321.0,787.4 340.2,781.6 361.7,776.4 385.6,771.6 412.1,767.4 441.4,763.8 471.7,761.0 502.8,758.9 537.3,757.5 573.2,756.8 610.3,757.1 644.5,758.2 704.9,762.0 732.9,766.4 736.0,766.4 753.5,769.5 756.6,769.5 775.9,773.5 776.0,774.0 788.9,776.3 789.0,776.9 801.9,779.2 802.1,779.7 815.1,782.0 815.2,782.6 828.2,784.9 828.4,785.5 841.4,787.8 841.6,788.4 854.7,790.8 854.9,791.3 866.4,793.4 866.5,794.0 889.9,798.7 890.0,799.3 903.3,801.7 903.5,802.3 915.2,804.4 915.4,805.0 937.1,809.5 938.7,810.5 946.0,816.7 948.3,820.0 949.5,823.1 949.8,826.4 949.1,829.4 947.4,832.6 944.9,835.6 936.6,841.8 924.1,847.9 908.5,853.4 889.7,858.5 967.8,842.6 967.6,842.1 969.1,841.8 968.9,841.2 970.5,840.9 970.3,840.3 971.8,840.0 970.8,836.8 972.3,836.5 970.8,832.2 972.3,831.9 970.9,827.5 972.4,827.2 971.9,825.9 970.2,825.5 970.0,824.9 968.3,824.6 968.1,824.0 966.4,823.7 966.2,823.1 964.5,822.8 964.3,822.2 962.6,821.9 962.4,821.2 960.7,820.9 960.5,820.3 955.0,818.2 954.6,817.0 952.9,816.7 952.7,816.1 951.0,815.8 950.8,815.2 949.1,814.8 948.9,814.2 947.2,813.9 947.0,813.3 945.3,813.0 945.1,812.4 943.5,812.1 943.3,811.5 941.6,811.2 941.4,810.6 939.7,810.3 939.5,809.7 927.7,807.6 927.6,807.0 915.8,804.9 915.6,804.3 904.0,802.2 903.8,801.6 890.5,799.2 890.3,798.6 878.7,796.6 878.5,796.0 867.0,793.9 866.8,793.3 855.3,791.3 855.1,790.7 842.0,788.3 841.9,787.8 828.8,785.4 828.6,784.9 815.6,782.5 815.5,782.0 802.5,779.7 802.4,779.1 789.5,776.8 789.3,776.2 776.5,773.9 776.4,773.4 763.5,771.1 763.4,770.5 757.0,769.4 754.0,769.4 736.4,766.3 733.4,766.3 717.5,763.5 714.5,763.5 698.7,760.7 695.6,760.7 681.5,758.2 676.9,757.9 603.4,755.0ZM569.0,803.2 561.3,804.7 559.4,805.7 559.2,806.6 561.6,808.3 571.4,811.3 573.0,812.8 571.2,813.7 559.7,816.3 554.3,818.3 551.5,820.8 551.5,822.3 552.4,824.0 551.4,825.0 534.3,826.6 525.4,828.6 524.0,829.6 524.3,830.9 529.5,832.6 538.2,833.5 550.1,833.3 559.4,832.1 570.2,829.2 595.8,829.9 612.9,829.4 625.2,828.1 642.0,825.2 664.0,826.9 675.8,826.8 685.3,825.6 687.9,824.8 689.3,823.3 688.1,822.2 686.0,821.4 677.0,820.0 645.3,819.9 634.6,816.4 626.9,814.8 598.1,811.7 596.3,810.8 595.8,810.0 597.3,807.3 597.1,806.1 595.4,805.0 591.7,803.9 581.4,802.8ZM568.5,803.4 580.3,802.9 590.9,804.0 594.1,804.9 596.0,806.5 595.7,807.6 593.7,810.1 595.3,811.6 628.2,815.1 636.6,817.2 645.9,820.4 676.1,820.2 685.2,821.5 687.5,822.4 688.2,823.5 687.7,824.2 684.6,825.4 675.0,826.6 662.6,826.5 642.9,824.8 624.8,828.0 614.7,829.2 595.8,829.8 568.7,828.9 558.4,831.9 549.6,833.2 538.8,833.3 530.2,832.5 525.5,830.9 524.9,829.8 526.2,828.8 533.3,827.1 552.8,825.3 553.5,824.8 553.5,824.2 552.2,822.2 552.1,820.9 552.8,819.8 554.8,818.4 561.5,816.0 574.9,813.0 575.3,812.3 574.0,811.4 563.7,808.5 560.5,806.7 560.6,805.7 562.1,804.8Z"/>
<path fill="#d7e7f0" stroke="#d7e7f0" d="M403.5,768.7 370.4,774.5 341.4,781.3 316.5,788.9 294.4,797.9 284.0,803.2 276.3,807.9 269.7,812.8 264.7,817.5 261.3,822.0 259.4,826.5 259.0,830.9 260.1,835.3 262.8,839.6 266.9,843.7 272.3,847.6 279.0,851.3 381.4,872.2 384.7,872.2 394.6,874.2 397.9,874.2 407.7,876.2 411.1,876.2 419.3,877.9 422.7,877.9 432.6,879.9 435.9,879.9 456.0,883.2 495.3,885.1 536.6,886.1 580.0,886.1 622.3,885.2 672.2,883.2 718.4,880.5 763.4,877.0 802.4,873.1 830.1,869.5 854.6,865.7 889.7,858.5 909.7,853.0 927.1,846.6 938.8,840.4 943.3,837.1 946.7,833.6 948.9,829.9 949.8,826.6 949.4,822.5 946.9,817.9 942.7,813.5 937.1,809.5 915.4,805.0 915.2,804.4 903.5,802.3 903.3,801.7 890.0,799.3 889.9,798.7 878.3,796.6 878.1,796.1 866.5,794.0 866.4,793.4 854.9,791.3 854.7,790.8 841.6,788.4 841.4,787.8 828.4,785.5 828.2,784.9 815.2,782.6 815.1,782.0 802.1,779.7 801.9,779.2 789.0,776.9 788.9,776.3 776.0,774.0 775.9,773.5 763.1,771.2 763.0,770.6 704.9,762.0 666.4,759.3 626.6,757.5 587.2,756.8 547.9,757.2 509.9,758.5 471.7,761.0 435.7,764.4ZM443.8,773.7 472.9,770.2 504.5,767.6 538.1,765.9 573.9,765.2 607.1,765.6 642.9,766.9 676.9,769.3 711.4,772.7 750.0,777.7 790.6,784.3 826.5,791.3 854.6,798.1 874.9,804.7 889.2,811.4 894.2,814.8 898.0,818.6 900.1,822.2 900.5,825.8 899.8,828.6 897.7,831.7 894.7,834.7 889.9,838.0 877.0,843.9 860.2,849.3 839.9,854.0 814.6,858.5 785.7,862.3 753.6,865.6 708.7,869.0 652.7,872.2 603.6,874.3 561.8,875.2 521.7,875.0 486.6,874.0 450.7,871.8 419.3,868.8 393.7,865.4 371.4,861.3 352.2,856.8 336.2,851.7 323.7,846.0 315.5,840.2 313.0,837.3 311.4,834.3 310.7,831.0 311.0,827.9 312.4,824.4 315.2,820.5 319.5,816.4 324.6,812.4 340.0,803.1 358.3,794.6 375.6,788.4 395.5,782.8 418.6,777.8ZM564.6,803.5 559.1,805.2 558.2,805.9 558.4,807.1 560.7,808.5 569.9,811.5 571.0,812.5 570.7,813.2 557.8,816.5 552.9,818.6 550.8,820.6 551.3,823.8 550.1,824.8 531.6,826.7 524.1,828.7 522.9,830.0 523.9,831.2 530.7,833.0 539.8,833.8 551.1,833.5 560.2,832.2 571.5,829.5 597.2,830.1 613.5,829.5 625.8,828.2 641.1,825.6 664.6,827.1 676.4,827.0 686.0,825.7 689.3,824.5 690.1,823.5 688.9,822.1 681.8,820.3 670.1,819.5 646.5,819.6 629.1,815.0 600.8,811.8 598.6,811.0 597.6,810.0 598.6,806.9 597.7,805.6 595.1,804.4 590.7,803.4 578.3,802.6ZM570.9,803.0 584.0,802.9 594.4,804.5 596.3,805.4 597.4,806.7 595.9,809.4 595.9,810.3 597.0,811.3 599.5,812.0 626.9,814.8 634.6,816.4 645.3,819.9 677.0,820.0 686.0,821.4 688.1,822.2 689.3,823.3 687.9,824.8 685.3,825.6 675.8,826.8 664.0,826.9 642.0,825.2 625.2,828.1 612.9,829.4 595.8,829.9 570.2,829.2 559.4,832.1 550.1,833.3 538.2,833.5 529.5,832.6 524.3,830.9 524.0,829.6 525.4,828.6 534.3,826.6 551.4,825.0 552.4,824.0 551.5,822.3 551.5,820.8 554.3,818.3 559.7,816.3 572.4,813.3 573.1,812.8 572.8,812.2 571.5,811.3 561.6,808.3 559.8,807.3 559.1,806.3 560.3,805.1 562.4,804.3Z"/>
<path fill="#c8e0ec" stroke="#c8e0ec" d="M443.2,773.8 418.6,777.8 395.5,782.8 375.6,788.4 358.3,794.6 340.0,803.1 324.6,812.4 319.5,816.4 315.2,820.5 312.4,824.4 311.0,827.9 310.7,831.0 311.4,834.3 313.0,837.3 315.5,840.2 323.7,846.0 336.2,851.7 352.2,856.8 371.4,861.3 393.7,865.4 419.3,868.8 450.7,871.8 486.6,874.0 521.7,875.0 561.8,875.2 603.6,874.3 652.7,872.2 708.7,869.0 753.6,865.6 785.7,862.3 814.6,858.5 839.9,854.0 860.2,849.3 877.0,843.9 889.9,838.0 894.7,834.7 897.7,831.7 899.8,828.6 900.5,825.8 900.1,822.2 898.0,818.6 894.2,814.8 889.2,811.4 874.9,804.7 854.6,798.1 826.5,791.3 790.6,784.3 750.0,777.7 711.4,772.7 676.9,769.3 642.9,766.9 607.1,765.6 573.9,765.2 538.1,765.9 504.5,767.6 472.9,770.2ZM451.7,779.6 476.7,776.0 502.7,773.5 532.4,771.6 563.4,770.7 594.3,770.7 623.5,771.6 653.9,773.5 682.9,776.2 718.1,780.8 758.9,787.3 799.1,794.7 826.8,801.1 845.4,806.8 859.2,812.9 863.7,815.8 867.1,818.9 869.1,822.4 869.5,825.4 868.6,828.2 867.0,830.5 860.6,835.5 850.6,840.3 836.5,844.8 819.3,848.9 799.2,852.5 776.4,855.6 750.9,858.2 710.8,861.2 642.2,865.0 597.3,867.2 560.0,868.3 527.7,868.4 495.7,867.7 466.9,866.1 439.4,863.7 417.2,860.9 397.8,857.6 381.1,853.8 367.1,849.6 355.9,844.9 348.5,840.2 344.3,835.2 343.4,832.6 343.4,829.9 344.3,826.9 346.5,823.6 354.5,816.4 370.2,806.6 387.2,797.8 400.0,792.5 414.9,787.6 432.3,783.3ZM567.7,802.9 560.0,804.4 558.0,805.4 557.3,806.7 559.9,808.6 567.6,811.4 568.8,812.4 568.7,813.2 552.9,818.0 549.9,820.5 550.1,823.5 548.9,824.5 530.9,826.6 524.0,828.3 522.2,829.7 522.6,830.8 528.3,832.8 539.2,833.9 549.7,833.8 559.3,832.7 572.9,829.7 597.4,830.3 611.8,829.8 622.7,828.9 642.5,825.9 662.2,827.2 675.2,827.2 686.5,825.8 689.8,824.6 690.9,823.6 690.2,822.4 688.4,821.5 681.0,820.0 670.8,819.3 647.9,819.4 628.1,814.5 603.7,811.8 599.7,810.2 599.2,809.1 599.6,806.6 598.6,805.6 595.7,804.3 591.3,803.3 580.1,802.4ZM565.1,803.4 578.3,802.6 590.7,803.4 595.1,804.4 597.7,805.6 598.6,806.9 597.6,810.0 598.6,811.0 600.8,811.8 629.1,815.0 646.5,819.6 670.1,819.5 681.8,820.3 688.9,822.1 690.1,823.5 689.3,824.5 686.0,825.7 676.4,827.0 664.6,827.1 641.1,825.6 625.8,828.2 613.5,829.5 597.2,830.1 571.5,829.5 560.2,832.2 551.1,833.5 539.8,833.8 530.7,833.0 523.9,831.2 522.9,830.0 524.1,828.7 531.6,826.7 550.1,824.8 551.3,823.8 550.8,820.6 552.9,818.6 557.8,816.5 570.7,813.2 571.0,812.5 569.9,811.5 560.7,808.5 558.4,807.1 558.2,805.9 559.1,805.2Z"/>
<path fill="#b8d8e8" stroke="#b8d8e8" d="M450.6,779.8 432.3,783.3 414.9,787.6 400.0,792.5 386.3,798.2 368.6,807.5 353.8,816.9 346.5,823.6 344.3,826.9 343.4,829.9 343.4,832.6 344.3,835.2 348.5,840.2 355.9,844.9 367.1,849.6 381.1,853.8 397.8,857.6 417.2,860.9 439.4,863.7 466.9,866.1 495.7,867.7 527.7,868.4 560.0,868.3 597.3,867.2 642.2,865.0 710.8,861.2 750.9,858.2 776.4,855.6 799.2,852.5 819.3,848.9 836.5,844.8 850.6,840.3 860.6,835.5 867.0,830.5 868.6,828.2 869.5,825.4 869.1,822.4 867.1,818.9 863.7,815.8 859.2,812.9 845.4,806.8 826.8,801.1 799.1,794.7 758.9,787.3 718.1,780.8 682.9,776.2 653.9,773.5 623.5,771.6 591.7,770.7 561.2,770.7 532.4,771.6 502.7,773.5 474.9,776.3ZM469.9,782.0 490.3,779.1 514.6,776.8 540.1,775.3 566.9,774.6 594.4,774.7 620.5,775.6 645.7,777.3 670.2,779.8 702.8,784.2 754.2,793.0 788.2,799.3 810.2,804.3 826.5,809.2 838.2,814.4 842.6,817.4 845.2,820.0 846.7,822.9 846.8,825.3 846.1,827.6 844.7,829.6 839.1,834.0 830.0,838.2 818.1,842.0 803.7,845.4 785.2,848.6 744.6,853.2 713.6,855.4 598.7,861.7 554.6,863.4 526.3,863.6 496.9,862.9 471.0,861.4 446.3,859.1 428.6,856.8 411.4,853.8 396.7,850.3 385.6,846.8 376.9,842.8 370.6,838.5 367.5,834.0 367.1,831.8 367.4,829.4 368.7,826.7 370.9,824.0 377.8,818.5 405.1,802.4 416.0,796.7 427.0,792.3 439.9,788.2 453.6,785.0ZM569.3,802.6 560.8,804.0 558.4,804.7 556.5,806.2 556.9,807.4 558.2,808.3 565.5,811.4 566.6,812.8 566.2,813.3 556.2,816.2 551.2,818.3 549.0,820.3 548.7,823.3 547.5,824.3 530.3,826.5 523.4,828.2 521.5,829.7 522.0,830.9 527.9,832.9 537.1,833.9 549.7,833.9 560.0,832.8 572.1,830.2 610.3,830.1 621.6,829.2 641.6,826.4 664.2,827.5 675.5,827.3 686.9,825.9 690.3,824.7 691.5,823.4 691.0,822.5 689.2,821.5 682.9,820.1 671.7,819.2 647.3,818.9 630.6,814.7 605.3,811.5 601.4,809.8 600.8,808.8 600.7,806.7 599.3,805.4 591.8,803.2 580.7,802.3ZM568.1,802.9 580.1,802.4 591.3,803.3 595.7,804.3 598.6,805.6 599.6,806.6 599.2,809.1 599.7,810.2 603.7,811.8 628.1,814.5 647.9,819.4 670.8,819.3 681.0,820.0 688.4,821.5 690.2,822.4 690.9,823.6 689.8,824.6 686.5,825.8 675.2,827.2 662.2,827.2 642.5,825.9 622.7,828.9 611.8,829.8 597.4,830.3 572.9,829.7 559.3,832.7 549.7,833.8 539.2,833.9 528.3,832.8 522.6,830.8 522.2,829.7 524.0,828.3 530.9,826.6 548.9,824.5 550.1,823.5 549.9,820.5 552.9,818.0 568.7,813.2 568.8,812.4 567.6,811.4 559.9,808.6 557.3,806.7 558.0,805.4 560.0,804.4Z"/>
<path fill="#abd1e4" stroke="#abd1e4" d="M469.1,782.1 452.1,785.3 438.6,788.6 427.0,792.3 416.0,796.7 404.3,802.8 377.1,819.0 370.4,824.5 367.3,829.6 367.1,831.8 367.5,834.2 370.6,838.5 376.9,842.8 385.6,846.8 396.7,850.3 411.4,853.8 428.6,856.8 446.3,859.1 471.0,861.4 496.9,862.9 526.3,863.6 554.6,863.4 598.7,861.7 713.6,855.4 744.6,853.2 785.2,848.6 803.7,845.4 818.1,842.0 830.0,838.2 839.1,834.0 844.7,829.6 846.1,827.6 846.8,825.3 846.7,822.9 845.2,820.0 842.6,817.4 838.2,814.4 826.5,809.2 810.2,804.3 788.2,799.3 754.2,793.0 702.8,784.2 670.2,779.8 645.7,777.3 620.5,775.6 594.4,774.7 566.9,774.6 540.1,775.3 514.6,776.8 490.3,779.1ZM487.0,783.4 506.3,781.0 527.5,779.2 571.3,777.6 616.3,778.7 638.9,780.3 659.0,782.4 687.4,786.5 764.8,800.1 795.8,806.4 811.1,810.9 821.0,815.3 827.3,820.0 828.9,822.6 829.1,825.0 827.3,828.8 822.4,832.6 815.2,836.1 804.7,839.5 791.9,842.6 776.9,845.2 740.5,849.4 711.3,851.2 647.1,853.9 583.9,858.2 548.8,859.6 522.9,859.8 497.6,859.2 473.6,857.7 451.7,855.6 436.4,853.4 421.4,850.6 410.0,847.8 399.4,844.2 392.2,840.6 387.6,836.8 385.7,832.6 386.4,828.9 389.4,825.1 394.7,821.2 414.6,810.3 430.5,800.1 438.8,795.7 448.0,792.1 459.0,788.9 471.7,786.1ZM568.9,802.6 560.3,803.9 556.1,805.7 555.7,806.4 556.1,807.5 562.3,810.8 563.3,811.6 563.6,812.8 562.2,813.8 550.0,818.1 547.7,820.0 547.1,823.0 546.0,824.0 528.1,826.6 524.0,827.7 521.3,829.0 520.8,830.2 522.3,831.5 529.2,833.3 538.0,834.1 550.3,834.0 560.7,832.9 573.7,830.5 611.6,830.4 643.8,826.8 663.4,827.6 676.1,827.5 687.4,826.0 690.9,824.8 692.2,823.3 690.4,821.8 683.4,820.0 672.6,819.0 649.0,818.5 630.1,814.2 609.0,811.4 603.3,809.5 601.3,806.3 600.0,805.3 592.2,803.2 581.2,802.2ZM569.6,802.6 580.7,802.3 591.8,803.2 599.3,805.4 600.7,806.7 600.8,808.8 601.4,809.8 605.3,811.5 630.6,814.7 647.3,818.9 671.7,819.2 682.9,820.1 689.2,821.5 691.0,822.5 691.5,823.4 690.3,824.7 686.9,825.9 675.5,827.3 664.2,827.5 641.6,826.4 621.6,829.2 610.3,830.1 572.1,830.2 560.0,832.8 549.7,833.9 537.1,833.9 527.9,832.9 522.0,830.9 521.5,829.7 523.4,828.2 530.3,826.5 547.5,824.3 548.7,823.3 549.0,820.3 551.2,818.3 556.2,816.2 566.2,813.3 566.6,812.8 565.5,811.4 558.2,808.3 556.9,807.4 556.5,806.2 558.4,804.7 560.8,804.0Z"/>
<path fill="#98c6de" stroke="#98c6de" d="M486.1,783.5 459.0,788.9 448.0,792.1 437.9,796.1 429.7,800.5 414.6,810.3 394.7,821.2 389.4,825.1 386.4,828.9 385.7,832.6 387.6,836.8 392.2,840.6 399.4,844.2 410.0,847.8 421.4,850.6 436.4,853.4 451.7,855.6 473.6,857.7 497.6,859.2 522.9,859.8 548.8,859.6 583.9,858.2 647.1,853.9 711.3,851.2 740.5,849.4 776.9,845.2 791.9,842.6 804.7,839.5 815.2,836.1 822.4,832.6 827.3,828.8 829.1,825.0 828.9,822.6 827.3,820.0 821.0,815.3 811.1,810.9 795.8,806.4 764.8,800.1 687.4,786.5 659.0,782.4 638.9,780.3 616.3,778.7 571.3,777.6 527.5,779.2 506.3,781.0ZM504.7,784.2 540.7,781.1 579.1,780.2 616.9,781.5 652.0,784.9 674.4,788.4 718.0,796.9 765.0,804.3 785.1,808.5 798.0,812.2 807.1,816.1 810.9,818.5 813.1,820.6 814.4,822.9 814.6,824.8 812.7,828.5 808.3,831.8 801.9,834.8 792.5,837.8 781.0,840.5 767.6,842.9 737.0,846.3 706.4,848.0 641.6,849.7 577.5,855.0 543.3,856.6 521.2,856.7 498.5,856.2 475.9,854.7 456.7,852.7 430.6,848.2 419.6,845.3 411.8,842.5 405.9,839.3 402.2,835.8 400.9,832.4 402.1,828.9 405.1,825.7 410.2,822.3 434.7,810.5 447.4,800.3 456.2,795.4 464.5,792.3 475.9,789.2 489.4,786.5ZM564.6,802.9 558.6,804.2 555.3,805.9 555.0,806.5 555.4,807.6 559.2,810.2 560.0,810.9 559.8,812.1 557.9,813.5 549.6,816.8 546.5,818.6 545.2,820.2 544.8,822.5 543.9,823.6 526.0,826.9 520.8,828.9 520.2,830.1 521.8,831.6 528.8,833.4 537.5,834.2 548.3,834.2 557.5,833.6 575.9,830.9 611.4,831.0 646.5,827.3 665.5,827.8 676.6,827.6 687.9,826.1 691.7,824.7 692.7,823.4 690.9,821.7 683.9,819.9 673.1,818.9 651.2,818.1 632.0,813.8 610.6,810.5 604.7,808.6 602.1,806.1 599.8,804.8 592.7,803.1 578.8,802.1ZM570.6,802.4 583.2,802.3 593.9,803.4 600.0,805.3 601.3,806.3 603.3,809.5 609.0,811.4 630.1,814.2 649.0,818.5 672.6,819.0 683.4,820.0 690.4,821.8 692.2,823.3 690.9,824.8 687.4,826.0 676.1,827.5 666.3,827.7 641.2,826.9 622.8,829.5 611.6,830.4 573.7,830.5 558.8,833.2 547.8,834.1 538.0,834.1 527.5,833.0 523.3,831.9 521.3,830.9 520.9,829.6 522.0,828.6 528.1,826.6 546.0,824.0 547.1,823.0 547.7,820.0 550.0,818.1 562.2,813.8 563.6,812.8 563.3,811.6 562.3,810.8 556.1,807.5 555.7,806.4 556.1,805.7 558.0,804.6 561.7,803.6Z"/>
<path fill="#84bad7" stroke="#84bad7" d="M503.1,784.4 475.9,789.2 464.5,792.3 456.2,795.4 447.4,800.3 434.7,810.5 410.2,822.3 405.1,825.7 402.1,828.9 400.9,832.4 402.2,835.8 405.9,839.3 411.8,842.5 419.6,845.3 430.6,848.2 456.7,852.7 475.9,854.7 498.5,856.2 521.2,856.7 543.3,856.6 577.5,855.0 641.6,849.7 706.4,848.0 737.0,846.3 767.6,842.9 781.0,840.5 792.5,837.8 801.9,834.8 808.3,831.8 812.7,828.5 814.6,824.8 814.4,822.9 813.1,820.6 810.9,818.5 807.1,816.1 798.0,812.2 785.1,808.5 765.0,804.3 718.0,796.9 674.4,788.4 652.0,784.9 614.5,781.4 577.0,780.2 538.3,781.2ZM508.2,786.4 538.3,783.5 574.5,782.4 609.7,783.4 641.1,786.3 664.6,790.2 704.0,798.9 753.6,805.9 776.0,810.2 787.7,813.6 795.8,817.1 801.0,821.0 802.0,822.8 802.3,824.8 800.6,828.0 796.8,830.9 791.4,833.4 783.3,836.1 761.8,840.6 733.4,843.7 699.4,845.3 635.7,845.5 622.0,846.6 575.5,852.1 540.0,854.0 518.8,854.2 498.6,853.6 478.9,852.3 462.0,850.4 439.7,846.5 431.4,844.3 423.5,841.5 418.3,838.8 415.0,835.7 413.8,832.4 414.9,829.5 418.1,826.4 423.7,823.1 447.2,814.1 452.5,811.5 455.4,809.0 461.4,800.8 468.8,796.1 475.9,793.3 484.6,790.8ZM566.1,802.6 559.5,803.7 555.3,805.3 554.5,806.0 554.3,807.3 556.6,809.7 556.7,810.9 542.2,816.6 540.6,818.7 541.2,822.4 540.4,823.5 525.5,826.8 520.3,828.8 519.7,830.2 521.0,831.5 528.4,833.5 539.4,834.4 548.8,834.4 577.5,831.6 603.8,832.6 616.0,832.5 626.4,831.4 646.9,828.0 671.5,827.9 681.5,827.3 689.6,825.8 692.5,824.5 693.2,823.5 692.8,822.6 691.3,821.6 684.3,819.8 653.9,817.6 633.7,812.3 609.5,808.9 605.7,807.8 600.2,804.7 593.1,803.0 579.3,802.0ZM565.2,802.8 578.9,802.1 592.7,803.1 599.8,804.8 602.1,806.1 604.7,808.6 610.6,810.5 632.0,813.8 651.2,818.1 673.1,818.9 683.9,819.9 690.9,821.7 692.7,823.4 691.7,824.7 687.9,826.1 676.6,827.6 665.5,827.8 646.5,827.3 611.4,831.0 575.9,830.9 557.5,833.6 548.3,834.2 537.5,834.2 528.8,833.4 521.8,831.6 520.2,830.1 520.8,828.9 526.0,826.9 543.9,823.6 544.8,822.5 545.2,820.2 546.5,818.6 549.6,816.8 557.9,813.5 559.8,812.1 560.0,810.9 559.2,810.2 555.4,807.6 555.0,806.5 555.3,805.9 558.6,804.2Z"/>
<path fill="#73afd1" stroke="#73afd1" d="M507.9,786.5 484.6,790.8 475.9,793.3 468.8,796.1 461.4,800.8 455.4,809.0 452.5,811.5 447.2,814.1 423.7,823.1 418.1,826.4 414.9,829.5 413.8,832.4 415.0,835.7 418.3,838.8 423.5,841.5 431.4,844.3 439.7,846.5 462.0,850.4 478.9,852.3 498.6,853.6 518.8,854.2 540.0,854.0 575.5,852.1 622.0,846.6 635.7,845.5 699.4,845.3 733.4,843.7 761.8,840.6 783.3,836.1 791.4,833.4 796.8,830.9 800.6,828.0 802.3,824.8 802.0,822.8 801.0,821.0 795.8,817.1 787.7,813.6 776.0,810.2 753.6,805.9 704.0,798.9 664.6,790.2 641.1,786.3 609.7,783.4 574.5,782.4 538.3,783.5ZM518.7,787.4 546.4,785.0 576.7,784.3 608.4,785.4 635.1,788.0 657.5,792.1 682.5,799.4 691.3,801.3 743.2,807.3 768.2,811.8 778.6,814.7 785.7,817.8 790.4,821.3 791.3,823.0 791.5,824.8 790.3,827.3 787.4,829.7 777.7,833.9 762.3,837.6 742.1,840.5 719.1,842.2 693.1,842.8 669.7,842.2 645.8,840.5 634.0,839.0 630.2,837.8 630.1,837.2 632.0,835.5 640.9,831.1 646.8,829.2 652.1,828.4 674.7,827.9 685.5,826.8 692.9,824.6 693.6,823.0 692.6,822.0 689.3,820.7 682.9,819.5 658.3,817.4 654.9,816.3 647.2,812.1 640.2,810.4 609.1,807.8 599.6,804.2 591.7,802.7 581.3,801.9 570.0,802.2 562.1,803.0 555.6,804.8 553.7,806.2 553.5,807.4 554.4,809.3 554.3,809.9 552.6,810.7 535.2,814.0 530.3,815.5 529.0,816.5 529.2,817.7 535.7,822.2 536.4,823.3 535.0,824.3 521.4,827.8 519.3,829.3 519.6,830.8 522.1,832.2 526.3,833.2 539.3,834.5 552.0,834.3 573.2,832.4 583.4,832.9 614.8,837.6 618.1,838.9 616.4,840.5 605.5,844.0 589.8,847.3 570.4,849.8 549.3,851.4 526.8,852.0 505.3,851.7 485.0,850.5 466.1,848.4 446.1,844.7 438.3,842.4 432.0,839.9 428.1,837.6 425.5,834.7 425.1,832.0 426.6,829.3 431.3,825.8 438.1,822.8 465.1,815.1 471.2,812.7 472.9,810.6 472.3,804.7 473.2,801.7 476.2,798.7 481.0,796.0 487.2,793.7 496.1,791.2ZM566.8,802.5 581.8,802.0 594.8,803.3 600.2,804.7 605.7,807.8 609.5,808.9 633.7,812.3 653.9,817.6 684.3,819.8 691.3,821.6 692.8,822.6 693.2,823.5 692.5,824.5 689.6,825.8 681.5,827.3 671.5,827.9 646.9,828.0 626.4,831.4 616.0,832.5 603.8,832.6 577.5,831.6 548.8,834.4 539.4,834.4 528.4,833.5 521.0,831.5 519.7,830.2 520.3,828.8 525.5,826.8 540.4,823.5 541.2,822.4 540.6,818.7 542.2,816.6 556.7,810.9 556.6,809.7 554.3,807.3 554.5,806.0 555.3,805.3 559.5,803.7Z"/>
<path fill="#63a3cb" stroke="#63a3cb" d="M517.1,787.6 496.1,791.2 487.2,793.7 480.9,796.1 476.2,798.7 473.2,801.7 472.3,804.7 472.9,810.6 471.2,812.7 466.3,814.8 446.4,820.1 437.0,823.2 430.5,826.3 426.1,829.8 425.0,832.6 425.6,834.9 428.1,837.6 432.9,840.3 439.5,842.8 447.5,845.0 468.0,848.7 487.4,850.7 508.1,851.8 529.6,852.0 551.8,851.2 572.5,849.6 589.8,847.3 605.5,844.0 616.4,840.5 618.1,838.9 614.8,837.6 583.4,832.9 573.2,832.4 552.0,834.3 539.3,834.5 526.3,833.2 522.1,832.2 519.6,830.8 519.3,829.3 521.4,827.8 535.0,824.3 536.4,823.3 535.7,822.2 529.2,817.7 529.0,816.5 530.3,815.5 535.2,814.0 552.6,810.7 554.3,809.9 554.4,809.3 553.5,807.4 553.7,806.2 555.6,804.8 562.1,803.0 570.0,802.2 581.3,801.9 591.7,802.7 599.6,804.2 609.1,807.8 640.2,810.4 647.2,812.1 654.9,816.3 658.3,817.4 682.9,819.5 689.3,820.7 692.6,822.0 693.6,823.0 692.9,824.6 685.5,826.8 674.7,827.9 652.1,828.4 646.8,829.2 640.9,831.1 632.0,835.5 630.1,837.2 630.2,837.8 634.0,839.0 645.8,840.5 669.7,842.2 693.1,842.8 719.1,842.2 742.1,840.5 762.3,837.6 777.7,833.9 787.4,829.7 790.3,827.3 791.5,824.8 791.3,823.0 790.4,821.3 785.7,817.8 778.6,814.7 768.2,811.8 743.2,807.3 691.3,801.3 682.5,799.4 657.5,792.1 635.1,788.0 608.4,785.4 576.5,784.3 546.4,785.0ZM523.5,788.8 548.9,786.6 576.4,786.0 603.5,786.9 628.2,789.3 641.4,791.6 653.4,794.7 661.6,797.9 670.2,802.9 675.1,804.4 729.2,808.1 746.8,810.3 759.8,812.8 769.3,815.3 776.6,818.3 780.8,821.2 781.9,822.9 782.1,824.6 781.1,826.8 778.9,828.7 770.6,832.6 756.9,836.0 740.9,838.4 720.7,840.1 700.6,840.7 680.0,840.2 661.9,838.6 653.6,837.1 648.5,834.9 647.7,833.8 647.7,832.5 650.3,830.1 656.8,828.6 675.8,828.0 685.9,826.9 692.5,825.1 693.9,824.2 694.1,823.1 692.1,821.5 686.8,820.0 666.0,817.8 661.3,816.8 659.6,815.4 658.0,810.1 654.0,808.4 644.8,807.7 611.9,807.3 608.2,806.8 600.1,804.1 593.9,802.8 577.1,801.8 565.4,802.5 557.4,803.9 553.1,806.1 552.4,808.9 551.9,809.4 544.0,810.9 510.0,813.1 502.5,812.7 494.2,810.7 487.8,807.7 484.6,804.8 484.1,801.9 486.5,798.8 492.1,795.8 500.1,793.1 510.0,790.9ZM467.7,819.2 492.8,816.2 500.7,816.1 506.9,816.7 524.6,820.7 532.0,823.5 532.0,824.1 530.8,824.7 523.0,826.9 519.3,828.7 518.6,829.7 519.1,830.9 523.0,832.6 531.6,834.1 541.7,834.7 552.5,834.4 569.4,833.1 575.0,833.3 582.5,834.4 589.8,836.1 594.0,837.8 595.6,839.6 594.5,841.3 591.8,842.6 581.1,845.6 564.5,848.0 546.1,849.5 526.4,850.1 505.4,849.7 485.7,848.5 467.5,846.3 453.1,843.4 443.3,840.3 436.8,836.5 435.3,834.8 434.8,832.8 435.3,831.0 437.2,828.9 444.0,825.2 453.6,822.1Z"/>
<path fill="#5c98c6" stroke="#5c98c6" d="M521.8,789.1 508.5,791.2 498.8,793.5 491.2,796.2 486.5,798.8 484.1,801.9 484.6,804.8 487.8,807.7 494.2,810.7 502.5,812.7 510.0,813.1 544.0,810.9 551.9,809.4 552.4,808.9 553.1,806.1 557.4,803.9 565.4,802.5 577.1,801.8 593.9,802.8 600.1,804.1 608.2,806.8 611.9,807.3 644.8,807.7 654.0,808.4 658.0,810.1 659.6,815.4 661.3,816.8 666.0,817.8 686.8,820.0 692.1,821.5 694.1,823.1 693.9,824.2 692.5,825.1 685.9,826.9 675.8,828.0 656.8,828.6 650.3,830.1 647.7,832.5 647.7,833.8 648.5,834.9 653.6,837.1 661.9,838.6 680.0,840.2 700.6,840.7 720.7,840.1 740.9,838.4 756.9,836.0 770.6,832.6 778.9,828.7 781.1,826.8 782.1,824.6 781.9,822.9 780.8,821.2 776.6,818.3 769.3,815.3 759.8,812.8 746.8,810.3 729.2,808.1 675.1,804.4 670.2,802.9 661.6,797.9 653.4,794.7 641.4,791.6 626.3,789.1 601.1,786.7 573.9,785.9 546.6,786.7ZM531.6,789.7 550.7,788.1 572.0,787.5 592.0,787.8 610.4,789.1 627.2,791.3 640.4,794.1 649.1,797.7 651.0,799.3 651.5,801.0 649.4,802.9 643.0,804.7 633.3,805.8 618.5,806.5 608.5,806.1 599.2,803.6 590.5,802.3 580.2,801.7 569.2,802.0 561.4,802.9 555.8,804.2 552.6,805.8 550.5,808.6 546.3,809.6 531.4,810.3 514.7,809.9 504.0,808.3 497.3,805.9 495.2,804.6 493.9,803.0 493.7,801.4 494.6,799.8 499.6,796.6 507.3,793.9 519.0,791.4ZM680.1,809.5 693.2,808.7 710.0,808.9 728.3,810.1 743.9,812.1 756.6,814.6 766.4,817.7 772.0,821.1 773.4,823.0 773.6,824.8 772.6,826.6 770.6,828.4 763.1,831.8 750.7,834.9 736.4,837.0 718.4,838.5 700.0,838.9 682.9,838.4 667.9,836.9 661.5,835.6 656.9,833.9 654.9,831.8 655.1,830.7 656.3,829.8 661.1,828.9 684.6,827.3 691.8,825.6 694.6,823.7 694.5,822.9 693.3,821.8 688.7,820.2 667.8,817.4 665.3,816.5 665.0,815.8 665.5,814.7 668.8,812.4 674.4,810.5ZM467.4,819.3 453.6,822.1 444.0,825.2 437.2,828.9 435.3,831.0 434.8,832.8 435.3,834.8 436.8,836.5 443.3,840.3 453.1,843.4 467.5,846.3 485.7,848.5 505.4,849.7 526.4,850.1 546.1,849.5 564.5,848.0 581.1,845.6 591.8,842.6 594.5,841.3 595.6,839.6 594.0,837.8 589.8,836.1 582.5,834.4 575.0,833.3 569.4,833.1 552.5,834.4 541.7,834.7 531.6,834.1 523.0,832.6 519.1,830.9 518.6,829.7 519.3,828.7 523.0,826.9 530.8,824.7 532.0,824.1 532.0,823.5 524.6,820.7 506.9,816.7 500.7,816.1 492.8,816.2ZM471.3,821.5 482.2,820.3 495.1,819.7 506.8,820.1 517.6,821.4 525.5,822.9 528.4,824.2 528.0,824.9 521.3,827.2 518.3,829.1 518.1,830.3 518.7,831.0 522.6,832.7 531.2,834.2 541.2,834.8 571.7,833.9 581.4,836.3 584.0,837.9 584.6,839.4 583.8,840.5 581.5,841.9 572.3,844.5 557.6,846.7 541.3,847.9 524.2,848.4 506.3,848.1 490.0,847.0 473.7,845.1 460.7,842.5 451.9,839.9 445.8,836.7 444.3,835.1 443.6,833.2 444.0,831.4 445.3,829.8 450.9,826.6 459.4,823.9Z"/>
<path fill="#538dc0" stroke="#538dc0" d="M531.4,789.7 519.0,791.4 507.3,793.9 498.7,797.0 494.5,800.0 493.7,801.4 493.9,803.0 495.2,804.6 497.3,805.9 504.0,808.3 514.7,809.9 531.4,810.3 546.3,809.6 550.5,808.6 552.6,805.8 555.8,804.2 561.4,802.9 569.2,802.0 580.2,801.7 590.5,802.3 599.2,803.6 608.5,806.1 618.5,806.5 633.3,805.8 643.0,804.7 649.4,802.9 651.5,801.0 651.0,799.3 649.1,797.7 640.4,794.1 627.2,791.3 610.4,789.1 589.4,787.7 569.1,787.5 549.2,788.2ZM533.5,791.1 549.4,789.6 567.3,788.9 585.6,789.0 602.6,790.0 618.3,791.8 630.6,794.2 638.2,796.9 640.3,798.3 641.0,800.0 639.6,801.7 635.5,803.3 619.3,805.5 608.7,805.5 598.2,803.2 588.7,802.0 573.8,801.7 564.7,802.3 556.6,803.8 553.3,804.9 549.5,807.8 547.1,808.5 534.9,809.1 521.9,808.5 512.7,807.2 506.4,805.4 502.7,803.1 502.0,801.5 502.5,800.1 506.4,797.3 512.7,794.9 522.6,792.7ZM470.4,821.7 458.0,824.2 449.9,827.0 445.0,830.1 443.9,831.5 443.6,833.4 444.3,835.1 445.8,836.7 451.9,839.9 460.7,842.5 473.7,845.1 490.0,847.0 506.3,848.1 524.2,848.4 541.3,847.9 557.6,846.7 572.3,844.5 581.5,841.9 583.8,840.5 584.6,839.4 584.0,837.9 581.4,836.3 571.7,833.9 541.2,834.8 531.2,834.2 522.6,832.7 518.7,831.0 518.1,830.3 518.3,829.1 521.3,827.2 528.0,824.9 528.4,824.2 525.5,822.9 517.6,821.4 506.8,820.1 495.1,819.7 482.2,820.3ZM475.3,823.2 485.4,822.1 496.7,821.6 508.0,822.0 518.6,823.0 523.4,823.9 525.2,824.8 519.0,828.0 517.5,829.5 518.3,831.0 522.3,832.7 528.8,834.0 538.1,834.8 568.8,834.5 574.8,836.3 576.3,837.4 576.8,838.5 576.2,839.6 574.0,841.1 566.3,843.3 553.7,845.3 540.0,846.4 523.8,846.9 508.6,846.6 493.7,845.7 479.3,844.0 467.7,841.8 458.8,839.2 453.6,836.4 451.5,833.5 451.7,831.9 452.6,830.6 457.1,827.8 465.5,825.1ZM679.3,809.6 673.1,810.8 668.8,812.4 665.5,814.7 665.0,815.8 665.3,816.5 667.8,817.4 688.7,820.2 693.3,821.8 694.5,822.9 694.6,823.7 691.8,825.6 684.6,827.3 661.1,828.9 656.3,829.8 655.1,830.7 654.9,831.8 656.9,833.9 661.5,835.6 667.9,836.9 682.9,838.4 700.0,838.9 718.4,838.5 736.4,837.0 750.7,834.9 763.1,831.8 770.6,828.4 772.6,826.6 773.6,824.8 773.4,823.0 772.0,821.1 766.4,817.7 756.6,814.6 743.9,812.1 728.3,810.1 710.0,808.9 693.2,808.7ZM686.5,811.4 699.8,810.7 714.5,810.9 728.5,812.0 741.8,813.8 752.5,816.1 759.6,818.4 764.5,821.3 765.7,822.9 766.0,824.6 765.2,826.2 763.0,828.1 756.3,831.1 745.2,833.8 732.6,835.7 716.8,836.9 699.5,837.3 684.6,836.8 672.0,835.4 662.3,832.9 660.2,831.4 660.5,830.0 665.1,829.0 686.7,827.1 692.2,825.7 694.9,824.0 695.1,823.2 694.5,822.2 690.5,820.5 672.9,817.7 669.7,816.7 669.6,816.1 670.8,815.1 674.8,813.5Z"/>
<path fill="#4c83bb" stroke="#4c83bb" d="M532.9,791.1 521.0,793.0 511.5,795.3 505.5,797.7 502.4,800.3 502.1,801.8 502.7,803.2 506.4,805.4 512.7,807.2 521.9,808.5 534.9,809.1 547.1,808.5 549.5,807.8 553.3,804.9 556.6,803.8 564.7,802.3 573.8,801.7 588.7,802.0 598.2,803.2 608.7,805.5 619.3,805.5 635.5,803.3 639.6,801.7 641.0,800.0 640.3,798.3 638.2,796.9 630.6,794.2 618.3,791.8 602.6,790.0 585.6,789.0 567.3,788.9 549.4,789.6ZM537.5,792.1 552.4,790.7 567.9,790.1 584.1,790.2 599.6,791.1 613.3,792.7 624.0,794.8 630.5,797.2 632.4,798.6 632.8,799.7 631.5,801.4 628.7,802.6 615.7,804.8 608.6,804.9 589.1,801.9 573.4,801.6 564.3,802.3 557.6,803.4 552.8,804.8 548.9,807.1 546.4,807.8 539.8,808.2 529.3,807.7 519.8,806.5 513.3,804.8 509.8,802.5 509.4,801.4 509.7,800.2 512.6,797.9 518.9,795.5 527.3,793.6ZM475.2,823.2 464.1,825.4 457.1,827.8 452.6,830.6 451.7,831.9 451.5,833.5 453.6,836.4 458.8,839.2 467.7,841.8 479.3,844.0 493.7,845.7 508.6,846.6 523.8,846.9 540.0,846.4 553.7,845.3 566.3,843.3 574.0,841.1 576.2,839.6 576.8,838.5 576.3,837.4 574.8,836.3 568.8,834.5 538.1,834.8 528.8,834.0 522.3,832.7 518.3,831.0 517.5,829.5 519.0,828.0 525.2,824.8 523.4,823.9 518.6,823.0 508.0,822.0 496.7,821.6 485.4,822.1ZM485.0,823.8 503.1,823.1 518.8,824.2 522.3,825.4 517.7,828.3 517.0,830.1 518.6,831.6 522.0,832.8 528.5,834.1 537.4,834.8 563.9,834.8 568.6,835.8 570.1,836.7 570.6,837.9 568.6,840.0 561.2,842.3 550.5,844.0 536.7,845.1 522.3,845.5 506.6,845.1 492.5,844.0 480.9,842.5 471.4,840.5 464.2,838.2 459.6,835.3 458.6,833.7 458.7,832.4 461.0,829.8 466.9,827.2 475.5,825.1ZM685.8,811.5 674.8,813.5 670.8,815.1 669.6,816.1 669.7,816.7 672.9,817.7 690.5,820.5 694.5,822.2 695.1,823.8 692.2,825.7 686.7,827.1 665.1,829.0 660.5,830.0 660.2,831.4 662.3,832.9 672.0,835.4 684.6,836.8 699.5,837.3 716.8,836.9 732.6,835.7 745.2,833.8 756.3,831.1 763.0,828.1 765.2,826.2 766.0,824.6 765.7,822.9 764.5,821.3 759.6,818.4 751.1,815.7 740.0,813.5 726.3,811.8 711.9,810.8 697.7,810.7ZM687.5,813.0 697.6,812.3 710.5,812.3 725.1,813.2 736.7,814.7 746.1,816.7 753.3,819.0 758.0,821.9 759.0,824.4 758.2,826.1 756.5,827.6 751.0,830.1 741.7,832.6 729.3,834.4 716.0,835.6 701.9,836.0 687.7,835.5 675.0,834.2 666.5,832.0 664.6,830.7 665.0,829.8 687.1,827.1 692.6,825.7 695.5,823.9 694.9,822.2 692.2,820.8 673.7,816.8 674.5,815.8 677.9,814.7Z"/>
<path fill="#4576a9" stroke="#4576a9" d="M535.9,792.3 525.8,793.9 517.7,795.9 511.9,798.3 509.4,800.7 510.2,803.0 514.4,805.2 521.4,806.8 529.3,807.7 539.8,808.2 546.4,807.8 548.9,807.1 552.8,804.8 557.6,803.4 564.3,802.3 573.4,801.6 589.1,801.9 608.6,804.9 615.7,804.8 628.7,802.6 631.5,801.4 632.8,799.7 632.4,798.6 630.5,797.2 622.7,794.5 611.5,792.4 597.4,790.9 582.4,790.2 565.0,790.2 550.1,790.9ZM543.2,792.8 570.4,791.2 597.0,792.2 608.8,793.5 618.0,795.4 624.3,797.7 625.6,798.7 626.0,799.8 624.8,801.3 622.1,802.5 612.5,804.2 606.3,804.1 587.3,801.7 573.0,801.5 565.8,802.0 557.2,803.3 545.9,807.1 533.3,807.0 525.8,806.0 519.3,804.2 516.4,802.4 515.9,801.3 516.3,800.1 519.3,797.9 524.7,796.0 533.3,794.1ZM484.8,823.8 475.5,825.1 466.9,827.2 461.0,829.8 458.7,832.4 458.6,833.7 459.6,835.3 464.2,838.2 471.4,840.5 480.9,842.5 492.5,844.0 506.6,845.1 522.3,845.5 536.7,845.1 550.5,844.0 561.2,842.3 568.6,840.0 570.6,837.9 570.1,836.7 568.6,835.8 563.9,834.8 537.4,834.8 528.5,834.1 522.0,832.8 518.6,831.6 517.0,830.1 517.7,828.3 522.3,825.4 518.8,824.2 503.1,823.1ZM489.3,824.8 505.7,824.2 517.6,825.0 519.7,825.9 516.6,828.8 516.4,830.2 518.1,831.7 521.5,832.9 534.4,834.8 561.5,835.3 564.8,836.2 565.6,837.6 563.1,839.6 556.7,841.5 545.8,843.1 534.0,844.0 509.4,843.9 485.5,841.6 476.1,839.6 470.2,837.6 466.1,835.1 465.2,833.7 465.2,832.4 467.8,829.8 473.0,827.7 480.2,826.0ZM685.9,813.2 676.6,815.0 674.5,815.8 673.7,816.8 692.2,820.8 694.9,822.2 695.5,823.9 692.6,825.7 687.1,827.1 665.0,829.8 664.6,830.7 666.5,832.0 675.0,834.2 687.7,835.5 701.9,836.0 716.0,835.6 729.3,834.4 741.7,832.6 751.0,830.1 756.5,827.6 758.2,826.1 759.0,824.4 758.0,821.9 753.3,819.0 746.1,816.7 734.9,814.5 722.9,813.0 709.4,812.3 697.0,812.4ZM685.0,814.8 695.2,813.8 706.7,813.6 717.8,814.0 730.3,815.4 740.1,817.2 747.5,819.5 751.4,821.9 752.6,824.4 750.6,827.0 745.1,829.6 737.0,831.7 726.5,833.3 701.8,834.7 690.2,834.4 679.1,833.4 670.0,831.4 668.5,830.4 669.0,829.7 689.1,826.9 693.1,825.9 696.1,824.0 695.9,822.6 692.6,820.7 677.9,817.4 677.5,816.8 678.9,816.0Z"/>
<path fill="#3f6a98" stroke="#3f6a98" d="M542.2,792.9 524.7,796.0 519.3,797.9 516.2,800.3 515.9,801.3 516.4,802.4 519.3,804.2 525.8,806.0 533.3,807.0 545.9,807.1 557.2,803.3 565.8,802.0 573.0,801.5 587.3,801.7 606.3,804.1 612.5,804.2 622.1,802.5 624.8,801.3 626.0,799.8 625.6,798.7 624.3,797.7 618.0,795.4 608.8,793.5 597.0,792.2 570.4,791.2 555.0,791.8ZM541.3,794.3 564.7,792.4 590.3,792.8 602.8,794.1 612.5,795.8 618.1,797.7 619.5,798.6 620.2,799.8 619.6,800.9 618.0,801.9 611.6,803.5 606.0,803.6 587.8,801.6 574.9,801.3 565.2,801.9 555.4,803.5 545.5,806.4 539.0,806.5 531.2,805.6 525.7,804.2 522.4,802.5 521.8,800.8 523.8,798.8 527.7,797.2ZM487.6,825.0 478.6,826.3 471.8,828.1 467.1,830.3 465.6,831.7 465.1,833.1 466.3,835.3 470.2,837.6 476.1,839.6 485.5,841.6 509.4,843.9 534.0,844.0 545.8,843.1 556.7,841.5 563.1,839.6 565.6,837.6 564.8,836.2 561.5,835.3 534.4,834.8 521.5,832.9 518.1,831.7 516.4,830.2 516.6,828.8 519.7,825.9 517.6,825.0 502.6,824.2ZM488.2,826.3 501.4,825.2 514.7,825.6 517.3,826.3 515.7,829.2 516.0,830.8 520.8,833.0 533.8,834.9 557.0,835.5 560.3,836.1 561.2,837.2 558.2,839.3 552.8,840.7 534.3,842.8 511.8,842.9 491.7,841.0 483.3,839.5 476.9,837.6 473.2,835.8 471.2,833.6 471.3,832.4 472.1,831.3 475.2,829.4 481.3,827.5ZM684.8,814.8 678.9,816.0 677.5,816.8 677.9,817.4 692.6,820.7 695.9,822.6 696.1,824.0 693.1,825.9 689.1,826.9 669.0,829.7 668.5,830.4 670.0,831.4 679.1,833.4 690.2,834.4 701.8,834.7 726.5,833.3 737.0,831.7 745.1,829.6 750.6,827.0 752.6,824.4 751.4,821.9 747.5,819.5 740.1,817.2 730.3,815.4 717.8,814.0 706.7,813.6 695.2,813.8ZM686.5,815.7 695.0,814.9 706.6,814.7 727.9,816.4 735.9,818.0 742.0,820.0 745.9,822.3 746.6,824.5 745.0,826.6 740.7,828.8 732.8,830.9 724.1,832.3 702.4,833.6 691.6,833.4 680.8,832.4 674.4,831.2 672.5,830.3 672.6,829.8 690.9,826.6 694.7,825.6 696.6,824.1 696.1,821.9 694.4,821.0 681.5,817.7 681.1,817.1 682.0,816.6Z"/>
<path fill="#375c86" stroke="#375c86" d="M540.8,794.4 527.7,797.2 523.8,798.8 521.8,800.8 522.4,802.5 525.7,804.2 531.2,805.6 539.0,806.5 545.5,806.4 555.4,803.5 565.2,801.9 574.9,801.3 587.8,801.6 606.0,803.6 611.6,803.5 618.0,801.9 619.6,800.9 620.2,799.8 619.5,798.6 618.1,797.7 612.5,795.8 602.8,794.1 590.3,792.8 564.7,792.4ZM487.9,826.3 481.3,827.5 475.2,829.4 472.1,831.3 471.3,832.4 471.2,833.6 473.2,835.8 476.9,837.6 483.3,839.5 491.7,841.0 511.8,842.9 534.3,842.8 552.8,840.7 558.2,839.3 561.2,837.2 560.3,836.1 557.0,835.5 533.8,834.9 520.8,833.0 516.0,830.8 515.7,829.2 517.3,826.3 514.7,825.6 501.4,825.2ZM686.5,815.7 682.0,816.6 681.1,817.1 681.5,817.7 694.4,821.0 696.1,821.9 696.6,824.1 694.7,825.6 690.9,826.6 672.6,829.8 672.5,830.3 674.4,831.2 680.8,832.4 691.6,833.4 702.4,833.6 724.1,832.3 732.8,830.9 740.7,828.8 745.0,826.6 746.6,824.5 745.9,822.3 742.0,820.0 735.9,818.0 727.9,816.4 706.6,814.7 695.0,814.9Z"/>
</g>
<path d="M532.4,754.0 L530.6,182.9 M93.5,750.7 L596.7,666.3 M661.3,754.0 L661.7,182.7 M596.7,666.3 L1101.2,750.5 M532.4,754.0 L1035.9,845.3 M661.3,754.0 L158.9,845.4 M444.6,769.7 L441.4,191.5 M91.9,641.5 L596.6,564.3 M749.3,769.6 L751.0,191.1 M596.6,564.3 L1102.6,641.1 M444.6,769.7 L948.2,863.4 M749.3,769.6 L246.4,863.4 M354.5,785.7 L349.8,200.5 M90.2,531.7 L596.5,461.7 M839.5,785.7 L842.8,199.8 M596.5,461.7 L1104.1,531.1 M354.5,785.7 L858.1,882.0 M839.5,785.7 L336.3,882.0 M262.2,802.2 L255.9,209.6 M88.5,421.2 L596.3,358.5 M932.1,802.2 L936.9,208.7 M596.3,358.5 L1105.5,420.3 M262.2,802.2 L765.5,901.1 M932.1,802.2 L428.9,901.1 M167.5,819.1 L159.5,219.0 M86.8,310.0 L596.2,254.7 M1027.2,819.1 L1033.7,217.9 M596.2,254.7 L1106.9,308.9 M167.5,819.1 L670.4,920.7 M1027.2,819.1 L524.0,920.7" stroke="#b0b0b0" stroke-opacity="0.2" stroke-width="1.2" fill="none"/>
<path d="M94.8,832.1 L85.5,226.2 M94.8,832.1 L597.2,935.8 M597.2,935.8 L1100.2,832.1" stroke="#3a3a3a" stroke-width="1.4" fill="none"/>
<path d="     M98.0,749.9 L86.7,751.8 M164.8,844.3 L146.6,847.6 M1030.0,844.3 L1048.3,847.6 M96.3,640.8 L85.0,642.6 M252.3,862.3 L234.1,865.7 M942.3,862.3 L960.6,865.7 M94.6,531.1 L83.3,532.6 M342.2,880.9 L324.0,884.3 M852.2,880.9 L870.5,884.4 M93.0,420.6 L81.6,422.0 M434.8,899.9 L416.5,903.5 M759.6,899.9 L777.9,903.5 M91.3,309.5 L79.9,310.8 M529.9,919.5 L511.7,923.2 M664.4,919.5 L682.7,923.2" stroke="#3a3a3a" stroke-width="1.4" fill="none"/>
<text transform="translate(66,327.6) scale(0.915,1)" text-anchor="middle" style="font-family:'DejaVu Sans','Liberation Sans',sans-serif;font-size:23.7px">4</text>
<text transform="translate(68,438.6) scale(0.915,1)" text-anchor="middle" style="font-family:'DejaVu Sans','Liberation Sans',sans-serif;font-size:23.7px">2</text>
<text transform="translate(70,549.6) scale(0.915,1)" text-anchor="middle" style="font-family:'DejaVu Sans','Liberation Sans',sans-serif;font-size:23.7px">0</text>
<text transform="translate(71,660.1) scale(0.915,1)" text-anchor="middle" style="font-family:'DejaVu Sans','Liberation Sans',sans-serif;font-size:23.7px">−2</text>
<text transform="translate(75,768.1) scale(0.915,1)" text-anchor="middle" style="font-family:'DejaVu Sans','Liberation Sans',sans-serif;font-size:23.7px">−4</text>
<text transform="translate(149,877.6) scale(0.915,1)" text-anchor="middle" style="font-family:'DejaVu Sans','Liberation Sans',sans-serif;font-size:23.7px">−4</text>
<text transform="translate(236,896.2) scale(0.915,1)" text-anchor="middle" style="font-family:'DejaVu Sans','Liberation Sans',sans-serif;font-size:23.7px">−2</text>
<text transform="translate(325,914.6) scale(0.915,1)" text-anchor="middle" style="font-family:'DejaVu Sans','Liberation Sans',sans-serif;font-size:23.7px">0</text>
<text transform="translate(418,934.6) scale(0.915,1)" text-anchor="middle" style="font-family:'DejaVu Sans','Liberation Sans',sans-serif;font-size:23.7px">2</text>
<text transform="translate(513,954.6) scale(0.915,1)" text-anchor="middle" style="font-family:'DejaVu Sans','Liberation Sans',sans-serif;font-size:23.7px">4</text>
<text transform="translate(682.5,953.1) scale(0.915,1)" text-anchor="middle" style="font-family:'DejaVu Sans','Liberation Sans',sans-serif;font-size:23.7px">4</text>
<text transform="translate(776.5,934.2) scale(0.915,1)" text-anchor="middle" style="font-family:'DejaVu Sans','Liberation Sans',sans-serif;font-size:23.7px">2</text>
<text transform="translate(869,914.6) scale(0.915,1)" text-anchor="middle" style="font-family:'DejaVu Sans','Liberation Sans',sans-serif;font-size:23.7px">0</text>
<text transform="translate(959.4,896.6) scale(0.915,1)" text-anchor="middle" style="font-family:'DejaVu Sans','Liberation Sans',sans-serif;font-size:23.7px">−2</text>
<text transform="translate(1046.4,878.3) scale(0.915,1)" text-anchor="middle" style="font-family:'DejaVu Sans','Liberation Sans',sans-serif;font-size:23.7px">−4</text>
<text transform="translate(297.5,939) rotate(12)" x="0" y="10.5" text-anchor="middle" style="font-family:'DejaVu Sans','Liberation Sans',sans-serif;font-size:31.5px">y (Å)</text>
<text transform="translate(897.5,933) rotate(-12)" x="0" y="10.5" text-anchor="middle" style="font-family:'DejaVu Sans','Liberation Sans',sans-serif;font-size:31.5px">x (Å)</text>
<text transform="translate(16.5,534) rotate(90)" x="0" y="11" text-anchor="middle" style="font-family:'DejaVu Sans','Liberation Sans',sans-serif;font-size:32px">z (Å)</text>
<g>
<rect x="1188.1" y="164.00" width="37.8" height="22.80" fill="#3a5e88"/>
<rect x="1188.1" y="186.50" width="37.8" height="22.80" fill="#416c9a"/>
<rect x="1188.1" y="209.00" width="37.8" height="22.80" fill="#4778ab"/>
<rect x="1188.1" y="231.50" width="37.8" height="22.80" fill="#4e85bd"/>
<rect x="1188.1" y="254.00" width="37.8" height="22.80" fill="#558fc2"/>
<rect x="1188.1" y="276.50" width="37.8" height="22.80" fill="#5e9ac8"/>
<rect x="1188.1" y="299.00" width="37.8" height="22.80" fill="#65a4cd"/>
<rect x="1188.1" y="321.50" width="37.8" height="22.80" fill="#75b0d3"/>
<rect x="1188.1" y="344.00" width="37.8" height="22.80" fill="#86bbd9"/>
<rect x="1188.1" y="366.50" width="37.8" height="22.80" fill="#9ac8e0"/>
<rect x="1188.1" y="389.00" width="37.8" height="22.80" fill="#add3e6"/>
<rect x="1188.1" y="411.50" width="37.8" height="22.80" fill="#bbdaea"/>
<rect x="1188.1" y="434.00" width="37.8" height="22.80" fill="#cae2ee"/>
<rect x="1188.1" y="456.50" width="37.8" height="22.80" fill="#d8e9f2"/>
<rect x="1188.1" y="479.00" width="37.8" height="22.80" fill="#e3eef5"/>
<rect x="1188.1" y="501.50" width="37.8" height="22.80" fill="#ebf2f6"/>
<rect x="1188.1" y="524.00" width="37.8" height="22.80" fill="#f4f7f8"/>
<rect x="1188.1" y="546.50" width="37.8" height="22.80" fill="#f9f6f3"/>
<rect x="1188.1" y="569.00" width="37.8" height="22.80" fill="#fbeee7"/>
<rect x="1188.1" y="591.50" width="37.8" height="22.80" fill="#fce8dd"/>
<rect x="1188.1" y="614.00" width="37.8" height="22.80" fill="#fde1d0"/>
<rect x="1188.1" y="636.50" width="37.8" height="22.80" fill="#fbd5c1"/>
<rect x="1188.1" y="659.00" width="37.8" height="22.80" fill="#f9c7b0"/>
<rect x="1188.1" y="681.50" width="37.8" height="22.80" fill="#f7bba0"/>
<rect x="1188.1" y="704.00" width="37.8" height="22.80" fill="#f1ab92"/>
<rect x="1188.1" y="726.50" width="37.8" height="22.80" fill="#ea9c86"/>
<rect x="1188.1" y="749.00" width="37.8" height="22.80" fill="#e38b79"/>
<rect x="1188.1" y="771.50" width="37.8" height="22.80" fill="#db796d"/>
<rect x="1188.1" y="794.00" width="37.8" height="22.80" fill="#d36966"/>
<rect x="1188.1" y="816.50" width="37.8" height="22.80" fill="#ca575d"/>
<rect x="1188.1" y="839.00" width="37.8" height="22.80" fill="#c24756"/>
<rect x="1188.1" y="861.50" width="37.8" height="22.80" fill="#b04153"/>
<rect x="1188.1" y="884.00" width="37.8" height="22.80" fill="#9f3b50"/>
<rect x="1188.1" y="906.50" width="37.8" height="22.80" fill="#8c354d"/>
<rect x="1188.1" y="164.0" width="37.8" height="765.0" fill="none" stroke="#333" stroke-width="1.3"/>
<text transform="translate(1236,915.1) scale(0.915,1)" style="font-family:'DejaVu Sans','Liberation Sans',sans-serif;font-size:23.7px">−16</text>
<text transform="translate(1236,825.1) scale(0.915,1)" style="font-family:'DejaVu Sans','Liberation Sans',sans-serif;font-size:23.7px">−12</text>
<text transform="translate(1236,735.1) scale(0.915,1)" style="font-family:'DejaVu Sans','Liberation Sans',sans-serif;font-size:23.7px">−8</text>
<text transform="translate(1236,645.1) scale(0.915,1)" style="font-family:'DejaVu Sans','Liberation Sans',sans-serif;font-size:23.7px">−4</text>
<text transform="translate(1236,555.1) scale(0.915,1)" style="font-family:'DejaVu Sans','Liberation Sans',sans-serif;font-size:23.7px">0</text>
<text transform="translate(1236,465.1) scale(0.915,1)" style="font-family:'DejaVu Sans','Liberation Sans',sans-serif;font-size:23.7px">4</text>
<text transform="translate(1236,375.1) scale(0.915,1)" style="font-family:'DejaVu Sans','Liberation Sans',sans-serif;font-size:23.7px">8</text>
<text transform="translate(1236,285.1) scale(0.915,1)" style="font-family:'DejaVu Sans','Liberation Sans',sans-serif;font-size:23.7px">12</text>
<text transform="translate(1236,195.1) scale(0.915,1)" style="font-family:'DejaVu Sans','Liberation Sans',sans-serif;font-size:23.7px">16</text>
<path d="M1225.9,906.5 h3.8 M1225.9,816.5 h3.8 M1225.9,726.5 h3.8 M1225.9,636.5 h3.8 M1225.9,546.5 h3.8 M1225.9,456.5 h3.8 M1225.9,366.5 h3.8 M1225.9,276.5 h3.8 M1225.9,186.5 h3.8" stroke="#333" stroke-width="1.3"/>
<text transform="translate(1334.5,552.2) rotate(-90) scale(1,0.915)" text-anchor="middle" style="font-family:'DejaVu Sans','Liberation Sans',sans-serif;font-size:34.5px">Potential energy (eV)</text>
</g>
<defs>
<radialGradient id="gF" cx="0.38" cy="0.35" r="0.7"><stop offset="0" stop-color="#a6e85a"/><stop offset="0.55" stop-color="#7ccf36"/><stop offset="1" stop-color="#5ea826"/></radialGradient>
<radialGradient id="gC" cx="0.38" cy="0.35" r="0.7"><stop offset="0" stop-color="#666"/><stop offset="0.6" stop-color="#4a4a4a"/><stop offset="1" stop-color="#353535"/></radialGradient>
<linearGradient id="gBondG" x1="0" y1="0" x2="0" y2="1"><stop offset="0" stop-color="#8ad845"/><stop offset="1" stop-color="#5ea826"/></linearGradient>
</defs>
<line x1="597.1" y1="531.0" x2="585.7" y2="513.0" stroke="#474747" stroke-width="5.2"/>
<line x1="585.7" y1="513.0" x2="574.2" y2="495.1" stroke="#72c431" stroke-width="5.2"/>
<circle cx="574.2" cy="495.1" r="11.5" fill="url(#gF)"/>
<line x1="597.1" y1="531.0" x2="569.6" y2="523.4" stroke="#474747" stroke-width="6.5"/>
<line x1="569.6" y1="523.4" x2="542.1" y2="515.8" stroke="#72c431" stroke-width="6.5"/>
<line x1="597.1" y1="531.0" x2="636.0" y2="519.2" stroke="#474747" stroke-width="7.0"/>
<line x1="636.0" y1="519.2" x2="675.0" y2="507.4" stroke="#72c431" stroke-width="7.0"/>
<line x1="597.1" y1="531.0" x2="597.1" y2="568.8" stroke="#474747" stroke-width="6.3"/>
<line x1="597.1" y1="568.8" x2="597.1" y2="606.6" stroke="#72c431" stroke-width="6.3"/>
<circle cx="597.1" cy="531.0" r="14.5" fill="url(#gC)"/>
<circle cx="542.1" cy="515.8" r="15.3" fill="url(#gF)"/>
<circle cx="675.0" cy="507.4" r="13.7" fill="url(#gF)"/>
<circle cx="597.1" cy="606.6" r="12.7" fill="url(#gF)"/>
<path d="M830.5,494 L830.5,444.7 M830.5,425 L830.5,419.5 M830.5,400 L830.5,349.7 M830.5,331 L830.5,325.5 M830.5,305 L830.5,256 M830.5,236.5 L830.5,231" stroke="#0070c0" stroke-width="6" fill="none" stroke-linecap="butt"/>
<path d="M818.7,225.5 L830.8,203 L843,225.5" stroke="#0070c0" stroke-width="5.5" fill="none" stroke-linecap="round" stroke-linejoin="miter"/>
<path d="M832.5,493.0 L843.4,446.8 M847.6,428.7 L849.0,422.9 M854.0,401.5 L865.0,354.8 M869.4,335.8 L870.8,329.9 M875.5,310.0 L886.7,262.3 M890.6,245.7 L891.9,239.9" stroke="#000" stroke-width="5.5" fill="none" stroke-linecap="butt"/>
<path d="M832,361 L838.6,361" stroke="#000" stroke-width="5.7" fill="none" stroke-linecap="butt"/>
<path d="M845.3,352.1 L840.2,370.4 L858.8,365 Z" fill="#000"/>
<path d="M830.5,494.5 L880.7,487.5 M899.4,485.2 L905.3,484.4 M924,481 L973,474.6 M992.9,471.4 L998.7,470.6 M1017.4,468 L1066.4,460.6" stroke="#ff00ff" stroke-width="5.2" fill="none" stroke-linecap="butt"/>
<path d="M830.5,495.6 L846.9,541.2 M851.2,560.3 L853.4,565.4 M858.5,584.4 L874.6,631.4 M880.2,650.8 L882.4,656.2 M887.4,674.8 L903.2,721.3 M908.8,740.4 L910.6,745.6 M916,764.7 L924,785.5" stroke="#00b050" stroke-width="5.4" fill="none" stroke-linecap="butt"/>
<path d="M830.5,392.8 L843.4,396.4 L857.4,402.2 L870.2,409.2 L881.9,417.4 L892.4,426.7 L901.8,437.2 L909.9,447.7 L916.5,460" stroke="#ff00ff" stroke-width="6.2" fill="none" stroke-dasharray="6.2 5.6"/>
<path d="M911,467.6 L927.5,461.8 L924,479.3 Z" fill="#ff00ff"/>
<path d="M832.8,436 L845.7,440.7 L858.5,446.6 L870.2,454.7 L883,466.4 L894.7,480.4 L902.9,496.8 L906.4,515.5 L906.9,534.2 L905.3,552.9 L900.6,571.5 L891,591" stroke="#00b050" stroke-width="6.2" fill="none" stroke-dasharray="6.2 5.6"/>
<path d="M873.7,594.9 L890,605.4 L871.4,612.4 Z" fill="#00b050"/>
<text x="839.3" y="270.2" style="font-family:'Liberation Serif','DejaVu Serif',serif;font-weight:bold;font-size:30.5px">15</text>
<text x="872.2" y="259.8" style="font-family:'Liberation Serif','DejaVu Serif',serif;font-style:italic;font-weight:bold;font-size:25px">o</text>
<text transform="translate(893.2,275.8) scale(0.9,1)" stroke="#000" stroke-width="0.6" style="font-family:'Liberation Sans','DejaVu Sans',sans-serif;font-weight:bold;font-size:33.5px">A</text>
<text x="1015.3" y="451.7" fill="#ff00ff" style="font-family:'Liberation Serif','DejaVu Serif',serif;font-weight:bold;font-size:30.5px">68</text>
<text x="1049.3" y="441.8" fill="#ff00ff" style="font-family:'Liberation Serif','DejaVu Serif',serif;font-style:italic;font-weight:bold;font-size:25px">o</text>
<text transform="translate(1044.6,494.8) scale(0.74,1)" fill="#ff00ff" stroke="#ff00ff" stroke-width="1.1" style="font-family:'Liberation Sans','DejaVu Sans',sans-serif;font-weight:bold;font-size:33.2px">B</text>
<text transform="translate(882.5,766.3) scale(0.77,1)" fill="#00b050" stroke="#00b050" stroke-width="1.1" style="font-family:'Liberation Sans','DejaVu Sans',sans-serif;font-weight:bold;font-size:33px">C</text>
<text x="920.4" y="757.2" fill="#00b050" style="font-family:'Liberation Serif','DejaVu Serif',serif;font-weight:bold;font-size:30.5px">165</text>
<text x="970.6" y="746.2" fill="#00b050" style="font-family:'Liberation Serif','DejaVu Serif',serif;font-style:italic;font-weight:bold;font-size:25px">o</text>
<text x="105" y="283" style="font-family:'Liberation Sans',sans-serif;font-size:56px">a)</text>
<defs><clipPath id="cb"><rect x="1445.8" y="18.3" width="537.6000000000001" height="432.9"/></clipPath><clipPath id="cc"><rect x="1445.6" y="587.3" width="536.4" height="433.5"/></clipPath></defs>
<g clip-path="url(#cb)" fill="none" stroke-width="5" stroke-linejoin="round">
<path d="M1731.7,451.0 L1732.9,438.9 L1734.2,426.7 L1735.4,414.4 L1736.6,402.1 L1737.8,390.0 L1739.1,378.0 L1740.3,366.3 L1741.6,354.9 L1742.9,343.8 L1744.2,332.9 L1745.6,322.2 L1747.0,311.7 L1748.3,301.4 L1749.7,291.4 L1751.1,281.6 L1752.4,272.0 L1753.7,262.6 L1755.1,253.3 L1756.4,244.2 L1757.7,235.4 L1759.0,226.9 L1760.3,218.7 L1761.7,211.0 L1763.0,203.8 L1764.4,197.1 L1765.7,190.9 L1767.1,185.2 L1768.5,179.8 L1769.9,174.7 L1771.3,169.9 L1772.6,165.2 L1774.0,160.7 L1775.3,156.4 L1776.6,152.4 L1777.9,148.7 L1779.1,145.2 L1780.4,141.9 L1781.8,138.6 L1783.2,135.3 L1784.7,132.0 L1786.3,128.6 L1788.0,125.1 L1789.8,121.6 L1791.6,118.2 L1793.5,115.0 L1795.3,111.9 L1797.2,109.1 L1799.0,106.7 L1800.8,104.6 L1802.6,102.8 L1804.4,101.2 L1806.2,99.9 L1808.1,98.7 L1809.9,97.7 L1811.7,96.8 L1813.5,96.0 L1815.3,95.3 L1817.1,94.8 L1818.9,94.4 L1820.7,94.1 L1822.5,94.0 L1824.3,93.9 L1826.1,94.0 L1827.9,94.2 L1829.6,94.5 L1831.3,94.8 L1832.9,95.3 L1834.5,95.9 L1836.2,96.6 L1837.9,97.4 L1839.9,98.4 L1842.0,99.6 L1844.3,100.9 L1846.8,102.4 L1849.5,104.0 L1852.2,105.8 L1855.0,107.7 L1857.9,109.7 L1860.9,111.8 L1863.8,114.0 L1866.8,116.3 L1869.9,118.9 L1873.0,121.5 L1876.2,124.3 L1879.4,127.1 L1882.6,130.0 L1885.8,132.8 L1889.0,135.5 L1892.2,138.2 L1895.4,140.9 L1898.6,143.6 L1901.8,146.2 L1905.0,148.9 L1908.2,151.6 L1911.2,154.3 L1914.2,157.0 L1917.1,159.7 L1919.8,162.5 L1922.5,165.3 L1925.2,168.1 L1927.8,170.8 L1930.4,173.5 L1933.0,176.2 L1935.7,178.7 L1938.4,181.1 L1941.0,183.4 L1943.6,185.5 L1946.2,187.7 L1948.9,189.8 L1951.6,192.0 L1954.4,194.2 L1957.3,196.6 L1960.4,199.1 L1963.5,201.7 L1966.8,204.4 L1970.2,207.2 L1973.5,209.9 L1976.9,212.7 L1980.3,215.5 L1983.6,218.2" stroke="#1ee81e"/>
<path d="M1516.0,451.0 L1518.2,442.4 L1520.5,433.5 L1522.8,424.5 L1525.0,415.6 L1527.2,406.8 L1529.5,398.5 L1531.8,390.7 L1534.0,383.6 L1536.2,377.3 L1538.4,371.7 L1540.6,366.6 L1542.8,361.8 L1545.0,357.4 L1547.3,353.0 L1549.6,348.6 L1552.0,344.0 L1554.5,339.3 L1557.0,334.7 L1559.6,330.1 L1562.3,325.5 L1565.0,321.1 L1567.8,316.7 L1570.6,312.3 L1573.5,308.0 L1576.5,303.7 L1579.7,299.5 L1583.0,295.3 L1586.3,291.2 L1589.6,287.1 L1592.8,283.2 L1595.9,279.4 L1598.7,275.7 L1601.3,272.3 L1603.7,269.1 L1605.9,266.1 L1608.1,263.2 L1610.2,260.2 L1612.3,257.2 L1614.4,254.0 L1616.6,250.6 L1618.8,246.9 L1621.0,243.1 L1623.2,239.1 L1625.4,235.0 L1627.6,230.8 L1629.8,226.5 L1632.2,222.3 L1634.6,218.0 L1637.1,213.7 L1639.7,209.4 L1642.3,205.0 L1645.0,200.6 L1647.7,196.1 L1650.5,191.6 L1653.3,187.0 L1656.2,182.3 L1659.2,177.5 L1662.3,172.4 L1665.5,167.3 L1668.8,162.1 L1672.1,156.9 L1675.3,151.9 L1678.4,147.2 L1681.4,142.7 L1684.3,138.5 L1687.1,134.5 L1689.8,130.7 L1692.4,127.0 L1695.1,123.5 L1697.7,120.2 L1700.3,117.0 L1703.0,114.0 L1705.6,111.1 L1708.2,108.4 L1710.8,105.9 L1713.4,103.5 L1716.0,101.3 L1718.7,99.3 L1721.5,97.5 L1724.5,96.0 L1727.8,94.8 L1731.3,93.8 L1735.1,93.0 L1738.9,92.5 L1742.7,92.1 L1746.2,91.9 L1749.5,91.7 L1752.4,91.6 L1754.8,91.5 L1756.7,91.5 L1758.3,91.5 L1759.7,91.7 L1761.1,92.1 L1762.7,92.6 L1764.5,93.3 L1766.7,94.2 L1769.4,95.4 L1772.3,96.9 L1775.5,98.7 L1778.9,100.6 L1782.3,102.6 L1785.7,104.6 L1788.9,106.6 L1792.0,108.5 L1794.8,110.3 L1797.6,112.0 L1800.2,113.8 L1802.8,115.5 L1805.3,117.3 L1808.0,119.1 L1810.7,121.0 L1813.5,123.0 L1816.5,125.1 L1819.5,127.2 L1822.7,129.3 L1825.9,131.6 L1829.1,133.8 L1832.3,136.2 L1835.5,138.6 L1838.7,141.0 L1841.8,143.5 L1845.0,146.2 L1848.1,148.9 L1851.3,151.6 L1854.4,154.4 L1857.5,157.2 L1860.7,159.9 L1863.8,162.5 L1866.9,165.1 L1870.1,167.6 L1873.2,170.1 L1876.4,172.5 L1879.5,175.0 L1882.7,177.4 L1885.8,179.8 L1889.0,182.3 L1892.2,184.8 L1895.4,187.3 L1898.6,189.8 L1901.8,192.4 L1905.0,194.9 L1908.2,197.3 L1911.2,199.7 L1914.2,202.0 L1917.1,204.2 L1919.8,206.3 L1922.5,208.3 L1925.2,210.3 L1927.8,212.3 L1930.4,214.2 L1933.0,216.2 L1935.7,218.2 L1938.4,220.2 L1941.0,222.3 L1943.6,224.4 L1946.2,226.5 L1948.9,228.5 L1951.6,230.6 L1954.4,232.5 L1957.3,234.4 L1960.4,236.2 L1963.5,237.9 L1966.8,239.6 L1970.2,241.2 L1973.5,242.8 L1976.9,244.4 L1980.3,246.1 L1983.6,247.7" stroke="#ff00ff"/>
<path d="M1511.6,451.0 L1513.5,444.7 L1515.3,438.3 L1517.2,431.9 L1519.1,425.5 L1520.9,419.1 L1522.8,413.0 L1524.8,407.1 L1526.7,401.6 L1528.6,396.5 L1530.5,391.7 L1532.4,387.1 L1534.3,382.8 L1536.3,378.5 L1538.4,374.3 L1540.6,370.0 L1543.0,365.6 L1545.5,361.1 L1548.1,356.5 L1550.8,352.0 L1553.6,347.4 L1556.6,342.9 L1559.7,338.4 L1562.9,334.0 L1566.3,329.7 L1569.9,325.4 L1573.8,321.1 L1577.8,316.8 L1581.9,312.6 L1586.2,308.5 L1590.4,304.6 L1594.6,300.8 L1598.7,297.3 L1602.7,294.0 L1606.7,290.9 L1610.7,288.0 L1614.6,285.3 L1618.6,282.7 L1622.7,280.2 L1626.8,277.9 L1631.0,275.7 L1635.3,273.6 L1639.8,271.7 L1644.4,269.9 L1649.0,268.3 L1653.6,266.8 L1658.2,265.5 L1662.7,264.3 L1667.0,263.2 L1671.3,262.3 L1675.6,261.6 L1679.9,261.1 L1684.1,260.7 L1688.2,260.4 L1692.1,260.2 L1695.8,260.1 L1699.3,260.0 L1702.3,260.0 L1704.9,260.1 L1707.2,260.2 L1709.4,260.5 L1711.6,260.8 L1714.0,261.2 L1716.8,261.6 L1720.0,262.0 L1723.8,262.4 L1727.9,262.9 L1732.4,263.4 L1737.0,264.0 L1741.8,264.6 L1746.6,265.2 L1751.4,266.0 L1756.0,266.8 L1760.5,267.7 L1765.0,268.7 L1769.5,269.8 L1774.0,271.0 L1778.5,272.2 L1783.0,273.4 L1787.5,274.6 L1792.0,275.7 L1796.5,276.8 L1801.0,277.9 L1805.5,279.0 L1810.0,280.1 L1814.5,281.2 L1819.0,282.3 L1823.5,283.5 L1828.0,284.7 L1832.5,286.0 L1837.0,287.3 L1841.4,288.7 L1845.9,290.1 L1850.4,291.5 L1854.8,292.9 L1859.3,294.2 L1863.8,295.5 L1868.3,296.7 L1872.8,297.9 L1877.4,299.0 L1881.9,300.1 L1886.4,301.2 L1891.0,302.3 L1895.5,303.4 L1900.0,304.5 L1904.4,305.6 L1908.7,306.8 L1912.9,307.9 L1917.1,309.0 L1921.4,310.1 L1925.9,311.2 L1930.7,312.4 L1935.7,313.5 L1941.1,314.6 L1946.8,315.8 L1952.8,316.9 L1958.9,318.0 L1965.1,319.1 L1971.3,320.2 L1977.5,321.4 L1983.6,322.5" stroke="#000"/>
</g>
<rect x="1445.8" y="18.3" width="537.6000000000001" height="432.9" fill="none" stroke="#222" stroke-width="1.8"/>
<path d="M1438.3,451.2 H1445.8 M1438.3,343.0 H1445.8 M1438.3,234.8 H1445.8 M1438.3,126.5 H1445.8 M1438.3,18.3 H1445.8 M1441.8,397.1 H1445.8 M1441.8,288.9 H1445.8 M1441.8,180.6 H1445.8 M1441.8,72.4 H1445.8 M1445.8,451.2 V458.7 M1573.8,451.2 V458.7 M1701.8,451.2 V458.7 M1829.8,451.2 V458.7 M1957.8,451.2 V458.7 M1509.8,451.2 V455.2 M1637.8,451.2 V455.2 M1765.8,451.2 V455.2 M1893.8,451.2 V455.2" stroke="#222" stroke-width="1.8"/>
<text x="1431.3" y="461.4" text-anchor="end" style="font-family:'Liberation Sans',Arial,sans-serif;font-size:33px">0</text>
<text x="1431.3" y="353.2" text-anchor="end" style="font-family:'Liberation Sans',Arial,sans-serif;font-size:33px">5</text>
<text x="1431.3" y="244.9" text-anchor="end" style="font-family:'Liberation Sans',Arial,sans-serif;font-size:33px">10</text>
<text x="1431.3" y="136.7" text-anchor="end" style="font-family:'Liberation Sans',Arial,sans-serif;font-size:33px">15</text>
<text x="1431.3" y="28.5" text-anchor="end" style="font-family:'Liberation Sans',Arial,sans-serif;font-size:33px">20</text>
<text x="1445.8" y="485" text-anchor="middle" style="font-family:'Liberation Sans',Arial,sans-serif;font-size:25px">0.5</text>
<text x="1573.8" y="485" text-anchor="middle" style="font-family:'Liberation Sans',Arial,sans-serif;font-size:25px">1.0</text>
<text x="1701.8" y="485" text-anchor="middle" style="font-family:'Liberation Sans',Arial,sans-serif;font-size:25px">1.5</text>
<text x="1829.8" y="485" text-anchor="middle" style="font-family:'Liberation Sans',Arial,sans-serif;font-size:25px">2.0</text>
<text x="1957.8" y="485" text-anchor="middle" style="font-family:'Liberation Sans',Arial,sans-serif;font-size:25px">2.5</text>
<text x="1715" y="534.5" text-anchor="middle" style="font-family:'Liberation Sans',Arial,sans-serif;font-size:34px">Radial distance (Å)</text>
<text transform="translate(1384,235.5) rotate(-90)" text-anchor="middle" style="font-family:'Liberation Sans',Arial,sans-serif;font-size:34px">Potential (eV)</text>
<text x="1458" y="76.5" style="font-family:'Liberation Sans',Arial,sans-serif;font-size:56px">b)</text>
<path d="M1881.8,363.8 H1941" stroke="#000" stroke-width="5" stroke-linecap="round"/>
<text x="1949" y="372.8" style="font-family:'Liberation Serif',serif;font-size:26px" fill="#000">A</text>
<path d="M1881.8,396 H1941" stroke="#ff00ff" stroke-width="5" stroke-linecap="round"/>
<text x="1949" y="405" style="font-family:'Liberation Sans',Arial,sans-serif;font-size:26px" fill="#ff00ff">B</text>
<path d="M1881.8,428.6 H1941" stroke="#1ee81e" stroke-width="5" stroke-linecap="round"/>
<text x="1949" y="437.6" style="font-family:'Liberation Sans',Arial,sans-serif;font-size:26px" fill="#1ee81e">C</text>
<g clip-path="url(#cc)" fill="none" stroke-width="5" stroke-linejoin="round">
<path d="M1445.8,1008.7 L1447.0,1008.6 L1448.1,1008.6 L1449.2,1008.7 L1450.3,1008.7 L1451.4,1008.7 L1452.7,1008.5 L1454.0,1008.1 L1455.5,1007.5 L1457.2,1006.6 L1459.0,1005.6 L1460.9,1004.4 L1462.9,1003.0 L1464.9,1001.5 L1467.0,999.8 L1469.0,998.0 L1471.0,996.0 L1472.9,993.9 L1474.8,991.6 L1476.7,989.2 L1478.7,986.6 L1480.6,983.8 L1482.5,980.9 L1484.4,977.9 L1486.3,974.7 L1488.2,971.4 L1490.2,967.9 L1492.1,964.3 L1494.0,960.6 L1496.0,956.7 L1497.9,952.6 L1499.9,948.3 L1501.8,943.8 L1503.7,939.1 L1505.7,934.3 L1507.6,929.2 L1509.6,924.0 L1511.5,918.6 L1513.4,913.0 L1515.4,907.2 L1517.3,901.3 L1519.2,895.1 L1521.2,888.6 L1523.1,881.9 L1525.0,875.0 L1526.9,868.0 L1528.8,861.0 L1530.8,854.0 L1532.7,847.2 L1534.6,840.3 L1536.6,833.3 L1538.5,826.2 L1540.5,819.1 L1542.4,812.2 L1544.3,805.4 L1546.3,799.0 L1548.2,793.0 L1550.1,787.4 L1552.1,782.0 L1554.0,776.9 L1555.9,772.0 L1557.8,767.4 L1559.8,762.9 L1561.7,758.7 L1563.6,754.5 L1565.5,750.5 L1567.4,746.8 L1569.4,743.2 L1571.3,739.8 L1573.2,736.6 L1575.1,733.5 L1577.1,730.4 L1579.0,727.5 L1580.9,724.7 L1582.9,722.1 L1584.8,719.6 L1586.7,717.3 L1588.7,715.0 L1590.6,712.7 L1592.6,710.4 L1594.5,708.0 L1596.4,705.6 L1598.4,703.2 L1600.3,700.8 L1602.3,698.4 L1604.2,696.0 L1606.1,693.6 L1608.1,691.2 L1610.0,688.8 L1611.9,686.4 L1613.9,684.0 L1615.8,681.6 L1617.7,679.2 L1619.6,676.7 L1621.6,674.3 L1623.5,671.9 L1625.4,669.5 L1627.3,667.1 L1629.2,664.6 L1631.2,662.1 L1633.1,659.6 L1635.0,657.2 L1636.9,654.8 L1638.9,652.4 L1640.8,650.2 L1642.7,648.0 L1644.6,645.9 L1646.4,643.8 L1648.3,641.7 L1650.2,639.8 L1652.2,637.9 L1654.2,636.3 L1656.3,634.8 L1658.5,633.5 L1660.9,632.2 L1663.3,631.0 L1665.7,630.0 L1668.2,629.2 L1670.7,628.6 L1673.2,628.2 L1675.6,628.2 L1678.0,628.5 L1680.3,629.0 L1682.6,629.7 L1684.9,630.7 L1687.3,631.9 L1689.7,633.3 L1692.2,634.9 L1694.9,636.7 L1697.7,638.7 L1700.8,641.0 L1703.9,643.5 L1707.1,646.3 L1710.3,649.1 L1713.4,652.0 L1716.5,655.0 L1719.3,657.9 L1722.0,660.8 L1724.5,663.8 L1726.9,666.9 L1729.3,670.0 L1731.6,673.1 L1733.9,676.4 L1736.2,679.6 L1738.6,683.0 L1741.0,686.5 L1743.4,690.0 L1745.8,693.7 L1748.2,697.4 L1750.7,701.1 L1753.1,704.8 L1755.5,708.4 L1757.9,712.0 L1760.3,715.5 L1762.7,718.9 L1765.1,722.4 L1767.6,725.7 L1770.0,729.1 L1772.4,732.4 L1774.8,735.7 L1777.2,739.0 L1779.6,742.3 L1782.0,745.5 L1784.4,748.7 L1786.8,751.9 L1789.3,755.1 L1791.7,758.1 L1794.1,761.2 L1796.5,764.1 L1798.9,766.9 L1801.3,769.7 L1803.7,772.4 L1806.2,775.1 L1808.6,777.7 L1811.0,780.2 L1813.4,782.8 L1815.8,785.3 L1818.2,787.8 L1820.6,790.3 L1823.0,792.8 L1825.4,795.3 L1827.9,797.7 L1830.3,800.1 L1832.7,802.4 L1835.1,804.6 L1837.5,806.7 L1839.9,808.8 L1842.3,810.7 L1844.8,812.7 L1847.2,814.5 L1849.6,816.4 L1852.0,818.2 L1854.4,820.0 L1856.8,821.8 L1859.2,823.6 L1861.6,825.3 L1864.1,827.0 L1866.5,828.7 L1868.9,830.4 L1871.3,832.0 L1873.7,833.6 L1876.1,835.1 L1878.5,836.6 L1880.9,838.1 L1883.3,839.5 L1885.8,840.9 L1888.2,842.3 L1890.6,843.8 L1893.0,845.2 L1895.4,846.7 L1897.8,848.1 L1900.3,849.6 L1902.7,851.1 L1905.1,852.6 L1907.6,854.0 L1910.0,855.4 L1912.4,856.8 L1914.8,858.1 L1917.2,859.3 L1919.6,860.5 L1922.1,861.7 L1924.5,862.9 L1926.9,864.0 L1929.3,865.2 L1931.7,866.4 L1934.0,867.6 L1936.3,868.7 L1938.4,869.9 L1940.6,871.0 L1942.9,872.2 L1945.4,873.4 L1948.0,874.7 L1951.0,876.1 L1954.3,877.6 L1957.9,879.2 L1961.7,880.9 L1965.7,882.6 L1969.8,884.4 L1973.9,886.1 L1978.0,887.9 L1981.9,889.6" stroke="#1ee81e"/>
<path d="M1445.8,996.0 L1447.5,996.8 L1449.1,997.7 L1450.8,998.7 L1452.4,999.7 L1454.1,1000.5 L1455.8,1001.2 L1457.5,1001.6 L1459.3,1001.7 L1461.1,1001.5 L1463.0,1001.1 L1465.0,1000.5 L1466.9,999.7 L1468.9,998.6 L1470.9,997.3 L1472.9,995.8 L1474.8,994.0 L1476.7,991.9 L1478.7,989.5 L1480.6,986.8 L1482.5,983.8 L1484.4,980.7 L1486.3,977.5 L1488.3,974.2 L1490.2,970.8 L1492.1,967.3 L1494.1,963.7 L1496.0,960.0 L1498.0,956.1 L1499.9,952.2 L1501.8,948.2 L1503.8,944.1 L1505.7,940.0 L1507.6,935.8 L1509.6,931.4 L1511.5,927.0 L1513.4,922.5 L1515.3,918.0 L1517.2,913.6 L1519.2,909.2 L1521.1,905.0 L1523.0,900.9 L1524.9,896.9 L1526.7,893.0 L1528.6,889.1 L1530.5,885.3 L1532.5,881.5 L1534.5,877.8 L1536.6,874.2 L1538.8,870.6 L1541.2,867.1 L1543.6,863.6 L1546.0,860.2 L1548.5,856.9 L1551.0,853.6 L1553.5,850.4 L1555.9,847.2 L1558.3,844.1 L1560.7,840.9 L1563.1,837.8 L1565.6,834.8 L1568.0,831.8 L1570.4,829.0 L1572.8,826.4 L1575.2,824.0 L1577.6,821.8 L1579.9,819.7 L1582.3,817.9 L1584.6,816.1 L1587.0,814.5 L1589.4,813.1 L1591.9,811.7 L1594.5,810.5 L1597.2,809.4 L1600.0,808.4 L1602.9,807.6 L1605.9,806.9 L1608.8,806.4 L1611.8,805.9 L1614.8,805.6 L1617.7,805.5 L1620.6,805.5 L1623.5,805.7 L1626.4,806.0 L1629.3,806.4 L1632.1,807.0 L1635.0,807.6 L1637.9,808.4 L1640.8,809.3 L1643.7,810.3 L1646.5,811.5 L1649.3,812.8 L1652.2,814.1 L1655.0,815.6 L1657.9,817.1 L1660.9,818.7 L1664.0,820.2 L1667.2,821.8 L1670.4,823.4 L1673.6,825.1 L1676.9,826.8 L1680.3,828.5 L1683.8,830.3 L1687.4,832.0 L1691.0,833.7 L1694.8,835.4 L1698.9,837.1 L1703.1,838.9 L1707.3,840.6 L1711.6,842.4 L1715.7,844.0 L1719.6,845.6 L1723.2,847.1 L1726.5,848.5 L1729.4,849.8 L1732.2,851.1 L1734.8,852.3 L1737.5,853.5 L1740.2,854.6 L1743.1,855.7 L1746.3,856.8 L1749.7,857.9 L1753.3,858.9 L1757.0,859.8 L1760.8,860.8 L1764.7,861.7 L1768.8,862.6 L1772.9,863.6 L1777.2,864.5 L1781.7,865.5 L1786.3,866.4 L1791.1,867.3 L1796.0,868.3 L1801.0,869.2 L1806.0,870.2 L1810.9,871.2 L1815.8,872.2 L1820.6,873.3 L1825.5,874.3 L1830.3,875.4 L1835.1,876.6 L1839.9,877.7 L1844.7,878.8 L1849.6,880.0 L1854.4,881.1 L1859.2,882.2 L1864.0,883.4 L1868.9,884.5 L1873.7,885.7 L1878.5,886.9 L1883.3,888.0 L1888.2,889.2 L1893.0,890.3 L1897.8,891.4 L1902.4,892.5 L1907.0,893.6 L1911.6,894.6 L1916.3,895.7 L1921.2,896.8 L1926.3,898.0 L1931.7,899.2 L1937.4,900.5 L1943.4,901.8 L1949.7,903.1 L1956.1,904.5 L1962.6,905.9 L1969.1,907.3 L1975.5,908.6 L1981.9,910.0" stroke="#ff00ff"/>
<path d="M1445.8,988.2 L1448.0,985.1 L1450.2,981.9 L1452.4,978.8 L1454.6,975.7 L1456.8,972.6 L1459.0,969.4 L1461.1,966.2 L1463.2,963.0 L1465.2,959.7 L1467.2,956.5 L1469.1,953.2 L1471.0,949.9 L1472.9,946.5 L1474.8,943.1 L1476.7,939.6 L1478.6,936.0 L1480.5,932.3 L1482.4,928.3 L1484.4,924.3 L1486.3,920.2 L1488.2,916.2 L1490.1,912.3 L1492.1,908.5 L1494.0,905.0 L1495.9,901.7 L1497.8,898.6 L1499.6,895.5 L1501.5,892.6 L1503.4,889.9 L1505.4,887.2 L1507.4,884.6 L1509.5,882.0 L1511.7,879.6 L1514.1,877.3 L1516.5,875.2 L1518.9,873.2 L1521.4,871.2 L1523.9,869.1 L1526.4,866.9 L1528.8,864.6 L1531.2,862.1 L1533.6,859.6 L1536.0,857.0 L1538.4,854.3 L1540.8,851.6 L1543.2,848.9 L1545.6,846.1 L1548.0,843.3 L1550.4,840.5 L1552.9,837.7 L1555.3,834.8 L1557.7,831.9 L1560.2,828.9 L1562.6,826.0 L1565.1,823.0 L1567.5,820.0 L1569.9,816.9 L1572.3,813.7 L1574.8,810.5 L1577.2,807.2 L1579.6,804.0 L1582.0,800.9 L1584.4,797.9 L1586.8,795.0 L1589.2,792.2 L1591.7,789.5 L1594.3,786.7 L1596.8,784.1 L1599.2,781.7 L1601.6,779.4 L1603.9,777.4 L1606.0,775.7 L1608.0,774.3 L1609.8,773.1 L1611.5,772.1 L1613.2,771.4 L1614.8,770.8 L1616.3,770.4 L1617.9,770.2 L1619.6,770.0 L1621.2,769.9 L1622.8,769.9 L1624.4,770.1 L1625.9,770.3 L1627.5,770.8 L1629.2,771.5 L1631.0,772.5 L1633.0,773.8 L1635.1,775.4 L1637.4,777.2 L1639.8,779.4 L1642.3,781.7 L1644.9,784.3 L1647.4,787.0 L1649.9,789.9 L1652.4,793.0 L1654.8,796.2 L1657.0,799.7 L1659.2,803.3 L1661.5,807.0 L1663.8,811.0 L1666.2,815.2 L1668.9,819.5 L1671.7,824.0 L1674.9,828.8 L1678.4,834.1 L1682.0,839.6 L1685.8,845.2 L1689.7,850.8 L1693.3,856.3 L1696.8,861.6 L1700.0,866.4 L1702.8,870.8 L1705.5,875.0 L1707.9,879.0 L1710.2,882.8 L1712.5,886.5 L1714.7,890.1 L1716.9,893.7 L1719.3,897.3 L1721.7,900.9 L1724.1,904.5 L1726.5,908.0 L1728.9,911.4 L1731.4,914.8 L1733.8,918.0 L1736.2,921.2 L1738.6,924.3 L1741.0,927.3 L1743.4,930.2 L1745.8,933.1 L1748.2,935.8 L1750.7,938.4 L1753.1,941.0 L1755.5,943.4 L1757.9,945.6 L1760.3,947.7 L1762.5,949.6 L1764.8,951.3 L1767.1,953.0 L1769.4,954.5 L1771.8,956.0 L1774.4,957.5 L1777.2,959.0 L1780.2,960.5 L1783.3,962.0 L1786.6,963.5 L1790.0,965.0 L1793.5,966.4 L1797.0,967.7 L1800.6,968.9 L1804.2,969.9 L1807.8,970.8 L1811.5,971.6 L1815.2,972.3 L1818.9,972.8 L1822.8,973.3 L1826.7,973.8 L1830.8,974.1 L1835.1,974.5 L1839.6,974.8 L1844.2,975.0 L1849.0,975.1 L1853.9,975.2 L1858.9,975.3 L1863.9,975.3 L1868.8,975.3 L1873.7,975.3 L1878.3,975.3 L1882.6,975.2 L1886.9,975.1 L1891.1,975.0 L1895.6,974.9 L1900.6,974.8 L1906.1,974.6 L1912.4,974.5 L1919.6,974.4 L1927.6,974.2 L1936.2,974.1 L1945.2,974.0 L1954.5,973.8 L1963.8,973.7 L1973.0,973.5 L1981.9,973.4" stroke="#000"/>
</g>
<rect x="1445.6" y="587.3" width="536.4000000000001" height="433.5" fill="none" stroke="#222" stroke-width="1.8"/>
<path d="M1438.1,1021.3 H1445.6 M1438.1,934.5 H1445.6 M1438.1,847.7 H1445.6 M1438.1,760.9 H1445.6 M1438.1,674.1 H1445.6 M1438.1,587.3 H1445.6 M1441.6,977.9 H1445.6 M1441.6,891.1 H1445.6 M1441.6,804.3 H1445.6 M1441.6,717.5 H1445.6 M1441.6,630.7 H1445.6 M1486.3,1020.8 V1028.3 M1585.0,1020.8 V1028.3 M1683.7,1020.8 V1028.3 M1782.4,1020.8 V1028.3 M1881.1,1020.8 V1028.3 M1979.8,1020.8 V1028.3 M1535.6,1020.8 V1024.8 M1634.3,1020.8 V1024.8 M1733.0,1020.8 V1024.8 M1831.8,1020.8 V1024.8 M1930.4,1020.8 V1024.8" stroke="#222" stroke-width="1.8"/>
<text x="1433.3" y="1030.0" text-anchor="end" style="font-family:'Liberation Sans',Arial,sans-serif;font-size:27px">0.0</text>
<text x="1433.3" y="943.2" text-anchor="end" style="font-family:'Liberation Sans',Arial,sans-serif;font-size:27px">0.1</text>
<text x="1433.3" y="856.4" text-anchor="end" style="font-family:'Liberation Sans',Arial,sans-serif;font-size:27px">0.2</text>
<text x="1433.3" y="769.6" text-anchor="end" style="font-family:'Liberation Sans',Arial,sans-serif;font-size:27px">0.3</text>
<text x="1433.3" y="682.8" text-anchor="end" style="font-family:'Liberation Sans',Arial,sans-serif;font-size:27px">0.4</text>
<text x="1433.3" y="596.0" text-anchor="end" style="font-family:'Liberation Sans',Arial,sans-serif;font-size:27px">0.5</text>
<text x="1486.3" y="1055.2" text-anchor="middle" style="font-family:'Liberation Sans',Arial,sans-serif;font-size:27px">20</text>
<text x="1585.0" y="1055.2" text-anchor="middle" style="font-family:'Liberation Sans',Arial,sans-serif;font-size:27px">25</text>
<text x="1683.7" y="1055.2" text-anchor="middle" style="font-family:'Liberation Sans',Arial,sans-serif;font-size:27px">30</text>
<text x="1782.4" y="1055.2" text-anchor="middle" style="font-family:'Liberation Sans',Arial,sans-serif;font-size:27px">35</text>
<text x="1881.1" y="1055.2" text-anchor="middle" style="font-family:'Liberation Sans',Arial,sans-serif;font-size:27px">40</text>
<text x="1979.8" y="1055.2" text-anchor="middle" style="font-family:'Liberation Sans',Arial,sans-serif;font-size:27px">45</text>
<text x="1713" y="1103" text-anchor="middle" style="font-family:'Liberation Sans',Arial,sans-serif;font-size:34px">Photon Energy (eV)</text>
<text transform="translate(1384.5,803.5) rotate(-90)" text-anchor="middle" style="font-family:'Liberation Sans',Arial,sans-serif;font-size:34.7px">Phot. cross section (Mb)</text>
<text x="1462" y="642" style="font-family:'Liberation Sans',Arial,sans-serif;font-size:56px">c)</text>
<path d="M1884.6,612.4 H1945.2" stroke="#000" stroke-width="5" stroke-linecap="round"/>
<text x="1952" y="621.4" style="font-family:'Liberation Serif',serif;font-size:26px" fill="#000">A</text>
<path d="M1884.6,644.4 H1945.2" stroke="#ff00ff" stroke-width="5" stroke-linecap="round"/>
<text x="1952" y="653.4" style="font-family:'Liberation Sans',Arial,sans-serif;font-size:26px" fill="#ff00ff">B</text>
<path d="M1884.6,677.2 H1945.2" stroke="#1ee81e" stroke-width="5" stroke-linecap="round"/>
<text x="1952" y="686.2" style="font-family:'Liberation Sans',Arial,sans-serif;font-size:26px" fill="#1ee81e">C</text>
</svg></body></html>
